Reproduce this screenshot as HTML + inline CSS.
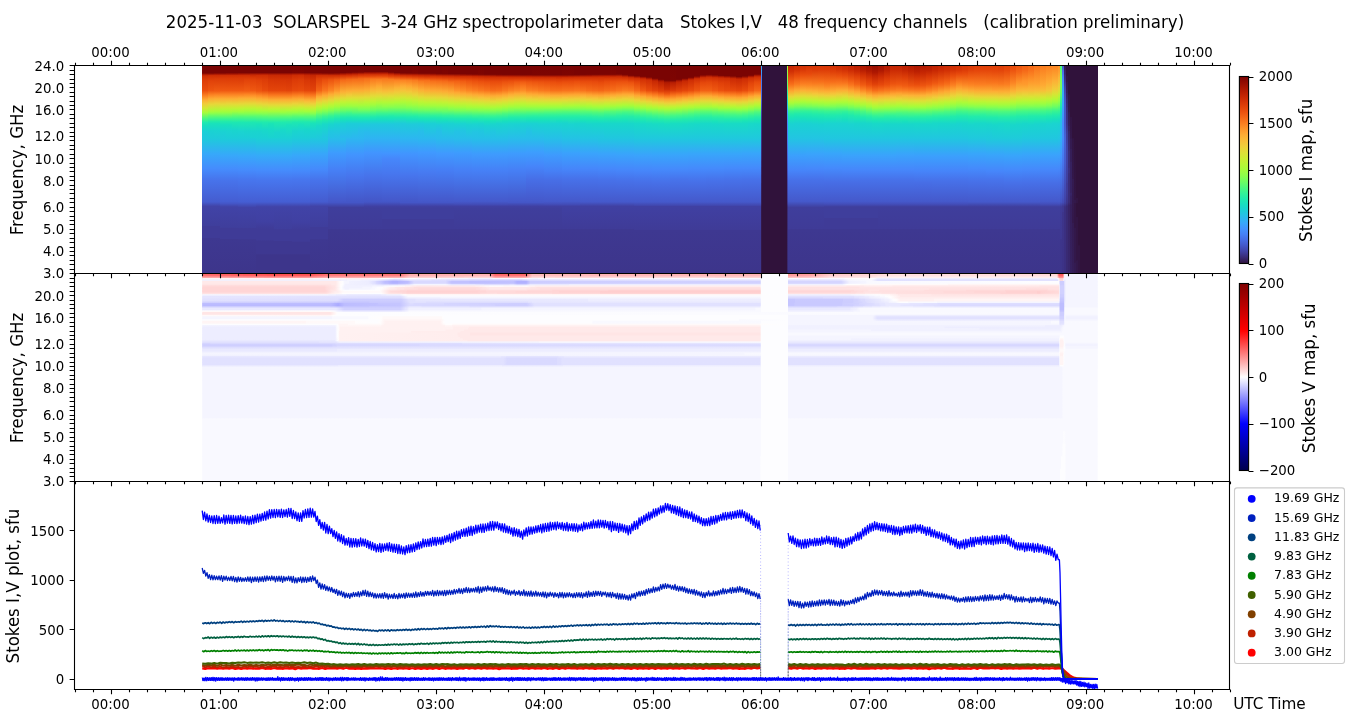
<!DOCTYPE html>
<html><head><meta charset="utf-8"><title>SOLARSPEL spectropolarimeter data</title>
<style>html,body{margin:0;padding:0;background:#fff}svg{display:block}</style></head>
<body>
<svg width="1350" height="725" viewBox="0 0 1350 725" font-family="DejaVu Sans, Liberation Sans, sans-serif" fill="#000">
<rect width="1350" height="725" fill="#fff"/>
<defs><linearGradient id="c0" x1="0" y1="0" x2="0" y2="1"><stop offset=".000" stop-color="#7a0403"/><stop offset=".099" stop-color="#7a0403"/><stop offset=".107" stop-color="#810602"/><stop offset=".130" stop-color="#be2102"/><stop offset=".145" stop-color="#d02f05"/><stop offset=".199" stop-color="#dd3d08"/><stop offset=".344" stop-color="#ea4e0d"/><stop offset=".413" stop-color="#fb7e21"/><stop offset=".474" stop-color="#fdac34"/><stop offset=".527" stop-color="#f1cb3a"/><stop offset=".588" stop-color="#d4e735"/><stop offset=".650" stop-color="#a7fc3a"/><stop offset=".726" stop-color="#4ef97d"/><stop offset=".787" stop-color="#1fe9af"/><stop offset=".833" stop-color="#18dec0"/><stop offset=".909" stop-color="#1bd0d5"/><stop offset="1.000" stop-color="#1fc9dd"/></linearGradient><linearGradient id="c1" x1="0" y1="0" x2="0" y2="1"><stop offset=".000" stop-color="#7a0403"/><stop offset=".099" stop-color="#7a0403"/><stop offset=".107" stop-color="#810602"/><stop offset=".138" stop-color="#ce2d04"/><stop offset=".153" stop-color="#d43305"/><stop offset=".214" stop-color="#e2430a"/><stop offset=".344" stop-color="#ed5510"/><stop offset=".405" stop-color="#fc8423"/><stop offset=".459" stop-color="#fdac34"/><stop offset=".535" stop-color="#e7d739"/><stop offset=".627" stop-color="#affa37"/><stop offset=".657" stop-color="#92ff47"/><stop offset=".695" stop-color="#61fc6c"/><stop offset=".772" stop-color="#22ebaa"/><stop offset=".802" stop-color="#19e2bb"/><stop offset=".902" stop-color="#1ad2d2"/><stop offset="1.000" stop-color="#1ecbda"/></linearGradient><linearGradient id="c2" x1="0" y1="0" x2="0" y2="1"><stop offset=".000" stop-color="#7a0403"/><stop offset=".099" stop-color="#7a0403"/><stop offset=".107" stop-color="#850702"/><stop offset=".122" stop-color="#af1801"/><stop offset=".138" stop-color="#ce2d04"/><stop offset=".183" stop-color="#dd3d08"/><stop offset=".352" stop-color="#f05b12"/><stop offset=".405" stop-color="#fc8725"/><stop offset=".459" stop-color="#fdae35"/><stop offset=".527" stop-color="#e9d539"/><stop offset=".627" stop-color="#acfb38"/><stop offset=".657" stop-color="#8fff49"/><stop offset=".718" stop-color="#4af880"/><stop offset=".772" stop-color="#22ebaa"/><stop offset=".802" stop-color="#19e2bb"/><stop offset=".894" stop-color="#1ad4d0"/><stop offset="1.000" stop-color="#1ecbda"/></linearGradient><linearGradient id="c3" x1="0" y1="0" x2="0" y2="1"><stop offset=".000" stop-color="#7a0403"/><stop offset=".099" stop-color="#7a0403"/><stop offset=".107" stop-color="#850702"/><stop offset=".138" stop-color="#d02f05"/><stop offset=".183" stop-color="#dd3d08"/><stop offset=".344" stop-color="#ef5811"/><stop offset=".405" stop-color="#fc8725"/><stop offset=".459" stop-color="#fdae35"/><stop offset=".535" stop-color="#e5d938"/><stop offset=".596" stop-color="#bef434"/><stop offset=".634" stop-color="#a4fc3c"/><stop offset=".657" stop-color="#8fff49"/><stop offset=".726" stop-color="#43f787"/><stop offset=".772" stop-color="#22ebaa"/><stop offset=".818" stop-color="#18e0bd"/><stop offset=".909" stop-color="#1ad2d2"/><stop offset="1.000" stop-color="#1ecbda"/></linearGradient><linearGradient id="c4" x1="0" y1="0" x2="0" y2="1"><stop offset=".000" stop-color="#7a0403"/><stop offset=".099" stop-color="#7a0403"/><stop offset=".115" stop-color="#9e1001"/><stop offset=".138" stop-color="#d02f05"/><stop offset=".176" stop-color="#dc3b07"/><stop offset=".344" stop-color="#ef5811"/><stop offset=".405" stop-color="#fc8725"/><stop offset=".459" stop-color="#fdae35"/><stop offset=".527" stop-color="#e7d739"/><stop offset=".588" stop-color="#c3f134"/><stop offset=".627" stop-color="#a9fb39"/><stop offset=".650" stop-color="#96fe44"/><stop offset=".726" stop-color="#43f787"/><stop offset=".772" stop-color="#22ebaa"/><stop offset=".818" stop-color="#18e0bd"/><stop offset=".902" stop-color="#1ad4d0"/><stop offset="1.000" stop-color="#1ccdd8"/></linearGradient><linearGradient id="c5" x1="0" y1="0" x2="0" y2="1"><stop offset=".000" stop-color="#7a0403"/><stop offset=".099" stop-color="#7a0403"/><stop offset=".115" stop-color="#9e1001"/><stop offset=".138" stop-color="#d02f05"/><stop offset=".176" stop-color="#dc3b07"/><stop offset=".344" stop-color="#ef5811"/><stop offset=".405" stop-color="#fc8725"/><stop offset=".459" stop-color="#fdae35"/><stop offset=".535" stop-color="#e3db38"/><stop offset=".588" stop-color="#c3f134"/><stop offset=".634" stop-color="#a1fd3d"/><stop offset=".695" stop-color="#5dfc6f"/><stop offset=".734" stop-color="#3cf58e"/><stop offset=".787" stop-color="#1de7b2"/><stop offset=".894" stop-color="#19d5cd"/><stop offset="1.000" stop-color="#1ccdd8"/></linearGradient><linearGradient id="c6" x1="0" y1="0" x2="0" y2="1"><stop offset=".000" stop-color="#7a0403"/><stop offset=".099" stop-color="#7a0403"/><stop offset=".122" stop-color="#b41b01"/><stop offset=".138" stop-color="#d02f05"/><stop offset=".168" stop-color="#da3907"/><stop offset=".344" stop-color="#ef5811"/><stop offset=".397" stop-color="#fb8122"/><stop offset=".451" stop-color="#fdac34"/><stop offset=".527" stop-color="#e7d739"/><stop offset=".588" stop-color="#c1f334"/><stop offset=".627" stop-color="#a7fc3a"/><stop offset=".650" stop-color="#92ff47"/><stop offset=".703" stop-color="#55fa76"/><stop offset=".764" stop-color="#27eea4"/><stop offset=".787" stop-color="#1de7b2"/><stop offset=".909" stop-color="#1ad4d0"/><stop offset="1.000" stop-color="#1ccdd8"/></linearGradient><linearGradient id="c7" x1="0" y1="0" x2="0" y2="1"><stop offset=".000" stop-color="#7a0403"/><stop offset=".099" stop-color="#7a0403"/><stop offset=".130" stop-color="#c52603"/><stop offset=".138" stop-color="#d02f05"/><stop offset=".160" stop-color="#d83706"/><stop offset=".199" stop-color="#e2430a"/><stop offset=".352" stop-color="#f15d13"/><stop offset=".397" stop-color="#fc8423"/><stop offset=".451" stop-color="#fdac34"/><stop offset=".527" stop-color="#e5d938"/><stop offset=".588" stop-color="#bef434"/><stop offset=".627" stop-color="#a4fc3c"/><stop offset=".665" stop-color="#80ff53"/><stop offset=".711" stop-color="#4ef97d"/><stop offset=".787" stop-color="#1de7b2"/><stop offset=".902" stop-color="#19d5cd"/><stop offset="1.000" stop-color="#1ccdd8"/></linearGradient><linearGradient id="c8" x1="0" y1="0" x2="0" y2="1"><stop offset=".000" stop-color="#7a0403"/><stop offset=".099" stop-color="#7a0403"/><stop offset=".130" stop-color="#c82803"/><stop offset=".160" stop-color="#d83706"/><stop offset=".199" stop-color="#e2430a"/><stop offset=".344" stop-color="#ef5811"/><stop offset=".413" stop-color="#fe9029"/><stop offset=".451" stop-color="#fdac34"/><stop offset=".527" stop-color="#e5d938"/><stop offset=".588" stop-color="#bef434"/><stop offset=".627" stop-color="#a4fc3c"/><stop offset=".665" stop-color="#80ff53"/><stop offset=".703" stop-color="#55fa76"/><stop offset=".764" stop-color="#27eea4"/><stop offset=".787" stop-color="#1de7b2"/><stop offset=".909" stop-color="#19d5cd"/><stop offset="1.000" stop-color="#1bd0d5"/></linearGradient><linearGradient id="c9" x1="0" y1="0" x2="0" y2="1"><stop offset=".000" stop-color="#7a0403"/><stop offset=".099" stop-color="#7a0403"/><stop offset=".122" stop-color="#b71d02"/><stop offset=".138" stop-color="#d02f05"/><stop offset=".206" stop-color="#e14109"/><stop offset=".352" stop-color="#ed5510"/><stop offset=".413" stop-color="#fd8a26"/><stop offset=".459" stop-color="#fdac34"/><stop offset=".520" stop-color="#ecd13a"/><stop offset=".581" stop-color="#c6f034"/><stop offset=".627" stop-color="#a7fc3a"/><stop offset=".657" stop-color="#8bff4b"/><stop offset=".695" stop-color="#5dfc6f"/><stop offset=".779" stop-color="#20eaac"/><stop offset=".810" stop-color="#19e3b9"/><stop offset=".909" stop-color="#19d5cd"/><stop offset="1.000" stop-color="#1bd0d5"/></linearGradient><linearGradient id="c10" x1="0" y1="0" x2="0" y2="1"><stop offset=".000" stop-color="#7a0403"/><stop offset=".099" stop-color="#7a0403"/><stop offset=".115" stop-color="#a71401"/><stop offset=".130" stop-color="#c82803"/><stop offset=".138" stop-color="#d02f05"/><stop offset=".199" stop-color="#dd3d08"/><stop offset=".344" stop-color="#e84b0c"/><stop offset=".420" stop-color="#fd8a26"/><stop offset=".466" stop-color="#fdae35"/><stop offset=".535" stop-color="#e7d739"/><stop offset=".619" stop-color="#affa37"/><stop offset=".665" stop-color="#84ff51"/><stop offset=".703" stop-color="#59fb73"/><stop offset=".764" stop-color="#2aefa1"/><stop offset=".787" stop-color="#1fe9af"/><stop offset=".886" stop-color="#18d9c8"/><stop offset="1.000" stop-color="#1bd0d5"/></linearGradient><linearGradient id="c11" x1="0" y1="0" x2="0" y2="1"><stop offset=".000" stop-color="#7a0403"/><stop offset=".099" stop-color="#7a0403"/><stop offset=".130" stop-color="#c32503"/><stop offset=".138" stop-color="#ca2a04"/><stop offset=".199" stop-color="#d83706"/><stop offset=".344" stop-color="#e4450a"/><stop offset=".405" stop-color="#f9751d"/><stop offset=".474" stop-color="#fdae35"/><stop offset=".543" stop-color="#e5d938"/><stop offset=".596" stop-color="#c1f334"/><stop offset=".634" stop-color="#a4fc3c"/><stop offset=".718" stop-color="#4ef97d"/><stop offset=".779" stop-color="#22ebaa"/><stop offset=".802" stop-color="#1ae4b6"/><stop offset=".879" stop-color="#18dbc5"/><stop offset="1.000" stop-color="#1ad2d2"/></linearGradient><linearGradient id="c12" x1="0" y1="0" x2="0" y2="1"><stop offset=".000" stop-color="#7a0403"/><stop offset=".099" stop-color="#7a0403"/><stop offset=".130" stop-color="#c32503"/><stop offset=".138" stop-color="#ca2a04"/><stop offset=".191" stop-color="#d63506"/><stop offset=".344" stop-color="#e4450a"/><stop offset=".405" stop-color="#f9751d"/><stop offset=".474" stop-color="#fdae35"/><stop offset=".543" stop-color="#e5d938"/><stop offset=".596" stop-color="#c1f334"/><stop offset=".634" stop-color="#a4fc3c"/><stop offset=".726" stop-color="#46f884"/><stop offset=".787" stop-color="#1fe9af"/><stop offset=".925" stop-color="#19d5cd"/><stop offset="1.000" stop-color="#1ad2d2"/></linearGradient><linearGradient id="c13" x1="0" y1="0" x2="0" y2="1"><stop offset=".000" stop-color="#7a0403"/><stop offset=".099" stop-color="#7a0403"/><stop offset=".122" stop-color="#b21a01"/><stop offset=".138" stop-color="#c82803"/><stop offset=".206" stop-color="#d83706"/><stop offset=".344" stop-color="#e4450a"/><stop offset=".413" stop-color="#fa7b1f"/><stop offset=".474" stop-color="#fdae35"/><stop offset=".543" stop-color="#e5d938"/><stop offset=".627" stop-color="#a9fb39"/><stop offset=".650" stop-color="#96fe44"/><stop offset=".703" stop-color="#59fb73"/><stop offset=".764" stop-color="#2aefa1"/><stop offset=".787" stop-color="#1fe9af"/><stop offset=".886" stop-color="#18d9c8"/><stop offset="1.000" stop-color="#1bd0d5"/></linearGradient><linearGradient id="c14" x1="0" y1="0" x2="0" y2="1"><stop offset=".000" stop-color="#7a0403"/><stop offset=".099" stop-color="#7a0403"/><stop offset=".122" stop-color="#b21a01"/><stop offset=".138" stop-color="#c82803"/><stop offset=".199" stop-color="#d63506"/><stop offset=".344" stop-color="#e2430a"/><stop offset=".413" stop-color="#fa7b1f"/><stop offset=".474" stop-color="#fdae35"/><stop offset=".543" stop-color="#e5d938"/><stop offset=".619" stop-color="#affa37"/><stop offset=".665" stop-color="#84ff51"/><stop offset=".711" stop-color="#52fa7a"/><stop offset=".772" stop-color="#25eca7"/><stop offset=".818" stop-color="#19e2bb"/><stop offset="1.000" stop-color="#1bd0d5"/></linearGradient><linearGradient id="c15" x1="0" y1="0" x2="0" y2="1"><stop offset=".000" stop-color="#7a0403"/><stop offset=".099" stop-color="#7e0502"/><stop offset=".130" stop-color="#c82803"/><stop offset=".138" stop-color="#ce2d04"/><stop offset=".199" stop-color="#dc3b07"/><stop offset=".344" stop-color="#e7490c"/><stop offset=".405" stop-color="#fa7b1f"/><stop offset=".459" stop-color="#fea732"/><stop offset=".527" stop-color="#ebd339"/><stop offset=".588" stop-color="#c3f134"/><stop offset=".627" stop-color="#a7fc3a"/><stop offset=".650" stop-color="#92ff47"/><stop offset=".703" stop-color="#55fa76"/><stop offset=".764" stop-color="#27eea4"/><stop offset=".787" stop-color="#1de7b2"/><stop offset=".902" stop-color="#19d5cd"/><stop offset="1.000" stop-color="#1ccdd8"/></linearGradient><linearGradient id="c16" x1="0" y1="0" x2="0" y2="1"><stop offset=".000" stop-color="#7a0403"/><stop offset=".099" stop-color="#7e0502"/><stop offset=".122" stop-color="#b91e02"/><stop offset=".130" stop-color="#ca2a04"/><stop offset=".138" stop-color="#d02f05"/><stop offset=".199" stop-color="#dd3d08"/><stop offset=".344" stop-color="#e84b0c"/><stop offset=".413" stop-color="#fc8423"/><stop offset=".466" stop-color="#fdae35"/><stop offset=".543" stop-color="#e1dd37"/><stop offset=".588" stop-color="#c1f334"/><stop offset=".627" stop-color="#a4fc3c"/><stop offset=".665" stop-color="#80ff53"/><stop offset=".718" stop-color="#46f884"/><stop offset=".772" stop-color="#22ebaa"/><stop offset=".810" stop-color="#19e2bb"/><stop offset=".909" stop-color="#1ad4d0"/><stop offset="1.000" stop-color="#1ccdd8"/></linearGradient><linearGradient id="c17" x1="0" y1="0" x2="0" y2="1"><stop offset=".000" stop-color="#7a0403"/><stop offset=".099" stop-color="#7a0403"/><stop offset=".122" stop-color="#b21a01"/><stop offset=".138" stop-color="#c82803"/><stop offset=".206" stop-color="#d83706"/><stop offset=".344" stop-color="#e4450a"/><stop offset=".405" stop-color="#f9751d"/><stop offset=".474" stop-color="#fdae35"/><stop offset=".504" stop-color="#f6c33a"/><stop offset=".558" stop-color="#dbe236"/><stop offset=".604" stop-color="#b9f635"/><stop offset=".634" stop-color="#a1fd3d"/><stop offset=".703" stop-color="#55fa76"/><stop offset=".779" stop-color="#1fe9af"/><stop offset=".879" stop-color="#18d7ca"/><stop offset="1.000" stop-color="#1ccdd8"/></linearGradient><linearGradient id="c18" x1="0" y1="0" x2="0" y2="1"><stop offset=".000" stop-color="#7a0403"/><stop offset=".099" stop-color="#7a0403"/><stop offset=".130" stop-color="#bc2002"/><stop offset=".138" stop-color="#c52603"/><stop offset=".199" stop-color="#d43305"/><stop offset=".344" stop-color="#e2430a"/><stop offset=".405" stop-color="#f8721c"/><stop offset=".474" stop-color="#fdac34"/><stop offset=".527" stop-color="#eecf3a"/><stop offset=".581" stop-color="#cbed34"/><stop offset=".627" stop-color="#a9fb39"/><stop offset=".665" stop-color="#84ff51"/><stop offset=".695" stop-color="#5dfc6f"/><stop offset=".734" stop-color="#3cf58e"/><stop offset=".779" stop-color="#1fe9af"/><stop offset=".802" stop-color="#19e2bb"/><stop offset=".909" stop-color="#1ad2d2"/><stop offset="1.000" stop-color="#1ecbda"/></linearGradient><linearGradient id="c19" x1="0" y1="0" x2="0" y2="1"><stop offset=".000" stop-color="#7a0403"/><stop offset=".099" stop-color="#7a0403"/><stop offset=".115" stop-color="#9e1001"/><stop offset=".138" stop-color="#d02f05"/><stop offset=".183" stop-color="#e14109"/><stop offset=".344" stop-color="#f36315"/><stop offset=".428" stop-color="#fea933"/><stop offset=".459" stop-color="#f9bc39"/><stop offset=".512" stop-color="#e3db38"/><stop offset=".565" stop-color="#c1f334"/><stop offset=".604" stop-color="#a4fc3c"/><stop offset=".650" stop-color="#79fe59"/><stop offset=".688" stop-color="#4ef97d"/><stop offset=".764" stop-color="#1fe9af"/><stop offset=".833" stop-color="#18d9c8"/><stop offset="1.000" stop-color="#1fc9dd"/></linearGradient><linearGradient id="c20" x1="0" y1="0" x2="0" y2="1"><stop offset=".000" stop-color="#7a0403"/><stop offset=".099" stop-color="#7a0403"/><stop offset=".107" stop-color="#850702"/><stop offset=".138" stop-color="#d02f05"/><stop offset=".199" stop-color="#ea4e0d"/><stop offset=".344" stop-color="#f9751d"/><stop offset=".413" stop-color="#fea933"/><stop offset=".489" stop-color="#e7d739"/><stop offset=".550" stop-color="#c1f334"/><stop offset=".588" stop-color="#a7fc3a"/><stop offset=".634" stop-color="#7dff56"/><stop offset=".703" stop-color="#38f491"/><stop offset=".749" stop-color="#20eaac"/><stop offset=".810" stop-color="#18d9c8"/><stop offset="1.000" stop-color="#22c5e2"/></linearGradient><linearGradient id="c21" x1="0" y1="0" x2="0" y2="1"><stop offset=".000" stop-color="#7a0403"/><stop offset=".099" stop-color="#7a0403"/><stop offset=".107" stop-color="#810602"/><stop offset=".138" stop-color="#ce2d04"/><stop offset=".199" stop-color="#ed5510"/><stop offset=".344" stop-color="#fc8423"/><stop offset=".397" stop-color="#fdac34"/><stop offset=".474" stop-color="#e7d739"/><stop offset=".535" stop-color="#c1f334"/><stop offset=".573" stop-color="#a7fc3a"/><stop offset=".619" stop-color="#80ff53"/><stop offset=".695" stop-color="#35f394"/><stop offset=".741" stop-color="#1fe9af"/><stop offset=".810" stop-color="#19d5cd"/><stop offset=".909" stop-color="#20c7df"/><stop offset="1.000" stop-color="#25c0e7"/></linearGradient><linearGradient id="c22" x1="0" y1="0" x2="0" y2="1"><stop offset=".000" stop-color="#7a0403"/><stop offset=".099" stop-color="#7a0403"/><stop offset=".115" stop-color="#980e01"/><stop offset=".138" stop-color="#ce2d04"/><stop offset=".199" stop-color="#f15d13"/><stop offset=".352" stop-color="#fe992c"/><stop offset=".374" stop-color="#fea933"/><stop offset=".451" stop-color="#e9d539"/><stop offset=".520" stop-color="#c1f334"/><stop offset=".565" stop-color="#a4fc3c"/><stop offset=".611" stop-color="#7dff56"/><stop offset=".688" stop-color="#32f298"/><stop offset=".734" stop-color="#1de7b2"/><stop offset=".810" stop-color="#1ad2d2"/><stop offset="1.000" stop-color="#27bee9"/></linearGradient><linearGradient id="c23" x1="0" y1="0" x2="0" y2="1"><stop offset=".000" stop-color="#7a0403"/><stop offset=".099" stop-color="#7a0403"/><stop offset=".122" stop-color="#b41b01"/><stop offset=".138" stop-color="#d23105"/><stop offset=".199" stop-color="#f56918"/><stop offset=".367" stop-color="#fcb136"/><stop offset=".451" stop-color="#e1dd37"/><stop offset=".504" stop-color="#c1f334"/><stop offset=".550" stop-color="#a4fc3c"/><stop offset=".619" stop-color="#69fd66"/><stop offset=".665" stop-color="#3cf58e"/><stop offset=".711" stop-color="#20eaac"/><stop offset=".749" stop-color="#18e0bd"/><stop offset=".802" stop-color="#1bd0d5"/><stop offset="1.000" stop-color="#2ab9ee"/></linearGradient><linearGradient id="c24" x1="0" y1="0" x2="0" y2="1"><stop offset=".000" stop-color="#7a0403"/><stop offset=".092" stop-color="#7a0403"/><stop offset=".099" stop-color="#810602"/><stop offset=".115" stop-color="#ac1701"/><stop offset=".130" stop-color="#cc2b04"/><stop offset=".153" stop-color="#e14109"/><stop offset=".191" stop-color="#f56918"/><stop offset=".352" stop-color="#fdae35"/><stop offset=".405" stop-color="#f1cb3a"/><stop offset=".459" stop-color="#d9e436"/><stop offset=".512" stop-color="#b9f635"/><stop offset=".558" stop-color="#9cfe40"/><stop offset=".611" stop-color="#6dfe62"/><stop offset=".657" stop-color="#3ff68a"/><stop offset=".718" stop-color="#1de7b2"/><stop offset=".757" stop-color="#18ddc2"/><stop offset=".802" stop-color="#1ccdd8"/><stop offset="1.000" stop-color="#2ab9ee"/></linearGradient><linearGradient id="c25" x1="0" y1="0" x2="0" y2="1"><stop offset=".000" stop-color="#7a0403"/><stop offset=".092" stop-color="#7a0403"/><stop offset=".115" stop-color="#b41b01"/><stop offset=".130" stop-color="#d02f05"/><stop offset=".191" stop-color="#f66c19"/><stop offset=".344" stop-color="#fdac34"/><stop offset=".443" stop-color="#e1dd37"/><stop offset=".504" stop-color="#bef434"/><stop offset=".558" stop-color="#9ffd3f"/><stop offset=".642" stop-color="#55fa76"/><stop offset=".680" stop-color="#32f298"/><stop offset=".711" stop-color="#20eaac"/><stop offset=".757" stop-color="#18dec0"/><stop offset=".802" stop-color="#1ccdd8"/><stop offset="1.000" stop-color="#2cb7f0"/></linearGradient><linearGradient id="c26" x1="0" y1="0" x2="0" y2="1"><stop offset=".000" stop-color="#7a0403"/><stop offset=".092" stop-color="#7e0502"/><stop offset=".122" stop-color="#cc2b04"/><stop offset=".145" stop-color="#e14109"/><stop offset=".183" stop-color="#f56918"/><stop offset=".344" stop-color="#fdac34"/><stop offset=".443" stop-color="#e1dd37"/><stop offset=".543" stop-color="#a9fb39"/><stop offset=".604" stop-color="#7dff56"/><stop offset=".680" stop-color="#32f298"/><stop offset=".718" stop-color="#1fe9af"/><stop offset=".757" stop-color="#18dec0"/><stop offset=".802" stop-color="#1ccdd8"/><stop offset=".902" stop-color="#27bee9"/><stop offset="1.000" stop-color="#2cb7f0"/></linearGradient><linearGradient id="c27" x1="0" y1="0" x2="0" y2="1"><stop offset=".000" stop-color="#7a0403"/><stop offset=".084" stop-color="#7a0403"/><stop offset=".099" stop-color="#9e1001"/><stop offset=".122" stop-color="#d02f05"/><stop offset=".153" stop-color="#e7490c"/><stop offset=".183" stop-color="#f76f1a"/><stop offset=".336" stop-color="#fdac34"/><stop offset=".436" stop-color="#e3db38"/><stop offset=".504" stop-color="#bef434"/><stop offset=".550" stop-color="#a4fc3c"/><stop offset=".604" stop-color="#7dff56"/><stop offset=".680" stop-color="#32f298"/><stop offset=".718" stop-color="#1fe9af"/><stop offset=".764" stop-color="#18dbc5"/><stop offset=".810" stop-color="#1ecbda"/><stop offset=".909" stop-color="#28bceb"/><stop offset="1.000" stop-color="#2eb4f2"/></linearGradient><linearGradient id="c28" x1="0" y1="0" x2="0" y2="1"><stop offset=".000" stop-color="#7a0403"/><stop offset=".084" stop-color="#7a0403"/><stop offset=".099" stop-color="#9e1001"/><stop offset=".122" stop-color="#d02f05"/><stop offset=".160" stop-color="#ed5510"/><stop offset=".176" stop-color="#f66c19"/><stop offset=".191" stop-color="#fa7b1f"/><stop offset=".329" stop-color="#fcb336"/><stop offset=".420" stop-color="#e3db38"/><stop offset=".489" stop-color="#c1f334"/><stop offset=".543" stop-color="#a1fd3d"/><stop offset=".611" stop-color="#6dfe62"/><stop offset=".650" stop-color="#46f884"/><stop offset=".711" stop-color="#1fe9af"/><stop offset=".757" stop-color="#18dbc5"/><stop offset=".810" stop-color="#1fc9dd"/><stop offset="1.000" stop-color="#2eb4f2"/></linearGradient><linearGradient id="c29" x1="0" y1="0" x2="0" y2="1"><stop offset=".000" stop-color="#7a0403"/><stop offset=".084" stop-color="#7a0403"/><stop offset=".107" stop-color="#b41b01"/><stop offset=".122" stop-color="#d02f05"/><stop offset=".160" stop-color="#ef5811"/><stop offset=".191" stop-color="#fb7e21"/><stop offset=".283" stop-color="#fea732"/><stop offset=".359" stop-color="#f6c33a"/><stop offset=".428" stop-color="#dde037"/><stop offset=".520" stop-color="#a9fb39"/><stop offset=".596" stop-color="#75fe5c"/><stop offset=".657" stop-color="#3cf58e"/><stop offset=".711" stop-color="#1de7b2"/><stop offset=".757" stop-color="#18dbc5"/><stop offset=".810" stop-color="#1fc9dd"/><stop offset="1.000" stop-color="#2eb4f2"/></linearGradient><linearGradient id="c30" x1="0" y1="0" x2="0" y2="1"><stop offset=".000" stop-color="#7a0403"/><stop offset=".084" stop-color="#7a0403"/><stop offset=".107" stop-color="#b41b01"/><stop offset=".122" stop-color="#d23105"/><stop offset=".153" stop-color="#ea4e0d"/><stop offset=".183" stop-color="#f9781e"/><stop offset=".352" stop-color="#f9bc39"/><stop offset=".405" stop-color="#e9d539"/><stop offset=".504" stop-color="#b4f836"/><stop offset=".565" stop-color="#8fff49"/><stop offset=".619" stop-color="#61fc6c"/><stop offset=".657" stop-color="#3cf58e"/><stop offset=".711" stop-color="#1de7b2"/><stop offset=".757" stop-color="#18dbc5"/><stop offset=".810" stop-color="#1fc9dd"/><stop offset="1.000" stop-color="#2eb4f2"/></linearGradient><linearGradient id="c31" x1="0" y1="0" x2="0" y2="1"><stop offset=".000" stop-color="#7a0403"/><stop offset=".092" stop-color="#7a0403"/><stop offset=".115" stop-color="#b71d02"/><stop offset=".130" stop-color="#d23105"/><stop offset=".153" stop-color="#e5470b"/><stop offset=".191" stop-color="#fa7b1f"/><stop offset=".352" stop-color="#f8be39"/><stop offset=".420" stop-color="#e1dd37"/><stop offset=".512" stop-color="#affa37"/><stop offset=".573" stop-color="#88ff4e"/><stop offset=".657" stop-color="#3cf58e"/><stop offset=".695" stop-color="#22ebaa"/><stop offset=".718" stop-color="#1ce6b4"/><stop offset=".764" stop-color="#18d9c8"/><stop offset=".810" stop-color="#1fc9dd"/><stop offset="1.000" stop-color="#2eb4f2"/></linearGradient><linearGradient id="c32" x1="0" y1="0" x2="0" y2="1"><stop offset=".000" stop-color="#7a0403"/><stop offset=".099" stop-color="#7a0403"/><stop offset=".122" stop-color="#b91e02"/><stop offset=".138" stop-color="#d43305"/><stop offset=".183" stop-color="#f56918"/><stop offset=".199" stop-color="#fb7e21"/><stop offset=".214" stop-color="#fc8725"/><stop offset=".306" stop-color="#fcb136"/><stop offset=".367" stop-color="#f2c93a"/><stop offset=".451" stop-color="#d0ea34"/><stop offset=".512" stop-color="#acfb38"/><stop offset=".581" stop-color="#80ff53"/><stop offset=".665" stop-color="#35f394"/><stop offset=".718" stop-color="#1ce6b4"/><stop offset=".802" stop-color="#1ecbda"/><stop offset="1.000" stop-color="#2eb4f2"/></linearGradient><linearGradient id="c33" x1="0" y1="0" x2="0" y2="1"><stop offset=".000" stop-color="#7a0403"/><stop offset=".099" stop-color="#7a0403"/><stop offset=".107" stop-color="#850702"/><stop offset=".138" stop-color="#d02f05"/><stop offset=".176" stop-color="#f05b12"/><stop offset=".206" stop-color="#fc8423"/><stop offset=".283" stop-color="#fdac34"/><stop offset=".344" stop-color="#f6c33a"/><stop offset=".436" stop-color="#d4e735"/><stop offset=".504" stop-color="#affa37"/><stop offset=".581" stop-color="#80ff53"/><stop offset=".680" stop-color="#2cf09e"/><stop offset=".718" stop-color="#1ce6b4"/><stop offset=".802" stop-color="#1ecbda"/><stop offset="1.000" stop-color="#2cb7f0"/></linearGradient><linearGradient id="c34" x1="0" y1="0" x2="0" y2="1"><stop offset=".000" stop-color="#7a0403"/><stop offset=".099" stop-color="#7a0403"/><stop offset=".107" stop-color="#810602"/><stop offset=".138" stop-color="#ce2d04"/><stop offset=".168" stop-color="#ea4e0d"/><stop offset=".206" stop-color="#fb8122"/><stop offset=".283" stop-color="#fea732"/><stop offset=".359" stop-color="#f4c73a"/><stop offset=".451" stop-color="#d0ea34"/><stop offset=".504" stop-color="#b1f936"/><stop offset=".550" stop-color="#99fe42"/><stop offset=".588" stop-color="#7dff56"/><stop offset=".665" stop-color="#38f491"/><stop offset=".711" stop-color="#1fe9af"/><stop offset=".757" stop-color="#18ddc2"/><stop offset=".810" stop-color="#1ecbda"/><stop offset="1.000" stop-color="#2cb7f0"/></linearGradient><linearGradient id="c35" x1="0" y1="0" x2="0" y2="1"><stop offset=".000" stop-color="#7a0403"/><stop offset=".107" stop-color="#7e0502"/><stop offset=".122" stop-color="#a91601"/><stop offset=".138" stop-color="#ca2a04"/><stop offset=".176" stop-color="#ec530f"/><stop offset=".206" stop-color="#fa7b1f"/><stop offset=".321" stop-color="#fcb136"/><stop offset=".405" stop-color="#e9d539"/><stop offset=".481" stop-color="#c3f134"/><stop offset=".543" stop-color="#a1fd3d"/><stop offset=".604" stop-color="#75fe5c"/><stop offset=".672" stop-color="#35f394"/><stop offset=".703" stop-color="#22ebaa"/><stop offset=".757" stop-color="#18ddc2"/><stop offset=".810" stop-color="#1ecbda"/><stop offset="1.000" stop-color="#2cb7f0"/></linearGradient><linearGradient id="c36" x1="0" y1="0" x2="0" y2="1"><stop offset=".000" stop-color="#7a0403"/><stop offset=".107" stop-color="#7a0403"/><stop offset=".138" stop-color="#c82803"/><stop offset=".176" stop-color="#ea4e0d"/><stop offset=".214" stop-color="#f9781e"/><stop offset=".336" stop-color="#fdae35"/><stop offset=".436" stop-color="#e1dd37"/><stop offset=".497" stop-color="#c1f334"/><stop offset=".543" stop-color="#a7fc3a"/><stop offset=".604" stop-color="#79fe59"/><stop offset=".680" stop-color="#32f298"/><stop offset=".718" stop-color="#1fe9af"/><stop offset=".757" stop-color="#18dec0"/><stop offset=".802" stop-color="#1ccdd8"/><stop offset=".909" stop-color="#27bee9"/><stop offset="1.000" stop-color="#2ab9ee"/></linearGradient><linearGradient id="c37" x1="0" y1="0" x2="0" y2="1"><stop offset=".000" stop-color="#7a0403"/><stop offset=".107" stop-color="#7a0403"/><stop offset=".138" stop-color="#c52603"/><stop offset=".176" stop-color="#e84b0c"/><stop offset=".206" stop-color="#f76f1a"/><stop offset=".344" stop-color="#fdac34"/><stop offset=".443" stop-color="#e1dd37"/><stop offset=".512" stop-color="#bcf534"/><stop offset=".550" stop-color="#a4fc3c"/><stop offset=".611" stop-color="#75fe5c"/><stop offset=".680" stop-color="#32f298"/><stop offset=".726" stop-color="#1de7b2"/><stop offset=".764" stop-color="#18ddc2"/><stop offset=".810" stop-color="#1ccdd8"/><stop offset="1.000" stop-color="#2ab9ee"/></linearGradient><linearGradient id="c38" x1="0" y1="0" x2="0" y2="1"><stop offset=".000" stop-color="#7a0403"/><stop offset=".107" stop-color="#7a0403"/><stop offset=".122" stop-color="#9e1001"/><stop offset=".145" stop-color="#d02f05"/><stop offset=".176" stop-color="#e7490c"/><stop offset=".214" stop-color="#f76f1a"/><stop offset=".344" stop-color="#fea933"/><stop offset=".443" stop-color="#e3db38"/><stop offset=".504" stop-color="#c1f334"/><stop offset=".558" stop-color="#a1fd3d"/><stop offset=".634" stop-color="#61fc6c"/><stop offset=".688" stop-color="#2ff19b"/><stop offset=".726" stop-color="#1de7b2"/><stop offset=".802" stop-color="#1bd0d5"/><stop offset="1.000" stop-color="#2ab9ee"/></linearGradient><linearGradient id="c39" x1="0" y1="0" x2="0" y2="1"><stop offset=".000" stop-color="#7a0403"/><stop offset=".107" stop-color="#7a0403"/><stop offset=".115" stop-color="#810602"/><stop offset=".145" stop-color="#ce2d04"/><stop offset=".183" stop-color="#ea4e0d"/><stop offset=".214" stop-color="#f66c19"/><stop offset=".352" stop-color="#fdac34"/><stop offset=".443" stop-color="#e5d938"/><stop offset=".504" stop-color="#c3f134"/><stop offset=".550" stop-color="#a7fc3a"/><stop offset=".611" stop-color="#79fe59"/><stop offset=".680" stop-color="#35f394"/><stop offset=".718" stop-color="#20eaac"/><stop offset=".764" stop-color="#18dec0"/><stop offset=".818" stop-color="#1ccdd8"/><stop offset=".909" stop-color="#25c0e7"/><stop offset="1.000" stop-color="#28bceb"/></linearGradient><linearGradient id="c40" x1="0" y1="0" x2="0" y2="1"><stop offset=".000" stop-color="#7a0403"/><stop offset=".115" stop-color="#7e0502"/><stop offset=".145" stop-color="#cc2b04"/><stop offset=".191" stop-color="#ec530f"/><stop offset=".214" stop-color="#f56918"/><stop offset=".359" stop-color="#fdac34"/><stop offset=".443" stop-color="#e7d739"/><stop offset=".512" stop-color="#c1f334"/><stop offset=".558" stop-color="#a4fc3c"/><stop offset=".634" stop-color="#65fd69"/><stop offset=".688" stop-color="#32f298"/><stop offset=".726" stop-color="#1fe9af"/><stop offset=".764" stop-color="#18dec0"/><stop offset=".810" stop-color="#1bd0d5"/><stop offset="1.000" stop-color="#28bceb"/></linearGradient><linearGradient id="c41" x1="0" y1="0" x2="0" y2="1"><stop offset=".000" stop-color="#7a0403"/><stop offset=".115" stop-color="#7a0403"/><stop offset=".145" stop-color="#ca2a04"/><stop offset=".176" stop-color="#e2430a"/><stop offset=".229" stop-color="#f66c19"/><stop offset=".374" stop-color="#fdae35"/><stop offset=".451" stop-color="#e7d739"/><stop offset=".520" stop-color="#c1f334"/><stop offset=".558" stop-color="#a7fc3a"/><stop offset=".604" stop-color="#84ff51"/><stop offset=".688" stop-color="#32f298"/><stop offset=".734" stop-color="#1de7b2"/><stop offset=".802" stop-color="#1ad2d2"/><stop offset="1.000" stop-color="#28bceb"/></linearGradient><linearGradient id="c42" x1="0" y1="0" x2="0" y2="1"><stop offset=".000" stop-color="#7a0403"/><stop offset=".115" stop-color="#7a0403"/><stop offset=".145" stop-color="#c52603"/><stop offset=".160" stop-color="#d63506"/><stop offset=".191" stop-color="#e84b0c"/><stop offset=".214" stop-color="#f26014"/><stop offset=".344" stop-color="#fe932a"/><stop offset=".374" stop-color="#fea933"/><stop offset=".451" stop-color="#ebd339"/><stop offset=".520" stop-color="#c3f134"/><stop offset=".573" stop-color="#a1fd3d"/><stop offset=".619" stop-color="#79fe59"/><stop offset=".688" stop-color="#35f394"/><stop offset=".726" stop-color="#20eaac"/><stop offset=".757" stop-color="#19e2bb"/><stop offset=".810" stop-color="#1ad2d2"/><stop offset=".909" stop-color="#23c3e4"/><stop offset="1.000" stop-color="#27bee9"/></linearGradient><linearGradient id="c43" x1="0" y1="0" x2="0" y2="1"><stop offset=".000" stop-color="#7a0403"/><stop offset=".115" stop-color="#7a0403"/><stop offset=".130" stop-color="#9e1001"/><stop offset=".153" stop-color="#d02f05"/><stop offset=".199" stop-color="#ea4e0d"/><stop offset=".214" stop-color="#f05b12"/><stop offset=".344" stop-color="#fd8d27"/><stop offset=".390" stop-color="#fdac34"/><stop offset=".466" stop-color="#e7d739"/><stop offset=".527" stop-color="#c3f134"/><stop offset=".573" stop-color="#a4fc3c"/><stop offset=".619" stop-color="#7dff56"/><stop offset=".688" stop-color="#38f491"/><stop offset=".734" stop-color="#1fe9af"/><stop offset=".802" stop-color="#1ad4d0"/><stop offset=".902" stop-color="#22c5e2"/><stop offset="1.000" stop-color="#27bee9"/></linearGradient><linearGradient id="c44" x1="0" y1="0" x2="0" y2="1"><stop offset=".000" stop-color="#7a0403"/><stop offset=".115" stop-color="#7a0403"/><stop offset=".122" stop-color="#850702"/><stop offset=".153" stop-color="#d02f05"/><stop offset=".183" stop-color="#e14109"/><stop offset=".214" stop-color="#ed5510"/><stop offset=".344" stop-color="#fc8423"/><stop offset=".397" stop-color="#fdac34"/><stop offset=".474" stop-color="#e5d938"/><stop offset=".535" stop-color="#c1f334"/><stop offset=".573" stop-color="#a7fc3a"/><stop offset=".604" stop-color="#8fff49"/><stop offset=".695" stop-color="#32f298"/><stop offset=".741" stop-color="#1de7b2"/><stop offset=".818" stop-color="#1ad2d2"/><stop offset="1.000" stop-color="#27bee9"/></linearGradient><linearGradient id="c45" x1="0" y1="0" x2="0" y2="1"><stop offset=".000" stop-color="#7a0403"/><stop offset=".115" stop-color="#7a0403"/><stop offset=".122" stop-color="#810602"/><stop offset=".138" stop-color="#ac1701"/><stop offset=".153" stop-color="#cc2b04"/><stop offset=".183" stop-color="#df3f08"/><stop offset=".214" stop-color="#eb500e"/><stop offset=".344" stop-color="#fb7e21"/><stop offset=".405" stop-color="#fdac34"/><stop offset=".481" stop-color="#e5d938"/><stop offset=".543" stop-color="#bef434"/><stop offset=".581" stop-color="#a4fc3c"/><stop offset=".627" stop-color="#79fe59"/><stop offset=".688" stop-color="#3cf58e"/><stop offset=".734" stop-color="#20eaac"/><stop offset=".764" stop-color="#19e2bb"/><stop offset=".810" stop-color="#1ad4d0"/><stop offset=".917" stop-color="#22c5e2"/><stop offset="1.000" stop-color="#25c0e7"/></linearGradient><linearGradient id="c46" x1="0" y1="0" x2="0" y2="1"><stop offset=".000" stop-color="#7a0403"/><stop offset=".122" stop-color="#7e0502"/><stop offset=".153" stop-color="#ca2a04"/><stop offset=".183" stop-color="#dd3d08"/><stop offset=".222" stop-color="#eb500e"/><stop offset=".344" stop-color="#f9781e"/><stop offset=".405" stop-color="#fea933"/><stop offset=".443" stop-color="#f7c13a"/><stop offset=".489" stop-color="#e3db38"/><stop offset=".543" stop-color="#c1f334"/><stop offset=".581" stop-color="#a4fc3c"/><stop offset=".619" stop-color="#84ff51"/><stop offset=".695" stop-color="#35f394"/><stop offset=".741" stop-color="#1fe9af"/><stop offset=".802" stop-color="#19d5cd"/><stop offset=".902" stop-color="#20c7df"/><stop offset="1.000" stop-color="#25c0e7"/></linearGradient><linearGradient id="c47" x1="0" y1="0" x2="0" y2="1"><stop offset=".000" stop-color="#7a0403"/><stop offset=".122" stop-color="#7a0403"/><stop offset=".153" stop-color="#c82803"/><stop offset=".183" stop-color="#dc3b07"/><stop offset=".229" stop-color="#eb500e"/><stop offset=".344" stop-color="#f8721c"/><stop offset=".405" stop-color="#fea431"/><stop offset=".451" stop-color="#f6c33a"/><stop offset=".489" stop-color="#e5d938"/><stop offset=".543" stop-color="#c3f134"/><stop offset=".588" stop-color="#a1fd3d"/><stop offset=".642" stop-color="#6dfe62"/><stop offset=".688" stop-color="#3cf58e"/><stop offset=".734" stop-color="#22ebaa"/><stop offset=".772" stop-color="#18e0bd"/><stop offset=".833" stop-color="#1ad2d2"/><stop offset="1.000" stop-color="#25c0e7"/></linearGradient><linearGradient id="c48" x1="0" y1="0" x2="0" y2="1"><stop offset=".000" stop-color="#7a0403"/><stop offset=".122" stop-color="#7a0403"/><stop offset=".153" stop-color="#c52603"/><stop offset=".168" stop-color="#d43305"/><stop offset=".222" stop-color="#e84b0c"/><stop offset=".344" stop-color="#f66c19"/><stop offset=".420" stop-color="#fdac34"/><stop offset=".497" stop-color="#e3db38"/><stop offset=".573" stop-color="#affa37"/><stop offset=".611" stop-color="#8fff49"/><stop offset=".695" stop-color="#38f491"/><stop offset=".734" stop-color="#22ebaa"/><stop offset=".764" stop-color="#19e3b9"/><stop offset=".810" stop-color="#19d5cd"/><stop offset=".909" stop-color="#20c7df"/><stop offset="1.000" stop-color="#25c0e7"/></linearGradient><linearGradient id="c49" x1="0" y1="0" x2="0" y2="1"><stop offset=".000" stop-color="#7a0403"/><stop offset=".122" stop-color="#7a0403"/><stop offset=".138" stop-color="#9e1001"/><stop offset=".160" stop-color="#d02f05"/><stop offset=".222" stop-color="#e84b0c"/><stop offset=".344" stop-color="#f76f1a"/><stop offset=".413" stop-color="#fea933"/><stop offset=".466" stop-color="#f1cb3a"/><stop offset=".512" stop-color="#d7e535"/><stop offset=".573" stop-color="#acfb38"/><stop offset=".611" stop-color="#8bff4b"/><stop offset=".695" stop-color="#35f394"/><stop offset=".741" stop-color="#1fe9af"/><stop offset=".802" stop-color="#19d5cd"/><stop offset="1.000" stop-color="#25c0e7"/></linearGradient><linearGradient id="c50" x1="0" y1="0" x2="0" y2="1"><stop offset=".000" stop-color="#7a0403"/><stop offset=".122" stop-color="#7a0403"/><stop offset=".130" stop-color="#850702"/><stop offset=".160" stop-color="#d02f05"/><stop offset=".183" stop-color="#dc3b07"/><stop offset=".229" stop-color="#ec530f"/><stop offset=".344" stop-color="#f9781e"/><stop offset=".405" stop-color="#fea933"/><stop offset=".451" stop-color="#f4c73a"/><stop offset=".489" stop-color="#e1dd37"/><stop offset=".535" stop-color="#c3f134"/><stop offset=".573" stop-color="#a7fc3a"/><stop offset=".619" stop-color="#7dff56"/><stop offset=".665" stop-color="#4af880"/><stop offset=".726" stop-color="#22ebaa"/><stop offset=".772" stop-color="#18dec0"/><stop offset=".810" stop-color="#1ad4d0"/><stop offset="1.000" stop-color="#25c0e7"/></linearGradient><linearGradient id="c51" x1="0" y1="0" x2="0" y2="1"><stop offset=".000" stop-color="#7a0403"/><stop offset=".122" stop-color="#7a0403"/><stop offset=".130" stop-color="#850702"/><stop offset=".145" stop-color="#af1801"/><stop offset=".160" stop-color="#ce2d04"/><stop offset=".214" stop-color="#ea4e0d"/><stop offset=".344" stop-color="#fb8122"/><stop offset=".397" stop-color="#fdac34"/><stop offset=".436" stop-color="#f6c33a"/><stop offset=".481" stop-color="#e1dd37"/><stop offset=".527" stop-color="#c3f134"/><stop offset=".565" stop-color="#a7fc3a"/><stop offset=".611" stop-color="#7dff56"/><stop offset=".680" stop-color="#38f491"/><stop offset=".718" stop-color="#22ebaa"/><stop offset=".757" stop-color="#19e2bb"/><stop offset=".802" stop-color="#1ad4d0"/><stop offset="1.000" stop-color="#27bee9"/></linearGradient><linearGradient id="c52" x1="0" y1="0" x2="0" y2="1"><stop offset=".000" stop-color="#7a0403"/><stop offset=".122" stop-color="#7a0403"/><stop offset=".130" stop-color="#850702"/><stop offset=".160" stop-color="#ce2d04"/><stop offset=".206" stop-color="#e84b0c"/><stop offset=".229" stop-color="#f05b12"/><stop offset=".344" stop-color="#fc8725"/><stop offset=".390" stop-color="#fdac34"/><stop offset=".466" stop-color="#e5d938"/><stop offset=".527" stop-color="#bef434"/><stop offset=".565" stop-color="#a4fc3c"/><stop offset=".588" stop-color="#92ff47"/><stop offset=".657" stop-color="#4af880"/><stop offset=".711" stop-color="#25eca7"/><stop offset=".749" stop-color="#19e3b9"/><stop offset=".810" stop-color="#1ad2d2"/><stop offset="1.000" stop-color="#27bee9"/></linearGradient><linearGradient id="c53" x1="0" y1="0" x2="0" y2="1"><stop offset=".000" stop-color="#7a0403"/><stop offset=".122" stop-color="#7a0403"/><stop offset=".130" stop-color="#810602"/><stop offset=".160" stop-color="#ce2d04"/><stop offset=".199" stop-color="#e5470b"/><stop offset=".229" stop-color="#f15d13"/><stop offset=".283" stop-color="#f9751d"/><stop offset=".344" stop-color="#fd8d27"/><stop offset=".382" stop-color="#fea933"/><stop offset=".459" stop-color="#e7d739"/><stop offset=".520" stop-color="#c1f334"/><stop offset=".558" stop-color="#a7fc3a"/><stop offset=".604" stop-color="#80ff53"/><stop offset=".680" stop-color="#35f394"/><stop offset=".726" stop-color="#1fe9af"/><stop offset=".802" stop-color="#1ad2d2"/><stop offset="1.000" stop-color="#27bee9"/></linearGradient><linearGradient id="c54" x1="0" y1="0" x2="0" y2="1"><stop offset=".000" stop-color="#7a0403"/><stop offset=".122" stop-color="#7a0403"/><stop offset=".130" stop-color="#810602"/><stop offset=".145" stop-color="#ac1701"/><stop offset=".160" stop-color="#cc2b04"/><stop offset=".176" stop-color="#d83706"/><stop offset=".229" stop-color="#ef5811"/><stop offset=".344" stop-color="#fb8122"/><stop offset=".390" stop-color="#fea732"/><stop offset=".436" stop-color="#f5c53a"/><stop offset=".474" stop-color="#e3db38"/><stop offset=".527" stop-color="#c1f334"/><stop offset=".565" stop-color="#a4fc3c"/><stop offset=".611" stop-color="#79fe59"/><stop offset=".642" stop-color="#55fa76"/><stop offset=".688" stop-color="#2ff19b"/><stop offset=".718" stop-color="#20eaac"/><stop offset=".757" stop-color="#18e0bd"/><stop offset=".802" stop-color="#1ad2d2"/><stop offset=".909" stop-color="#23c3e4"/><stop offset="1.000" stop-color="#27bee9"/></linearGradient><linearGradient id="c55" x1="0" y1="0" x2="0" y2="1"><stop offset=".000" stop-color="#7a0403"/><stop offset=".130" stop-color="#7e0502"/><stop offset=".160" stop-color="#cc2b04"/><stop offset=".199" stop-color="#e2430a"/><stop offset=".229" stop-color="#ed5510"/><stop offset=".344" stop-color="#fb7e21"/><stop offset=".397" stop-color="#fea933"/><stop offset=".466" stop-color="#e9d539"/><stop offset=".527" stop-color="#c1f334"/><stop offset=".565" stop-color="#a4fc3c"/><stop offset=".604" stop-color="#80ff53"/><stop offset=".657" stop-color="#46f884"/><stop offset=".695" stop-color="#2aefa1"/><stop offset=".718" stop-color="#20eaac"/><stop offset=".757" stop-color="#18e0bd"/><stop offset=".802" stop-color="#1ad2d2"/><stop offset="1.000" stop-color="#27bee9"/></linearGradient><linearGradient id="c56" x1="0" y1="0" x2="0" y2="1"><stop offset=".000" stop-color="#7a0403"/><stop offset=".130" stop-color="#7e0502"/><stop offset=".160" stop-color="#cc2b04"/><stop offset=".183" stop-color="#da3907"/><stop offset=".229" stop-color="#ec530f"/><stop offset=".344" stop-color="#f9781e"/><stop offset=".405" stop-color="#fdac34"/><stop offset=".436" stop-color="#f7c13a"/><stop offset=".489" stop-color="#dde037"/><stop offset=".535" stop-color="#bcf534"/><stop offset=".565" stop-color="#a4fc3c"/><stop offset=".596" stop-color="#88ff4e"/><stop offset=".672" stop-color="#38f491"/><stop offset=".718" stop-color="#20eaac"/><stop offset=".757" stop-color="#18e0bd"/><stop offset=".810" stop-color="#1ad2d2"/><stop offset="1.000" stop-color="#27bee9"/></linearGradient><linearGradient id="c57" x1="0" y1="0" x2="0" y2="1"><stop offset=".000" stop-color="#7a0403"/><stop offset=".130" stop-color="#7e0502"/><stop offset=".160" stop-color="#ca2a04"/><stop offset=".183" stop-color="#da3907"/><stop offset=".229" stop-color="#eb500e"/><stop offset=".344" stop-color="#f9751d"/><stop offset=".405" stop-color="#fea933"/><stop offset=".436" stop-color="#f8be39"/><stop offset=".481" stop-color="#e3db38"/><stop offset=".527" stop-color="#c3f134"/><stop offset=".565" stop-color="#a4fc3c"/><stop offset=".588" stop-color="#8fff49"/><stop offset=".642" stop-color="#52fa7a"/><stop offset=".680" stop-color="#32f298"/><stop offset=".718" stop-color="#20eaac"/><stop offset=".764" stop-color="#18dec0"/><stop offset=".810" stop-color="#1ad2d2"/><stop offset="1.000" stop-color="#25c0e7"/></linearGradient><linearGradient id="c58" x1="0" y1="0" x2="0" y2="1"><stop offset=".000" stop-color="#7a0403"/><stop offset=".130" stop-color="#7a0403"/><stop offset=".153" stop-color="#b91e02"/><stop offset=".168" stop-color="#d23105"/><stop offset=".229" stop-color="#ea4e0d"/><stop offset=".344" stop-color="#f76f1a"/><stop offset=".413" stop-color="#fdac34"/><stop offset=".474" stop-color="#e9d539"/><stop offset=".527" stop-color="#c3f134"/><stop offset=".565" stop-color="#a4fc3c"/><stop offset=".588" stop-color="#8fff49"/><stop offset=".650" stop-color="#4af880"/><stop offset=".680" stop-color="#32f298"/><stop offset=".718" stop-color="#20eaac"/><stop offset=".802" stop-color="#1ad4d0"/><stop offset="1.000" stop-color="#25c0e7"/></linearGradient><linearGradient id="c59" x1="0" y1="0" x2="0" y2="1"><stop offset=".000" stop-color="#7a0403"/><stop offset=".130" stop-color="#7a0403"/><stop offset=".145" stop-color="#a71401"/><stop offset=".160" stop-color="#c82803"/><stop offset=".191" stop-color="#dc3b07"/><stop offset=".237" stop-color="#ea4e0d"/><stop offset=".344" stop-color="#f76f1a"/><stop offset=".413" stop-color="#fdac34"/><stop offset=".474" stop-color="#e9d539"/><stop offset=".527" stop-color="#c3f134"/><stop offset=".565" stop-color="#a4fc3c"/><stop offset=".588" stop-color="#8fff49"/><stop offset=".627" stop-color="#5dfc6f"/><stop offset=".680" stop-color="#32f298"/><stop offset=".711" stop-color="#22ebaa"/><stop offset=".764" stop-color="#18dec0"/><stop offset=".802" stop-color="#1ad4d0"/><stop offset="1.000" stop-color="#25c0e7"/></linearGradient><linearGradient id="c60" x1="0" y1="0" x2="0" y2="1"><stop offset=".000" stop-color="#7a0403"/><stop offset=".130" stop-color="#7e0502"/><stop offset=".153" stop-color="#b91e02"/><stop offset=".168" stop-color="#d23105"/><stop offset=".229" stop-color="#ea4e0d"/><stop offset=".344" stop-color="#f8721c"/><stop offset=".405" stop-color="#fea732"/><stop offset=".443" stop-color="#f6c33a"/><stop offset=".481" stop-color="#e3db38"/><stop offset=".558" stop-color="#a9fb39"/><stop offset=".596" stop-color="#84ff51"/><stop offset=".634" stop-color="#55fa76"/><stop offset=".688" stop-color="#2cf09e"/><stop offset=".718" stop-color="#20eaac"/><stop offset=".795" stop-color="#19d5cd"/><stop offset="1.000" stop-color="#23c3e4"/></linearGradient><linearGradient id="c61" x1="0" y1="0" x2="0" y2="1"><stop offset=".000" stop-color="#7a0403"/><stop offset=".130" stop-color="#7e0502"/><stop offset=".160" stop-color="#cc2b04"/><stop offset=".183" stop-color="#da3907"/><stop offset=".222" stop-color="#e84b0c"/><stop offset=".344" stop-color="#f8721c"/><stop offset=".405" stop-color="#fea933"/><stop offset=".466" stop-color="#ebd339"/><stop offset=".550" stop-color="#affa37"/><stop offset=".588" stop-color="#8bff4b"/><stop offset=".642" stop-color="#4ef97d"/><stop offset=".688" stop-color="#2cf09e"/><stop offset=".718" stop-color="#20eaac"/><stop offset=".810" stop-color="#1ad4d0"/><stop offset="1.000" stop-color="#23c3e4"/></linearGradient><linearGradient id="c62" x1="0" y1="0" x2="0" y2="1"><stop offset=".000" stop-color="#7a0403"/><stop offset=".122" stop-color="#7a0403"/><stop offset=".130" stop-color="#810602"/><stop offset=".160" stop-color="#ce2d04"/><stop offset=".183" stop-color="#da3907"/><stop offset=".222" stop-color="#ea4e0d"/><stop offset=".344" stop-color="#f9751d"/><stop offset=".397" stop-color="#fea431"/><stop offset=".459" stop-color="#eecf3a"/><stop offset=".550" stop-color="#acfb38"/><stop offset=".588" stop-color="#8bff4b"/><stop offset=".642" stop-color="#4ef97d"/><stop offset=".688" stop-color="#2cf09e"/><stop offset=".718" stop-color="#20eaac"/><stop offset=".802" stop-color="#19d5cd"/><stop offset="1.000" stop-color="#23c3e4"/></linearGradient><linearGradient id="c63" x1="0" y1="0" x2="0" y2="1"><stop offset=".000" stop-color="#7a0403"/><stop offset=".122" stop-color="#7a0403"/><stop offset=".130" stop-color="#850702"/><stop offset=".160" stop-color="#d02f05"/><stop offset=".222" stop-color="#e84b0c"/><stop offset=".344" stop-color="#f8721c"/><stop offset=".405" stop-color="#fea933"/><stop offset=".436" stop-color="#f8be39"/><stop offset=".481" stop-color="#e3db38"/><stop offset=".558" stop-color="#a9fb39"/><stop offset=".604" stop-color="#7dff56"/><stop offset=".627" stop-color="#5dfc6f"/><stop offset=".703" stop-color="#27eea4"/><stop offset=".764" stop-color="#18e0bd"/><stop offset=".802" stop-color="#19d5cd"/><stop offset="1.000" stop-color="#22c5e2"/></linearGradient><linearGradient id="c64" x1="0" y1="0" x2="0" y2="1"><stop offset=".000" stop-color="#7a0403"/><stop offset=".122" stop-color="#7a0403"/><stop offset=".138" stop-color="#9e1001"/><stop offset=".160" stop-color="#d02f05"/><stop offset=".222" stop-color="#e84b0c"/><stop offset=".344" stop-color="#f66c19"/><stop offset=".405" stop-color="#fea431"/><stop offset=".466" stop-color="#eecf3a"/><stop offset=".527" stop-color="#c3f134"/><stop offset=".565" stop-color="#a4fc3c"/><stop offset=".596" stop-color="#88ff4e"/><stop offset=".634" stop-color="#59fb73"/><stop offset=".680" stop-color="#35f394"/><stop offset=".718" stop-color="#22ebaa"/><stop offset=".757" stop-color="#19e3b9"/><stop offset=".810" stop-color="#19d5cd"/><stop offset="1.000" stop-color="#22c5e2"/></linearGradient><linearGradient id="c65" x1="0" y1="0" x2="0" y2="1"><stop offset=".000" stop-color="#7a0403"/><stop offset=".122" stop-color="#7a0403"/><stop offset=".153" stop-color="#c52603"/><stop offset=".168" stop-color="#d43305"/><stop offset=".222" stop-color="#e7490c"/><stop offset=".344" stop-color="#f56918"/><stop offset=".413" stop-color="#fea732"/><stop offset=".451" stop-color="#f6c33a"/><stop offset=".489" stop-color="#e3db38"/><stop offset=".558" stop-color="#affa37"/><stop offset=".596" stop-color="#8bff4b"/><stop offset=".642" stop-color="#55fa76"/><stop offset=".703" stop-color="#2aefa1"/><stop offset=".757" stop-color="#19e3b9"/><stop offset=".802" stop-color="#18d7ca"/><stop offset="1.000" stop-color="#22c5e2"/></linearGradient><linearGradient id="c66" x1="0" y1="0" x2="0" y2="1"><stop offset=".000" stop-color="#7a0403"/><stop offset=".122" stop-color="#7a0403"/><stop offset=".145" stop-color="#b71d02"/><stop offset=".160" stop-color="#d02f05"/><stop offset=".168" stop-color="#d43305"/><stop offset=".237" stop-color="#e84b0c"/><stop offset=".344" stop-color="#f46617"/><stop offset=".413" stop-color="#fea431"/><stop offset=".481" stop-color="#e9d539"/><stop offset=".558" stop-color="#affa37"/><stop offset=".588" stop-color="#96fe44"/><stop offset=".657" stop-color="#4af880"/><stop offset=".718" stop-color="#25eca7"/><stop offset=".764" stop-color="#19e2bb"/><stop offset=".802" stop-color="#18d7ca"/><stop offset="1.000" stop-color="#22c5e2"/></linearGradient><linearGradient id="c67" x1="0" y1="0" x2="0" y2="1"><stop offset=".000" stop-color="#7a0403"/><stop offset=".122" stop-color="#7a0403"/><stop offset=".138" stop-color="#a71401"/><stop offset=".153" stop-color="#c82803"/><stop offset=".176" stop-color="#d83706"/><stop offset=".222" stop-color="#e84b0c"/><stop offset=".344" stop-color="#f66c19"/><stop offset=".413" stop-color="#fea933"/><stop offset=".474" stop-color="#ebd339"/><stop offset=".527" stop-color="#c6f034"/><stop offset=".565" stop-color="#a7fc3a"/><stop offset=".604" stop-color="#80ff53"/><stop offset=".634" stop-color="#59fb73"/><stop offset=".680" stop-color="#35f394"/><stop offset=".726" stop-color="#20eaac"/><stop offset=".802" stop-color="#18d7ca"/><stop offset="1.000" stop-color="#20c7df"/></linearGradient><linearGradient id="c68" x1="0" y1="0" x2="0" y2="1"><stop offset=".000" stop-color="#7a0403"/><stop offset=".122" stop-color="#7e0502"/><stop offset=".145" stop-color="#b91e02"/><stop offset=".160" stop-color="#d23105"/><stop offset=".222" stop-color="#ea4e0d"/><stop offset=".344" stop-color="#f76f1a"/><stop offset=".405" stop-color="#fea732"/><stop offset=".443" stop-color="#f6c33a"/><stop offset=".481" stop-color="#e3db38"/><stop offset=".558" stop-color="#a9fb39"/><stop offset=".596" stop-color="#84ff51"/><stop offset=".634" stop-color="#55fa76"/><stop offset=".711" stop-color="#25eca7"/><stop offset=".749" stop-color="#1ae4b6"/><stop offset=".802" stop-color="#18d7ca"/><stop offset="1.000" stop-color="#20c7df"/></linearGradient><linearGradient id="c69" x1="0" y1="0" x2="0" y2="1"><stop offset=".000" stop-color="#7a0403"/><stop offset=".115" stop-color="#7a0403"/><stop offset=".122" stop-color="#810602"/><stop offset=".153" stop-color="#cc2b04"/><stop offset=".183" stop-color="#dd3d08"/><stop offset=".229" stop-color="#ec530f"/><stop offset=".344" stop-color="#f9751d"/><stop offset=".405" stop-color="#fdac34"/><stop offset=".474" stop-color="#e5d938"/><stop offset=".550" stop-color="#acfb38"/><stop offset=".588" stop-color="#88ff4e"/><stop offset=".634" stop-color="#52fa7a"/><stop offset=".688" stop-color="#2cf09e"/><stop offset=".741" stop-color="#1ce6b4"/><stop offset=".802" stop-color="#18d7ca"/><stop offset="1.000" stop-color="#20c7df"/></linearGradient><linearGradient id="c70" x1="0" y1="0" x2="0" y2="1"><stop offset=".000" stop-color="#7a0403"/><stop offset=".122" stop-color="#7a0403"/><stop offset=".130" stop-color="#850702"/><stop offset=".160" stop-color="#ce2d04"/><stop offset=".183" stop-color="#dc3b07"/><stop offset=".222" stop-color="#eb500e"/><stop offset=".344" stop-color="#fa7b1f"/><stop offset=".397" stop-color="#fea933"/><stop offset=".459" stop-color="#ebd339"/><stop offset=".543" stop-color="#affa37"/><stop offset=".581" stop-color="#8bff4b"/><stop offset=".642" stop-color="#46f884"/><stop offset=".695" stop-color="#27eea4"/><stop offset=".757" stop-color="#19e2bb"/><stop offset=".802" stop-color="#18d7ca"/><stop offset="1.000" stop-color="#20c7df"/></linearGradient><linearGradient id="c71" x1="0" y1="0" x2="0" y2="1"><stop offset=".000" stop-color="#7a0403"/><stop offset=".130" stop-color="#7a0403"/><stop offset=".138" stop-color="#810602"/><stop offset=".168" stop-color="#ce2d04"/><stop offset=".191" stop-color="#da3907"/><stop offset=".237" stop-color="#ec530f"/><stop offset=".344" stop-color="#f9781e"/><stop offset=".397" stop-color="#fea933"/><stop offset=".428" stop-color="#f8be39"/><stop offset=".474" stop-color="#e3db38"/><stop offset=".550" stop-color="#a9fb39"/><stop offset=".588" stop-color="#84ff51"/><stop offset=".634" stop-color="#4ef97d"/><stop offset=".703" stop-color="#25eca7"/><stop offset=".802" stop-color="#18d7ca"/><stop offset="1.000" stop-color="#20c7df"/></linearGradient><linearGradient id="c72" x1="0" y1="0" x2="0" y2="1"><stop offset=".000" stop-color="#7a0403"/><stop offset=".138" stop-color="#7a0403"/><stop offset=".145" stop-color="#810602"/><stop offset=".168" stop-color="#be2102"/><stop offset=".176" stop-color="#ce2d04"/><stop offset=".183" stop-color="#d23105"/><stop offset=".229" stop-color="#e4450a"/><stop offset=".344" stop-color="#f56918"/><stop offset=".413" stop-color="#fea732"/><stop offset=".474" stop-color="#ebd339"/><stop offset=".558" stop-color="#acfb38"/><stop offset=".596" stop-color="#88ff4e"/><stop offset=".642" stop-color="#52fa7a"/><stop offset=".695" stop-color="#2cf09e"/><stop offset=".741" stop-color="#1de7b2"/><stop offset=".802" stop-color="#18d9c8"/><stop offset="1.000" stop-color="#1fc9dd"/></linearGradient><linearGradient id="c73" x1="0" y1="0" x2="0" y2="1"><stop offset=".000" stop-color="#7a0403"/><stop offset=".145" stop-color="#7a0403"/><stop offset=".153" stop-color="#810602"/><stop offset=".168" stop-color="#ac1701"/><stop offset=".183" stop-color="#cc2b04"/><stop offset=".199" stop-color="#d43305"/><stop offset=".344" stop-color="#ef5811"/><stop offset=".390" stop-color="#fc8423"/><stop offset=".428" stop-color="#fea933"/><stop offset=".497" stop-color="#e5d938"/><stop offset=".565" stop-color="#affa37"/><stop offset=".596" stop-color="#92ff47"/><stop offset=".627" stop-color="#69fd66"/><stop offset=".657" stop-color="#4ef97d"/><stop offset=".718" stop-color="#27eea4"/><stop offset=".772" stop-color="#19e2bb"/><stop offset=".810" stop-color="#18d9c8"/><stop offset="1.000" stop-color="#1fc9dd"/></linearGradient><linearGradient id="c74" x1="0" y1="0" x2="0" y2="1"><stop offset=".000" stop-color="#7a0403"/><stop offset=".160" stop-color="#7a0403"/><stop offset=".183" stop-color="#b41b01"/><stop offset=".199" stop-color="#d02f05"/><stop offset=".344" stop-color="#e84b0c"/><stop offset=".390" stop-color="#f9781e"/><stop offset=".436" stop-color="#fea431"/><stop offset=".497" stop-color="#ebd339"/><stop offset=".550" stop-color="#c3f134"/><stop offset=".581" stop-color="#a7fc3a"/><stop offset=".604" stop-color="#92ff47"/><stop offset=".657" stop-color="#55fa76"/><stop offset=".688" stop-color="#3cf58e"/><stop offset=".726" stop-color="#27eea4"/><stop offset=".802" stop-color="#18dbc5"/><stop offset="1.000" stop-color="#1fc9dd"/></linearGradient><linearGradient id="c75" x1="0" y1="0" x2="0" y2="1"><stop offset=".000" stop-color="#7a0403"/><stop offset=".176" stop-color="#7a0403"/><stop offset=".199" stop-color="#b21a01"/><stop offset=".214" stop-color="#c82803"/><stop offset=".344" stop-color="#e2430a"/><stop offset=".397" stop-color="#f9751d"/><stop offset=".451" stop-color="#fea933"/><stop offset=".512" stop-color="#e7d739"/><stop offset=".558" stop-color="#c3f134"/><stop offset=".588" stop-color="#a7fc3a"/><stop offset=".634" stop-color="#75fe5c"/><stop offset=".695" stop-color="#3cf58e"/><stop offset=".749" stop-color="#20eaac"/><stop offset=".810" stop-color="#18dbc5"/><stop offset="1.000" stop-color="#1fc9dd"/></linearGradient><linearGradient id="c76" x1="0" y1="0" x2="0" y2="1"><stop offset=".000" stop-color="#7a0403"/><stop offset=".191" stop-color="#7a0403"/><stop offset=".214" stop-color="#ac1701"/><stop offset=".229" stop-color="#be2102"/><stop offset=".352" stop-color="#df3f08"/><stop offset=".397" stop-color="#f56918"/><stop offset=".459" stop-color="#fea732"/><stop offset=".512" stop-color="#ecd13a"/><stop offset=".565" stop-color="#c3f134"/><stop offset=".596" stop-color="#a7fc3a"/><stop offset=".688" stop-color="#46f884"/><stop offset=".749" stop-color="#22ebaa"/><stop offset=".802" stop-color="#18ddc2"/><stop offset="1.000" stop-color="#1fc9dd"/></linearGradient><linearGradient id="c77" x1="0" y1="0" x2="0" y2="1"><stop offset=".000" stop-color="#7a0403"/><stop offset=".199" stop-color="#7a0403"/><stop offset=".206" stop-color="#7e0502"/><stop offset=".237" stop-color="#b21a01"/><stop offset=".329" stop-color="#ce2d04"/><stop offset=".390" stop-color="#ed5510"/><stop offset=".428" stop-color="#fb7e21"/><stop offset=".466" stop-color="#fea732"/><stop offset=".520" stop-color="#ecd13a"/><stop offset=".573" stop-color="#c1f334"/><stop offset=".604" stop-color="#a4fc3c"/><stop offset=".703" stop-color="#3ff68a"/><stop offset=".749" stop-color="#25eca7"/><stop offset=".810" stop-color="#18ddc2"/><stop offset="1.000" stop-color="#1fc9dd"/></linearGradient><linearGradient id="c78" x1="0" y1="0" x2="0" y2="1"><stop offset=".000" stop-color="#7a0403"/><stop offset=".206" stop-color="#7e0502"/><stop offset=".237" stop-color="#b91e02"/><stop offset=".344" stop-color="#da3907"/><stop offset=".405" stop-color="#f76f1a"/><stop offset=".466" stop-color="#fdac34"/><stop offset=".520" stop-color="#e9d539"/><stop offset=".565" stop-color="#c3f134"/><stop offset=".596" stop-color="#a7fc3a"/><stop offset=".688" stop-color="#46f884"/><stop offset=".749" stop-color="#22ebaa"/><stop offset=".802" stop-color="#18ddc2"/><stop offset="1.000" stop-color="#1fc9dd"/></linearGradient><linearGradient id="c79" x1="0" y1="0" x2="0" y2="1"><stop offset=".000" stop-color="#7a0403"/><stop offset=".191" stop-color="#7a0403"/><stop offset=".214" stop-color="#af1801"/><stop offset=".229" stop-color="#c32503"/><stop offset=".352" stop-color="#e2430a"/><stop offset=".397" stop-color="#f76f1a"/><stop offset=".451" stop-color="#fea431"/><stop offset=".504" stop-color="#eecf3a"/><stop offset=".558" stop-color="#c6f034"/><stop offset=".588" stop-color="#a9fb39"/><stop offset=".634" stop-color="#79fe59"/><stop offset=".688" stop-color="#43f787"/><stop offset=".741" stop-color="#25eca7"/><stop offset=".802" stop-color="#18ddc2"/><stop offset="1.000" stop-color="#1fc9dd"/></linearGradient><linearGradient id="c80" x1="0" y1="0" x2="0" y2="1"><stop offset=".000" stop-color="#7a0403"/><stop offset=".176" stop-color="#7a0403"/><stop offset=".199" stop-color="#af1801"/><stop offset=".214" stop-color="#c82803"/><stop offset=".344" stop-color="#e4450a"/><stop offset=".390" stop-color="#f76f1a"/><stop offset=".443" stop-color="#fea431"/><stop offset=".474" stop-color="#f8be39"/><stop offset=".512" stop-color="#e5d938"/><stop offset=".558" stop-color="#c1f334"/><stop offset=".588" stop-color="#a4fc3c"/><stop offset=".688" stop-color="#3ff68a"/><stop offset=".741" stop-color="#22ebaa"/><stop offset=".810" stop-color="#18dbc5"/><stop offset="1.000" stop-color="#1fc9dd"/></linearGradient><linearGradient id="c81" x1="0" y1="0" x2="0" y2="1"><stop offset=".000" stop-color="#7a0403"/><stop offset=".160" stop-color="#7a0403"/><stop offset=".168" stop-color="#850702"/><stop offset=".183" stop-color="#af1801"/><stop offset=".199" stop-color="#ce2d04"/><stop offset=".344" stop-color="#e84b0c"/><stop offset=".390" stop-color="#f9781e"/><stop offset=".436" stop-color="#fea431"/><stop offset=".497" stop-color="#ebd339"/><stop offset=".550" stop-color="#c1f334"/><stop offset=".581" stop-color="#a7fc3a"/><stop offset=".627" stop-color="#71fe5f"/><stop offset=".672" stop-color="#46f884"/><stop offset=".726" stop-color="#27eea4"/><stop offset=".802" stop-color="#18dbc5"/><stop offset="1.000" stop-color="#1fc9dd"/></linearGradient><linearGradient id="c82" x1="0" y1="0" x2="0" y2="1"><stop offset=".000" stop-color="#7a0403"/><stop offset=".145" stop-color="#7a0403"/><stop offset=".160" stop-color="#9e1001"/><stop offset=".183" stop-color="#d02f05"/><stop offset=".252" stop-color="#e2430a"/><stop offset=".344" stop-color="#ed5510"/><stop offset=".397" stop-color="#fd8a26"/><stop offset=".436" stop-color="#fdac34"/><stop offset=".489" stop-color="#ebd339"/><stop offset=".543" stop-color="#c3f134"/><stop offset=".581" stop-color="#a1fd3d"/><stop offset=".634" stop-color="#61fc6c"/><stop offset=".680" stop-color="#3cf58e"/><stop offset=".718" stop-color="#27eea4"/><stop offset=".757" stop-color="#1ce6b4"/><stop offset=".810" stop-color="#18d9c8"/><stop offset="1.000" stop-color="#1fc9dd"/></linearGradient><linearGradient id="c83" x1="0" y1="0" x2="0" y2="1"><stop offset=".000" stop-color="#7a0403"/><stop offset=".130" stop-color="#7a0403"/><stop offset=".145" stop-color="#9e1001"/><stop offset=".168" stop-color="#d02f05"/><stop offset=".237" stop-color="#e5470b"/><stop offset=".344" stop-color="#f26014"/><stop offset=".420" stop-color="#fea933"/><stop offset=".489" stop-color="#e5d938"/><stop offset=".565" stop-color="#a9fb39"/><stop offset=".596" stop-color="#8bff4b"/><stop offset=".627" stop-color="#61fc6c"/><stop offset=".688" stop-color="#32f298"/><stop offset=".718" stop-color="#25eca7"/><stop offset=".802" stop-color="#18d9c8"/><stop offset="1.000" stop-color="#1fc9dd"/></linearGradient><linearGradient id="c84" x1="0" y1="0" x2="0" y2="1"><stop offset=".000" stop-color="#7a0403"/><stop offset=".122" stop-color="#7a0403"/><stop offset=".130" stop-color="#850702"/><stop offset=".160" stop-color="#ce2d04"/><stop offset=".168" stop-color="#d23105"/><stop offset=".229" stop-color="#e5470b"/><stop offset=".344" stop-color="#f26014"/><stop offset=".420" stop-color="#fea933"/><stop offset=".489" stop-color="#e5d938"/><stop offset=".565" stop-color="#a9fb39"/><stop offset=".604" stop-color="#80ff53"/><stop offset=".627" stop-color="#61fc6c"/><stop offset=".688" stop-color="#32f298"/><stop offset=".718" stop-color="#25eca7"/><stop offset=".802" stop-color="#18d9c8"/><stop offset="1.000" stop-color="#1fc9dd"/></linearGradient><linearGradient id="c85" x1="0" y1="0" x2="0" y2="1"><stop offset=".000" stop-color="#7a0403"/><stop offset=".130" stop-color="#7a0403"/><stop offset=".153" stop-color="#b41b01"/><stop offset=".168" stop-color="#d02f05"/><stop offset=".229" stop-color="#e2430a"/><stop offset=".344" stop-color="#ef5811"/><stop offset=".390" stop-color="#fc8423"/><stop offset=".428" stop-color="#fea933"/><stop offset=".489" stop-color="#e9d539"/><stop offset=".543" stop-color="#c1f334"/><stop offset=".573" stop-color="#a7fc3a"/><stop offset=".642" stop-color="#59fb73"/><stop offset=".711" stop-color="#2aefa1"/><stop offset=".772" stop-color="#19e2bb"/><stop offset=".810" stop-color="#18d9c8"/><stop offset="1.000" stop-color="#1fc9dd"/></linearGradient><linearGradient id="c86" x1="0" y1="0" x2="0" y2="1"><stop offset=".000" stop-color="#7a0403"/><stop offset=".130" stop-color="#7a0403"/><stop offset=".138" stop-color="#7e0502"/><stop offset=".160" stop-color="#bc2002"/><stop offset=".176" stop-color="#d02f05"/><stop offset=".245" stop-color="#e14109"/><stop offset=".344" stop-color="#eb500e"/><stop offset=".397" stop-color="#fc8423"/><stop offset=".436" stop-color="#fea933"/><stop offset=".466" stop-color="#f7c13a"/><stop offset=".504" stop-color="#e3db38"/><stop offset=".573" stop-color="#a9fb39"/><stop offset=".596" stop-color="#96fe44"/><stop offset=".642" stop-color="#5dfc6f"/><stop offset=".688" stop-color="#38f491"/><stop offset=".726" stop-color="#25eca7"/><stop offset=".810" stop-color="#18d9c8"/><stop offset="1.000" stop-color="#1fc9dd"/></linearGradient><linearGradient id="c87" x1="0" y1="0" x2="0" y2="1"><stop offset=".000" stop-color="#7a0403"/><stop offset=".138" stop-color="#7a0403"/><stop offset=".145" stop-color="#850702"/><stop offset=".160" stop-color="#af1801"/><stop offset=".176" stop-color="#ce2d04"/><stop offset=".229" stop-color="#dc3b07"/><stop offset=".344" stop-color="#e84b0c"/><stop offset=".397" stop-color="#fb7e21"/><stop offset=".436" stop-color="#fea431"/><stop offset=".489" stop-color="#efcd3a"/><stop offset=".527" stop-color="#d4e735"/><stop offset=".581" stop-color="#a7fc3a"/><stop offset=".627" stop-color="#71fe5f"/><stop offset=".672" stop-color="#46f884"/><stop offset=".741" stop-color="#20eaac"/><stop offset=".802" stop-color="#18dbc5"/><stop offset="1.000" stop-color="#1fc9dd"/></linearGradient><linearGradient id="c88" x1="0" y1="0" x2="0" y2="1"><stop offset=".000" stop-color="#7a0403"/><stop offset=".145" stop-color="#7a0403"/><stop offset=".176" stop-color="#c32503"/><stop offset=".183" stop-color="#cc2b04"/><stop offset=".344" stop-color="#e7490c"/><stop offset=".397" stop-color="#fa7b1f"/><stop offset=".443" stop-color="#fea732"/><stop offset=".504" stop-color="#e9d539"/><stop offset=".550" stop-color="#c6f034"/><stop offset=".581" stop-color="#a9fb39"/><stop offset=".611" stop-color="#8bff4b"/><stop offset=".627" stop-color="#75fe5c"/><stop offset=".680" stop-color="#43f787"/><stop offset=".734" stop-color="#25eca7"/><stop offset=".802" stop-color="#18dbc5"/><stop offset="1.000" stop-color="#1fc9dd"/></linearGradient><linearGradient id="c89" x1="0" y1="0" x2="0" y2="1"><stop offset=".000" stop-color="#7a0403"/><stop offset=".153" stop-color="#7a0403"/><stop offset=".176" stop-color="#b41b01"/><stop offset=".191" stop-color="#ca2a04"/><stop offset=".344" stop-color="#e4450a"/><stop offset=".390" stop-color="#f76f1a"/><stop offset=".443" stop-color="#fea431"/><stop offset=".504" stop-color="#ebd339"/><stop offset=".581" stop-color="#acfb38"/><stop offset=".611" stop-color="#8fff49"/><stop offset=".634" stop-color="#71fe5f"/><stop offset=".688" stop-color="#3ff68a"/><stop offset=".741" stop-color="#22ebaa"/><stop offset=".802" stop-color="#18dbc5"/><stop offset="1.000" stop-color="#1fc9dd"/></linearGradient><linearGradient id="c90" x1="0" y1="0" x2="0" y2="1"><stop offset=".000" stop-color="#7a0403"/><stop offset=".145" stop-color="#7a0403"/><stop offset=".176" stop-color="#c32503"/><stop offset=".183" stop-color="#ce2d04"/><stop offset=".344" stop-color="#e84b0c"/><stop offset=".397" stop-color="#fb7e21"/><stop offset=".443" stop-color="#fea933"/><stop offset=".504" stop-color="#e7d739"/><stop offset=".573" stop-color="#affa37"/><stop offset=".604" stop-color="#92ff47"/><stop offset=".657" stop-color="#55fa76"/><stop offset=".688" stop-color="#3cf58e"/><stop offset=".726" stop-color="#27eea4"/><stop offset=".764" stop-color="#1ae4b6"/><stop offset=".802" stop-color="#18dbc5"/><stop offset="1.000" stop-color="#1fc9dd"/></linearGradient><linearGradient id="c91" x1="0" y1="0" x2="0" y2="1"><stop offset=".000" stop-color="#7a0403"/><stop offset=".130" stop-color="#7a0403"/><stop offset=".138" stop-color="#850702"/><stop offset=".153" stop-color="#af1801"/><stop offset=".168" stop-color="#ce2d04"/><stop offset=".176" stop-color="#d23105"/><stop offset=".245" stop-color="#e4450a"/><stop offset=".344" stop-color="#ef5811"/><stop offset=".390" stop-color="#fc8423"/><stop offset=".428" stop-color="#fea933"/><stop offset=".489" stop-color="#e9d539"/><stop offset=".565" stop-color="#acfb38"/><stop offset=".604" stop-color="#88ff4e"/><stop offset=".642" stop-color="#59fb73"/><stop offset=".688" stop-color="#35f394"/><stop offset=".734" stop-color="#20eaac"/><stop offset=".802" stop-color="#18d9c8"/><stop offset="1.000" stop-color="#1fc9dd"/></linearGradient><linearGradient id="c92" x1="0" y1="0" x2="0" y2="1"><stop offset=".000" stop-color="#7a0403"/><stop offset=".115" stop-color="#7a0403"/><stop offset=".122" stop-color="#810602"/><stop offset=".145" stop-color="#be2102"/><stop offset=".160" stop-color="#d23105"/><stop offset=".229" stop-color="#e84b0c"/><stop offset=".344" stop-color="#f46617"/><stop offset=".413" stop-color="#fea732"/><stop offset=".474" stop-color="#ebd339"/><stop offset=".527" stop-color="#c3f134"/><stop offset=".558" stop-color="#a9fb39"/><stop offset=".596" stop-color="#84ff51"/><stop offset=".642" stop-color="#4ef97d"/><stop offset=".711" stop-color="#25eca7"/><stop offset=".757" stop-color="#19e3b9"/><stop offset=".810" stop-color="#18d7ca"/><stop offset="1.000" stop-color="#1fc9dd"/></linearGradient><linearGradient id="c93" x1="0" y1="0" x2="0" y2="1"><stop offset=".000" stop-color="#c52603"/><stop offset=".076" stop-color="#d02f05"/><stop offset=".222" stop-color="#f26014"/><stop offset=".260" stop-color="#f76f1a"/><stop offset=".352" stop-color="#fea732"/><stop offset=".428" stop-color="#e7d739"/><stop offset=".481" stop-color="#c3f134"/><stop offset=".520" stop-color="#a7fc3a"/><stop offset=".573" stop-color="#75fe5c"/><stop offset=".627" stop-color="#38f491"/><stop offset=".680" stop-color="#20eaac"/><stop offset=".726" stop-color="#19e2bb"/><stop offset=".810" stop-color="#1ad2d2"/><stop offset="1.000" stop-color="#22c5e2"/></linearGradient><linearGradient id="c94" x1="0" y1="0" x2="0" y2="1"><stop offset=".000" stop-color="#ce2d04"/><stop offset=".061" stop-color="#d43305"/><stop offset=".145" stop-color="#ea4e0d"/><stop offset=".260" stop-color="#fa7b1f"/><stop offset=".344" stop-color="#fdac34"/><stop offset=".420" stop-color="#e5d938"/><stop offset=".474" stop-color="#c3f134"/><stop offset=".512" stop-color="#a7fc3a"/><stop offset=".565" stop-color="#75fe5c"/><stop offset=".619" stop-color="#3cf58e"/><stop offset=".665" stop-color="#22ebaa"/><stop offset=".711" stop-color="#19e3b9"/><stop offset=".802" stop-color="#1ad2d2"/><stop offset="1.000" stop-color="#22c5e2"/></linearGradient><linearGradient id="c95" x1="0" y1="0" x2="0" y2="1"><stop offset=".000" stop-color="#d23105"/><stop offset=".053" stop-color="#d83706"/><stop offset=".130" stop-color="#ea4e0d"/><stop offset=".252" stop-color="#fb7e21"/><stop offset=".344" stop-color="#fcb136"/><stop offset=".420" stop-color="#e1dd37"/><stop offset=".474" stop-color="#bef434"/><stop offset=".504" stop-color="#a7fc3a"/><stop offset=".558" stop-color="#79fe59"/><stop offset=".627" stop-color="#32f298"/><stop offset=".665" stop-color="#22ebaa"/><stop offset=".726" stop-color="#18e0bd"/><stop offset=".802" stop-color="#1ad2d2"/><stop offset="1.000" stop-color="#22c5e2"/></linearGradient><linearGradient id="c96" x1="0" y1="0" x2="0" y2="1"><stop offset=".000" stop-color="#d43305"/><stop offset=".115" stop-color="#e7490c"/><stop offset=".267" stop-color="#fc8423"/><stop offset=".344" stop-color="#fdae35"/><stop offset=".420" stop-color="#e3db38"/><stop offset=".474" stop-color="#c1f334"/><stop offset=".512" stop-color="#a4fc3c"/><stop offset=".565" stop-color="#75fe5c"/><stop offset=".627" stop-color="#32f298"/><stop offset=".672" stop-color="#20eaac"/><stop offset=".734" stop-color="#18e0bd"/><stop offset=".802" stop-color="#1ad2d2"/><stop offset="1.000" stop-color="#22c5e2"/></linearGradient><linearGradient id="c97" x1="0" y1="0" x2="0" y2="1"><stop offset=".000" stop-color="#d63506"/><stop offset=".061" stop-color="#dc3b07"/><stop offset=".245" stop-color="#f9781e"/><stop offset=".344" stop-color="#fdac34"/><stop offset=".390" stop-color="#f4c73a"/><stop offset=".428" stop-color="#e1dd37"/><stop offset=".481" stop-color="#bef434"/><stop offset=".512" stop-color="#a7fc3a"/><stop offset=".558" stop-color="#80ff53"/><stop offset=".627" stop-color="#35f394"/><stop offset=".672" stop-color="#22ebaa"/><stop offset=".734" stop-color="#18e0bd"/><stop offset=".810" stop-color="#1ad2d2"/><stop offset="1.000" stop-color="#22c5e2"/></linearGradient><linearGradient id="c98" x1="0" y1="0" x2="0" y2="1"><stop offset=".000" stop-color="#d83706"/><stop offset=".061" stop-color="#dd3d08"/><stop offset=".222" stop-color="#f76f1a"/><stop offset=".352" stop-color="#fdac34"/><stop offset=".405" stop-color="#efcd3a"/><stop offset=".481" stop-color="#c1f334"/><stop offset=".520" stop-color="#a4fc3c"/><stop offset=".558" stop-color="#84ff51"/><stop offset=".627" stop-color="#38f491"/><stop offset=".680" stop-color="#20eaac"/><stop offset=".741" stop-color="#18e0bd"/><stop offset=".818" stop-color="#1ad2d2"/><stop offset="1.000" stop-color="#22c5e2"/></linearGradient><linearGradient id="c99" x1="0" y1="0" x2="0" y2="1"><stop offset=".000" stop-color="#d83706"/><stop offset=".053" stop-color="#dc3b07"/><stop offset=".222" stop-color="#f66c19"/><stop offset=".283" stop-color="#fc8423"/><stop offset=".359" stop-color="#fdae35"/><stop offset=".413" stop-color="#eecf3a"/><stop offset=".481" stop-color="#c3f134"/><stop offset=".520" stop-color="#a7fc3a"/><stop offset=".550" stop-color="#8fff49"/><stop offset=".627" stop-color="#3cf58e"/><stop offset=".680" stop-color="#22ebaa"/><stop offset=".734" stop-color="#19e2bb"/><stop offset=".802" stop-color="#1ad4d0"/><stop offset="1.000" stop-color="#22c5e2"/></linearGradient><linearGradient id="c100" x1="0" y1="0" x2="0" y2="1"><stop offset=".000" stop-color="#d23105"/><stop offset=".084" stop-color="#df3f08"/><stop offset=".229" stop-color="#f76f1a"/><stop offset=".344" stop-color="#fea933"/><stop offset=".390" stop-color="#f5c53a"/><stop offset=".428" stop-color="#e3db38"/><stop offset=".481" stop-color="#c1f334"/><stop offset=".520" stop-color="#a4fc3c"/><stop offset=".565" stop-color="#7dff56"/><stop offset=".634" stop-color="#35f394"/><stop offset=".680" stop-color="#22ebaa"/><stop offset=".734" stop-color="#19e2bb"/><stop offset=".802" stop-color="#1ad4d0"/><stop offset="1.000" stop-color="#20c7df"/></linearGradient><linearGradient id="c101" x1="0" y1="0" x2="0" y2="1"><stop offset=".000" stop-color="#ce2d04"/><stop offset=".053" stop-color="#d43305"/><stop offset=".153" stop-color="#ec530f"/><stop offset=".260" stop-color="#fb7e21"/><stop offset=".336" stop-color="#fea933"/><stop offset=".397" stop-color="#efcd3a"/><stop offset=".474" stop-color="#c3f134"/><stop offset=".512" stop-color="#a7fc3a"/><stop offset=".565" stop-color="#79fe59"/><stop offset=".627" stop-color="#38f491"/><stop offset=".688" stop-color="#1fe9af"/><stop offset=".802" stop-color="#1ad4d0"/><stop offset="1.000" stop-color="#20c7df"/></linearGradient><linearGradient id="c102" x1="0" y1="0" x2="0" y2="1"><stop offset=".000" stop-color="#ca2a04"/><stop offset=".053" stop-color="#d02f05"/><stop offset=".130" stop-color="#e5470b"/><stop offset=".237" stop-color="#f8721c"/><stop offset=".344" stop-color="#fdae35"/><stop offset=".420" stop-color="#e3db38"/><stop offset=".474" stop-color="#c1f334"/><stop offset=".512" stop-color="#a7fc3a"/><stop offset=".550" stop-color="#88ff4e"/><stop offset=".634" stop-color="#32f298"/><stop offset=".672" stop-color="#22ebaa"/><stop offset=".741" stop-color="#18e0bd"/><stop offset=".802" stop-color="#1ad4d0"/><stop offset="1.000" stop-color="#20c7df"/></linearGradient><linearGradient id="c103" x1="0" y1="0" x2="0" y2="1"><stop offset=".000" stop-color="#c52603"/><stop offset=".061" stop-color="#cc2b04"/><stop offset=".199" stop-color="#ef5811"/><stop offset=".267" stop-color="#f9751d"/><stop offset=".352" stop-color="#fea933"/><stop offset=".428" stop-color="#e7d739"/><stop offset=".489" stop-color="#bef434"/><stop offset=".535" stop-color="#9cfe40"/><stop offset=".581" stop-color="#71fe5f"/><stop offset=".634" stop-color="#38f491"/><stop offset=".688" stop-color="#20eaac"/><stop offset=".810" stop-color="#1ad4d0"/><stop offset="1.000" stop-color="#20c7df"/></linearGradient><linearGradient id="c104" x1="0" y1="0" x2="0" y2="1"><stop offset=".000" stop-color="#b91e02"/><stop offset=".076" stop-color="#c82803"/><stop offset=".153" stop-color="#e14109"/><stop offset=".260" stop-color="#f36315"/><stop offset=".359" stop-color="#fea431"/><stop offset=".405" stop-color="#f6c33a"/><stop offset=".443" stop-color="#e5d938"/><stop offset=".497" stop-color="#c1f334"/><stop offset=".535" stop-color="#a4fc3c"/><stop offset=".565" stop-color="#8bff4b"/><stop offset=".634" stop-color="#3ff68a"/><stop offset=".695" stop-color="#22ebaa"/><stop offset=".749" stop-color="#19e2bb"/><stop offset=".802" stop-color="#19d5cd"/><stop offset="1.000" stop-color="#20c7df"/></linearGradient><linearGradient id="c105" x1="0" y1="0" x2="0" y2="1"><stop offset=".000" stop-color="#af1801"/><stop offset=".061" stop-color="#b71d02"/><stop offset=".138" stop-color="#d43305"/><stop offset=".267" stop-color="#f05b12"/><stop offset=".336" stop-color="#fc8423"/><stop offset=".390" stop-color="#fdae35"/><stop offset=".451" stop-color="#e9d539"/><stop offset=".489" stop-color="#d0ea34"/><stop offset=".543" stop-color="#a9fb39"/><stop offset=".596" stop-color="#75fe5c"/><stop offset=".634" stop-color="#4af880"/><stop offset=".711" stop-color="#20eaac"/><stop offset=".795" stop-color="#18d7ca"/><stop offset="1.000" stop-color="#20c7df"/></linearGradient><linearGradient id="c106" x1="0" y1="0" x2="0" y2="1"><stop offset=".000" stop-color="#a11201"/><stop offset=".076" stop-color="#b21a01"/><stop offset=".176" stop-color="#d63506"/><stop offset=".267" stop-color="#ea4e0d"/><stop offset=".336" stop-color="#f9751d"/><stop offset=".413" stop-color="#fcb336"/><stop offset=".466" stop-color="#e9d539"/><stop offset=".527" stop-color="#bef434"/><stop offset=".565" stop-color="#a1fd3d"/><stop offset=".642" stop-color="#52fa7a"/><stop offset=".688" stop-color="#2ff19b"/><stop offset=".718" stop-color="#22ebaa"/><stop offset=".802" stop-color="#18d7ca"/><stop offset="1.000" stop-color="#20c7df"/></linearGradient><linearGradient id="c107" x1="0" y1="0" x2="0" y2="1"><stop offset=".000" stop-color="#950d01"/><stop offset=".099" stop-color="#af1801"/><stop offset=".145" stop-color="#c32503"/><stop offset=".260" stop-color="#e14109"/><stop offset=".344" stop-color="#f66c19"/><stop offset=".413" stop-color="#fea933"/><stop offset=".466" stop-color="#efcd3a"/><stop offset=".520" stop-color="#cdec34"/><stop offset=".565" stop-color="#acfb38"/><stop offset=".588" stop-color="#99fe42"/><stop offset=".642" stop-color="#5dfc6f"/><stop offset=".695" stop-color="#32f298"/><stop offset=".718" stop-color="#27eea4"/><stop offset=".764" stop-color="#19e3b9"/><stop offset=".802" stop-color="#18d9c8"/><stop offset="1.000" stop-color="#20c7df"/></linearGradient><linearGradient id="c108" x1="0" y1="0" x2="0" y2="1"><stop offset=".000" stop-color="#a41301"/><stop offset=".061" stop-color="#ac1701"/><stop offset=".145" stop-color="#cc2b04"/><stop offset=".267" stop-color="#e7490c"/><stop offset=".344" stop-color="#f8721c"/><stop offset=".420" stop-color="#fcb336"/><stop offset=".481" stop-color="#e5d938"/><stop offset=".565" stop-color="#a9fb39"/><stop offset=".588" stop-color="#96fe44"/><stop offset=".665" stop-color="#46f884"/><stop offset=".734" stop-color="#20eaac"/><stop offset=".802" stop-color="#18d9c8"/><stop offset="1.000" stop-color="#20c7df"/></linearGradient><linearGradient id="c109" x1="0" y1="0" x2="0" y2="1"><stop offset=".000" stop-color="#b41b01"/><stop offset=".061" stop-color="#bc2002"/><stop offset=".176" stop-color="#dc3b07"/><stop offset=".267" stop-color="#eb500e"/><stop offset=".344" stop-color="#f9781e"/><stop offset=".420" stop-color="#fbb637"/><stop offset=".481" stop-color="#e3db38"/><stop offset=".527" stop-color="#c3f134"/><stop offset=".565" stop-color="#a7fc3a"/><stop offset=".596" stop-color="#8bff4b"/><stop offset=".650" stop-color="#52fa7a"/><stop offset=".695" stop-color="#2ff19b"/><stop offset=".726" stop-color="#22ebaa"/><stop offset=".810" stop-color="#18d7ca"/><stop offset="1.000" stop-color="#20c7df"/></linearGradient><linearGradient id="c110" x1="0" y1="0" x2="0" y2="1"><stop offset=".000" stop-color="#c32503"/><stop offset=".061" stop-color="#ca2a04"/><stop offset=".252" stop-color="#ec530f"/><stop offset=".336" stop-color="#f9781e"/><stop offset=".390" stop-color="#fea431"/><stop offset=".436" stop-color="#f6c33a"/><stop offset=".474" stop-color="#e5d938"/><stop offset=".558" stop-color="#a9fb39"/><stop offset=".604" stop-color="#80ff53"/><stop offset=".665" stop-color="#43f787"/><stop offset=".688" stop-color="#32f298"/><stop offset=".741" stop-color="#1de7b2"/><stop offset=".810" stop-color="#18d7ca"/><stop offset="1.000" stop-color="#20c7df"/></linearGradient><linearGradient id="c111" x1="0" y1="0" x2="0" y2="1"><stop offset=".000" stop-color="#c32503"/><stop offset=".061" stop-color="#ca2a04"/><stop offset=".260" stop-color="#ef5811"/><stop offset=".344" stop-color="#fb8122"/><stop offset=".382" stop-color="#fea130"/><stop offset=".459" stop-color="#ebd339"/><stop offset=".520" stop-color="#c3f134"/><stop offset=".558" stop-color="#a7fc3a"/><stop offset=".604" stop-color="#7dff56"/><stop offset=".657" stop-color="#46f884"/><stop offset=".734" stop-color="#1fe9af"/><stop offset=".810" stop-color="#18d7ca"/><stop offset="1.000" stop-color="#20c7df"/></linearGradient><linearGradient id="c112" x1="0" y1="0" x2="0" y2="1"><stop offset=".000" stop-color="#bc2002"/><stop offset=".061" stop-color="#c32503"/><stop offset=".160" stop-color="#dd3d08"/><stop offset=".283" stop-color="#f15d13"/><stop offset=".344" stop-color="#fb7e21"/><stop offset=".413" stop-color="#fbb637"/><stop offset=".489" stop-color="#dbe236"/><stop offset=".565" stop-color="#a4fc3c"/><stop offset=".596" stop-color="#88ff4e"/><stop offset=".642" stop-color="#55fa76"/><stop offset=".711" stop-color="#27eea4"/><stop offset=".772" stop-color="#18e0bd"/><stop offset=".810" stop-color="#18d7ca"/><stop offset="1.000" stop-color="#20c7df"/></linearGradient><linearGradient id="c113" x1="0" y1="0" x2="0" y2="1"><stop offset=".000" stop-color="#b41b01"/><stop offset=".076" stop-color="#c12302"/><stop offset=".275" stop-color="#ed5510"/><stop offset=".336" stop-color="#f9751d"/><stop offset=".413" stop-color="#fcb336"/><stop offset=".489" stop-color="#dde037"/><stop offset=".558" stop-color="#acfb38"/><stop offset=".588" stop-color="#92ff47"/><stop offset=".657" stop-color="#4af880"/><stop offset=".726" stop-color="#22ebaa"/><stop offset=".810" stop-color="#18d7ca"/><stop offset="1.000" stop-color="#20c7df"/></linearGradient><linearGradient id="c114" x1="0" y1="0" x2="0" y2="1"><stop offset=".000" stop-color="#ac1701"/><stop offset=".084" stop-color="#bc2002"/><stop offset=".168" stop-color="#d63506"/><stop offset=".267" stop-color="#ea4e0d"/><stop offset=".336" stop-color="#f8721c"/><stop offset=".413" stop-color="#fcb136"/><stop offset=".489" stop-color="#dfdf37"/><stop offset=".535" stop-color="#bef434"/><stop offset=".573" stop-color="#a1fd3d"/><stop offset=".665" stop-color="#46f884"/><stop offset=".703" stop-color="#2cf09e"/><stop offset=".734" stop-color="#20eaac"/><stop offset=".802" stop-color="#18d9c8"/><stop offset="1.000" stop-color="#20c7df"/></linearGradient><linearGradient id="c115" x1="0" y1="0" x2="0" y2="1"><stop offset=".000" stop-color="#af1801"/><stop offset=".107" stop-color="#c82803"/><stop offset=".275" stop-color="#ed5510"/><stop offset=".344" stop-color="#fa7b1f"/><stop offset=".413" stop-color="#fcb336"/><stop offset=".489" stop-color="#dde037"/><stop offset=".558" stop-color="#acfb38"/><stop offset=".588" stop-color="#92ff47"/><stop offset=".627" stop-color="#65fd69"/><stop offset=".680" stop-color="#38f491"/><stop offset=".726" stop-color="#22ebaa"/><stop offset=".810" stop-color="#18d7ca"/><stop offset="1.000" stop-color="#20c7df"/></linearGradient><linearGradient id="c116" x1="0" y1="0" x2="0" y2="1"><stop offset=".000" stop-color="#b71d02"/><stop offset=".061" stop-color="#be2102"/><stop offset=".153" stop-color="#da3907"/><stop offset=".260" stop-color="#ed5510"/><stop offset=".344" stop-color="#fc8423"/><stop offset=".405" stop-color="#fcb336"/><stop offset=".481" stop-color="#dde037"/><stop offset=".558" stop-color="#a7fc3a"/><stop offset=".596" stop-color="#84ff51"/><stop offset=".627" stop-color="#61fc6c"/><stop offset=".703" stop-color="#2aefa1"/><stop offset=".749" stop-color="#1ce6b4"/><stop offset=".810" stop-color="#18d7ca"/><stop offset="1.000" stop-color="#20c7df"/></linearGradient><linearGradient id="c117" x1="0" y1="0" x2="0" y2="1"><stop offset=".000" stop-color="#be2102"/><stop offset=".069" stop-color="#c82803"/><stop offset=".245" stop-color="#ef5811"/><stop offset=".336" stop-color="#fc8725"/><stop offset=".374" stop-color="#fea431"/><stop offset=".436" stop-color="#f1cb3a"/><stop offset=".512" stop-color="#c3f134"/><stop offset=".558" stop-color="#a1fd3d"/><stop offset=".596" stop-color="#80ff53"/><stop offset=".634" stop-color="#55fa76"/><stop offset=".688" stop-color="#2ff19b"/><stop offset=".718" stop-color="#22ebaa"/><stop offset=".795" stop-color="#18d9c8"/><stop offset="1.000" stop-color="#20c7df"/></linearGradient><linearGradient id="c118" x1="0" y1="0" x2="0" y2="1"><stop offset=".000" stop-color="#c32503"/><stop offset=".069" stop-color="#ce2d04"/><stop offset=".229" stop-color="#f05b12"/><stop offset=".267" stop-color="#f56918"/><stop offset=".367" stop-color="#fea732"/><stop offset=".443" stop-color="#e9d539"/><stop offset=".504" stop-color="#c3f134"/><stop offset=".543" stop-color="#a9fb39"/><stop offset=".581" stop-color="#8bff4b"/><stop offset=".650" stop-color="#46f884"/><stop offset=".695" stop-color="#2aefa1"/><stop offset=".734" stop-color="#1de7b2"/><stop offset=".802" stop-color="#18d7ca"/><stop offset="1.000" stop-color="#20c7df"/></linearGradient><linearGradient id="c119" x1="0" y1="0" x2="0" y2="1"><stop offset=".000" stop-color="#ca2a04"/><stop offset=".069" stop-color="#d23105"/><stop offset=".214" stop-color="#f15d13"/><stop offset=".260" stop-color="#f76f1a"/><stop offset=".359" stop-color="#fea933"/><stop offset=".443" stop-color="#e5d938"/><stop offset=".504" stop-color="#bef434"/><stop offset=".543" stop-color="#a4fc3c"/><stop offset=".581" stop-color="#84ff51"/><stop offset=".634" stop-color="#4ef97d"/><stop offset=".711" stop-color="#22ebaa"/><stop offset=".802" stop-color="#18d7ca"/><stop offset="1.000" stop-color="#20c7df"/></linearGradient><linearGradient id="c120" x1="0" y1="0" x2="0" y2="1"><stop offset=".000" stop-color="#ce2d04"/><stop offset=".061" stop-color="#d43305"/><stop offset=".145" stop-color="#ea4e0d"/><stop offset=".267" stop-color="#fb7e21"/><stop offset=".344" stop-color="#fdac34"/><stop offset=".420" stop-color="#e9d539"/><stop offset=".489" stop-color="#c1f334"/><stop offset=".527" stop-color="#a7fc3a"/><stop offset=".573" stop-color="#84ff51"/><stop offset=".634" stop-color="#46f884"/><stop offset=".703" stop-color="#22ebaa"/><stop offset=".757" stop-color="#19e2bb"/><stop offset=".810" stop-color="#19d5cd"/><stop offset="1.000" stop-color="#20c7df"/></linearGradient><linearGradient id="c121" x1="0" y1="0" x2="0" y2="1"><stop offset=".000" stop-color="#d23105"/><stop offset=".061" stop-color="#d83706"/><stop offset=".115" stop-color="#e7490c"/><stop offset=".229" stop-color="#fa7b1f"/><stop offset=".321" stop-color="#fea933"/><stop offset=".405" stop-color="#e9d539"/><stop offset=".474" stop-color="#c3f134"/><stop offset=".520" stop-color="#a4fc3c"/><stop offset=".558" stop-color="#88ff4e"/><stop offset=".634" stop-color="#3ff68a"/><stop offset=".695" stop-color="#22ebaa"/><stop offset=".749" stop-color="#19e2bb"/><stop offset=".802" stop-color="#19d5cd"/><stop offset="1.000" stop-color="#20c7df"/></linearGradient><linearGradient id="c122" x1="0" y1="0" x2="0" y2="1"><stop offset=".000" stop-color="#d63506"/><stop offset=".061" stop-color="#dc3b07"/><stop offset=".115" stop-color="#e84b0c"/><stop offset=".267" stop-color="#fc8725"/><stop offset=".344" stop-color="#fcb136"/><stop offset=".413" stop-color="#e9d539"/><stop offset=".512" stop-color="#acfb38"/><stop offset=".558" stop-color="#8bff4b"/><stop offset=".627" stop-color="#46f884"/><stop offset=".695" stop-color="#22ebaa"/><stop offset=".795" stop-color="#18d7ca"/><stop offset="1.000" stop-color="#20c7df"/></linearGradient><linearGradient id="c123" x1="0" y1="0" x2="0" y2="1"><stop offset=".000" stop-color="#da3907"/><stop offset=".053" stop-color="#df3f08"/><stop offset=".183" stop-color="#f46617"/><stop offset=".267" stop-color="#fc8423"/><stop offset=".344" stop-color="#fdac34"/><stop offset=".420" stop-color="#e7d739"/><stop offset=".489" stop-color="#c1f334"/><stop offset=".527" stop-color="#a7fc3a"/><stop offset=".565" stop-color="#88ff4e"/><stop offset=".627" stop-color="#4af880"/><stop offset=".703" stop-color="#22ebaa"/><stop offset=".757" stop-color="#19e2bb"/><stop offset=".818" stop-color="#19d5cd"/><stop offset="1.000" stop-color="#1fc9dd"/></linearGradient><linearGradient id="c124" x1="0" y1="0" x2="0" y2="1"><stop offset=".000" stop-color="#dd3d08"/><stop offset=".076" stop-color="#e5470b"/><stop offset=".260" stop-color="#fb7e21"/><stop offset=".352" stop-color="#fdac34"/><stop offset=".428" stop-color="#e7d739"/><stop offset=".489" stop-color="#c3f134"/><stop offset=".535" stop-color="#a4fc3c"/><stop offset=".573" stop-color="#84ff51"/><stop offset=".634" stop-color="#46f884"/><stop offset=".703" stop-color="#22ebaa"/><stop offset=".802" stop-color="#18d7ca"/><stop offset="1.000" stop-color="#1fc9dd"/></linearGradient><linearGradient id="c125" x1="0" y1="0" x2="0" y2="1"><stop offset=".000" stop-color="#df3f08"/><stop offset=".061" stop-color="#e4450a"/><stop offset=".260" stop-color="#fb7e21"/><stop offset=".359" stop-color="#fdae35"/><stop offset=".436" stop-color="#e5d938"/><stop offset=".497" stop-color="#bef434"/><stop offset=".535" stop-color="#a4fc3c"/><stop offset=".573" stop-color="#84ff51"/><stop offset=".627" stop-color="#4ef97d"/><stop offset=".680" stop-color="#2cf09e"/><stop offset=".711" stop-color="#22ebaa"/><stop offset=".795" stop-color="#18d9c8"/><stop offset="1.000" stop-color="#1fc9dd"/></linearGradient><linearGradient id="c126" x1="0" y1="0" x2="0" y2="1"><stop offset=".000" stop-color="#df3f08"/><stop offset=".061" stop-color="#e4450a"/><stop offset=".245" stop-color="#f9781e"/><stop offset=".359" stop-color="#fdae35"/><stop offset=".436" stop-color="#e5d938"/><stop offset=".497" stop-color="#c1f334"/><stop offset=".543" stop-color="#a1fd3d"/><stop offset=".581" stop-color="#80ff53"/><stop offset=".634" stop-color="#4af880"/><stop offset=".711" stop-color="#22ebaa"/><stop offset=".810" stop-color="#18d7ca"/><stop offset="1.000" stop-color="#1fc9dd"/></linearGradient><linearGradient id="c127" x1="0" y1="0" x2="0" y2="1"><stop offset=".000" stop-color="#df3f08"/><stop offset=".076" stop-color="#e5470b"/><stop offset=".237" stop-color="#f9751d"/><stop offset=".336" stop-color="#fe9e2f"/><stop offset=".359" stop-color="#fdae35"/><stop offset=".436" stop-color="#e5d938"/><stop offset=".497" stop-color="#c1f334"/><stop offset=".535" stop-color="#a7fc3a"/><stop offset=".573" stop-color="#88ff4e"/><stop offset=".642" stop-color="#46f884"/><stop offset=".718" stop-color="#20eaac"/><stop offset=".818" stop-color="#18d7ca"/><stop offset="1.000" stop-color="#1ecbda"/></linearGradient><linearGradient id="c128" x1="0" y1="0" x2="0" y2="1"><stop offset=".000" stop-color="#dd3d08"/><stop offset=".061" stop-color="#e2430a"/><stop offset=".252" stop-color="#f9781e"/><stop offset=".359" stop-color="#fdac34"/><stop offset=".436" stop-color="#e7d739"/><stop offset=".497" stop-color="#c3f134"/><stop offset=".543" stop-color="#a4fc3c"/><stop offset=".581" stop-color="#84ff51"/><stop offset=".634" stop-color="#4ef97d"/><stop offset=".711" stop-color="#25eca7"/><stop offset=".802" stop-color="#18d9c8"/><stop offset="1.000" stop-color="#1ecbda"/></linearGradient><linearGradient id="c129" x1="0" y1="0" x2="0" y2="1"><stop offset=".000" stop-color="#e2430a"/><stop offset=".069" stop-color="#e84b0c"/><stop offset=".260" stop-color="#fb7e21"/><stop offset=".367" stop-color="#fcb136"/><stop offset=".443" stop-color="#e3db38"/><stop offset=".504" stop-color="#bef434"/><stop offset=".543" stop-color="#a4fc3c"/><stop offset=".581" stop-color="#84ff51"/><stop offset=".634" stop-color="#4ef97d"/><stop offset=".711" stop-color="#25eca7"/><stop offset=".795" stop-color="#18dbc5"/><stop offset="1.000" stop-color="#1ecbda"/></linearGradient><linearGradient id="c130" x1="0" y1="0" x2="0" y2="1"><stop offset=".000" stop-color="#e84b0c"/><stop offset=".061" stop-color="#ec530f"/><stop offset=".245" stop-color="#fc8725"/><stop offset=".352" stop-color="#fcb336"/><stop offset=".420" stop-color="#e7d739"/><stop offset=".497" stop-color="#bcf534"/><stop offset=".535" stop-color="#a1fd3d"/><stop offset=".581" stop-color="#7dff56"/><stop offset=".642" stop-color="#43f787"/><stop offset=".711" stop-color="#22ebaa"/><stop offset=".818" stop-color="#18d7ca"/><stop offset="1.000" stop-color="#1ecbda"/></linearGradient><linearGradient id="c131" x1="0" y1="0" x2="0" y2="1"><stop offset=".000" stop-color="#ed5510"/><stop offset=".092" stop-color="#f46617"/><stop offset=".214" stop-color="#fd8d27"/><stop offset=".344" stop-color="#fbb838"/><stop offset=".436" stop-color="#d9e436"/><stop offset=".489" stop-color="#b9f635"/><stop offset=".527" stop-color="#9ffd3f"/><stop offset=".581" stop-color="#75fe5c"/><stop offset=".634" stop-color="#43f787"/><stop offset=".703" stop-color="#22ebaa"/><stop offset=".810" stop-color="#18d7ca"/><stop offset="1.000" stop-color="#1ecbda"/></linearGradient><linearGradient id="c132" x1="0" y1="0" x2="0" y2="1"><stop offset=".000" stop-color="#f26014"/><stop offset=".069" stop-color="#f56918"/><stop offset=".214" stop-color="#fe932a"/><stop offset=".260" stop-color="#fe9b2d"/><stop offset=".344" stop-color="#faba39"/><stop offset=".405" stop-color="#e7d739"/><stop offset=".474" stop-color="#c1f334"/><stop offset=".527" stop-color="#9ffd3f"/><stop offset=".588" stop-color="#6dfe62"/><stop offset=".627" stop-color="#46f884"/><stop offset=".703" stop-color="#22ebaa"/><stop offset=".802" stop-color="#18d7ca"/><stop offset="1.000" stop-color="#1fc9dd"/></linearGradient><linearGradient id="c133" x1="0" y1="0" x2="0" y2="1"><stop offset=".000" stop-color="#f56918"/><stop offset=".069" stop-color="#f8721c"/><stop offset=".222" stop-color="#fe992c"/><stop offset=".344" stop-color="#faba39"/><stop offset=".428" stop-color="#dbe236"/><stop offset=".481" stop-color="#bcf534"/><stop offset=".527" stop-color="#9ffd3f"/><stop offset=".558" stop-color="#88ff4e"/><stop offset=".627" stop-color="#46f884"/><stop offset=".695" stop-color="#22ebaa"/><stop offset=".757" stop-color="#19e2bb"/><stop offset=".818" stop-color="#19d5cd"/><stop offset="1.000" stop-color="#1fc9dd"/></linearGradient><linearGradient id="c134" x1="0" y1="0" x2="0" y2="1"><stop offset=".000" stop-color="#f8721c"/><stop offset=".252" stop-color="#fea130"/><stop offset=".344" stop-color="#f9bc39"/><stop offset=".405" stop-color="#e5d938"/><stop offset=".481" stop-color="#bcf534"/><stop offset=".520" stop-color="#a1fd3d"/><stop offset=".565" stop-color="#80ff53"/><stop offset=".627" stop-color="#46f884"/><stop offset=".695" stop-color="#22ebaa"/><stop offset=".749" stop-color="#19e2bb"/><stop offset=".810" stop-color="#19d5cd"/><stop offset="1.000" stop-color="#1fc9dd"/></linearGradient><linearGradient id="c135" x1="0" y1="0" x2="0" y2="1"><stop offset=".000" stop-color="#fa7b1f"/><stop offset=".267" stop-color="#fea933"/><stop offset=".344" stop-color="#f8be39"/><stop offset=".436" stop-color="#d2e935"/><stop offset=".481" stop-color="#b9f635"/><stop offset=".527" stop-color="#9cfe40"/><stop offset=".558" stop-color="#84ff51"/><stop offset=".627" stop-color="#43f787"/><stop offset=".703" stop-color="#20eaac"/><stop offset=".802" stop-color="#19d5cd"/><stop offset="1.000" stop-color="#20c7df"/></linearGradient><linearGradient id="c136" x1="0" y1="0" x2="0" y2="1"><stop offset=".000" stop-color="#fb8122"/><stop offset=".222" stop-color="#fea933"/><stop offset=".344" stop-color="#f5c53a"/><stop offset=".459" stop-color="#c1f334"/><stop offset=".512" stop-color="#9ffd3f"/><stop offset=".550" stop-color="#84ff51"/><stop offset=".627" stop-color="#3ff68a"/><stop offset=".695" stop-color="#20eaac"/><stop offset=".749" stop-color="#18e0bd"/><stop offset=".810" stop-color="#1ad4d0"/><stop offset="1.000" stop-color="#20c7df"/></linearGradient><linearGradient id="c137" x1="0" y1="0" x2="0" y2="1"><stop offset=".000" stop-color="#fc8423"/><stop offset=".214" stop-color="#fcb136"/><stop offset=".321" stop-color="#f1cb3a"/><stop offset=".397" stop-color="#d7e535"/><stop offset=".459" stop-color="#b7f735"/><stop offset=".497" stop-color="#9ffd3f"/><stop offset=".565" stop-color="#6dfe62"/><stop offset=".627" stop-color="#38f491"/><stop offset=".688" stop-color="#20eaac"/><stop offset=".741" stop-color="#18e0bd"/><stop offset=".802" stop-color="#1ad4d0"/><stop offset="1.000" stop-color="#20c7df"/></linearGradient><linearGradient id="c138" x1="0" y1="0" x2="0" y2="1"><stop offset=".000" stop-color="#fe962b"/><stop offset=".076" stop-color="#fe9e2f"/><stop offset=".168" stop-color="#fbb637"/><stop offset=".290" stop-color="#eecf3a"/><stop offset=".352" stop-color="#dde037"/><stop offset=".428" stop-color="#b9f635"/><stop offset=".497" stop-color="#92ff47"/><stop offset=".543" stop-color="#75fe5c"/><stop offset=".627" stop-color="#35f394"/><stop offset=".688" stop-color="#1fe9af"/><stop offset=".741" stop-color="#18dec0"/><stop offset=".810" stop-color="#1ad2d2"/><stop offset="1.000" stop-color="#22c5e2"/></linearGradient><linearGradient id="c139" x1="0" y1="0" x2="0" y2="1"><stop offset=".000" stop-color="#43f787"/><stop offset=".069" stop-color="#61fc6c"/><stop offset=".122" stop-color="#6dfe62"/><stop offset=".252" stop-color="#7dff56"/><stop offset=".298" stop-color="#79fe59"/><stop offset=".390" stop-color="#61fc6c"/><stop offset=".527" stop-color="#2aefa1"/><stop offset=".596" stop-color="#19e3b9"/><stop offset=".665" stop-color="#19d5cd"/><stop offset=".795" stop-color="#28bceb"/><stop offset="1.000" stop-color="#2fb2f4"/></linearGradient><linearGradient id="c140" x1="0" y1="0" x2="0" y2="1"><stop offset=".000" stop-color="#4456c7"/><stop offset=".069" stop-color="#476ee6"/><stop offset=".176" stop-color="#458afc"/><stop offset=".367" stop-color="#35abf8"/><stop offset=".520" stop-color="#37a8fa"/><stop offset=".779" stop-color="#458cfd"/><stop offset="1.000" stop-color="#458cfd"/></linearGradient><linearGradient id="c141" x1="0" y1="0" x2="0" y2="1"><stop offset=".000" stop-color="#33184a"/><stop offset=".092" stop-color="#372466"/><stop offset=".115" stop-color="#372466"/><stop offset=".138" stop-color="#392a73"/><stop offset=".176" stop-color="#3a2d79"/><stop offset=".306" stop-color="#4143a7"/><stop offset=".428" stop-color="#4451bf"/><stop offset=".550" stop-color="#4559cb"/><stop offset=".810" stop-color="#4559cb"/><stop offset="1.000" stop-color="#4664da"/></linearGradient><linearGradient id="c142" x1="0" y1="0" x2="0" y2="1"><stop offset=".000" stop-color="#30123b"/><stop offset=".145" stop-color="#30123b"/><stop offset=".153" stop-color="#321543"/><stop offset=".222" stop-color="#321543"/><stop offset=".229" stop-color="#33184a"/><stop offset=".329" stop-color="#341b51"/><stop offset=".336" stop-color="#351e58"/><stop offset=".374" stop-color="#351e58"/><stop offset=".382" stop-color="#36215f"/><stop offset=".420" stop-color="#36215f"/><stop offset=".474" stop-color="#38276d"/><stop offset=".520" stop-color="#38276d"/><stop offset=".527" stop-color="#392a73"/><stop offset=".573" stop-color="#392a73"/><stop offset=".581" stop-color="#3a2d79"/><stop offset=".802" stop-color="#3c3286"/><stop offset=".948" stop-color="#3f3e9c"/><stop offset="1.000" stop-color="#3f3e9c"/></linearGradient><linearGradient id="c143" x1="0" y1="0" x2="0" y2="1"><stop offset=".000" stop-color="#30123b"/><stop offset=".397" stop-color="#30123b"/><stop offset=".405" stop-color="#321543"/><stop offset=".642" stop-color="#33184a"/><stop offset=".650" stop-color="#341b51"/><stop offset=".833" stop-color="#351e58"/><stop offset=".841" stop-color="#36215f"/><stop offset=".902" stop-color="#36215f"/><stop offset=".909" stop-color="#372466"/><stop offset="1.000" stop-color="#38276d"/></linearGradient><linearGradient id="c144" x1="0" y1="0" x2="0" y2="1"><stop offset=".000" stop-color="#30123b"/><stop offset=".711" stop-color="#30123b"/><stop offset=".718" stop-color="#321543"/><stop offset="1.000" stop-color="#33184a"/></linearGradient><linearGradient id="c145" x1="0" y1="0" x2="0" y2="1"><stop offset=".000" stop-color="#30123b"/><stop offset="1.000" stop-color="#30123b"/></linearGradient><linearGradient id="c146" x1="0" y1="0" x2="0" y2="1"><stop offset=".000" stop-color="#30123b"/><stop offset="1.000" stop-color="#30123b"/></linearGradient><linearGradient id="c147" x1="0" y1="0" x2="0" y2="1"><stop offset=".000" stop-color="#30123b"/><stop offset="1.000" stop-color="#30123b"/></linearGradient><linearGradient id="c148" x1="0" y1="0" x2="0" y2="1"><stop offset=".000" stop-color="#30123b"/><stop offset="1.000" stop-color="#30123b"/></linearGradient><linearGradient id="c149" x1="0" y1="0" x2="0" y2="1"><stop offset=".000" stop-color="#fe9b2d"/><stop offset=".084" stop-color="#f5c53a"/><stop offset=".115" stop-color="#c6f034"/><stop offset=".145" stop-color="#9ffd3f"/><stop offset=".214" stop-color="#79fe59"/><stop offset=".344" stop-color="#61fc6c"/><stop offset=".436" stop-color="#27eea4"/><stop offset=".481" stop-color="#19e3b9"/><stop offset=".535" stop-color="#1ad4d0"/><stop offset=".604" stop-color="#2cb7f0"/><stop offset=".672" stop-color="#3ba0fd"/><stop offset=".802" stop-color="#4685fa"/><stop offset="1.000" stop-color="#477bf2"/></linearGradient><linearGradient id="c150" x1="0" y1="0" x2="0" y2="1"><stop offset=".000" stop-color="#31aff5"/><stop offset=".076" stop-color="#38a5fb"/><stop offset=".107" stop-color="#4391fe"/><stop offset=".168" stop-color="#467df4"/><stop offset=".390" stop-color="#476ee6"/><stop offset=".527" stop-color="#4559cb"/><stop offset=".634" stop-color="#4146ac"/><stop offset=".764" stop-color="#3f3b97"/><stop offset="1.000" stop-color="#3d358b"/></linearGradient><linearGradient id="c151" x1="0" y1="0" x2="0" y2="1"><stop offset=".000" stop-color="#4682f8"/><stop offset=".352" stop-color="#466be3"/><stop offset=".527" stop-color="#4454c3"/><stop offset=".627" stop-color="#4143a7"/><stop offset=".779" stop-color="#3e3891"/><stop offset="1.000" stop-color="#3d358b"/></linearGradient><linearGradient id="c152" x1="0" y1="0" x2="0" y2="1"><stop offset=".000" stop-color="#a1fd3d"/><stop offset=".061" stop-color="#9cfe40"/><stop offset=".260" stop-color="#61fc6c"/><stop offset=".374" stop-color="#2cf09e"/><stop offset=".443" stop-color="#19e2bb"/><stop offset=".504" stop-color="#1ad2d2"/><stop offset=".581" stop-color="#2eb4f2"/><stop offset=".634" stop-color="#3ba0fd"/><stop offset=".795" stop-color="#4682f8"/><stop offset="1.000" stop-color="#4778f0"/></linearGradient><linearGradient id="c153" x1="0" y1="0" x2="0" y2="1"><stop offset=".001" stop-color="#1ecbda"/><stop offset=".119" stop-color="#37a8fa"/><stop offset=".226" stop-color="#458cfd"/><stop offset=".312" stop-color="#4773eb"/><stop offset=".472" stop-color="#455ccf"/><stop offset=".504" stop-color="#4143a7"/><stop offset=".648" stop-color="#3f3e9c"/><stop offset=".652" stop-color="#3f3b97"/><stop offset=".734" stop-color="#3f3b97"/><stop offset=".738" stop-color="#3e3891"/><stop offset="1.000" stop-color="#3d358b"/></linearGradient><linearGradient id="c154" x1="0" y1="0" x2="0" y2="1"><stop offset=".001" stop-color="#1ccdd8"/><stop offset=".128" stop-color="#37a8fa"/><stop offset=".230" stop-color="#458cfd"/><stop offset=".316" stop-color="#4773eb"/><stop offset=".468" stop-color="#455ed3"/><stop offset=".484" stop-color="#4456c7"/><stop offset=".508" stop-color="#4143a7"/><stop offset=".660" stop-color="#3f3e9c"/><stop offset=".664" stop-color="#3f3b97"/><stop offset=".742" stop-color="#3f3b97"/><stop offset=".746" stop-color="#3e3891"/><stop offset="1.000" stop-color="#3d358b"/></linearGradient><linearGradient id="c155" x1="0" y1="0" x2="0" y2="1"><stop offset=".001" stop-color="#1ccdd8"/><stop offset=".132" stop-color="#37a8fa"/><stop offset=".234" stop-color="#458cfd"/><stop offset=".308" stop-color="#4776ee"/><stop offset=".472" stop-color="#455ed3"/><stop offset=".513" stop-color="#4143a7"/><stop offset=".664" stop-color="#3f3e9c"/><stop offset=".668" stop-color="#3f3b97"/><stop offset=".746" stop-color="#3f3b97"/><stop offset=".750" stop-color="#3e3891"/><stop offset="1.000" stop-color="#3d358b"/></linearGradient><linearGradient id="c156" x1="0" y1="0" x2="0" y2="1"><stop offset=".001" stop-color="#1bd0d5"/><stop offset=".128" stop-color="#35abf8"/><stop offset=".238" stop-color="#458cfd"/><stop offset=".312" stop-color="#4776ee"/><stop offset=".472" stop-color="#455ed3"/><stop offset=".508" stop-color="#4143a7"/><stop offset=".615" stop-color="#4040a2"/><stop offset=".672" stop-color="#3f3b97"/><stop offset=".754" stop-color="#3f3b97"/><stop offset=".758" stop-color="#3e3891"/><stop offset=".857" stop-color="#3e3891"/><stop offset=".861" stop-color="#3d358b"/><stop offset="1.000" stop-color="#3d358b"/></linearGradient><linearGradient id="c157" x1="0" y1="0" x2="0" y2="1"><stop offset=".001" stop-color="#1bd0d5"/><stop offset=".128" stop-color="#35abf8"/><stop offset=".238" stop-color="#458cfd"/><stop offset=".312" stop-color="#4776ee"/><stop offset=".472" stop-color="#455ed3"/><stop offset=".508" stop-color="#4143a7"/><stop offset=".672" stop-color="#3f3e9c"/><stop offset=".676" stop-color="#3f3b97"/><stop offset=".758" stop-color="#3f3b97"/><stop offset=".762" stop-color="#3e3891"/><stop offset=".857" stop-color="#3e3891"/><stop offset=".861" stop-color="#3d358b"/><stop offset="1.000" stop-color="#3d358b"/></linearGradient><linearGradient id="c158" x1="0" y1="0" x2="0" y2="1"><stop offset=".001" stop-color="#1ccdd8"/><stop offset=".128" stop-color="#37a8fa"/><stop offset=".242" stop-color="#458afc"/><stop offset=".308" stop-color="#4776ee"/><stop offset=".472" stop-color="#455ed3"/><stop offset=".508" stop-color="#4143a7"/><stop offset=".619" stop-color="#4040a2"/><stop offset=".681" stop-color="#3f3b97"/><stop offset=".762" stop-color="#3f3b97"/><stop offset=".767" stop-color="#3e3891"/><stop offset=".857" stop-color="#3e3891"/><stop offset=".861" stop-color="#3d358b"/><stop offset="1.000" stop-color="#3d358b"/></linearGradient><linearGradient id="c159" x1="0" y1="0" x2="0" y2="1"><stop offset=".001" stop-color="#1fc9dd"/><stop offset=".119" stop-color="#38a5fb"/><stop offset=".230" stop-color="#458afc"/><stop offset=".312" stop-color="#4773eb"/><stop offset=".472" stop-color="#455ccf"/><stop offset=".504" stop-color="#4143a7"/><stop offset=".656" stop-color="#3f3e9c"/><stop offset=".660" stop-color="#3f3b97"/><stop offset=".746" stop-color="#3f3b97"/><stop offset=".750" stop-color="#3e3891"/><stop offset="1.000" stop-color="#3d358b"/></linearGradient><linearGradient id="c160" x1="0" y1="0" x2="0" y2="1"><stop offset=".001" stop-color="#27bee9"/><stop offset=".111" stop-color="#3e9bfe"/><stop offset=".234" stop-color="#4680f6"/><stop offset=".463" stop-color="#4559cb"/><stop offset=".476" stop-color="#4456c7"/><stop offset=".513" stop-color="#3f3e9c"/><stop offset=".672" stop-color="#3f3b97"/><stop offset=".676" stop-color="#3e3891"/><stop offset="1.000" stop-color="#3d358b"/></linearGradient><linearGradient id="c161" x1="0" y1="0" x2="0" y2="1"><stop offset=".001" stop-color="#2cb7f0"/><stop offset=".123" stop-color="#4294ff"/><stop offset=".275" stop-color="#4776ee"/><stop offset=".476" stop-color="#4456c7"/><stop offset=".513" stop-color="#3f3e9c"/><stop offset=".672" stop-color="#3f3b97"/><stop offset=".676" stop-color="#3e3891"/><stop offset="1.000" stop-color="#3d358b"/></linearGradient><linearGradient id="c162" x1="0" y1="0" x2="0" y2="1"><stop offset=".001" stop-color="#2eb4f2"/><stop offset=".111" stop-color="#4294ff"/><stop offset=".279" stop-color="#4773eb"/><stop offset=".472" stop-color="#4456c7"/><stop offset=".504" stop-color="#4040a2"/><stop offset=".517" stop-color="#3f3e9c"/><stop offset=".672" stop-color="#3f3b97"/><stop offset=".676" stop-color="#3e3891"/><stop offset="1.000" stop-color="#3d358b"/></linearGradient><linearGradient id="c163" x1="0" y1="0" x2="0" y2="1"><stop offset=".001" stop-color="#2eb4f2"/><stop offset=".115" stop-color="#4294ff"/><stop offset=".152" stop-color="#4687fb"/><stop offset=".267" stop-color="#4776ee"/><stop offset=".459" stop-color="#4559cb"/><stop offset=".472" stop-color="#4456c7"/><stop offset=".504" stop-color="#4040a2"/><stop offset=".517" stop-color="#3f3e9c"/><stop offset=".594" stop-color="#3f3e9c"/><stop offset=".599" stop-color="#3f3b97"/><stop offset=".672" stop-color="#3f3b97"/><stop offset=".676" stop-color="#3e3891"/><stop offset="1.000" stop-color="#3d358b"/></linearGradient><linearGradient id="c164" x1="0" y1="0" x2="0" y2="1"><stop offset=".001" stop-color="#2cb7f0"/><stop offset=".119" stop-color="#4294ff"/><stop offset=".271" stop-color="#4776ee"/><stop offset=".476" stop-color="#4456c7"/><stop offset=".504" stop-color="#4040a2"/><stop offset=".517" stop-color="#3f3e9c"/><stop offset=".594" stop-color="#3f3e9c"/><stop offset=".599" stop-color="#3f3b97"/><stop offset=".672" stop-color="#3f3b97"/><stop offset=".676" stop-color="#3e3891"/><stop offset="1.000" stop-color="#3d358b"/></linearGradient><linearGradient id="c165" x1="0" y1="0" x2="0" y2="1"><stop offset=".001" stop-color="#2ab9ee"/><stop offset=".107" stop-color="#4099ff"/><stop offset=".250" stop-color="#477bf2"/><stop offset=".463" stop-color="#4559cb"/><stop offset=".476" stop-color="#4456c7"/><stop offset=".504" stop-color="#4040a2"/><stop offset=".517" stop-color="#3f3e9c"/><stop offset=".594" stop-color="#3f3e9c"/><stop offset=".599" stop-color="#3f3b97"/><stop offset=".672" stop-color="#3f3b97"/><stop offset=".676" stop-color="#3e3891"/><stop offset="1.000" stop-color="#3d358b"/></linearGradient><linearGradient id="c166" x1="0" y1="0" x2="0" y2="1"><stop offset=".001" stop-color="#28bceb"/><stop offset=".115" stop-color="#4099ff"/><stop offset=".242" stop-color="#467df4"/><stop offset=".463" stop-color="#4559cb"/><stop offset=".476" stop-color="#4456c7"/><stop offset=".504" stop-color="#4040a2"/><stop offset=".517" stop-color="#3f3e9c"/><stop offset=".594" stop-color="#3f3e9c"/><stop offset=".599" stop-color="#3f3b97"/><stop offset=".672" stop-color="#3f3b97"/><stop offset=".676" stop-color="#3e3891"/><stop offset="1.000" stop-color="#3d358b"/></linearGradient><linearGradient id="c167" x1="0" y1="0" x2="0" y2="1"><stop offset=".001" stop-color="#27bee9"/><stop offset=".111" stop-color="#3e9bfe"/><stop offset=".238" stop-color="#4680f6"/><stop offset=".468" stop-color="#4559cb"/><stop offset=".488" stop-color="#434eba"/><stop offset=".504" stop-color="#4040a2"/><stop offset=".521" stop-color="#3f3e9c"/><stop offset=".672" stop-color="#3f3b97"/><stop offset=".676" stop-color="#3e3891"/><stop offset="1.000" stop-color="#3d358b"/></linearGradient><linearGradient id="c168" x1="0" y1="0" x2="0" y2="1"><stop offset=".001" stop-color="#25c0e7"/><stop offset=".119" stop-color="#3e9bfe"/><stop offset=".242" stop-color="#4680f6"/><stop offset=".468" stop-color="#4559cb"/><stop offset=".492" stop-color="#424bb5"/><stop offset=".504" stop-color="#4040a2"/><stop offset=".521" stop-color="#3f3e9c"/><stop offset=".672" stop-color="#3f3b97"/><stop offset=".676" stop-color="#3e3891"/><stop offset="1.000" stop-color="#3d358b"/></linearGradient><linearGradient id="c169" x1="0" y1="0" x2="0" y2="1"><stop offset=".001" stop-color="#25c0e7"/><stop offset=".119" stop-color="#3e9bfe"/><stop offset=".242" stop-color="#4680f6"/><stop offset=".468" stop-color="#4559cb"/><stop offset=".492" stop-color="#424bb5"/><stop offset=".504" stop-color="#4040a2"/><stop offset=".521" stop-color="#3f3e9c"/><stop offset=".672" stop-color="#3f3b97"/><stop offset=".676" stop-color="#3e3891"/><stop offset="1.000" stop-color="#3d358b"/></linearGradient><linearGradient id="c170" x1="0" y1="0" x2="0" y2="1"><stop offset=".001" stop-color="#27bee9"/><stop offset=".115" stop-color="#3e9bfe"/><stop offset=".234" stop-color="#4680f6"/><stop offset=".463" stop-color="#4559cb"/><stop offset=".476" stop-color="#4456c7"/><stop offset=".504" stop-color="#4040a2"/><stop offset=".521" stop-color="#3f3e9c"/><stop offset=".672" stop-color="#3f3b97"/><stop offset=".676" stop-color="#3e3891"/><stop offset="1.000" stop-color="#3d358b"/></linearGradient><linearGradient id="c171" x1="0" y1="0" x2="0" y2="1"><stop offset=".001" stop-color="#27bee9"/><stop offset=".103" stop-color="#3d9efe"/><stop offset=".209" stop-color="#4685fa"/><stop offset=".308" stop-color="#476ee6"/><stop offset=".463" stop-color="#4559cb"/><stop offset=".476" stop-color="#4456c7"/><stop offset=".504" stop-color="#4040a2"/><stop offset=".521" stop-color="#3f3e9c"/><stop offset=".672" stop-color="#3f3b97"/><stop offset=".676" stop-color="#3e3891"/><stop offset="1.000" stop-color="#3d358b"/></linearGradient><linearGradient id="c172" x1="0" y1="0" x2="0" y2="1"><stop offset=".001" stop-color="#25c0e7"/><stop offset=".123" stop-color="#3e9bfe"/><stop offset=".242" stop-color="#4680f6"/><stop offset=".312" stop-color="#476ee6"/><stop offset=".468" stop-color="#4559cb"/><stop offset=".488" stop-color="#434eba"/><stop offset=".504" stop-color="#4040a2"/><stop offset=".521" stop-color="#3f3e9c"/><stop offset=".672" stop-color="#3f3b97"/><stop offset=".676" stop-color="#3e3891"/><stop offset="1.000" stop-color="#3d358b"/></linearGradient><linearGradient id="c173" x1="0" y1="0" x2="0" y2="1"><stop offset=".001" stop-color="#23c3e4"/><stop offset=".115" stop-color="#3ba0fd"/><stop offset=".230" stop-color="#4685fa"/><stop offset=".304" stop-color="#4771e9"/><stop offset=".468" stop-color="#4559cb"/><stop offset=".492" stop-color="#424bb5"/><stop offset=".504" stop-color="#4040a2"/><stop offset=".672" stop-color="#3f3b97"/><stop offset=".676" stop-color="#3e3891"/><stop offset="1.000" stop-color="#3d358b"/></linearGradient><linearGradient id="c174" x1="0" y1="0" x2="0" y2="1"><stop offset=".001" stop-color="#22c5e2"/><stop offset=".115" stop-color="#3aa3fc"/><stop offset=".226" stop-color="#4687fb"/><stop offset=".308" stop-color="#4771e9"/><stop offset=".472" stop-color="#4559cb"/><stop offset=".504" stop-color="#4040a2"/><stop offset=".672" stop-color="#3f3b97"/><stop offset=".676" stop-color="#3e3891"/><stop offset="1.000" stop-color="#3d358b"/></linearGradient><linearGradient id="c175" x1="0" y1="0" x2="0" y2="1"><stop offset=".001" stop-color="#20c7df"/><stop offset=".119" stop-color="#3aa3fc"/><stop offset=".230" stop-color="#4687fb"/><stop offset=".312" stop-color="#4771e9"/><stop offset=".472" stop-color="#4559cb"/><stop offset=".504" stop-color="#4040a2"/><stop offset=".672" stop-color="#3f3b97"/><stop offset=".676" stop-color="#3e3891"/><stop offset="1.000" stop-color="#3d358b"/></linearGradient><linearGradient id="c176" x1="0" y1="0" x2="0" y2="1"><stop offset=".001" stop-color="#20c7df"/><stop offset=".123" stop-color="#3aa3fc"/><stop offset=".234" stop-color="#4687fb"/><stop offset=".316" stop-color="#4771e9"/><stop offset=".472" stop-color="#4559cb"/><stop offset=".504" stop-color="#4040a2"/><stop offset=".672" stop-color="#3f3b97"/><stop offset=".676" stop-color="#3e3891"/><stop offset="1.000" stop-color="#3d358b"/></linearGradient><linearGradient id="c177" x1="0" y1="0" x2="0" y2="1"><stop offset=".001" stop-color="#1fc9dd"/><stop offset=".128" stop-color="#3aa3fc"/><stop offset=".238" stop-color="#4687fb"/><stop offset=".320" stop-color="#4771e9"/><stop offset=".472" stop-color="#4559cb"/><stop offset=".500" stop-color="#4146ac"/><stop offset=".504" stop-color="#4040a2"/><stop offset=".676" stop-color="#3f3b97"/><stop offset=".681" stop-color="#3e3891"/><stop offset="1.000" stop-color="#3d358b"/></linearGradient><linearGradient id="c178" x1="0" y1="0" x2="0" y2="1"><stop offset=".001" stop-color="#1fc9dd"/><stop offset=".123" stop-color="#38a5fb"/><stop offset=".230" stop-color="#458afc"/><stop offset=".324" stop-color="#4771e9"/><stop offset=".472" stop-color="#4559cb"/><stop offset=".500" stop-color="#4146ac"/><stop offset=".504" stop-color="#4040a2"/><stop offset=".676" stop-color="#3f3b97"/><stop offset=".681" stop-color="#3e3891"/><stop offset="1.000" stop-color="#3d358b"/></linearGradient><linearGradient id="c179" x1="0" y1="0" x2="0" y2="1"><stop offset=".001" stop-color="#1fc9dd"/><stop offset=".123" stop-color="#38a5fb"/><stop offset=".230" stop-color="#458afc"/><stop offset=".308" stop-color="#4773eb"/><stop offset=".472" stop-color="#4559cb"/><stop offset=".500" stop-color="#4146ac"/><stop offset=".504" stop-color="#4040a2"/><stop offset=".676" stop-color="#3f3b97"/><stop offset=".681" stop-color="#3e3891"/><stop offset="1.000" stop-color="#3d358b"/></linearGradient><linearGradient id="c180" x1="0" y1="0" x2="0" y2="1"><stop offset=".001" stop-color="#1fc9dd"/><stop offset=".119" stop-color="#38a5fb"/><stop offset=".226" stop-color="#458afc"/><stop offset=".320" stop-color="#4771e9"/><stop offset=".472" stop-color="#4559cb"/><stop offset=".500" stop-color="#4146ac"/><stop offset=".504" stop-color="#4040a2"/><stop offset=".676" stop-color="#3f3b97"/><stop offset=".681" stop-color="#3e3891"/><stop offset="1.000" stop-color="#3d358b"/></linearGradient><linearGradient id="c181" x1="0" y1="0" x2="0" y2="1"><stop offset=".001" stop-color="#1fc9dd"/><stop offset=".119" stop-color="#38a5fb"/><stop offset=".226" stop-color="#458afc"/><stop offset=".316" stop-color="#4771e9"/><stop offset=".472" stop-color="#4559cb"/><stop offset=".500" stop-color="#4146ac"/><stop offset=".504" stop-color="#4040a2"/><stop offset=".676" stop-color="#3f3b97"/><stop offset=".681" stop-color="#3e3891"/><stop offset="1.000" stop-color="#3d358b"/></linearGradient><linearGradient id="c182" x1="0" y1="0" x2="0" y2="1"><stop offset=".001" stop-color="#1fc9dd"/><stop offset=".119" stop-color="#38a5fb"/><stop offset=".222" stop-color="#458afc"/><stop offset=".312" stop-color="#4771e9"/><stop offset=".472" stop-color="#4559cb"/><stop offset=".500" stop-color="#4146ac"/><stop offset=".504" stop-color="#4040a2"/><stop offset=".676" stop-color="#3f3b97"/><stop offset=".681" stop-color="#3e3891"/><stop offset="1.000" stop-color="#3d358b"/></linearGradient><linearGradient id="c183" x1="0" y1="0" x2="0" y2="1"><stop offset=".001" stop-color="#1fc9dd"/><stop offset=".115" stop-color="#38a5fb"/><stop offset=".222" stop-color="#458afc"/><stop offset=".308" stop-color="#4771e9"/><stop offset=".472" stop-color="#4559cb"/><stop offset=".500" stop-color="#4146ac"/><stop offset=".504" stop-color="#4040a2"/><stop offset=".676" stop-color="#3f3b97"/><stop offset=".681" stop-color="#3e3891"/><stop offset="1.000" stop-color="#3d358b"/></linearGradient><linearGradient id="c184" x1="0" y1="0" x2="0" y2="1"><stop offset=".001" stop-color="#22c5e2"/><stop offset=".128" stop-color="#3ba0fd"/><stop offset=".238" stop-color="#4685fa"/><stop offset=".308" stop-color="#4771e9"/><stop offset=".468" stop-color="#4559cb"/><stop offset=".513" stop-color="#3f3e9c"/><stop offset=".672" stop-color="#3f3b97"/><stop offset=".676" stop-color="#3e3891"/><stop offset="1.000" stop-color="#3d358b"/></linearGradient><linearGradient id="c185" x1="0" y1="0" x2="0" y2="1"><stop offset=".001" stop-color="#22c5e2"/><stop offset=".119" stop-color="#3aa3fc"/><stop offset=".230" stop-color="#4687fb"/><stop offset=".308" stop-color="#4771e9"/><stop offset=".468" stop-color="#4559cb"/><stop offset=".513" stop-color="#3f3e9c"/><stop offset=".672" stop-color="#3f3b97"/><stop offset=".676" stop-color="#3e3891"/><stop offset="1.000" stop-color="#3d358b"/></linearGradient><linearGradient id="c186" x1="0" y1="0" x2="0" y2="1"><stop offset=".001" stop-color="#20c7df"/><stop offset=".115" stop-color="#38a5fb"/><stop offset=".222" stop-color="#458afc"/><stop offset=".324" stop-color="#476ee6"/><stop offset=".468" stop-color="#4559cb"/><stop offset=".488" stop-color="#434eba"/><stop offset=".508" stop-color="#3f3e9c"/><stop offset=".590" stop-color="#3f3e9c"/><stop offset=".594" stop-color="#3f3b97"/><stop offset=".672" stop-color="#3f3b97"/><stop offset=".676" stop-color="#3e3891"/><stop offset="1.000" stop-color="#3d358b"/></linearGradient><linearGradient id="c187" x1="0" y1="0" x2="0" y2="1"><stop offset=".001" stop-color="#20c7df"/><stop offset=".128" stop-color="#3aa3fc"/><stop offset=".234" stop-color="#4687fb"/><stop offset=".324" stop-color="#476ee6"/><stop offset=".468" stop-color="#4559cb"/><stop offset=".488" stop-color="#434eba"/><stop offset=".508" stop-color="#3f3e9c"/><stop offset=".590" stop-color="#3f3e9c"/><stop offset=".594" stop-color="#3f3b97"/><stop offset=".672" stop-color="#3f3b97"/><stop offset=".676" stop-color="#3e3891"/><stop offset="1.000" stop-color="#3d358b"/></linearGradient><linearGradient id="c188" x1="0" y1="0" x2="0" y2="1"><stop offset=".001" stop-color="#20c7df"/><stop offset=".128" stop-color="#3aa3fc"/><stop offset=".234" stop-color="#4687fb"/><stop offset=".312" stop-color="#4771e9"/><stop offset=".468" stop-color="#4559cb"/><stop offset=".488" stop-color="#434eba"/><stop offset=".508" stop-color="#3f3e9c"/><stop offset=".590" stop-color="#3f3e9c"/><stop offset=".594" stop-color="#3f3b97"/><stop offset=".672" stop-color="#3f3b97"/><stop offset=".676" stop-color="#3e3891"/><stop offset="1.000" stop-color="#3d358b"/></linearGradient><linearGradient id="c189" x1="0" y1="0" x2="0" y2="1"><stop offset=".001" stop-color="#20c7df"/><stop offset=".128" stop-color="#3aa3fc"/><stop offset=".234" stop-color="#4687fb"/><stop offset=".312" stop-color="#4771e9"/><stop offset=".468" stop-color="#4559cb"/><stop offset=".488" stop-color="#434eba"/><stop offset=".508" stop-color="#3f3e9c"/><stop offset=".672" stop-color="#3f3b97"/><stop offset=".676" stop-color="#3e3891"/><stop offset="1.000" stop-color="#3d358b"/></linearGradient><linearGradient id="c190" x1="0" y1="0" x2="0" y2="1"><stop offset=".001" stop-color="#20c7df"/><stop offset=".123" stop-color="#3aa3fc"/><stop offset=".234" stop-color="#4687fb"/><stop offset=".312" stop-color="#4771e9"/><stop offset=".468" stop-color="#4559cb"/><stop offset=".488" stop-color="#434eba"/><stop offset=".508" stop-color="#3f3e9c"/><stop offset=".672" stop-color="#3f3b97"/><stop offset=".676" stop-color="#3e3891"/><stop offset="1.000" stop-color="#3d358b"/></linearGradient><linearGradient id="c191" x1="0" y1="0" x2="0" y2="1"><stop offset=".001" stop-color="#20c7df"/><stop offset=".132" stop-color="#3ba0fd"/><stop offset=".242" stop-color="#4685fa"/><stop offset=".328" stop-color="#476ee6"/><stop offset=".468" stop-color="#4559cb"/><stop offset=".488" stop-color="#434eba"/><stop offset=".508" stop-color="#3f3e9c"/><stop offset=".672" stop-color="#3f3b97"/><stop offset=".676" stop-color="#3e3891"/><stop offset="1.000" stop-color="#3d358b"/></linearGradient><linearGradient id="c192" x1="0" y1="0" x2="0" y2="1"><stop offset=".001" stop-color="#20c7df"/><stop offset=".132" stop-color="#3ba0fd"/><stop offset=".242" stop-color="#4685fa"/><stop offset=".316" stop-color="#4771e9"/><stop offset=".468" stop-color="#4559cb"/><stop offset=".488" stop-color="#434eba"/><stop offset=".508" stop-color="#3f3e9c"/><stop offset=".672" stop-color="#3f3b97"/><stop offset=".676" stop-color="#3e3891"/><stop offset="1.000" stop-color="#3d358b"/></linearGradient><linearGradient id="c193" x1="0" y1="0" x2="0" y2="1"><stop offset=".001" stop-color="#20c7df"/><stop offset=".132" stop-color="#3ba0fd"/><stop offset=".242" stop-color="#4685fa"/><stop offset=".316" stop-color="#4771e9"/><stop offset=".468" stop-color="#4559cb"/><stop offset=".488" stop-color="#434eba"/><stop offset=".508" stop-color="#3f3e9c"/><stop offset=".672" stop-color="#3f3b97"/><stop offset=".676" stop-color="#3e3891"/><stop offset="1.000" stop-color="#3d358b"/></linearGradient><linearGradient id="c194" x1="0" y1="0" x2="0" y2="1"><stop offset=".001" stop-color="#1fc9dd"/><stop offset=".119" stop-color="#38a5fb"/><stop offset=".226" stop-color="#458afc"/><stop offset=".320" stop-color="#4771e9"/><stop offset=".472" stop-color="#4559cb"/><stop offset=".508" stop-color="#3f3e9c"/><stop offset=".672" stop-color="#3f3b97"/><stop offset=".676" stop-color="#3e3891"/><stop offset="1.000" stop-color="#3d358b"/></linearGradient><linearGradient id="c195" x1="0" y1="0" x2="0" y2="1"><stop offset=".001" stop-color="#1ecbda"/><stop offset=".123" stop-color="#38a5fb"/><stop offset=".242" stop-color="#4687fb"/><stop offset=".312" stop-color="#4773eb"/><stop offset=".472" stop-color="#4559cb"/><stop offset=".508" stop-color="#3f3e9c"/><stop offset=".672" stop-color="#3f3b97"/><stop offset=".676" stop-color="#3e3891"/><stop offset="1.000" stop-color="#3d358b"/></linearGradient><linearGradient id="c196" x1="0" y1="0" x2="0" y2="1"><stop offset=".001" stop-color="#1ecbda"/><stop offset=".128" stop-color="#38a5fb"/><stop offset=".234" stop-color="#458afc"/><stop offset=".328" stop-color="#4771e9"/><stop offset=".472" stop-color="#4559cb"/><stop offset=".508" stop-color="#3f3e9c"/><stop offset=".672" stop-color="#3f3b97"/><stop offset=".676" stop-color="#3e3891"/><stop offset="1.000" stop-color="#3d358b"/></linearGradient><linearGradient id="c197" x1="0" y1="0" x2="0" y2="1"><stop offset=".001" stop-color="#1fc9dd"/><stop offset=".123" stop-color="#38a5fb"/><stop offset=".230" stop-color="#458afc"/><stop offset=".324" stop-color="#4771e9"/><stop offset=".472" stop-color="#4559cb"/><stop offset=".508" stop-color="#3f3e9c"/><stop offset=".672" stop-color="#3f3b97"/><stop offset=".676" stop-color="#3e3891"/><stop offset="1.000" stop-color="#3d358b"/></linearGradient><linearGradient id="c198" x1="0" y1="0" x2="0" y2="1"><stop offset=".001" stop-color="#20c7df"/><stop offset=".123" stop-color="#3aa3fc"/><stop offset=".234" stop-color="#4687fb"/><stop offset=".332" stop-color="#476ee6"/><stop offset=".468" stop-color="#4559cb"/><stop offset=".488" stop-color="#434eba"/><stop offset=".508" stop-color="#3f3e9c"/><stop offset=".672" stop-color="#3f3b97"/><stop offset=".676" stop-color="#3e3891"/><stop offset="1.000" stop-color="#3d358b"/></linearGradient><linearGradient id="c199" x1="0" y1="0" x2="0" y2="1"><stop offset=".001" stop-color="#22c5e2"/><stop offset=".119" stop-color="#3aa3fc"/><stop offset=".230" stop-color="#4687fb"/><stop offset=".328" stop-color="#476ee6"/><stop offset=".468" stop-color="#4559cb"/><stop offset=".484" stop-color="#4451bf"/><stop offset=".508" stop-color="#3f3e9c"/><stop offset=".668" stop-color="#3f3b97"/><stop offset=".672" stop-color="#3e3891"/><stop offset="1.000" stop-color="#3d358b"/></linearGradient><linearGradient id="c200" x1="0" y1="0" x2="0" y2="1"><stop offset=".001" stop-color="#2fb2f4"/><stop offset=".136" stop-color="#4294ff"/><stop offset=".250" stop-color="#477bf2"/><stop offset=".472" stop-color="#4454c3"/><stop offset=".508" stop-color="#3f3b97"/><stop offset=".746" stop-color="#3e3891"/><stop offset=".750" stop-color="#3d358b"/><stop offset="1.000" stop-color="#3d358b"/></linearGradient><linearGradient id="c201" x1="0" y1="0" x2="0" y2="1"><stop offset=".001" stop-color="#458cfd"/><stop offset=".181" stop-color="#4776ee"/><stop offset=".443" stop-color="#4451bf"/><stop offset=".476" stop-color="#424bb5"/><stop offset=".504" stop-color="#3e3891"/><stop offset=".545" stop-color="#3e3891"/><stop offset=".549" stop-color="#3d358b"/><stop offset="1.000" stop-color="#3c3286"/></linearGradient><linearGradient id="c202" x1="0" y1="0" x2="0" y2="1"><stop offset=".001" stop-color="#4664da"/><stop offset=".185" stop-color="#455ccf"/><stop offset=".468" stop-color="#4143a7"/><stop offset=".484" stop-color="#3f3e9c"/><stop offset=".508" stop-color="#3b2f80"/><stop offset="1.000" stop-color="#3b2f80"/></linearGradient><linearGradient id="c203" x1="0" y1="0" x2="0" y2="1"><stop offset=".001" stop-color="#3f3e9c"/><stop offset=".074" stop-color="#4143a7"/><stop offset=".177" stop-color="#4143a7"/><stop offset=".328" stop-color="#3f3e9c"/><stop offset=".332" stop-color="#3f3b97"/><stop offset=".406" stop-color="#3f3b97"/><stop offset=".480" stop-color="#3d358b"/><stop offset=".504" stop-color="#392a73"/><stop offset="1.000" stop-color="#392a73"/></linearGradient><linearGradient id="c204" x1="0" y1="0" x2="0" y2="1"><stop offset=".001" stop-color="#38276d"/><stop offset=".091" stop-color="#392a73"/><stop offset=".095" stop-color="#3a2d79"/><stop offset=".218" stop-color="#3a2d79"/><stop offset=".222" stop-color="#3b2f80"/><stop offset=".259" stop-color="#3b2f80"/><stop offset=".263" stop-color="#3a2d79"/><stop offset=".472" stop-color="#3a2d79"/><stop offset=".500" stop-color="#372466"/><stop offset="1.000" stop-color="#38276d"/></linearGradient><linearGradient id="c205" x1="0" y1="0" x2="0" y2="1"><stop offset=".001" stop-color="#33184a"/><stop offset=".009" stop-color="#341b51"/><stop offset=".078" stop-color="#341b51"/><stop offset=".083" stop-color="#351e58"/><stop offset=".173" stop-color="#351e58"/><stop offset=".177" stop-color="#36215f"/><stop offset=".402" stop-color="#36215f"/><stop offset=".406" stop-color="#372466"/><stop offset=".422" stop-color="#372466"/><stop offset=".427" stop-color="#36215f"/><stop offset=".488" stop-color="#36215f"/><stop offset=".492" stop-color="#351e58"/><stop offset="1.000" stop-color="#36215f"/></linearGradient><linearGradient id="c206" x1="0" y1="0" x2="0" y2="1"><stop offset=".001" stop-color="#30123b"/><stop offset=".005" stop-color="#321543"/><stop offset=".300" stop-color="#33184a"/><stop offset=".304" stop-color="#341b51"/><stop offset=".627" stop-color="#33184a"/><stop offset=".631" stop-color="#341b51"/><stop offset="1.000" stop-color="#351e58"/></linearGradient><linearGradient id="c207" x1="0" y1="0" x2="0" y2="1"><stop offset=".001" stop-color="#30123b"/><stop offset=".455" stop-color="#321543"/><stop offset=".459" stop-color="#33184a"/><stop offset=".476" stop-color="#33184a"/><stop offset=".480" stop-color="#321543"/><stop offset=".660" stop-color="#321543"/><stop offset=".664" stop-color="#33184a"/><stop offset=".918" stop-color="#33184a"/><stop offset=".922" stop-color="#341b51"/><stop offset="1.000" stop-color="#341b51"/></linearGradient><linearGradient id="c208" x1="0" y1="0" x2="0" y2="1"><stop offset=".001" stop-color="#30123b"/><stop offset=".439" stop-color="#30123b"/><stop offset=".443" stop-color="#321543"/><stop offset=".480" stop-color="#321543"/><stop offset=".484" stop-color="#30123b"/><stop offset=".582" stop-color="#30123b"/><stop offset=".586" stop-color="#321543"/><stop offset=".902" stop-color="#321543"/><stop offset=".906" stop-color="#33184a"/><stop offset="1.000" stop-color="#33184a"/></linearGradient><linearGradient id="c209" x1="0" y1="0" x2="0" y2="1"><stop offset=".001" stop-color="#30123b"/><stop offset=".791" stop-color="#30123b"/><stop offset=".795" stop-color="#321543"/><stop offset="1.000" stop-color="#321543"/></linearGradient><linearGradient id="c210" x1="0" y1="0" x2="0" y2="1"><stop offset=".001" stop-color="#477bf2"/><stop offset=".173" stop-color="#455ed3"/><stop offset=".312" stop-color="#4146ac"/><stop offset=".463" stop-color="#3f3b97"/><stop offset=".492" stop-color="#3c3286"/><stop offset=".508" stop-color="#392a73"/><stop offset="1.000" stop-color="#38276d"/></linearGradient><linearGradient id="c211" x1="0" y1="0" x2="0" y2="1"><stop offset=".001" stop-color="#3d358b"/><stop offset=".164" stop-color="#3a2d79"/><stop offset=".169" stop-color="#392a73"/><stop offset=".214" stop-color="#392a73"/><stop offset=".218" stop-color="#38276d"/><stop offset=".267" stop-color="#38276d"/><stop offset=".271" stop-color="#372466"/><stop offset=".328" stop-color="#372466"/><stop offset=".332" stop-color="#36215f"/><stop offset=".484" stop-color="#351e58"/><stop offset=".508" stop-color="#33184a"/><stop offset="1.000" stop-color="#33184a"/></linearGradient><linearGradient id="c212" x1="0" y1="0" x2="0" y2="1"><stop offset=".001" stop-color="#3d358b"/><stop offset=".107" stop-color="#3b2f80"/><stop offset=".111" stop-color="#3a2d79"/><stop offset=".156" stop-color="#3a2d79"/><stop offset=".160" stop-color="#392a73"/><stop offset=".267" stop-color="#38276d"/><stop offset=".271" stop-color="#372466"/><stop offset=".328" stop-color="#372466"/><stop offset=".332" stop-color="#36215f"/><stop offset=".480" stop-color="#351e58"/><stop offset=".484" stop-color="#341b51"/><stop offset=".504" stop-color="#341b51"/><stop offset=".508" stop-color="#33184a"/><stop offset="1.000" stop-color="#33184a"/></linearGradient><linearGradient id="c213" x1="0" y1="0" x2="0" y2="1"><stop offset=".001" stop-color="#4778f0"/><stop offset=".222" stop-color="#4456c7"/><stop offset=".312" stop-color="#4146ac"/><stop offset=".459" stop-color="#3f3b97"/><stop offset=".484" stop-color="#3d358b"/><stop offset=".508" stop-color="#392a73"/><stop offset="1.000" stop-color="#38276d"/></linearGradient></defs>
<g shape-rendering="crispEdges">
<rect x="202.2" y="65.5" width="895.5" height="208" fill="#30123b"/>
<rect x="202.2" y="65.5" width="5.8" height="72.5" fill="url(#c0)"/><rect x="208" y="65.5" width="6" height="72.5" fill="url(#c1)"/><rect x="214" y="65.5" width="6" height="72.5" fill="url(#c2)"/><rect x="220" y="65.5" width="6" height="72.5" fill="url(#c3)"/><rect x="226" y="65.5" width="6" height="72.5" fill="url(#c4)"/><rect x="232" y="65.5" width="6" height="72.5" fill="url(#c5)"/><rect x="238" y="65.5" width="6" height="72.5" fill="url(#c6)"/><rect x="244" y="65.5" width="6" height="72.5" fill="url(#c7)"/><rect x="250" y="65.5" width="6" height="72.5" fill="url(#c8)"/><rect x="256" y="65.5" width="6" height="72.5" fill="url(#c9)"/><rect x="262" y="65.5" width="6" height="72.5" fill="url(#c10)"/><rect x="268" y="65.5" width="6" height="72.5" fill="url(#c11)"/><rect x="274" y="65.5" width="6" height="72.5" fill="url(#c12)"/><rect x="280" y="65.5" width="6" height="72.5" fill="url(#c13)"/><rect x="286" y="65.5" width="6" height="72.5" fill="url(#c14)"/><rect x="292" y="65.5" width="6" height="72.5" fill="url(#c15)"/><rect x="298" y="65.5" width="6" height="72.5" fill="url(#c16)"/><rect x="304" y="65.5" width="6" height="72.5" fill="url(#c17)"/><rect x="310" y="65.5" width="6" height="72.5" fill="url(#c18)"/><rect x="316" y="65.5" width="6" height="72.5" fill="url(#c19)"/><rect x="322" y="65.5" width="6" height="72.5" fill="url(#c20)"/><rect x="328" y="65.5" width="6" height="72.5" fill="url(#c21)"/><rect x="334" y="65.5" width="6" height="72.5" fill="url(#c22)"/><rect x="340" y="65.5" width="6" height="72.5" fill="url(#c23)"/><rect x="346" y="65.5" width="6" height="72.5" fill="url(#c24)"/><rect x="352" y="65.5" width="6" height="72.5" fill="url(#c25)"/><rect x="358" y="65.5" width="6" height="72.5" fill="url(#c26)"/><rect x="364" y="65.5" width="6" height="72.5" fill="url(#c27)"/><rect x="370" y="65.5" width="6" height="72.5" fill="url(#c28)"/><rect x="376" y="65.5" width="6" height="72.5" fill="url(#c29)"/><rect x="382" y="65.5" width="6" height="72.5" fill="url(#c30)"/><rect x="388" y="65.5" width="6" height="72.5" fill="url(#c31)"/><rect x="394" y="65.5" width="6" height="72.5" fill="url(#c32)"/><rect x="400" y="65.5" width="6" height="72.5" fill="url(#c33)"/><rect x="406" y="65.5" width="6" height="72.5" fill="url(#c34)"/><rect x="412" y="65.5" width="6" height="72.5" fill="url(#c35)"/><rect x="418" y="65.5" width="6" height="72.5" fill="url(#c36)"/><rect x="424" y="65.5" width="6" height="72.5" fill="url(#c37)"/><rect x="430" y="65.5" width="6" height="72.5" fill="url(#c38)"/><rect x="436" y="65.5" width="6" height="72.5" fill="url(#c39)"/><rect x="442" y="65.5" width="6" height="72.5" fill="url(#c40)"/><rect x="448" y="65.5" width="6" height="72.5" fill="url(#c41)"/><rect x="454" y="65.5" width="6" height="72.5" fill="url(#c42)"/><rect x="460" y="65.5" width="6" height="72.5" fill="url(#c43)"/><rect x="466" y="65.5" width="6" height="72.5" fill="url(#c44)"/><rect x="472" y="65.5" width="6" height="72.5" fill="url(#c45)"/><rect x="478" y="65.5" width="6" height="72.5" fill="url(#c46)"/><rect x="484" y="65.5" width="6" height="72.5" fill="url(#c47)"/><rect x="490" y="65.5" width="6" height="72.5" fill="url(#c48)"/><rect x="496" y="65.5" width="6" height="72.5" fill="url(#c49)"/><rect x="502" y="65.5" width="6" height="72.5" fill="url(#c50)"/><rect x="508" y="65.5" width="6" height="72.5" fill="url(#c51)"/><rect x="514" y="65.5" width="6" height="72.5" fill="url(#c52)"/><rect x="520" y="65.5" width="6" height="72.5" fill="url(#c53)"/><rect x="526" y="65.5" width="6" height="72.5" fill="url(#c54)"/><rect x="532" y="65.5" width="6" height="72.5" fill="url(#c55)"/><rect x="538" y="65.5" width="6" height="72.5" fill="url(#c56)"/><rect x="544" y="65.5" width="6" height="72.5" fill="url(#c57)"/><rect x="550" y="65.5" width="6" height="72.5" fill="url(#c58)"/><rect x="556" y="65.5" width="6" height="72.5" fill="url(#c59)"/><rect x="562" y="65.5" width="6" height="72.5" fill="url(#c60)"/><rect x="568" y="65.5" width="6" height="72.5" fill="url(#c61)"/><rect x="574" y="65.5" width="6" height="72.5" fill="url(#c62)"/><rect x="580" y="65.5" width="6" height="72.5" fill="url(#c63)"/><rect x="586" y="65.5" width="6" height="72.5" fill="url(#c64)"/><rect x="592" y="65.5" width="6" height="72.5" fill="url(#c65)"/><rect x="598" y="65.5" width="6" height="72.5" fill="url(#c66)"/><rect x="604" y="65.5" width="6" height="72.5" fill="url(#c67)"/><rect x="610" y="65.5" width="6" height="72.5" fill="url(#c68)"/><rect x="616" y="65.5" width="6" height="72.5" fill="url(#c69)"/><rect x="622" y="65.5" width="6" height="72.5" fill="url(#c70)"/><rect x="628" y="65.5" width="6" height="72.5" fill="url(#c71)"/><rect x="634" y="65.5" width="6" height="72.5" fill="url(#c72)"/><rect x="640" y="65.5" width="6" height="72.5" fill="url(#c73)"/><rect x="646" y="65.5" width="6" height="72.5" fill="url(#c74)"/><rect x="652" y="65.5" width="6" height="72.5" fill="url(#c75)"/><rect x="658" y="65.5" width="6" height="72.5" fill="url(#c76)"/><rect x="664" y="65.5" width="6" height="72.5" fill="url(#c77)"/><rect x="670" y="65.5" width="6" height="72.5" fill="url(#c78)"/><rect x="676" y="65.5" width="6" height="72.5" fill="url(#c79)"/><rect x="682" y="65.5" width="6" height="72.5" fill="url(#c80)"/><rect x="688" y="65.5" width="6" height="72.5" fill="url(#c81)"/><rect x="694" y="65.5" width="6" height="72.5" fill="url(#c82)"/><rect x="700" y="65.5" width="6" height="72.5" fill="url(#c83)"/><rect x="706" y="65.5" width="6" height="72.5" fill="url(#c84)"/><rect x="712" y="65.5" width="6" height="72.5" fill="url(#c85)"/><rect x="718" y="65.5" width="6" height="72.5" fill="url(#c86)"/><rect x="724" y="65.5" width="6" height="72.5" fill="url(#c87)"/><rect x="730" y="65.5" width="6" height="72.5" fill="url(#c88)"/><rect x="736" y="65.5" width="6" height="72.5" fill="url(#c89)"/><rect x="742" y="65.5" width="6" height="72.5" fill="url(#c90)"/><rect x="748" y="65.5" width="6" height="72.5" fill="url(#c91)"/><rect x="754" y="65.5" width="6.6" height="72.5" fill="url(#c92)"/><rect x="788.2" y="65.5" width="5.8" height="72.5" fill="url(#c93)"/><rect x="794" y="65.5" width="6" height="72.5" fill="url(#c94)"/><rect x="800" y="65.5" width="6" height="72.5" fill="url(#c95)"/><rect x="806" y="65.5" width="6" height="72.5" fill="url(#c96)"/><rect x="812" y="65.5" width="6" height="72.5" fill="url(#c97)"/><rect x="818" y="65.5" width="6" height="72.5" fill="url(#c98)"/><rect x="824" y="65.5" width="6" height="72.5" fill="url(#c99)"/><rect x="830" y="65.5" width="6" height="72.5" fill="url(#c100)"/><rect x="836" y="65.5" width="6" height="72.5" fill="url(#c101)"/><rect x="842" y="65.5" width="6" height="72.5" fill="url(#c102)"/><rect x="848" y="65.5" width="6" height="72.5" fill="url(#c103)"/><rect x="854" y="65.5" width="6" height="72.5" fill="url(#c104)"/><rect x="860" y="65.5" width="6" height="72.5" fill="url(#c105)"/><rect x="866" y="65.5" width="6" height="72.5" fill="url(#c106)"/><rect x="872" y="65.5" width="6" height="72.5" fill="url(#c107)"/><rect x="878" y="65.5" width="6" height="72.5" fill="url(#c108)"/><rect x="884" y="65.5" width="6" height="72.5" fill="url(#c109)"/><rect x="890" y="65.5" width="6" height="72.5" fill="url(#c110)"/><rect x="896" y="65.5" width="6" height="72.5" fill="url(#c111)"/><rect x="902" y="65.5" width="6" height="72.5" fill="url(#c112)"/><rect x="908" y="65.5" width="6" height="72.5" fill="url(#c113)"/><rect x="914" y="65.5" width="6" height="72.5" fill="url(#c114)"/><rect x="920" y="65.5" width="6" height="72.5" fill="url(#c115)"/><rect x="926" y="65.5" width="6" height="72.5" fill="url(#c116)"/><rect x="932" y="65.5" width="6" height="72.5" fill="url(#c117)"/><rect x="938" y="65.5" width="6" height="72.5" fill="url(#c118)"/><rect x="944" y="65.5" width="6" height="72.5" fill="url(#c119)"/><rect x="950" y="65.5" width="6" height="72.5" fill="url(#c120)"/><rect x="956" y="65.5" width="6" height="72.5" fill="url(#c121)"/><rect x="962" y="65.5" width="6" height="72.5" fill="url(#c122)"/><rect x="968" y="65.5" width="6" height="72.5" fill="url(#c123)"/><rect x="974" y="65.5" width="6" height="72.5" fill="url(#c124)"/><rect x="980" y="65.5" width="6" height="72.5" fill="url(#c125)"/><rect x="986" y="65.5" width="6" height="72.5" fill="url(#c126)"/><rect x="992" y="65.5" width="6" height="72.5" fill="url(#c127)"/><rect x="998" y="65.5" width="6" height="72.5" fill="url(#c128)"/><rect x="1004" y="65.5" width="6" height="72.5" fill="url(#c129)"/><rect x="1010" y="65.5" width="6" height="72.5" fill="url(#c130)"/><rect x="1016" y="65.5" width="6" height="72.5" fill="url(#c131)"/><rect x="1022" y="65.5" width="6" height="72.5" fill="url(#c132)"/><rect x="1028" y="65.5" width="6" height="72.5" fill="url(#c133)"/><rect x="1034" y="65.5" width="6" height="72.5" fill="url(#c134)"/><rect x="1040" y="65.5" width="6" height="72.5" fill="url(#c135)"/><rect x="1046" y="65.5" width="6" height="72.5" fill="url(#c136)"/><rect x="1052" y="65.5" width="6" height="72.5" fill="url(#c137)"/><rect x="1058" y="65.5" width="2" height="72.5" fill="url(#c138)"/><rect x="1060" y="65.5" width="2" height="72.5" fill="url(#c139)"/><rect x="1062" y="65.5" width="2" height="72.5" fill="url(#c140)"/><rect x="1064" y="65.5" width="2" height="72.5" fill="url(#c141)"/><rect x="1066" y="65.5" width="2" height="72.5" fill="url(#c142)"/><rect x="1068" y="65.5" width="2" height="72.5" fill="url(#c143)"/><rect x="1070" y="65.5" width="2" height="72.5" fill="url(#c144)"/><rect x="1072" y="65.5" width="2" height="72.5" fill="url(#c145)"/><rect x="1074" y="65.5" width="2" height="72.5" fill="url(#c146)"/><rect x="1076" y="65.5" width="2" height="72.5" fill="url(#c147)"/><rect x="1078" y="65.5" width="2" height="72.5" fill="url(#c148)"/><rect x="760.6" y="65.5" width="0.8" height="72.5" fill="url(#c149)"/><rect x="761.4" y="65.5" width="0.8" height="72.5" fill="url(#c150)"/><rect x="786.6" y="65.5" width="0.8" height="72.5" fill="url(#c151)"/><rect x="787.4" y="65.5" width="0.8" height="72.5" fill="url(#c152)"/><rect x="202.2" y="138" width="17.8" height="135.5" fill="url(#c153)"/><rect x="220" y="138" width="18" height="135.5" fill="url(#c154)"/><rect x="238" y="138" width="18" height="135.5" fill="url(#c155)"/><rect x="256" y="138" width="18" height="135.5" fill="url(#c156)"/><rect x="274" y="138" width="18" height="135.5" fill="url(#c157)"/><rect x="292" y="138" width="18" height="135.5" fill="url(#c158)"/><rect x="310" y="138" width="18" height="135.5" fill="url(#c159)"/><rect x="328" y="138" width="18" height="135.5" fill="url(#c160)"/><rect x="346" y="138" width="18" height="135.5" fill="url(#c161)"/><rect x="364" y="138" width="18" height="135.5" fill="url(#c162)"/><rect x="382" y="138" width="18" height="135.5" fill="url(#c163)"/><rect x="400" y="138" width="18" height="135.5" fill="url(#c164)"/><rect x="418" y="138" width="18" height="135.5" fill="url(#c165)"/><rect x="436" y="138" width="18" height="135.5" fill="url(#c166)"/><rect x="454" y="138" width="18" height="135.5" fill="url(#c167)"/><rect x="472" y="138" width="18" height="135.5" fill="url(#c168)"/><rect x="490" y="138" width="18" height="135.5" fill="url(#c169)"/><rect x="508" y="138" width="18" height="135.5" fill="url(#c170)"/><rect x="526" y="138" width="18" height="135.5" fill="url(#c171)"/><rect x="544" y="138" width="18" height="135.5" fill="url(#c172)"/><rect x="562" y="138" width="18" height="135.5" fill="url(#c173)"/><rect x="580" y="138" width="18" height="135.5" fill="url(#c174)"/><rect x="598" y="138" width="18" height="135.5" fill="url(#c175)"/><rect x="616" y="138" width="18" height="135.5" fill="url(#c176)"/><rect x="634" y="138" width="18" height="135.5" fill="url(#c177)"/><rect x="652" y="138" width="18" height="135.5" fill="url(#c178)"/><rect x="670" y="138" width="18" height="135.5" fill="url(#c179)"/><rect x="688" y="138" width="18" height="135.5" fill="url(#c180)"/><rect x="706" y="138" width="18" height="135.5" fill="url(#c181)"/><rect x="724" y="138" width="18" height="135.5" fill="url(#c182)"/><rect x="742" y="138" width="18.6" height="135.5" fill="url(#c183)"/><rect x="788.2" y="138" width="17.8" height="135.5" fill="url(#c184)"/><rect x="806" y="138" width="18" height="135.5" fill="url(#c185)"/><rect x="824" y="138" width="18" height="135.5" fill="url(#c186)"/><rect x="842" y="138" width="18" height="135.5" fill="url(#c187)"/><rect x="860" y="138" width="18" height="135.5" fill="url(#c188)"/><rect x="878" y="138" width="18" height="135.5" fill="url(#c189)"/><rect x="896" y="138" width="18" height="135.5" fill="url(#c190)"/><rect x="914" y="138" width="18" height="135.5" fill="url(#c191)"/><rect x="932" y="138" width="18" height="135.5" fill="url(#c192)"/><rect x="950" y="138" width="18" height="135.5" fill="url(#c193)"/><rect x="968" y="138" width="18" height="135.5" fill="url(#c194)"/><rect x="986" y="138" width="18" height="135.5" fill="url(#c195)"/><rect x="1004" y="138" width="18" height="135.5" fill="url(#c196)"/><rect x="1022" y="138" width="18" height="135.5" fill="url(#c197)"/><rect x="1040" y="138" width="18" height="135.5" fill="url(#c198)"/><rect x="1058" y="138" width="2" height="135.5" fill="url(#c199)"/><rect x="1060" y="138" width="2" height="135.5" fill="url(#c200)"/><rect x="1062" y="138" width="2" height="135.5" fill="url(#c201)"/><rect x="1064" y="138" width="2" height="135.5" fill="url(#c202)"/><rect x="1066" y="138" width="2" height="135.5" fill="url(#c203)"/><rect x="1068" y="138" width="2" height="135.5" fill="url(#c204)"/><rect x="1070" y="138" width="2" height="135.5" fill="url(#c205)"/><rect x="1072" y="138" width="2" height="135.5" fill="url(#c206)"/><rect x="1074" y="138" width="2" height="135.5" fill="url(#c207)"/><rect x="1076" y="138" width="2" height="135.5" fill="url(#c208)"/><rect x="1078" y="138" width="2" height="135.5" fill="url(#c209)"/><rect x="760.6" y="138" width="0.8" height="135.5" fill="url(#c210)"/><rect x="761.4" y="138" width="0.8" height="135.5" fill="url(#c211)"/><rect x="786.6" y="138" width="0.8" height="135.5" fill="url(#c212)"/><rect x="787.4" y="138" width="0.8" height="135.5" fill="url(#c213)"/>
</g>
<defs><linearGradient id="r0"><stop offset=".0000" stop-color="#ff6969"/><stop offset=".0195" stop-color="#ff6565"/><stop offset=".0201" stop-color="#ff6161"/><stop offset=".0324" stop-color="#ff6161"/><stop offset=".0329" stop-color="#ff5d5d"/><stop offset=".0452" stop-color="#ff5d5d"/><stop offset=".0458" stop-color="#ff5959"/><stop offset=".0581" stop-color="#ff5959"/><stop offset=".0586" stop-color="#ff5555"/><stop offset=".0704" stop-color="#ff5555"/><stop offset=".0709" stop-color="#ff5151"/><stop offset=".1195" stop-color="#ff5151"/><stop offset=".1200" stop-color="#ff5555"/><stop offset=".1251" stop-color="#ff5959"/><stop offset=".1279" stop-color="#ff6161"/><stop offset=".1329" stop-color="#ff6565"/><stop offset=".1413" stop-color="#ff7575"/><stop offset=".2211" stop-color="#ff7575"/><stop offset=".2228" stop-color="#ff8181"/><stop offset=".2300" stop-color="#ffa1a1"/><stop offset=".2317" stop-color="#ffadad"/><stop offset=".3043" stop-color="#ffb1b1"/><stop offset=".3049" stop-color="#ffb5b5"/><stop offset=".3199" stop-color="#ffb5b5"/><stop offset=".3210" stop-color="#ffadad"/><stop offset=".3233" stop-color="#ff9191"/><stop offset=".3272" stop-color="#ff6969"/><stop offset=".3601" stop-color="#ff6969"/><stop offset=".3613" stop-color="#ff7171"/><stop offset=".3685" stop-color="#ffbdbd"/><stop offset=".3797" stop-color="#ffbdbd"/><stop offset=".3802" stop-color="#ffb9b9"/><stop offset=".4383" stop-color="#ffb9b9"/><stop offset=".4389" stop-color="#ffb5b5"/><stop offset=".6231" stop-color="#ffb5b5"/><stop offset=".6237" stop-color="#ffcdcd"/><stop offset=".6242" stop-color="#fdfdff"/><stop offset=".6538" stop-color="#fdfdff"/><stop offset=".6544" stop-color="#ff9999"/><stop offset=".6801" stop-color="#ffa1a1"/><stop offset=".7007" stop-color="#ffc9c9"/><stop offset=".7342" stop-color="#ffd1d1"/><stop offset=".7348" stop-color="#ffd5d5"/><stop offset=".7471" stop-color="#ffd5d5"/><stop offset=".7476" stop-color="#ffd9d9"/><stop offset=".7594" stop-color="#ffd9d9"/><stop offset=".7599" stop-color="#ffdddd"/><stop offset=".7716" stop-color="#ffdddd"/><stop offset=".7722" stop-color="#ffe1e1"/><stop offset=".9542" stop-color="#ffd9d9"/><stop offset=".9548" stop-color="#ffcdcd"/><stop offset=".9564" stop-color="#ff7171"/><stop offset=".9570" stop-color="#ff5d5d"/><stop offset=".9609" stop-color="#ff5d5d"/><stop offset=".9615" stop-color="#ff7575"/><stop offset=".9626" stop-color="#ffe9e9"/><stop offset=".9631" stop-color="#f1f1ff"/><stop offset=".9643" stop-color="#f5f5ff"/><stop offset="1.0000" stop-color="#f5f5ff"/></linearGradient><linearGradient id="r1"><stop offset=".0000" stop-color="#ff7171"/><stop offset=".0184" stop-color="#ff6d6d"/><stop offset=".0190" stop-color="#ff6969"/><stop offset=".0318" stop-color="#ff6969"/><stop offset=".0324" stop-color="#ff6565"/><stop offset=".0452" stop-color="#ff6565"/><stop offset=".0458" stop-color="#ff6161"/><stop offset=".0586" stop-color="#ff6161"/><stop offset=".0592" stop-color="#ff5d5d"/><stop offset=".0720" stop-color="#ff5d5d"/><stop offset=".0726" stop-color="#ff5959"/><stop offset=".1195" stop-color="#ff5959"/><stop offset=".1279" stop-color="#ff6969"/><stop offset=".1413" stop-color="#ff7979"/><stop offset=".1418" stop-color="#ff7d7d"/><stop offset=".2211" stop-color="#ff7d7d"/><stop offset=".2317" stop-color="#ffb1b1"/><stop offset=".3082" stop-color="#ffb5b5"/><stop offset=".3088" stop-color="#ffb9b9"/><stop offset=".3199" stop-color="#ffb9b9"/><stop offset=".3210" stop-color="#ffb1b1"/><stop offset=".3261" stop-color="#ff7979"/><stop offset=".3272" stop-color="#ff7171"/><stop offset=".3607" stop-color="#ff7171"/><stop offset=".3685" stop-color="#ffc1c1"/><stop offset=".3702" stop-color="#ffbdbd"/><stop offset=".4310" stop-color="#ffbdbd"/><stop offset=".4316" stop-color="#ffb9b9"/><stop offset=".6231" stop-color="#ffb9b9"/><stop offset=".6237" stop-color="#ffd1d1"/><stop offset=".6242" stop-color="#fdfdff"/><stop offset=".6538" stop-color="#fdfdff"/><stop offset=".6544" stop-color="#ff9d9d"/><stop offset=".6795" stop-color="#ffa5a5"/><stop offset=".7013" stop-color="#ffcdcd"/><stop offset=".7538" stop-color="#ffd9d9"/><stop offset=".7543" stop-color="#ffdddd"/><stop offset=".7666" stop-color="#ffdddd"/><stop offset=".7672" stop-color="#ffe1e1"/><stop offset=".9542" stop-color="#ffdddd"/><stop offset=".9548" stop-color="#ffd1d1"/><stop offset=".9564" stop-color="#ff7575"/><stop offset=".9570" stop-color="#ff6565"/><stop offset=".9609" stop-color="#ff6565"/><stop offset=".9615" stop-color="#ff7d7d"/><stop offset=".9626" stop-color="#ffeded"/><stop offset=".9631" stop-color="#f1f1ff"/><stop offset=".9643" stop-color="#f5f5ff"/><stop offset="1.0000" stop-color="#f5f5ff"/></linearGradient><linearGradient id="r2"><stop offset=".0000" stop-color="#ffa1a1"/><stop offset=".0296" stop-color="#ff9d9d"/><stop offset=".0302" stop-color="#ff9999"/><stop offset=".0491" stop-color="#ff9999"/><stop offset=".0497" stop-color="#ff9595"/><stop offset=".0687" stop-color="#ff9595"/><stop offset=".0692" stop-color="#ff9191"/><stop offset=".1200" stop-color="#ff9191"/><stop offset=".1206" stop-color="#ff9595"/><stop offset=".1240" stop-color="#ff9595"/><stop offset=".1245" stop-color="#ff9999"/><stop offset=".1279" stop-color="#ff9999"/><stop offset=".1284" stop-color="#ff9d9d"/><stop offset=".1401" stop-color="#ffa5a5"/><stop offset=".1407" stop-color="#ffa9a9"/><stop offset=".2032" stop-color="#ffa9a9"/><stop offset=".2038" stop-color="#ffadad"/><stop offset=".2217" stop-color="#ffadad"/><stop offset=".2312" stop-color="#ffcdcd"/><stop offset=".2920" stop-color="#ffd1d1"/><stop offset=".2926" stop-color="#ffd5d5"/><stop offset=".3205" stop-color="#ffd5d5"/><stop offset=".3272" stop-color="#ffa5a5"/><stop offset=".3607" stop-color="#ffa5a5"/><stop offset=".3685" stop-color="#ffd9d9"/><stop offset=".3936" stop-color="#ffd9d9"/><stop offset=".3942" stop-color="#ffd5d5"/><stop offset=".5723" stop-color="#ffd5d5"/><stop offset=".5729" stop-color="#ffd1d1"/><stop offset=".6231" stop-color="#ffd1d1"/><stop offset=".6237" stop-color="#ffe1e1"/><stop offset=".6242" stop-color="#fdfdff"/><stop offset=".6538" stop-color="#fdfdff"/><stop offset=".6544" stop-color="#ffc1c1"/><stop offset=".6795" stop-color="#ffc5c5"/><stop offset=".6801" stop-color="#ffc9c9"/><stop offset=".6868" stop-color="#ffcdcd"/><stop offset=".6873" stop-color="#ffd1d1"/><stop offset=".6901" stop-color="#ffd1d1"/><stop offset=".6907" stop-color="#ffd5d5"/><stop offset=".6935" stop-color="#ffd5d5"/><stop offset=".6940" stop-color="#ffd9d9"/><stop offset=".6968" stop-color="#ffd9d9"/><stop offset=".7007" stop-color="#ffe1e1"/><stop offset=".7482" stop-color="#ffe5e5"/><stop offset=".7487" stop-color="#ffe9e9"/><stop offset=".7521" stop-color="#ffe9e9"/><stop offset=".7527" stop-color="#ffeded"/><stop offset=".7644" stop-color="#ffeded"/><stop offset=".7649" stop-color="#fff1f1"/><stop offset=".9542" stop-color="#ffeded"/><stop offset=".9548" stop-color="#ffe5e5"/><stop offset=".9559" stop-color="#ffb9b9"/><stop offset=".9570" stop-color="#ff9595"/><stop offset=".9581" stop-color="#ff8d8d"/><stop offset=".9609" stop-color="#ff8d8d"/><stop offset=".9615" stop-color="#ff9d9d"/><stop offset=".9626" stop-color="#fff1f1"/><stop offset=".9631" stop-color="#f1f1ff"/><stop offset=".9643" stop-color="#f5f5ff"/><stop offset="1.0000" stop-color="#f5f5ff"/></linearGradient><linearGradient id="r3"><stop offset=".0000" stop-color="#fff5f5"/><stop offset=".1240" stop-color="#fff1f1"/><stop offset=".1245" stop-color="#fff5f5"/><stop offset=".1535" stop-color="#fff9f9"/><stop offset=".1541" stop-color="#fff5f5"/><stop offset=".1597" stop-color="#fff5f5"/><stop offset=".1602" stop-color="#fff1f1"/><stop offset=".1854" stop-color="#fff1f1"/><stop offset=".1859" stop-color="#fff5f5"/><stop offset=".1960" stop-color="#fff5f5"/><stop offset=".2004" stop-color="#fffdfd"/><stop offset=".2088" stop-color="#fdfdff"/><stop offset=".2094" stop-color="#f9f9ff"/><stop offset=".2133" stop-color="#f9f9ff"/><stop offset=".2138" stop-color="#f5f5ff"/><stop offset=".2256" stop-color="#f9f9ff"/><stop offset=".2261" stop-color="#fdfdff"/><stop offset=".2390" stop-color="#fdfdff"/><stop offset=".2395" stop-color="#f9f9ff"/><stop offset=".2663" stop-color="#f9f9ff"/><stop offset=".2669" stop-color="#f5f5ff"/><stop offset=".2970" stop-color="#f5f5ff"/><stop offset=".2976" stop-color="#f1f1ff"/><stop offset=".3222" stop-color="#f1f1ff"/><stop offset=".3250" stop-color="#f9f9ff"/><stop offset=".3585" stop-color="#f9f9ff"/><stop offset=".3590" stop-color="#fdfdff"/><stop offset=".3640" stop-color="#fdfdff"/><stop offset=".3685" stop-color="#f5f5ff"/><stop offset=".3747" stop-color="#f5f5ff"/><stop offset=".3752" stop-color="#f9f9ff"/><stop offset=".6237" stop-color="#f9f9ff"/><stop offset=".6242" stop-color="#fdfdff"/><stop offset=".7169" stop-color="#f9f9ff"/><stop offset=".7175" stop-color="#fdfdff"/><stop offset=".7214" stop-color="#fffdfd"/><stop offset=".7482" stop-color="#fffdfd"/><stop offset=".7510" stop-color="#f9f9ff"/><stop offset=".7543" stop-color="#ededff"/><stop offset=".9542" stop-color="#ededff"/><stop offset=".9559" stop-color="#fdfdff"/><stop offset=".9570" stop-color="#ffdddd"/><stop offset=".9581" stop-color="#ffc9c9"/><stop offset=".9609" stop-color="#ffc9c9"/><stop offset=".9615" stop-color="#ffd5d5"/><stop offset=".9626" stop-color="#fdfdff"/><stop offset=".9631" stop-color="#f1f1ff"/><stop offset=".9643" stop-color="#f5f5ff"/><stop offset="1.0000" stop-color="#f5f5ff"/></linearGradient><linearGradient id="r4"><stop offset=".0000" stop-color="#f1f1ff"/><stop offset=".1524" stop-color="#f1f1ff"/><stop offset=".1547" stop-color="#ededff"/><stop offset=".1552" stop-color="#f1f1ff"/><stop offset=".1614" stop-color="#f1f1ff"/><stop offset=".1619" stop-color="#f5f5ff"/><stop offset=".1764" stop-color="#f5f5ff"/><stop offset=".1770" stop-color="#f1f1ff"/><stop offset=".1937" stop-color="#ededff"/><stop offset=".2133" stop-color="#c9c9ff"/><stop offset=".2178" stop-color="#c9c9ff"/><stop offset=".2183" stop-color="#cdcdff"/><stop offset=".2205" stop-color="#cdcdff"/><stop offset=".2317" stop-color="#e1e1ff"/><stop offset=".2557" stop-color="#e1e1ff"/><stop offset=".2563" stop-color="#ddddff"/><stop offset=".2725" stop-color="#ddddff"/><stop offset=".2730" stop-color="#d9d9ff"/><stop offset=".2781" stop-color="#d9d9ff"/><stop offset=".2786" stop-color="#d5d5ff"/><stop offset=".2987" stop-color="#d5d5ff"/><stop offset=".2993" stop-color="#d1d1ff"/><stop offset=".3568" stop-color="#c9c9ff"/><stop offset=".3573" stop-color="#cdcdff"/><stop offset=".3618" stop-color="#d1d1ff"/><stop offset=".3657" stop-color="#ddddff"/><stop offset=".6231" stop-color="#e1e1ff"/><stop offset=".6237" stop-color="#e9e9ff"/><stop offset=".6242" stop-color="#fdfdff"/><stop offset=".6538" stop-color="#fdfdff"/><stop offset=".6544" stop-color="#e1e1ff"/><stop offset=".7130" stop-color="#e1e1ff"/><stop offset=".7219" stop-color="#f5f5ff"/><stop offset=".7476" stop-color="#f9f9ff"/><stop offset=".7543" stop-color="#ddddff"/><stop offset=".9553" stop-color="#ddddff"/><stop offset=".9559" stop-color="#e5e5ff"/><stop offset=".9564" stop-color="#f9f9ff"/><stop offset=".9570" stop-color="#fff5f5"/><stop offset=".9576" stop-color="#ffe5e5"/><stop offset=".9581" stop-color="#ffdddd"/><stop offset=".9609" stop-color="#ffdddd"/><stop offset=".9615" stop-color="#ffe5e5"/><stop offset=".9620" stop-color="#fff9f9"/><stop offset=".9626" stop-color="#f5f5ff"/><stop offset=".9631" stop-color="#e9e9ff"/><stop offset=".9637" stop-color="#e9e9ff"/><stop offset=".9643" stop-color="#f5f5ff"/><stop offset="1.0000" stop-color="#f5f5ff"/></linearGradient><linearGradient id="r5"><stop offset=".0000" stop-color="#ffe9e9"/><stop offset=".1491" stop-color="#ffe9e9"/><stop offset=".1535" stop-color="#fff9f9"/><stop offset=".1569" stop-color="#fdfdff"/><stop offset=".1591" stop-color="#f5f5ff"/><stop offset=".1636" stop-color="#f5f5ff"/><stop offset=".1642" stop-color="#f1f1ff"/><stop offset=".1854" stop-color="#ededff"/><stop offset=".1932" stop-color="#ddddff"/><stop offset=".1949" stop-color="#d5d5ff"/><stop offset=".1993" stop-color="#cdcdff"/><stop offset=".2044" stop-color="#bdbdff"/><stop offset=".2066" stop-color="#bdbdff"/><stop offset=".2127" stop-color="#b1b1ff"/><stop offset=".2183" stop-color="#b1b1ff"/><stop offset=".2189" stop-color="#b5b5ff"/><stop offset=".2295" stop-color="#bdbdff"/><stop offset=".2367" stop-color="#d9d9ff"/><stop offset=".2719" stop-color="#d9d9ff"/><stop offset=".2786" stop-color="#c1c1ff"/><stop offset=".2982" stop-color="#c1c1ff"/><stop offset=".2987" stop-color="#bdbdff"/><stop offset=".3473" stop-color="#c1c1ff"/><stop offset=".3518" stop-color="#b1b1ff"/><stop offset=".3618" stop-color="#b1b1ff"/><stop offset=".3663" stop-color="#cdcdff"/><stop offset=".6231" stop-color="#d1d1ff"/><stop offset=".6237" stop-color="#e1e1ff"/><stop offset=".6242" stop-color="#fdfdff"/><stop offset=".6538" stop-color="#fdfdff"/><stop offset=".6544" stop-color="#d5d5ff"/><stop offset=".7136" stop-color="#d5d5ff"/><stop offset=".7225" stop-color="#f1f1ff"/><stop offset=".7415" stop-color="#f5f5ff"/><stop offset=".7420" stop-color="#f9f9ff"/><stop offset=".9564" stop-color="#fdfdff"/><stop offset=".9570" stop-color="#f5f5ff"/><stop offset=".9576" stop-color="#d9d9ff"/><stop offset=".9581" stop-color="#cdcdff"/><stop offset=".9620" stop-color="#cdcdff"/><stop offset=".9631" stop-color="#e9e9ff"/><stop offset=".9637" stop-color="#e9e9ff"/><stop offset=".9643" stop-color="#f5f5ff"/><stop offset="1.0000" stop-color="#f5f5ff"/></linearGradient><linearGradient id="r6"><stop offset=".0000" stop-color="#ffe9e9"/><stop offset=".1491" stop-color="#ffe9e9"/><stop offset=".1535" stop-color="#fff9f9"/><stop offset=".1569" stop-color="#fdfdff"/><stop offset=".1591" stop-color="#f5f5ff"/><stop offset=".1636" stop-color="#f5f5ff"/><stop offset=".1642" stop-color="#f1f1ff"/><stop offset=".1854" stop-color="#ededff"/><stop offset=".1932" stop-color="#ddddff"/><stop offset=".1949" stop-color="#d5d5ff"/><stop offset=".1993" stop-color="#cdcdff"/><stop offset=".2044" stop-color="#bdbdff"/><stop offset=".2066" stop-color="#bdbdff"/><stop offset=".2127" stop-color="#b1b1ff"/><stop offset=".2183" stop-color="#b1b1ff"/><stop offset=".2189" stop-color="#b5b5ff"/><stop offset=".2295" stop-color="#bdbdff"/><stop offset=".2367" stop-color="#d9d9ff"/><stop offset=".2719" stop-color="#d9d9ff"/><stop offset=".2786" stop-color="#c1c1ff"/><stop offset=".2982" stop-color="#c1c1ff"/><stop offset=".2987" stop-color="#bdbdff"/><stop offset=".3473" stop-color="#c1c1ff"/><stop offset=".3518" stop-color="#b1b1ff"/><stop offset=".3618" stop-color="#b1b1ff"/><stop offset=".3663" stop-color="#cdcdff"/><stop offset=".6231" stop-color="#d1d1ff"/><stop offset=".6237" stop-color="#e1e1ff"/><stop offset=".6242" stop-color="#fdfdff"/><stop offset=".6538" stop-color="#fdfdff"/><stop offset=".6544" stop-color="#d5d5ff"/><stop offset=".7136" stop-color="#d5d5ff"/><stop offset=".7225" stop-color="#f1f1ff"/><stop offset=".7415" stop-color="#f5f5ff"/><stop offset=".7420" stop-color="#f9f9ff"/><stop offset=".9564" stop-color="#fdfdff"/><stop offset=".9570" stop-color="#f5f5ff"/><stop offset=".9576" stop-color="#d9d9ff"/><stop offset=".9581" stop-color="#cdcdff"/><stop offset=".9620" stop-color="#cdcdff"/><stop offset=".9631" stop-color="#e9e9ff"/><stop offset=".9637" stop-color="#e9e9ff"/><stop offset=".9643" stop-color="#f5f5ff"/><stop offset="1.0000" stop-color="#f5f5ff"/></linearGradient><linearGradient id="r7"><stop offset=".0000" stop-color="#ffe5e5"/><stop offset=".1441" stop-color="#ffe5e5"/><stop offset=".1446" stop-color="#ffe9e9"/><stop offset=".1491" stop-color="#ffe9e9"/><stop offset=".1547" stop-color="#fffdfd"/><stop offset=".1569" stop-color="#fdfdff"/><stop offset=".1597" stop-color="#f1f1ff"/><stop offset=".1893" stop-color="#ededff"/><stop offset=".1898" stop-color="#e9e9ff"/><stop offset=".1926" stop-color="#e9e9ff"/><stop offset=".1960" stop-color="#e1e1ff"/><stop offset=".1988" stop-color="#e1e1ff"/><stop offset=".2027" stop-color="#d9d9ff"/><stop offset=".2083" stop-color="#d9d9ff"/><stop offset=".2088" stop-color="#d5d5ff"/><stop offset=".2183" stop-color="#d5d5ff"/><stop offset=".2189" stop-color="#d9d9ff"/><stop offset=".2272" stop-color="#ddddff"/><stop offset=".2278" stop-color="#e1e1ff"/><stop offset=".2306" stop-color="#e1e1ff"/><stop offset=".2373" stop-color="#f5f5ff"/><stop offset=".2719" stop-color="#f5f5ff"/><stop offset=".2786" stop-color="#e5e5ff"/><stop offset=".3049" stop-color="#e5e5ff"/><stop offset=".3054" stop-color="#e1e1ff"/><stop offset=".3143" stop-color="#e1e1ff"/><stop offset=".3149" stop-color="#ddddff"/><stop offset=".3428" stop-color="#ddddff"/><stop offset=".3434" stop-color="#e1e1ff"/><stop offset=".3473" stop-color="#e1e1ff"/><stop offset=".3518" stop-color="#d5d5ff"/><stop offset=".3618" stop-color="#d5d5ff"/><stop offset=".3663" stop-color="#e9e9ff"/><stop offset=".4093" stop-color="#e9e9ff"/><stop offset=".4098" stop-color="#ededff"/><stop offset=".6231" stop-color="#ededff"/><stop offset=".6237" stop-color="#f1f1ff"/><stop offset=".6242" stop-color="#fdfdff"/><stop offset=".6538" stop-color="#fdfdff"/><stop offset=".6544" stop-color="#f1f1ff"/><stop offset=".7147" stop-color="#f1f1ff"/><stop offset=".7197" stop-color="#fdfdff"/><stop offset=".7219" stop-color="#fffdfd"/><stop offset=".7348" stop-color="#fffdfd"/><stop offset=".7353" stop-color="#fff9f9"/><stop offset=".8325" stop-color="#fff9f9"/><stop offset=".8331" stop-color="#fff5f5"/><stop offset=".9564" stop-color="#fff5f5"/><stop offset=".9570" stop-color="#fdfdff"/><stop offset=".9576" stop-color="#e1e1ff"/><stop offset=".9581" stop-color="#cdcdff"/><stop offset=".9620" stop-color="#cdcdff"/><stop offset=".9631" stop-color="#e9e9ff"/><stop offset=".9637" stop-color="#e9e9ff"/><stop offset=".9643" stop-color="#f5f5ff"/><stop offset="1.0000" stop-color="#f5f5ff"/></linearGradient><linearGradient id="r8"><stop offset=".0000" stop-color="#ffd9d9"/><stop offset=".1374" stop-color="#ffd9d9"/><stop offset=".1379" stop-color="#ffdddd"/><stop offset=".1480" stop-color="#ffe5e5"/><stop offset=".1547" stop-color="#fffdfd"/><stop offset=".1558" stop-color="#fdfdff"/><stop offset=".1591" stop-color="#f1f1ff"/><stop offset=".1893" stop-color="#f1f1ff"/><stop offset=".1898" stop-color="#f5f5ff"/><stop offset=".2021" stop-color="#f5f5ff"/><stop offset=".2027" stop-color="#f9f9ff"/><stop offset=".2138" stop-color="#fdfdff"/><stop offset=".2261" stop-color="#fff9f9"/><stop offset=".2267" stop-color="#fff5f5"/><stop offset=".2312" stop-color="#fff5f5"/><stop offset=".2351" stop-color="#ffeded"/><stop offset=".2390" stop-color="#ffeded"/><stop offset=".2395" stop-color="#ffe9e9"/><stop offset=".3049" stop-color="#ffeded"/><stop offset=".3054" stop-color="#fff1f1"/><stop offset=".3099" stop-color="#fff1f1"/><stop offset=".3104" stop-color="#fff5f5"/><stop offset=".3149" stop-color="#fff5f5"/><stop offset=".3155" stop-color="#fff9f9"/><stop offset=".3205" stop-color="#fff9f9"/><stop offset=".3210" stop-color="#fffdfd"/><stop offset=".3361" stop-color="#fffdfd"/><stop offset=".3367" stop-color="#fff9f9"/><stop offset=".3629" stop-color="#fffdfd"/><stop offset=".3657" stop-color="#fff5f5"/><stop offset=".3713" stop-color="#fff5f5"/><stop offset=".3719" stop-color="#fff1f1"/><stop offset=".6231" stop-color="#fff1f1"/><stop offset=".6242" stop-color="#fdfdff"/><stop offset=".6538" stop-color="#fdfdff"/><stop offset=".6544" stop-color="#ffeded"/><stop offset=".7192" stop-color="#ffeded"/><stop offset=".7197" stop-color="#ffe9e9"/><stop offset=".7387" stop-color="#ffe9e9"/><stop offset=".7393" stop-color="#ffeded"/><stop offset=".7705" stop-color="#ffeded"/><stop offset=".7711" stop-color="#ffe9e9"/><stop offset=".9347" stop-color="#ffe9e9"/><stop offset=".9352" stop-color="#ffe5e5"/><stop offset=".9564" stop-color="#ffe5e5"/><stop offset=".9570" stop-color="#fff5f5"/><stop offset=".9576" stop-color="#e5e5ff"/><stop offset=".9581" stop-color="#d1d1ff"/><stop offset=".9620" stop-color="#d1d1ff"/><stop offset=".9626" stop-color="#d9d9ff"/><stop offset=".9631" stop-color="#e9e9ff"/><stop offset=".9637" stop-color="#e9e9ff"/><stop offset=".9643" stop-color="#f5f5ff"/><stop offset="1.0000" stop-color="#f5f5ff"/></linearGradient><linearGradient id="r9"><stop offset=".0000" stop-color="#ffd5d5"/><stop offset=".1374" stop-color="#ffd5d5"/><stop offset=".1379" stop-color="#ffd9d9"/><stop offset=".1485" stop-color="#ffe5e5"/><stop offset=".1552" stop-color="#fdfdff"/><stop offset=".1586" stop-color="#f1f1ff"/><stop offset=".1787" stop-color="#f1f1ff"/><stop offset=".1792" stop-color="#f5f5ff"/><stop offset=".1898" stop-color="#f5f5ff"/><stop offset=".1904" stop-color="#f9f9ff"/><stop offset=".1943" stop-color="#f9f9ff"/><stop offset=".1949" stop-color="#fdfdff"/><stop offset=".2016" stop-color="#fffdfd"/><stop offset=".2021" stop-color="#fff9f9"/><stop offset=".2049" stop-color="#fff9f9"/><stop offset=".2088" stop-color="#fff1f1"/><stop offset=".2150" stop-color="#ffeded"/><stop offset=".2155" stop-color="#ffe9e9"/><stop offset=".2362" stop-color="#ffe1e1"/><stop offset=".2367" stop-color="#ffdddd"/><stop offset=".3082" stop-color="#ffdddd"/><stop offset=".3088" stop-color="#ffe1e1"/><stop offset=".3127" stop-color="#ffe1e1"/><stop offset=".3132" stop-color="#ffe5e5"/><stop offset=".3171" stop-color="#ffe5e5"/><stop offset=".3177" stop-color="#ffe9e9"/><stop offset=".3663" stop-color="#ffe9e9"/><stop offset=".3668" stop-color="#ffe5e5"/><stop offset=".3730" stop-color="#ffe5e5"/><stop offset=".3735" stop-color="#ffe1e1"/><stop offset=".6231" stop-color="#ffe1e1"/><stop offset=".6242" stop-color="#fdfdff"/><stop offset=".6538" stop-color="#fdfdff"/><stop offset=".6544" stop-color="#ffe1e1"/><stop offset=".7337" stop-color="#ffe1e1"/><stop offset=".7342" stop-color="#ffe5e5"/><stop offset=".9564" stop-color="#ffe1e1"/><stop offset=".9570" stop-color="#fff1f1"/><stop offset=".9576" stop-color="#e9e9ff"/><stop offset=".9581" stop-color="#d1d1ff"/><stop offset=".9620" stop-color="#d1d1ff"/><stop offset=".9626" stop-color="#d9d9ff"/><stop offset=".9631" stop-color="#e9e9ff"/><stop offset=".9637" stop-color="#e9e9ff"/><stop offset=".9643" stop-color="#f5f5ff"/><stop offset="1.0000" stop-color="#f5f5ff"/></linearGradient><linearGradient id="r10"><stop offset=".0000" stop-color="#ffd5d5"/><stop offset=".1374" stop-color="#ffd5d5"/><stop offset=".1379" stop-color="#ffd9d9"/><stop offset=".1480" stop-color="#ffe5e5"/><stop offset=".1547" stop-color="#fffdfd"/><stop offset=".1558" stop-color="#fdfdff"/><stop offset=".1597" stop-color="#f1f1ff"/><stop offset=".1636" stop-color="#f1f1ff"/><stop offset=".1642" stop-color="#f5f5ff"/><stop offset=".1876" stop-color="#f5f5ff"/><stop offset=".1882" stop-color="#f9f9ff"/><stop offset=".1926" stop-color="#f9f9ff"/><stop offset=".1932" stop-color="#fdfdff"/><stop offset=".2004" stop-color="#fffdfd"/><stop offset=".2094" stop-color="#ffeded"/><stop offset=".2172" stop-color="#ffe9e9"/><stop offset=".2178" stop-color="#ffe5e5"/><stop offset=".2250" stop-color="#ffe5e5"/><stop offset=".2256" stop-color="#ffe1e1"/><stop offset=".2406" stop-color="#ffdddd"/><stop offset=".2412" stop-color="#ffd9d9"/><stop offset=".3054" stop-color="#ffd9d9"/><stop offset=".3060" stop-color="#ffdddd"/><stop offset=".3104" stop-color="#ffdddd"/><stop offset=".3110" stop-color="#ffe1e1"/><stop offset=".3199" stop-color="#ffe5e5"/><stop offset=".3205" stop-color="#ffe9e9"/><stop offset=".3618" stop-color="#ffe9e9"/><stop offset=".3624" stop-color="#ffe5e5"/><stop offset=".3769" stop-color="#ffe1e1"/><stop offset=".3774" stop-color="#ffdddd"/><stop offset=".6231" stop-color="#ffdddd"/><stop offset=".6237" stop-color="#ffe9e9"/><stop offset=".6242" stop-color="#fdfdff"/><stop offset=".6538" stop-color="#fdfdff"/><stop offset=".6544" stop-color="#ffe1e1"/><stop offset=".8113" stop-color="#ffe5e5"/><stop offset=".8118" stop-color="#ffe1e1"/><stop offset=".9196" stop-color="#ffe1e1"/><stop offset=".9202" stop-color="#ffdddd"/><stop offset=".9442" stop-color="#ffdddd"/><stop offset=".9447" stop-color="#ffe1e1"/><stop offset=".9564" stop-color="#ffe1e1"/><stop offset=".9570" stop-color="#fff1f1"/><stop offset=".9576" stop-color="#e9e9ff"/><stop offset=".9581" stop-color="#d1d1ff"/><stop offset=".9620" stop-color="#d1d1ff"/><stop offset=".9626" stop-color="#d9d9ff"/><stop offset=".9631" stop-color="#e9e9ff"/><stop offset=".9637" stop-color="#e9e9ff"/><stop offset=".9643" stop-color="#f5f5ff"/><stop offset="1.0000" stop-color="#f5f5ff"/></linearGradient><linearGradient id="r11"><stop offset=".0000" stop-color="#ffd5d5"/><stop offset=".1374" stop-color="#ffd5d5"/><stop offset=".1446" stop-color="#ffe5e5"/><stop offset=".1491" stop-color="#ffe9e9"/><stop offset=".1552" stop-color="#fff9f9"/><stop offset=".1597" stop-color="#fdfdff"/><stop offset=".1982" stop-color="#fffdfd"/><stop offset=".2094" stop-color="#ffe1e1"/><stop offset=".2205" stop-color="#ffdddd"/><stop offset=".2211" stop-color="#ffd9d9"/><stop offset=".2284" stop-color="#ffd9d9"/><stop offset=".2289" stop-color="#ffd5d5"/><stop offset=".3099" stop-color="#ffd5d5"/><stop offset=".3104" stop-color="#ffd9d9"/><stop offset=".3166" stop-color="#ffd9d9"/><stop offset=".3171" stop-color="#ffdddd"/><stop offset=".3629" stop-color="#ffdddd"/><stop offset=".3635" stop-color="#ffd9d9"/><stop offset=".3908" stop-color="#ffd9d9"/><stop offset=".3914" stop-color="#ffd5d5"/><stop offset=".4534" stop-color="#ffd5d5"/><stop offset=".4539" stop-color="#ffd1d1"/><stop offset=".6231" stop-color="#ffd1d1"/><stop offset=".6237" stop-color="#ffe1e1"/><stop offset=".6242" stop-color="#fdfdff"/><stop offset=".6538" stop-color="#fdfdff"/><stop offset=".6544" stop-color="#ffd9d9"/><stop offset=".7275" stop-color="#ffd9d9"/><stop offset=".7281" stop-color="#ffdddd"/><stop offset=".7437" stop-color="#ffe1e1"/><stop offset=".7443" stop-color="#ffe5e5"/><stop offset=".7554" stop-color="#ffe5e5"/><stop offset=".7560" stop-color="#ffe1e1"/><stop offset=".8063" stop-color="#ffe1e1"/><stop offset=".8068" stop-color="#ffdddd"/><stop offset=".8526" stop-color="#ffdddd"/><stop offset=".8532" stop-color="#ffd9d9"/><stop offset=".8961" stop-color="#ffd9d9"/><stop offset=".8967" stop-color="#ffd5d5"/><stop offset=".9436" stop-color="#ffd5d5"/><stop offset=".9442" stop-color="#ffd9d9"/><stop offset=".9564" stop-color="#ffdddd"/><stop offset=".9570" stop-color="#ffeded"/><stop offset=".9576" stop-color="#e9e9ff"/><stop offset=".9581" stop-color="#d1d1ff"/><stop offset=".9620" stop-color="#d1d1ff"/><stop offset=".9626" stop-color="#d9d9ff"/><stop offset=".9631" stop-color="#e9e9ff"/><stop offset=".9637" stop-color="#e9e9ff"/><stop offset=".9643" stop-color="#f5f5ff"/><stop offset="1.0000" stop-color="#f5f5ff"/></linearGradient><linearGradient id="r12"><stop offset=".0000" stop-color="#ffd5d5"/><stop offset=".1374" stop-color="#ffd5d5"/><stop offset=".1485" stop-color="#ffeded"/><stop offset=".1513" stop-color="#ffeded"/><stop offset=".1575" stop-color="#fff9f9"/><stop offset=".1993" stop-color="#fff9f9"/><stop offset=".2111" stop-color="#ffd9d9"/><stop offset=".2278" stop-color="#ffd5d5"/><stop offset=".2284" stop-color="#ffd1d1"/><stop offset=".3082" stop-color="#ffd1d1"/><stop offset=".3088" stop-color="#ffd5d5"/><stop offset=".3171" stop-color="#ffd5d5"/><stop offset=".3177" stop-color="#ffd9d9"/><stop offset=".3495" stop-color="#ffd9d9"/><stop offset=".3501" stop-color="#ffd5d5"/><stop offset=".3981" stop-color="#ffd5d5"/><stop offset=".3987" stop-color="#ffd1d1"/><stop offset=".4439" stop-color="#ffd1d1"/><stop offset=".4444" stop-color="#ffcdcd"/><stop offset=".6231" stop-color="#ffcdcd"/><stop offset=".6237" stop-color="#ffdddd"/><stop offset=".6242" stop-color="#fdfdff"/><stop offset=".6538" stop-color="#fdfdff"/><stop offset=".6544" stop-color="#ffd5d5"/><stop offset=".7242" stop-color="#ffd5d5"/><stop offset=".7247" stop-color="#ffd9d9"/><stop offset=".7314" stop-color="#ffd9d9"/><stop offset=".7320" stop-color="#ffdddd"/><stop offset=".7381" stop-color="#ffdddd"/><stop offset=".7387" stop-color="#ffe1e1"/><stop offset=".7454" stop-color="#ffe1e1"/><stop offset=".7465" stop-color="#ffe5e5"/><stop offset=".7471" stop-color="#ffe1e1"/><stop offset=".8275" stop-color="#ffdddd"/><stop offset=".8280" stop-color="#ffd9d9"/><stop offset=".8621" stop-color="#ffd9d9"/><stop offset=".8626" stop-color="#ffd5d5"/><stop offset=".8973" stop-color="#ffd5d5"/><stop offset=".8978" stop-color="#ffd1d1"/><stop offset=".9319" stop-color="#ffd1d1"/><stop offset=".9324" stop-color="#ffcdcd"/><stop offset=".9358" stop-color="#ffcdcd"/><stop offset=".9363" stop-color="#ffd1d1"/><stop offset=".9559" stop-color="#ffd9d9"/><stop offset=".9564" stop-color="#ffdddd"/><stop offset=".9570" stop-color="#ffeded"/><stop offset=".9576" stop-color="#e9e9ff"/><stop offset=".9581" stop-color="#d1d1ff"/><stop offset=".9620" stop-color="#d1d1ff"/><stop offset=".9626" stop-color="#d9d9ff"/><stop offset=".9631" stop-color="#e9e9ff"/><stop offset=".9637" stop-color="#e9e9ff"/><stop offset=".9643" stop-color="#f5f5ff"/><stop offset="1.0000" stop-color="#f5f5ff"/></linearGradient><linearGradient id="r13"><stop offset=".0000" stop-color="#ffe1e1"/><stop offset=".1385" stop-color="#ffe1e1"/><stop offset=".1441" stop-color="#ffeded"/><stop offset=".1558" stop-color="#fff9f9"/><stop offset=".1563" stop-color="#fffdfd"/><stop offset=".1982" stop-color="#fdfdff"/><stop offset=".1999" stop-color="#fffdfd"/><stop offset=".2088" stop-color="#ffe5e5"/><stop offset=".2228" stop-color="#ffe1e1"/><stop offset=".2233" stop-color="#ffdddd"/><stop offset=".2278" stop-color="#ffdddd"/><stop offset=".2284" stop-color="#ffd9d9"/><stop offset=".3099" stop-color="#ffd9d9"/><stop offset=".3104" stop-color="#ffdddd"/><stop offset=".3289" stop-color="#ffe1e1"/><stop offset=".3294" stop-color="#ffdddd"/><stop offset=".3903" stop-color="#ffdddd"/><stop offset=".3908" stop-color="#ffd9d9"/><stop offset=".4439" stop-color="#ffd9d9"/><stop offset=".4444" stop-color="#ffd5d5"/><stop offset=".6231" stop-color="#ffd5d5"/><stop offset=".6237" stop-color="#ffe5e5"/><stop offset=".6242" stop-color="#fdfdff"/><stop offset=".6538" stop-color="#fdfdff"/><stop offset=".6544" stop-color="#ffe1e1"/><stop offset=".7292" stop-color="#ffe1e1"/><stop offset=".7298" stop-color="#ffe5e5"/><stop offset=".7398" stop-color="#ffe5e5"/><stop offset=".7404" stop-color="#ffe9e9"/><stop offset=".7582" stop-color="#ffe9e9"/><stop offset=".7588" stop-color="#ffe5e5"/><stop offset=".7744" stop-color="#ffe5e5"/><stop offset=".7750" stop-color="#ffe1e1"/><stop offset=".8911" stop-color="#ffd9d9"/><stop offset=".8917" stop-color="#ffd5d5"/><stop offset=".9319" stop-color="#ffd5d5"/><stop offset=".9324" stop-color="#ffd1d1"/><stop offset=".9358" stop-color="#ffd1d1"/><stop offset=".9363" stop-color="#ffd5d5"/><stop offset=".9564" stop-color="#ffdddd"/><stop offset=".9570" stop-color="#ffeded"/><stop offset=".9576" stop-color="#e9e9ff"/><stop offset=".9581" stop-color="#d1d1ff"/><stop offset=".9620" stop-color="#d1d1ff"/><stop offset=".9626" stop-color="#d9d9ff"/><stop offset=".9631" stop-color="#e9e9ff"/><stop offset=".9637" stop-color="#e9e9ff"/><stop offset=".9643" stop-color="#f5f5ff"/><stop offset="1.0000" stop-color="#f5f5ff"/></linearGradient><linearGradient id="r14"><stop offset=".0000" stop-color="#f5f5ff"/><stop offset=".1407" stop-color="#f5f5ff"/><stop offset=".1413" stop-color="#f1f1ff"/><stop offset=".1491" stop-color="#f1f1ff"/><stop offset=".1496" stop-color="#ededff"/><stop offset=".1608" stop-color="#ededff"/><stop offset=".1614" stop-color="#e9e9ff"/><stop offset=".1999" stop-color="#e9e9ff"/><stop offset=".2004" stop-color="#ededff"/><stop offset=".2055" stop-color="#ededff"/><stop offset=".2060" stop-color="#f1f1ff"/><stop offset=".2205" stop-color="#f1f1ff"/><stop offset=".2250" stop-color="#fdfdff"/><stop offset=".2272" stop-color="#fffdfd"/><stop offset=".2289" stop-color="#fff9f9"/><stop offset=".6237" stop-color="#fff9f9"/><stop offset=".6242" stop-color="#fdfdff"/><stop offset=".6538" stop-color="#fdfdff"/><stop offset=".6544" stop-color="#f1f1ff"/><stop offset=".7236" stop-color="#f1f1ff"/><stop offset=".7242" stop-color="#f5f5ff"/><stop offset=".7532" stop-color="#fdfdff"/><stop offset=".7677" stop-color="#fff9f9"/><stop offset=".7683" stop-color="#fff5f5"/><stop offset=".7767" stop-color="#ffeded"/><stop offset=".7772" stop-color="#ffe9e9"/><stop offset=".8141" stop-color="#ffe9e9"/><stop offset=".8146" stop-color="#ffe5e5"/><stop offset=".9564" stop-color="#ffe5e5"/><stop offset=".9570" stop-color="#fff5f5"/><stop offset=".9576" stop-color="#e5e5ff"/><stop offset=".9581" stop-color="#cdcdff"/><stop offset=".9620" stop-color="#cdcdff"/><stop offset=".9631" stop-color="#e9e9ff"/><stop offset=".9637" stop-color="#e9e9ff"/><stop offset=".9643" stop-color="#f5f5ff"/><stop offset="1.0000" stop-color="#f5f5ff"/></linearGradient><linearGradient id="r15"><stop offset=".0000" stop-color="#e5e5ff"/><stop offset=".2217" stop-color="#e1e1ff"/><stop offset=".2300" stop-color="#f9f9ff"/><stop offset=".6237" stop-color="#f9f9ff"/><stop offset=".6242" stop-color="#fdfdff"/><stop offset=".6538" stop-color="#fdfdff"/><stop offset=".6544" stop-color="#e1e1ff"/><stop offset=".7275" stop-color="#e1e1ff"/><stop offset=".7281" stop-color="#e5e5ff"/><stop offset=".7393" stop-color="#e9e9ff"/><stop offset=".7398" stop-color="#ededff"/><stop offset=".7448" stop-color="#ededff"/><stop offset=".7454" stop-color="#f1f1ff"/><stop offset=".7504" stop-color="#f1f1ff"/><stop offset=".7510" stop-color="#f5f5ff"/><stop offset=".7566" stop-color="#f5f5ff"/><stop offset=".7571" stop-color="#f9f9ff"/><stop offset=".7621" stop-color="#f9f9ff"/><stop offset=".7627" stop-color="#fdfdff"/><stop offset=".7683" stop-color="#fffdfd"/><stop offset=".7789" stop-color="#ffeded"/><stop offset=".7795" stop-color="#ffe9e9"/><stop offset=".9564" stop-color="#ffe9e9"/><stop offset=".9570" stop-color="#fff9f9"/><stop offset=".9576" stop-color="#e1e1ff"/><stop offset=".9581" stop-color="#cdcdff"/><stop offset=".9620" stop-color="#cdcdff"/><stop offset=".9631" stop-color="#e9e9ff"/><stop offset=".9637" stop-color="#e9e9ff"/><stop offset=".9643" stop-color="#f5f5ff"/><stop offset="1.0000" stop-color="#f5f5ff"/></linearGradient><linearGradient id="r16"><stop offset=".0000" stop-color="#e5e5ff"/><stop offset=".2222" stop-color="#ddddff"/><stop offset=".2289" stop-color="#f1f1ff"/><stop offset=".2658" stop-color="#f1f1ff"/><stop offset=".2663" stop-color="#f5f5ff"/><stop offset=".6231" stop-color="#f5f5ff"/><stop offset=".6242" stop-color="#fdfdff"/><stop offset=".6538" stop-color="#fdfdff"/><stop offset=".6544" stop-color="#d9d9ff"/><stop offset=".6929" stop-color="#d9d9ff"/><stop offset=".6935" stop-color="#ddddff"/><stop offset=".7281" stop-color="#ddddff"/><stop offset=".7286" stop-color="#e1e1ff"/><stop offset=".7331" stop-color="#e1e1ff"/><stop offset=".7337" stop-color="#e5e5ff"/><stop offset=".7443" stop-color="#e9e9ff"/><stop offset=".7448" stop-color="#ededff"/><stop offset=".7661" stop-color="#f9f9ff"/><stop offset=".7666" stop-color="#fdfdff"/><stop offset=".7694" stop-color="#fffdfd"/><stop offset=".7783" stop-color="#ffeded"/><stop offset=".9564" stop-color="#ffeded"/><stop offset=".9570" stop-color="#fffdfd"/><stop offset=".9581" stop-color="#c9c9ff"/><stop offset=".9620" stop-color="#c9c9ff"/><stop offset=".9631" stop-color="#e9e9ff"/><stop offset=".9637" stop-color="#e9e9ff"/><stop offset=".9643" stop-color="#f5f5ff"/><stop offset="1.0000" stop-color="#f5f5ff"/></linearGradient><linearGradient id="r17"><stop offset=".0000" stop-color="#e1e1ff"/><stop offset=".1508" stop-color="#ddddff"/><stop offset=".1580" stop-color="#cdcdff"/><stop offset=".2222" stop-color="#cdcdff"/><stop offset=".2306" stop-color="#e1e1ff"/><stop offset=".2379" stop-color="#e1e1ff"/><stop offset=".2384" stop-color="#e5e5ff"/><stop offset=".4305" stop-color="#e9e9ff"/><stop offset=".4310" stop-color="#ededff"/><stop offset=".6231" stop-color="#ededff"/><stop offset=".6237" stop-color="#f1f1ff"/><stop offset=".6242" stop-color="#fdfdff"/><stop offset=".6538" stop-color="#fdfdff"/><stop offset=".6544" stop-color="#c5c5ff"/><stop offset=".6616" stop-color="#c5c5ff"/><stop offset=".6622" stop-color="#c9c9ff"/><stop offset=".7152" stop-color="#c9c9ff"/><stop offset=".7158" stop-color="#cdcdff"/><stop offset=".7270" stop-color="#cdcdff"/><stop offset=".7275" stop-color="#d1d1ff"/><stop offset=".7314" stop-color="#d1d1ff"/><stop offset=".7359" stop-color="#d9d9ff"/><stop offset=".7398" stop-color="#d9d9ff"/><stop offset=".7404" stop-color="#ddddff"/><stop offset=".7577" stop-color="#e9e9ff"/><stop offset=".7582" stop-color="#ededff"/><stop offset=".7616" stop-color="#ededff"/><stop offset=".7621" stop-color="#f1f1ff"/><stop offset=".7661" stop-color="#f1f1ff"/><stop offset=".7716" stop-color="#fdfdff"/><stop offset=".7750" stop-color="#fffdfd"/><stop offset=".7795" stop-color="#fff1f1"/><stop offset=".8169" stop-color="#fff1f1"/><stop offset=".8174" stop-color="#fff5f5"/><stop offset=".9564" stop-color="#fff5f5"/><stop offset=".9570" stop-color="#fdfdff"/><stop offset=".9576" stop-color="#d9d9ff"/><stop offset=".9581" stop-color="#c5c5ff"/><stop offset=".9620" stop-color="#c5c5ff"/><stop offset=".9631" stop-color="#e9e9ff"/><stop offset=".9637" stop-color="#e9e9ff"/><stop offset=".9643" stop-color="#f5f5ff"/><stop offset="1.0000" stop-color="#f5f5ff"/></linearGradient><linearGradient id="r18"><stop offset=".0000" stop-color="#e1e1ff"/><stop offset=".1508" stop-color="#ddddff"/><stop offset=".1580" stop-color="#cdcdff"/><stop offset=".2222" stop-color="#cdcdff"/><stop offset=".2306" stop-color="#e1e1ff"/><stop offset=".2379" stop-color="#e1e1ff"/><stop offset=".2384" stop-color="#e5e5ff"/><stop offset=".4305" stop-color="#e9e9ff"/><stop offset=".4310" stop-color="#ededff"/><stop offset=".6231" stop-color="#ededff"/><stop offset=".6237" stop-color="#f1f1ff"/><stop offset=".6242" stop-color="#fdfdff"/><stop offset=".6538" stop-color="#fdfdff"/><stop offset=".6544" stop-color="#c5c5ff"/><stop offset=".6616" stop-color="#c5c5ff"/><stop offset=".6622" stop-color="#c9c9ff"/><stop offset=".7152" stop-color="#c9c9ff"/><stop offset=".7158" stop-color="#cdcdff"/><stop offset=".7270" stop-color="#cdcdff"/><stop offset=".7275" stop-color="#d1d1ff"/><stop offset=".7314" stop-color="#d1d1ff"/><stop offset=".7359" stop-color="#d9d9ff"/><stop offset=".7398" stop-color="#d9d9ff"/><stop offset=".7404" stop-color="#ddddff"/><stop offset=".7577" stop-color="#e9e9ff"/><stop offset=".7582" stop-color="#ededff"/><stop offset=".7616" stop-color="#ededff"/><stop offset=".7621" stop-color="#f1f1ff"/><stop offset=".7661" stop-color="#f1f1ff"/><stop offset=".7716" stop-color="#fdfdff"/><stop offset=".7750" stop-color="#fffdfd"/><stop offset=".7795" stop-color="#fff1f1"/><stop offset=".8169" stop-color="#fff1f1"/><stop offset=".8174" stop-color="#fff5f5"/><stop offset=".9564" stop-color="#fff5f5"/><stop offset=".9570" stop-color="#fdfdff"/><stop offset=".9576" stop-color="#d9d9ff"/><stop offset=".9581" stop-color="#c5c5ff"/><stop offset=".9620" stop-color="#c5c5ff"/><stop offset=".9631" stop-color="#e9e9ff"/><stop offset=".9637" stop-color="#e9e9ff"/><stop offset=".9643" stop-color="#f5f5ff"/><stop offset="1.0000" stop-color="#f5f5ff"/></linearGradient><linearGradient id="r19"><stop offset=".0000" stop-color="#d1d1ff"/><stop offset=".1468" stop-color="#cdcdff"/><stop offset=".1474" stop-color="#c9c9ff"/><stop offset=".1508" stop-color="#c9c9ff"/><stop offset=".1513" stop-color="#c5c5ff"/><stop offset=".1865" stop-color="#c5c5ff"/><stop offset=".1870" stop-color="#c9c9ff"/><stop offset=".2217" stop-color="#c9c9ff"/><stop offset=".2323" stop-color="#e1e1ff"/><stop offset=".2496" stop-color="#e1e1ff"/><stop offset=".2501" stop-color="#ddddff"/><stop offset=".3635" stop-color="#ddddff"/><stop offset=".3640" stop-color="#e1e1ff"/><stop offset=".3680" stop-color="#e1e1ff"/><stop offset=".3685" stop-color="#e5e5ff"/><stop offset=".6231" stop-color="#e9e9ff"/><stop offset=".6237" stop-color="#ededff"/><stop offset=".6242" stop-color="#fdfdff"/><stop offset=".6538" stop-color="#fdfdff"/><stop offset=".6544" stop-color="#c5c5ff"/><stop offset=".6616" stop-color="#c5c5ff"/><stop offset=".6622" stop-color="#c9c9ff"/><stop offset=".7147" stop-color="#c9c9ff"/><stop offset=".7152" stop-color="#cdcdff"/><stop offset=".7270" stop-color="#cdcdff"/><stop offset=".7275" stop-color="#d1d1ff"/><stop offset=".7370" stop-color="#d5d5ff"/><stop offset=".7376" stop-color="#d9d9ff"/><stop offset=".7415" stop-color="#d9d9ff"/><stop offset=".7420" stop-color="#ddddff"/><stop offset=".7666" stop-color="#ededff"/><stop offset=".7672" stop-color="#f1f1ff"/><stop offset=".7744" stop-color="#f5f5ff"/><stop offset=".7783" stop-color="#fdfdff"/><stop offset=".7878" stop-color="#fdfdff"/><stop offset=".7884" stop-color="#f9f9ff"/><stop offset=".8202" stop-color="#f9f9ff"/><stop offset=".8208" stop-color="#f5f5ff"/><stop offset=".9564" stop-color="#f5f5ff"/><stop offset=".9570" stop-color="#ededff"/><stop offset=".9576" stop-color="#d1d1ff"/><stop offset=".9581" stop-color="#c1c1ff"/><stop offset=".9620" stop-color="#c1c1ff"/><stop offset=".9631" stop-color="#ededff"/><stop offset=".9637" stop-color="#ededff"/><stop offset=".9643" stop-color="#f5f5ff"/><stop offset="1.0000" stop-color="#f5f5ff"/></linearGradient><linearGradient id="r20"><stop offset=".0000" stop-color="#bdbdff"/><stop offset=".1429" stop-color="#bdbdff"/><stop offset=".1519" stop-color="#adadff"/><stop offset=".1586" stop-color="#bdbdff"/><stop offset=".1960" stop-color="#c1c1ff"/><stop offset=".1965" stop-color="#c5c5ff"/><stop offset=".2205" stop-color="#c5c5ff"/><stop offset=".2323" stop-color="#ddddff"/><stop offset=".2356" stop-color="#ddddff"/><stop offset=".2362" stop-color="#d9d9ff"/><stop offset=".2697" stop-color="#d9d9ff"/><stop offset=".2702" stop-color="#d5d5ff"/><stop offset=".3618" stop-color="#cdcdff"/><stop offset=".3707" stop-color="#e1e1ff"/><stop offset=".6231" stop-color="#e1e1ff"/><stop offset=".6237" stop-color="#e9e9ff"/><stop offset=".6242" stop-color="#fdfdff"/><stop offset=".6538" stop-color="#fdfdff"/><stop offset=".6544" stop-color="#c5c5ff"/><stop offset=".6611" stop-color="#c5c5ff"/><stop offset=".6616" stop-color="#c9c9ff"/><stop offset=".7147" stop-color="#c9c9ff"/><stop offset=".7152" stop-color="#cdcdff"/><stop offset=".7331" stop-color="#d1d1ff"/><stop offset=".7337" stop-color="#d5d5ff"/><stop offset=".7504" stop-color="#ddddff"/><stop offset=".7510" stop-color="#e1e1ff"/><stop offset=".7560" stop-color="#e1e1ff"/><stop offset=".7566" stop-color="#e5e5ff"/><stop offset=".7621" stop-color="#e5e5ff"/><stop offset=".7627" stop-color="#e9e9ff"/><stop offset=".7895" stop-color="#e9e9ff"/><stop offset=".7901" stop-color="#e5e5ff"/><stop offset=".8051" stop-color="#e5e5ff"/><stop offset=".8057" stop-color="#e1e1ff"/><stop offset=".8208" stop-color="#e1e1ff"/><stop offset=".8213" stop-color="#ddddff"/><stop offset=".9564" stop-color="#ddddff"/><stop offset=".9570" stop-color="#d9d9ff"/><stop offset=".9576" stop-color="#c5c5ff"/><stop offset=".9581" stop-color="#bdbdff"/><stop offset=".9620" stop-color="#bdbdff"/><stop offset=".9626" stop-color="#d1d1ff"/><stop offset=".9631" stop-color="#f1f1ff"/><stop offset=".9643" stop-color="#f5f5ff"/><stop offset="1.0000" stop-color="#f5f5ff"/></linearGradient><linearGradient id="r21"><stop offset=".0000" stop-color="#b9b9ff"/><stop offset=".1441" stop-color="#b9b9ff"/><stop offset=".1519" stop-color="#a9a9ff"/><stop offset=".1591" stop-color="#bdbdff"/><stop offset=".2211" stop-color="#c5c5ff"/><stop offset=".2300" stop-color="#d9d9ff"/><stop offset=".3272" stop-color="#d1d1ff"/><stop offset=".3277" stop-color="#cdcdff"/><stop offset=".3629" stop-color="#cdcdff"/><stop offset=".3713" stop-color="#e1e1ff"/><stop offset=".6231" stop-color="#e1e1ff"/><stop offset=".6237" stop-color="#e9e9ff"/><stop offset=".6242" stop-color="#fdfdff"/><stop offset=".6538" stop-color="#fdfdff"/><stop offset=".6544" stop-color="#c5c5ff"/><stop offset=".6611" stop-color="#c5c5ff"/><stop offset=".6616" stop-color="#c9c9ff"/><stop offset=".7141" stop-color="#c9c9ff"/><stop offset=".7147" stop-color="#cdcdff"/><stop offset=".7270" stop-color="#cdcdff"/><stop offset=".7275" stop-color="#d1d1ff"/><stop offset=".7393" stop-color="#d5d5ff"/><stop offset=".7398" stop-color="#d9d9ff"/><stop offset=".7571" stop-color="#e1e1ff"/><stop offset=".7577" stop-color="#e5e5ff"/><stop offset=".7627" stop-color="#e5e5ff"/><stop offset=".7633" stop-color="#e9e9ff"/><stop offset=".7795" stop-color="#e9e9ff"/><stop offset=".7800" stop-color="#e5e5ff"/><stop offset=".8236" stop-color="#ddddff"/><stop offset=".8241" stop-color="#d9d9ff"/><stop offset=".9564" stop-color="#d9d9ff"/><stop offset=".9570" stop-color="#d5d5ff"/><stop offset=".9576" stop-color="#c5c5ff"/><stop offset=".9581" stop-color="#bdbdff"/><stop offset=".9620" stop-color="#bdbdff"/><stop offset=".9626" stop-color="#d1d1ff"/><stop offset=".9631" stop-color="#f1f1ff"/><stop offset=".9643" stop-color="#f5f5ff"/><stop offset="1.0000" stop-color="#f5f5ff"/></linearGradient><linearGradient id="r22"><stop offset=".0000" stop-color="#cdcdff"/><stop offset=".1429" stop-color="#cdcdff"/><stop offset=".1435" stop-color="#c9c9ff"/><stop offset=".1468" stop-color="#c9c9ff"/><stop offset=".1508" stop-color="#c1c1ff"/><stop offset=".1569" stop-color="#c1c1ff"/><stop offset=".1575" stop-color="#c5c5ff"/><stop offset=".1865" stop-color="#c5c5ff"/><stop offset=".1870" stop-color="#c9c9ff"/><stop offset=".2211" stop-color="#c9c9ff"/><stop offset=".2317" stop-color="#e5e5ff"/><stop offset=".2446" stop-color="#e5e5ff"/><stop offset=".2451" stop-color="#e1e1ff"/><stop offset=".2982" stop-color="#e1e1ff"/><stop offset=".2987" stop-color="#ddddff"/><stop offset=".3640" stop-color="#ddddff"/><stop offset=".3646" stop-color="#e1e1ff"/><stop offset=".3674" stop-color="#e1e1ff"/><stop offset=".3713" stop-color="#e9e9ff"/><stop offset=".6231" stop-color="#e9e9ff"/><stop offset=".6242" stop-color="#fdfdff"/><stop offset=".6538" stop-color="#fdfdff"/><stop offset=".6544" stop-color="#d5d5ff"/><stop offset=".7091" stop-color="#d5d5ff"/><stop offset=".7097" stop-color="#d9d9ff"/><stop offset=".7264" stop-color="#d9d9ff"/><stop offset=".7270" stop-color="#ddddff"/><stop offset=".7376" stop-color="#e1e1ff"/><stop offset=".7381" stop-color="#e5e5ff"/><stop offset=".7476" stop-color="#e5e5ff"/><stop offset=".7482" stop-color="#e9e9ff"/><stop offset=".7571" stop-color="#e9e9ff"/><stop offset=".7577" stop-color="#ededff"/><stop offset=".7672" stop-color="#ededff"/><stop offset=".7677" stop-color="#f1f1ff"/><stop offset=".7700" stop-color="#ededff"/><stop offset=".7934" stop-color="#ededff"/><stop offset=".7940" stop-color="#e9e9ff"/><stop offset=".8174" stop-color="#e9e9ff"/><stop offset=".8180" stop-color="#e5e5ff"/><stop offset=".9564" stop-color="#e5e5ff"/><stop offset=".9570" stop-color="#ddddff"/><stop offset=".9576" stop-color="#c9c9ff"/><stop offset=".9581" stop-color="#bdbdff"/><stop offset=".9620" stop-color="#bdbdff"/><stop offset=".9626" stop-color="#d1d1ff"/><stop offset=".9631" stop-color="#f1f1ff"/><stop offset=".9643" stop-color="#f5f5ff"/><stop offset="1.0000" stop-color="#f5f5ff"/></linearGradient><linearGradient id="r23"><stop offset=".0000" stop-color="#e9e9ff"/><stop offset=".1496" stop-color="#e9e9ff"/><stop offset=".1586" stop-color="#d1d1ff"/><stop offset=".2211" stop-color="#d1d1ff"/><stop offset=".2272" stop-color="#e5e5ff"/><stop offset=".2284" stop-color="#e5e5ff"/><stop offset=".2312" stop-color="#f1f1ff"/><stop offset=".3116" stop-color="#f1f1ff"/><stop offset=".3121" stop-color="#f5f5ff"/><stop offset=".6175" stop-color="#f5f5ff"/><stop offset=".6181" stop-color="#f9f9ff"/><stop offset=".6237" stop-color="#f9f9ff"/><stop offset=".6242" stop-color="#fdfdff"/><stop offset=".6538" stop-color="#fdfdff"/><stop offset=".6544" stop-color="#e9e9ff"/><stop offset=".7236" stop-color="#e9e9ff"/><stop offset=".7242" stop-color="#ededff"/><stop offset=".7309" stop-color="#f1f1ff"/><stop offset=".7348" stop-color="#f9f9ff"/><stop offset=".9564" stop-color="#f9f9ff"/><stop offset=".9570" stop-color="#ededff"/><stop offset=".9576" stop-color="#cdcdff"/><stop offset=".9581" stop-color="#bdbdff"/><stop offset=".9620" stop-color="#bdbdff"/><stop offset=".9626" stop-color="#d5d5ff"/><stop offset=".9631" stop-color="#f9f9ff"/><stop offset="1.0000" stop-color="#f9f9ff"/></linearGradient><linearGradient id="r24"><stop offset=".0000" stop-color="#e9e9ff"/><stop offset=".1496" stop-color="#e9e9ff"/><stop offset=".1586" stop-color="#d1d1ff"/><stop offset=".2211" stop-color="#d1d1ff"/><stop offset=".2272" stop-color="#e5e5ff"/><stop offset=".2284" stop-color="#e5e5ff"/><stop offset=".2312" stop-color="#f1f1ff"/><stop offset=".3116" stop-color="#f1f1ff"/><stop offset=".3121" stop-color="#f5f5ff"/><stop offset=".6175" stop-color="#f5f5ff"/><stop offset=".6181" stop-color="#f9f9ff"/><stop offset=".6237" stop-color="#f9f9ff"/><stop offset=".6242" stop-color="#fdfdff"/><stop offset=".6538" stop-color="#fdfdff"/><stop offset=".6544" stop-color="#e9e9ff"/><stop offset=".7236" stop-color="#e9e9ff"/><stop offset=".7242" stop-color="#ededff"/><stop offset=".7309" stop-color="#f1f1ff"/><stop offset=".7348" stop-color="#f9f9ff"/><stop offset=".9564" stop-color="#f9f9ff"/><stop offset=".9570" stop-color="#ededff"/><stop offset=".9576" stop-color="#cdcdff"/><stop offset=".9581" stop-color="#bdbdff"/><stop offset=".9620" stop-color="#bdbdff"/><stop offset=".9626" stop-color="#d5d5ff"/><stop offset=".9631" stop-color="#f9f9ff"/><stop offset="1.0000" stop-color="#f9f9ff"/></linearGradient><linearGradient id="r25"><stop offset=".0000" stop-color="#fffdfd"/><stop offset=".1429" stop-color="#fffdfd"/><stop offset=".1485" stop-color="#f9f9ff"/><stop offset=".1508" stop-color="#f1f1ff"/><stop offset=".1563" stop-color="#ededff"/><stop offset=".1569" stop-color="#e9e9ff"/><stop offset=".2228" stop-color="#e9e9ff"/><stop offset=".2233" stop-color="#ededff"/><stop offset=".2256" stop-color="#ededff"/><stop offset=".2317" stop-color="#f9f9ff"/><stop offset=".6237" stop-color="#f9f9ff"/><stop offset=".6242" stop-color="#fdfdff"/><stop offset=".6538" stop-color="#fdfdff"/><stop offset=".6544" stop-color="#f1f1ff"/><stop offset=".7270" stop-color="#f1f1ff"/><stop offset=".7275" stop-color="#f5f5ff"/><stop offset=".7342" stop-color="#f5f5ff"/><stop offset=".7348" stop-color="#f9f9ff"/><stop offset=".9564" stop-color="#f9f9ff"/><stop offset=".9570" stop-color="#ededff"/><stop offset=".9576" stop-color="#d5d5ff"/><stop offset=".9581" stop-color="#c5c5ff"/><stop offset=".9620" stop-color="#c5c5ff"/><stop offset=".9626" stop-color="#d9d9ff"/><stop offset=".9631" stop-color="#f9f9ff"/><stop offset="1.0000" stop-color="#f9f9ff"/></linearGradient><linearGradient id="r26"><stop offset=".0000" stop-color="#ffe5e5"/><stop offset=".1429" stop-color="#ffe5e5"/><stop offset=".1502" stop-color="#fffdfd"/><stop offset=".1519" stop-color="#fdfdff"/><stop offset=".9564" stop-color="#f9f9ff"/><stop offset=".9581" stop-color="#cdcdff"/><stop offset=".9620" stop-color="#cdcdff"/><stop offset=".9626" stop-color="#ddddff"/><stop offset=".9631" stop-color="#f9f9ff"/><stop offset="1.0000" stop-color="#f9f9ff"/></linearGradient><linearGradient id="r27"><stop offset=".0000" stop-color="#ffe5e5"/><stop offset=".1429" stop-color="#ffe5e5"/><stop offset=".1502" stop-color="#fffdfd"/><stop offset=".1519" stop-color="#fdfdff"/><stop offset=".9564" stop-color="#f9f9ff"/><stop offset=".9581" stop-color="#cdcdff"/><stop offset=".9620" stop-color="#cdcdff"/><stop offset=".9626" stop-color="#ddddff"/><stop offset=".9631" stop-color="#f9f9ff"/><stop offset="1.0000" stop-color="#f9f9ff"/></linearGradient><linearGradient id="r28"><stop offset=".0000" stop-color="#fff9f9"/><stop offset=".1429" stop-color="#fff5f5"/><stop offset=".1463" stop-color="#fffdfd"/><stop offset=".1491" stop-color="#fdfdff"/><stop offset=".6538" stop-color="#fdfdff"/><stop offset=".6544" stop-color="#f5f5ff"/><stop offset=".7493" stop-color="#f5f5ff"/><stop offset=".7527" stop-color="#ededff"/><stop offset=".9564" stop-color="#ededff"/><stop offset=".9581" stop-color="#cdcdff"/><stop offset=".9620" stop-color="#cdcdff"/><stop offset=".9631" stop-color="#f9f9ff"/><stop offset=".9643" stop-color="#f5f5ff"/><stop offset="1.0000" stop-color="#f5f5ff"/></linearGradient><linearGradient id="r29"><stop offset=".0000" stop-color="#f5f5ff"/><stop offset=".1446" stop-color="#f5f5ff"/><stop offset=".1452" stop-color="#f9f9ff"/><stop offset=".1854" stop-color="#f9f9ff"/><stop offset=".1859" stop-color="#fdfdff"/><stop offset=".1988" stop-color="#fffdfd"/><stop offset=".2010" stop-color="#fffdfd"/><stop offset=".2016" stop-color="#fff9f9"/><stop offset=".2674" stop-color="#fff9f9"/><stop offset=".2680" stop-color="#fffdfd"/><stop offset=".2708" stop-color="#fdfdff"/><stop offset=".6538" stop-color="#fdfdff"/><stop offset=".6544" stop-color="#f5f5ff"/><stop offset=".7482" stop-color="#f5f5ff"/><stop offset=".7538" stop-color="#e1e1ff"/><stop offset=".9564" stop-color="#e1e1ff"/><stop offset=".9581" stop-color="#d1d1ff"/><stop offset=".9620" stop-color="#d1d1ff"/><stop offset=".9626" stop-color="#e1e1ff"/><stop offset=".9631" stop-color="#f9f9ff"/><stop offset=".9637" stop-color="#f9f9ff"/><stop offset=".9643" stop-color="#f1f1ff"/><stop offset="1.0000" stop-color="#f1f1ff"/></linearGradient><linearGradient id="r30"><stop offset=".0000" stop-color="#f5f5ff"/><stop offset=".1446" stop-color="#f5f5ff"/><stop offset=".1452" stop-color="#f9f9ff"/><stop offset=".1854" stop-color="#f9f9ff"/><stop offset=".1859" stop-color="#fdfdff"/><stop offset=".1988" stop-color="#fffdfd"/><stop offset=".2010" stop-color="#fffdfd"/><stop offset=".2016" stop-color="#fff9f9"/><stop offset=".2674" stop-color="#fff9f9"/><stop offset=".2680" stop-color="#fffdfd"/><stop offset=".2708" stop-color="#fdfdff"/><stop offset=".6538" stop-color="#fdfdff"/><stop offset=".6544" stop-color="#f5f5ff"/><stop offset=".7482" stop-color="#f5f5ff"/><stop offset=".7538" stop-color="#e1e1ff"/><stop offset=".9564" stop-color="#e1e1ff"/><stop offset=".9581" stop-color="#d1d1ff"/><stop offset=".9620" stop-color="#d1d1ff"/><stop offset=".9626" stop-color="#e1e1ff"/><stop offset=".9631" stop-color="#f9f9ff"/><stop offset=".9637" stop-color="#f9f9ff"/><stop offset=".9643" stop-color="#f1f1ff"/><stop offset="1.0000" stop-color="#f1f1ff"/></linearGradient><linearGradient id="r31"><stop offset=".0000" stop-color="#fdfdff"/><stop offset=".1971" stop-color="#fdfdff"/><stop offset=".1999" stop-color="#fffdfd"/><stop offset=".2032" stop-color="#fff5f5"/><stop offset=".2663" stop-color="#fff5f5"/><stop offset=".2708" stop-color="#fdfdff"/><stop offset=".5991" stop-color="#fdfdff"/><stop offset=".5997" stop-color="#f9f9ff"/><stop offset=".6538" stop-color="#fdfdff"/><stop offset=".6544" stop-color="#f5f5ff"/><stop offset=".7487" stop-color="#f5f5ff"/><stop offset=".7549" stop-color="#e9e9ff"/><stop offset=".9564" stop-color="#ededff"/><stop offset=".9581" stop-color="#d9d9ff"/><stop offset=".9620" stop-color="#d9d9ff"/><stop offset=".9626" stop-color="#e5e5ff"/><stop offset=".9631" stop-color="#f9f9ff"/><stop offset=".9643" stop-color="#f5f5ff"/><stop offset="1.0000" stop-color="#f5f5ff"/></linearGradient><linearGradient id="r32"><stop offset=".0000" stop-color="#fff5f5"/><stop offset=".1156" stop-color="#fff5f5"/><stop offset=".1161" stop-color="#fff9f9"/><stop offset=".1703" stop-color="#fff9f9"/><stop offset=".1709" stop-color="#fffdfd"/><stop offset=".1949" stop-color="#fdfdff"/><stop offset=".1988" stop-color="#fffdfd"/><stop offset=".2044" stop-color="#fff1f1"/><stop offset=".2658" stop-color="#fff1f1"/><stop offset=".2697" stop-color="#fffdfd"/><stop offset=".2714" stop-color="#fdfdff"/><stop offset=".4355" stop-color="#fdfdff"/><stop offset=".4361" stop-color="#f9f9ff"/><stop offset=".6237" stop-color="#f9f9ff"/><stop offset=".6242" stop-color="#fdfdff"/><stop offset=".6538" stop-color="#fdfdff"/><stop offset=".6544" stop-color="#f5f5ff"/><stop offset=".9475" stop-color="#f5f5ff"/><stop offset=".9481" stop-color="#f9f9ff"/><stop offset=".9564" stop-color="#f9f9ff"/><stop offset=".9576" stop-color="#e5e5ff"/><stop offset=".9581" stop-color="#e1e1ff"/><stop offset=".9620" stop-color="#e1e1ff"/><stop offset=".9626" stop-color="#e9e9ff"/><stop offset=".9631" stop-color="#f9f9ff"/><stop offset="1.0000" stop-color="#f9f9ff"/></linearGradient><linearGradient id="r33"><stop offset=".0000" stop-color="#fff5f5"/><stop offset=".1156" stop-color="#fff5f5"/><stop offset=".1161" stop-color="#fff9f9"/><stop offset=".1703" stop-color="#fff9f9"/><stop offset=".1709" stop-color="#fffdfd"/><stop offset=".1949" stop-color="#fdfdff"/><stop offset=".1988" stop-color="#fffdfd"/><stop offset=".2044" stop-color="#fff1f1"/><stop offset=".2658" stop-color="#fff1f1"/><stop offset=".2697" stop-color="#fffdfd"/><stop offset=".2714" stop-color="#fdfdff"/><stop offset=".4355" stop-color="#fdfdff"/><stop offset=".4361" stop-color="#f9f9ff"/><stop offset=".6237" stop-color="#f9f9ff"/><stop offset=".6242" stop-color="#fdfdff"/><stop offset=".6538" stop-color="#fdfdff"/><stop offset=".6544" stop-color="#f5f5ff"/><stop offset=".9475" stop-color="#f5f5ff"/><stop offset=".9481" stop-color="#f9f9ff"/><stop offset=".9564" stop-color="#f9f9ff"/><stop offset=".9576" stop-color="#e5e5ff"/><stop offset=".9581" stop-color="#e1e1ff"/><stop offset=".9620" stop-color="#e1e1ff"/><stop offset=".9626" stop-color="#e9e9ff"/><stop offset=".9631" stop-color="#f9f9ff"/><stop offset="1.0000" stop-color="#f9f9ff"/></linearGradient><linearGradient id="r34"><stop offset=".0000" stop-color="#fdfdff"/><stop offset=".1491" stop-color="#fdfdff"/><stop offset=".1513" stop-color="#fffdfd"/><stop offset=".1535" stop-color="#fff5f5"/><stop offset=".1625" stop-color="#fff5f5"/><stop offset=".1630" stop-color="#fff9f9"/><stop offset=".1993" stop-color="#fff9f9"/><stop offset=".2038" stop-color="#fff1f1"/><stop offset=".2663" stop-color="#fff1f1"/><stop offset=".2725" stop-color="#fffdfd"/><stop offset=".2792" stop-color="#fffdfd"/><stop offset=".2797" stop-color="#fff9f9"/><stop offset=".6231" stop-color="#fff9f9"/><stop offset=".6237" stop-color="#fffdfd"/><stop offset=".6538" stop-color="#fdfdff"/><stop offset=".6544" stop-color="#f5f5ff"/><stop offset=".9564" stop-color="#f5f5ff"/><stop offset=".9581" stop-color="#e5e5ff"/><stop offset=".9620" stop-color="#e9e9ff"/><stop offset=".9631" stop-color="#f9f9ff"/><stop offset="1.0000" stop-color="#f9f9ff"/></linearGradient><linearGradient id="r35"><stop offset=".0000" stop-color="#f1f1ff"/><stop offset=".1485" stop-color="#f1f1ff"/><stop offset=".1508" stop-color="#fdfdff"/><stop offset=".1519" stop-color="#fffdfd"/><stop offset=".1535" stop-color="#fff5f5"/><stop offset=".1999" stop-color="#fff5f5"/><stop offset=".2004" stop-color="#fff1f1"/><stop offset=".2708" stop-color="#fff1f1"/><stop offset=".2714" stop-color="#fff5f5"/><stop offset=".2786" stop-color="#fff5f5"/><stop offset=".2792" stop-color="#fff1f1"/><stop offset=".6231" stop-color="#fff1f1"/><stop offset=".6242" stop-color="#fdfdff"/><stop offset=".6538" stop-color="#fdfdff"/><stop offset=".6544" stop-color="#f1f1ff"/><stop offset=".9408" stop-color="#f1f1ff"/><stop offset=".9414" stop-color="#ededff"/><stop offset=".9592" stop-color="#ededff"/><stop offset=".9631" stop-color="#f9f9ff"/><stop offset="1.0000" stop-color="#f9f9ff"/></linearGradient><linearGradient id="r36"><stop offset=".0000" stop-color="#ededff"/><stop offset=".1485" stop-color="#ededff"/><stop offset=".1502" stop-color="#f9f9ff"/><stop offset=".1519" stop-color="#fffdfd"/><stop offset=".1541" stop-color="#fff1f1"/><stop offset=".2803" stop-color="#fff1f1"/><stop offset=".2808" stop-color="#ffeded"/><stop offset=".2976" stop-color="#ffeded"/><stop offset=".2982" stop-color="#ffe9e9"/><stop offset=".6231" stop-color="#ffe9e9"/><stop offset=".6242" stop-color="#fdfdff"/><stop offset=".6538" stop-color="#fdfdff"/><stop offset=".6544" stop-color="#f1f1ff"/><stop offset=".8286" stop-color="#f1f1ff"/><stop offset=".8291" stop-color="#ededff"/><stop offset=".9576" stop-color="#ededff"/><stop offset=".9620" stop-color="#f9f9ff"/><stop offset="1.0000" stop-color="#f9f9ff"/></linearGradient><linearGradient id="r37"><stop offset=".0000" stop-color="#ededff"/><stop offset=".1485" stop-color="#ededff"/><stop offset=".1502" stop-color="#f9f9ff"/><stop offset=".1519" stop-color="#fffdfd"/><stop offset=".1541" stop-color="#fff1f1"/><stop offset=".2797" stop-color="#fff1f1"/><stop offset=".2803" stop-color="#ffeded"/><stop offset=".2965" stop-color="#ffeded"/><stop offset=".2970" stop-color="#ffe9e9"/><stop offset=".6231" stop-color="#ffe9e9"/><stop offset=".6242" stop-color="#fdfdff"/><stop offset=".6538" stop-color="#fdfdff"/><stop offset=".6544" stop-color="#f1f1ff"/><stop offset=".8677" stop-color="#f1f1ff"/><stop offset=".8682" stop-color="#ededff"/><stop offset=".9570" stop-color="#ededff"/><stop offset=".9620" stop-color="#f9f9ff"/><stop offset="1.0000" stop-color="#f9f9ff"/></linearGradient><linearGradient id="r38"><stop offset=".0000" stop-color="#ededff"/><stop offset=".1485" stop-color="#ededff"/><stop offset=".1502" stop-color="#f9f9ff"/><stop offset=".1519" stop-color="#fffdfd"/><stop offset=".1541" stop-color="#fff1f1"/><stop offset=".2714" stop-color="#fff1f1"/><stop offset=".2719" stop-color="#ffeded"/><stop offset=".2920" stop-color="#ffeded"/><stop offset=".2926" stop-color="#ffe9e9"/><stop offset=".6231" stop-color="#ffe9e9"/><stop offset=".6242" stop-color="#fdfdff"/><stop offset=".6538" stop-color="#fdfdff"/><stop offset=".6544" stop-color="#f5f5ff"/><stop offset=".7465" stop-color="#f5f5ff"/><stop offset=".7471" stop-color="#f1f1ff"/><stop offset=".9581" stop-color="#f1f1ff"/><stop offset=".9615" stop-color="#f9f9ff"/><stop offset="1.0000" stop-color="#f9f9ff"/></linearGradient><linearGradient id="r39"><stop offset=".0000" stop-color="#ededff"/><stop offset=".1485" stop-color="#ededff"/><stop offset=".1508" stop-color="#fdfdff"/><stop offset=".1519" stop-color="#fffdfd"/><stop offset=".1535" stop-color="#fff1f1"/><stop offset=".2328" stop-color="#fff1f1"/><stop offset=".2334" stop-color="#ffeded"/><stop offset=".2881" stop-color="#ffeded"/><stop offset=".2887" stop-color="#ffe9e9"/><stop offset=".6231" stop-color="#ffe9e9"/><stop offset=".6242" stop-color="#fdfdff"/><stop offset=".6538" stop-color="#fdfdff"/><stop offset=".6544" stop-color="#f5f5ff"/><stop offset=".9598" stop-color="#f5f5ff"/><stop offset=".9604" stop-color="#f9f9ff"/><stop offset="1.0000" stop-color="#f9f9ff"/></linearGradient><linearGradient id="r40"><stop offset=".0000" stop-color="#ededff"/><stop offset=".1485" stop-color="#ededff"/><stop offset=".1508" stop-color="#fdfdff"/><stop offset=".1519" stop-color="#fffdfd"/><stop offset=".1535" stop-color="#fff1f1"/><stop offset=".2848" stop-color="#ffeded"/><stop offset=".2853" stop-color="#ffe9e9"/><stop offset=".2987" stop-color="#ffe9e9"/><stop offset=".2993" stop-color="#ffe5e5"/><stop offset=".6231" stop-color="#ffe5e5"/><stop offset=".6242" stop-color="#fdfdff"/><stop offset=".6538" stop-color="#fdfdff"/><stop offset=".6544" stop-color="#f9f9ff"/><stop offset="1.0000" stop-color="#f9f9ff"/></linearGradient><linearGradient id="r41"><stop offset=".0000" stop-color="#ededff"/><stop offset=".1485" stop-color="#ededff"/><stop offset=".1508" stop-color="#fdfdff"/><stop offset=".1519" stop-color="#fffdfd"/><stop offset=".1535" stop-color="#fff1f1"/><stop offset=".2848" stop-color="#ffeded"/><stop offset=".2853" stop-color="#ffe9e9"/><stop offset=".2987" stop-color="#ffe9e9"/><stop offset=".2993" stop-color="#ffe5e5"/><stop offset=".6231" stop-color="#ffe5e5"/><stop offset=".6242" stop-color="#fdfdff"/><stop offset=".6538" stop-color="#fdfdff"/><stop offset=".6544" stop-color="#f9f9ff"/><stop offset="1.0000" stop-color="#f9f9ff"/></linearGradient><linearGradient id="r42"><stop offset=".0000" stop-color="#ededff"/><stop offset=".1485" stop-color="#ededff"/><stop offset=".1508" stop-color="#fdfdff"/><stop offset=".1519" stop-color="#fffdfd"/><stop offset=".1535" stop-color="#fff1f1"/><stop offset=".2859" stop-color="#ffeded"/><stop offset=".2864" stop-color="#ffe9e9"/><stop offset=".6231" stop-color="#ffe9e9"/><stop offset=".6242" stop-color="#fdfdff"/><stop offset=".6538" stop-color="#fdfdff"/><stop offset=".6544" stop-color="#f5f5ff"/><stop offset=".9570" stop-color="#f5f5ff"/><stop offset=".9581" stop-color="#fdfdff"/><stop offset=".9620" stop-color="#fdfdff"/><stop offset=".9626" stop-color="#f9f9ff"/><stop offset="1.0000" stop-color="#f9f9ff"/></linearGradient><linearGradient id="r43"><stop offset=".0000" stop-color="#ededff"/><stop offset=".1485" stop-color="#ededff"/><stop offset=".1502" stop-color="#f9f9ff"/><stop offset=".1519" stop-color="#fffdfd"/><stop offset=".1535" stop-color="#fff1f1"/><stop offset=".2875" stop-color="#ffeded"/><stop offset=".2881" stop-color="#ffe9e9"/><stop offset=".6231" stop-color="#ffe9e9"/><stop offset=".6242" stop-color="#fdfdff"/><stop offset=".6538" stop-color="#fdfdff"/><stop offset=".6544" stop-color="#f5f5ff"/><stop offset=".9570" stop-color="#f5f5ff"/><stop offset=".9576" stop-color="#fdfdff"/><stop offset=".9581" stop-color="#fffdfd"/><stop offset=".9615" stop-color="#fffdfd"/><stop offset=".9631" stop-color="#f9f9ff"/><stop offset="1.0000" stop-color="#f9f9ff"/></linearGradient><linearGradient id="r44"><stop offset=".0000" stop-color="#ededff"/><stop offset=".1485" stop-color="#ededff"/><stop offset=".1519" stop-color="#fffdfd"/><stop offset=".1535" stop-color="#fff1f1"/><stop offset=".2909" stop-color="#ffeded"/><stop offset=".2915" stop-color="#ffe9e9"/><stop offset=".6231" stop-color="#ffe9e9"/><stop offset=".6242" stop-color="#fdfdff"/><stop offset=".6538" stop-color="#fdfdff"/><stop offset=".6544" stop-color="#f5f5ff"/><stop offset=".7242" stop-color="#f5f5ff"/><stop offset=".7247" stop-color="#f1f1ff"/><stop offset=".9564" stop-color="#f1f1ff"/><stop offset=".9576" stop-color="#fffdfd"/><stop offset=".9581" stop-color="#fff5f5"/><stop offset=".9609" stop-color="#fff5f5"/><stop offset=".9626" stop-color="#fdfdff"/><stop offset=".9631" stop-color="#f9f9ff"/><stop offset="1.0000" stop-color="#f9f9ff"/></linearGradient><linearGradient id="r45"><stop offset=".0000" stop-color="#e9e9ff"/><stop offset=".1480" stop-color="#e9e9ff"/><stop offset=".1513" stop-color="#fdfdff"/><stop offset=".1535" stop-color="#fff1f1"/><stop offset=".2959" stop-color="#ffeded"/><stop offset=".2965" stop-color="#ffe9e9"/><stop offset=".6231" stop-color="#ffe9e9"/><stop offset=".6242" stop-color="#fdfdff"/><stop offset=".6538" stop-color="#fdfdff"/><stop offset=".6544" stop-color="#f1f1ff"/><stop offset=".9564" stop-color="#f1f1ff"/><stop offset=".9576" stop-color="#fff9f9"/><stop offset=".9581" stop-color="#fff1f1"/><stop offset=".9609" stop-color="#fff1f1"/><stop offset=".9626" stop-color="#fdfdff"/><stop offset=".9631" stop-color="#f9f9ff"/><stop offset="1.0000" stop-color="#f9f9ff"/></linearGradient><linearGradient id="r46"><stop offset=".0000" stop-color="#e1e1ff"/><stop offset=".1301" stop-color="#e1e1ff"/><stop offset=".1307" stop-color="#e5e5ff"/><stop offset=".1496" stop-color="#e5e5ff"/><stop offset=".1530" stop-color="#f1f1ff"/><stop offset=".3758" stop-color="#f5f5ff"/><stop offset=".3763" stop-color="#f9f9ff"/><stop offset=".6231" stop-color="#f9f9ff"/><stop offset=".6237" stop-color="#fdfdff"/><stop offset=".6538" stop-color="#fdfdff"/><stop offset=".6544" stop-color="#e9e9ff"/><stop offset=".9564" stop-color="#e9e9ff"/><stop offset=".9576" stop-color="#fff9f9"/><stop offset=".9581" stop-color="#fff1f1"/><stop offset=".9615" stop-color="#fff1f1"/><stop offset=".9626" stop-color="#fdfdff"/><stop offset=".9631" stop-color="#f9f9ff"/><stop offset="1.0000" stop-color="#f9f9ff"/></linearGradient><linearGradient id="r47"><stop offset=".0000" stop-color="#d5d5ff"/><stop offset=".0089" stop-color="#d5d5ff"/><stop offset=".0095" stop-color="#d9d9ff"/><stop offset=".1485" stop-color="#d9d9ff"/><stop offset=".1491" stop-color="#ddddff"/><stop offset=".2898" stop-color="#ddddff"/><stop offset=".2903" stop-color="#e1e1ff"/><stop offset=".6231" stop-color="#e5e5ff"/><stop offset=".6237" stop-color="#ededff"/><stop offset=".6242" stop-color="#fdfdff"/><stop offset=".6538" stop-color="#fdfdff"/><stop offset=".6544" stop-color="#e1e1ff"/><stop offset=".9564" stop-color="#e1e1ff"/><stop offset=".9570" stop-color="#e9e9ff"/><stop offset=".9576" stop-color="#fffdfd"/><stop offset=".9581" stop-color="#fff1f1"/><stop offset=".9615" stop-color="#fff1f1"/><stop offset=".9626" stop-color="#fdfdff"/><stop offset=".9643" stop-color="#f5f5ff"/><stop offset="1.0000" stop-color="#f5f5ff"/></linearGradient><linearGradient id="r48"><stop offset=".0000" stop-color="#cdcdff"/><stop offset=".1452" stop-color="#cdcdff"/><stop offset=".1457" stop-color="#d1d1ff"/><stop offset=".1496" stop-color="#d1d1ff"/><stop offset=".1502" stop-color="#d5d5ff"/><stop offset=".2423" stop-color="#d5d5ff"/><stop offset=".2429" stop-color="#d9d9ff"/><stop offset=".6231" stop-color="#d9d9ff"/><stop offset=".6237" stop-color="#e5e5ff"/><stop offset=".6242" stop-color="#fdfdff"/><stop offset=".6538" stop-color="#fdfdff"/><stop offset=".6544" stop-color="#d5d5ff"/><stop offset=".9564" stop-color="#d5d5ff"/><stop offset=".9570" stop-color="#e1e1ff"/><stop offset=".9576" stop-color="#fdfdff"/><stop offset=".9581" stop-color="#fff1f1"/><stop offset=".9615" stop-color="#fff1f1"/><stop offset=".9626" stop-color="#fdfdff"/><stop offset=".9637" stop-color="#f9f9ff"/><stop offset=".9643" stop-color="#f1f1ff"/><stop offset="1.0000" stop-color="#f1f1ff"/></linearGradient><linearGradient id="r49"><stop offset=".0000" stop-color="#d5d5ff"/><stop offset=".1452" stop-color="#d5d5ff"/><stop offset=".1457" stop-color="#d9d9ff"/><stop offset=".1502" stop-color="#d9d9ff"/><stop offset=".1508" stop-color="#ddddff"/><stop offset=".6231" stop-color="#e1e1ff"/><stop offset=".6237" stop-color="#e9e9ff"/><stop offset=".6242" stop-color="#fdfdff"/><stop offset=".6538" stop-color="#fdfdff"/><stop offset=".6544" stop-color="#ddddff"/><stop offset=".9564" stop-color="#ddddff"/><stop offset=".9570" stop-color="#e5e5ff"/><stop offset=".9576" stop-color="#fdfdff"/><stop offset=".9581" stop-color="#fff1f1"/><stop offset=".9609" stop-color="#fff1f1"/><stop offset=".9626" stop-color="#fdfdff"/><stop offset=".9643" stop-color="#f5f5ff"/><stop offset="1.0000" stop-color="#f5f5ff"/></linearGradient><linearGradient id="r50"><stop offset=".0000" stop-color="#e1e1ff"/><stop offset=".6231" stop-color="#e9e9ff"/><stop offset=".6237" stop-color="#ededff"/><stop offset=".6242" stop-color="#fdfdff"/><stop offset=".6538" stop-color="#fdfdff"/><stop offset=".6544" stop-color="#e5e5ff"/><stop offset=".9564" stop-color="#e5e5ff"/><stop offset=".9570" stop-color="#ededff"/><stop offset=".9576" stop-color="#fdfdff"/><stop offset=".9581" stop-color="#fff5f5"/><stop offset=".9609" stop-color="#fff5f5"/><stop offset=".9626" stop-color="#fdfdff"/><stop offset=".9637" stop-color="#fdfdff"/><stop offset=".9643" stop-color="#f5f5ff"/><stop offset="1.0000" stop-color="#f5f5ff"/></linearGradient><linearGradient id="r51"><stop offset=".0000" stop-color="#e9e9ff"/><stop offset=".1502" stop-color="#e9e9ff"/><stop offset=".1508" stop-color="#ededff"/><stop offset=".6231" stop-color="#ededff"/><stop offset=".6237" stop-color="#f1f1ff"/><stop offset=".6242" stop-color="#fdfdff"/><stop offset=".6538" stop-color="#fdfdff"/><stop offset=".6544" stop-color="#ededff"/><stop offset=".9564" stop-color="#ededff"/><stop offset=".9570" stop-color="#f1f1ff"/><stop offset=".9576" stop-color="#fdfdff"/><stop offset=".9581" stop-color="#fff9f9"/><stop offset=".9615" stop-color="#fff9f9"/><stop offset=".9626" stop-color="#fdfdff"/><stop offset=".9643" stop-color="#f9f9ff"/><stop offset="1.0000" stop-color="#f9f9ff"/></linearGradient><linearGradient id="r52"><stop offset=".0000" stop-color="#e9e9ff"/><stop offset=".1502" stop-color="#e9e9ff"/><stop offset=".1508" stop-color="#ededff"/><stop offset=".6231" stop-color="#ededff"/><stop offset=".6237" stop-color="#f1f1ff"/><stop offset=".6242" stop-color="#fdfdff"/><stop offset=".6538" stop-color="#fdfdff"/><stop offset=".6544" stop-color="#ededff"/><stop offset=".9564" stop-color="#ededff"/><stop offset=".9570" stop-color="#f1f1ff"/><stop offset=".9576" stop-color="#fdfdff"/><stop offset=".9581" stop-color="#fff9f9"/><stop offset=".9615" stop-color="#fff9f9"/><stop offset=".9626" stop-color="#fdfdff"/><stop offset=".9643" stop-color="#f9f9ff"/><stop offset="1.0000" stop-color="#f9f9ff"/></linearGradient><linearGradient id="r53"><stop offset=".0000" stop-color="#f1f1ff"/><stop offset=".6237" stop-color="#f5f5ff"/><stop offset=".6242" stop-color="#fdfdff"/><stop offset=".6538" stop-color="#fdfdff"/><stop offset=".6544" stop-color="#f5f5ff"/><stop offset=".9564" stop-color="#f5f5ff"/><stop offset=".9570" stop-color="#f9f9ff"/><stop offset=".9576" stop-color="#fffdfd"/><stop offset=".9581" stop-color="#fff5f5"/><stop offset=".9615" stop-color="#fff5f5"/><stop offset=".9620" stop-color="#fffdfd"/><stop offset=".9626" stop-color="#fdfdff"/><stop offset=".9631" stop-color="#f9f9ff"/><stop offset="1.0000" stop-color="#f9f9ff"/></linearGradient><linearGradient id="r54"><stop offset=".0000" stop-color="#f5f5ff"/><stop offset=".6052" stop-color="#f5f5ff"/><stop offset=".6058" stop-color="#f9f9ff"/><stop offset=".6237" stop-color="#f9f9ff"/><stop offset=".6242" stop-color="#fdfdff"/><stop offset=".6538" stop-color="#fdfdff"/><stop offset=".6544" stop-color="#f9f9ff"/><stop offset=".9564" stop-color="#f9f9ff"/><stop offset=".9570" stop-color="#fdfdff"/><stop offset=".9581" stop-color="#fff1f1"/><stop offset=".9609" stop-color="#fff1f1"/><stop offset=".9626" stop-color="#fdfdff"/><stop offset=".9631" stop-color="#f9f9ff"/><stop offset="1.0000" stop-color="#f9f9ff"/></linearGradient><linearGradient id="r55"><stop offset=".0000" stop-color="#f1f1ff"/><stop offset=".6237" stop-color="#f5f5ff"/><stop offset=".6242" stop-color="#fdfdff"/><stop offset=".6538" stop-color="#fdfdff"/><stop offset=".6544" stop-color="#f5f5ff"/><stop offset=".9564" stop-color="#f5f5ff"/><stop offset=".9570" stop-color="#f9f9ff"/><stop offset=".9576" stop-color="#fff9f9"/><stop offset=".9581" stop-color="#fff1f1"/><stop offset=".9609" stop-color="#fff1f1"/><stop offset=".9620" stop-color="#fffdfd"/><stop offset=".9626" stop-color="#fdfdff"/><stop offset=".9631" stop-color="#f9f9ff"/><stop offset="1.0000" stop-color="#f9f9ff"/></linearGradient><linearGradient id="r56"><stop offset=".0000" stop-color="#e5e5ff"/><stop offset=".3333" stop-color="#e9e9ff"/><stop offset=".3339" stop-color="#e5e5ff"/><stop offset=".3389" stop-color="#e5e5ff"/><stop offset=".3395" stop-color="#e1e1ff"/><stop offset=".3975" stop-color="#e1e1ff"/><stop offset=".3981" stop-color="#e5e5ff"/><stop offset=".4037" stop-color="#e5e5ff"/><stop offset=".4042" stop-color="#e9e9ff"/><stop offset=".6231" stop-color="#e9e9ff"/><stop offset=".6237" stop-color="#ededff"/><stop offset=".6242" stop-color="#fdfdff"/><stop offset=".6538" stop-color="#fdfdff"/><stop offset=".6544" stop-color="#e9e9ff"/><stop offset=".9564" stop-color="#e9e9ff"/><stop offset=".9570" stop-color="#ededff"/><stop offset=".9576" stop-color="#fffdfd"/><stop offset=".9581" stop-color="#fff5f5"/><stop offset=".9615" stop-color="#fff5f5"/><stop offset=".9620" stop-color="#fffdfd"/><stop offset=".9626" stop-color="#fdfdff"/><stop offset=".9631" stop-color="#f9f9ff"/><stop offset="1.0000" stop-color="#f9f9ff"/></linearGradient><linearGradient id="r57"><stop offset=".0000" stop-color="#e1e1ff"/><stop offset=".3361" stop-color="#e1e1ff"/><stop offset=".3406" stop-color="#d9d9ff"/><stop offset=".3959" stop-color="#d9d9ff"/><stop offset=".3964" stop-color="#ddddff"/><stop offset=".4009" stop-color="#ddddff"/><stop offset=".4015" stop-color="#e1e1ff"/><stop offset=".6231" stop-color="#e1e1ff"/><stop offset=".6242" stop-color="#fdfdff"/><stop offset=".6538" stop-color="#fdfdff"/><stop offset=".6544" stop-color="#e1e1ff"/><stop offset=".9564" stop-color="#e1e1ff"/><stop offset=".9570" stop-color="#e9e9ff"/><stop offset=".9576" stop-color="#fdfdff"/><stop offset=".9581" stop-color="#fff5f5"/><stop offset=".9609" stop-color="#fff5f5"/><stop offset=".9626" stop-color="#fdfdff"/><stop offset=".9631" stop-color="#f9f9ff"/><stop offset="1.0000" stop-color="#f9f9ff"/></linearGradient><linearGradient id="r58"><stop offset=".0000" stop-color="#e1e1ff"/><stop offset=".3361" stop-color="#e1e1ff"/><stop offset=".3406" stop-color="#d9d9ff"/><stop offset=".3959" stop-color="#d9d9ff"/><stop offset=".3964" stop-color="#ddddff"/><stop offset=".4009" stop-color="#ddddff"/><stop offset=".4015" stop-color="#e1e1ff"/><stop offset=".6231" stop-color="#e1e1ff"/><stop offset=".6242" stop-color="#fdfdff"/><stop offset=".6538" stop-color="#fdfdff"/><stop offset=".6544" stop-color="#e1e1ff"/><stop offset=".9564" stop-color="#e1e1ff"/><stop offset=".9570" stop-color="#e9e9ff"/><stop offset=".9576" stop-color="#fdfdff"/><stop offset=".9581" stop-color="#fff5f5"/><stop offset=".9609" stop-color="#fff5f5"/><stop offset=".9626" stop-color="#fdfdff"/><stop offset=".9631" stop-color="#f9f9ff"/><stop offset="1.0000" stop-color="#f9f9ff"/></linearGradient><linearGradient id="r59"><stop offset=".0000" stop-color="#e1e1ff"/><stop offset=".3361" stop-color="#e1e1ff"/><stop offset=".3406" stop-color="#d9d9ff"/><stop offset=".3959" stop-color="#d9d9ff"/><stop offset=".3964" stop-color="#ddddff"/><stop offset=".4009" stop-color="#ddddff"/><stop offset=".4015" stop-color="#e1e1ff"/><stop offset=".6231" stop-color="#e1e1ff"/><stop offset=".6242" stop-color="#fdfdff"/><stop offset=".6538" stop-color="#fdfdff"/><stop offset=".6544" stop-color="#e1e1ff"/><stop offset=".9564" stop-color="#e1e1ff"/><stop offset=".9570" stop-color="#e9e9ff"/><stop offset=".9576" stop-color="#fdfdff"/><stop offset=".9581" stop-color="#fff5f5"/><stop offset=".9609" stop-color="#fff5f5"/><stop offset=".9626" stop-color="#fdfdff"/><stop offset=".9631" stop-color="#f9f9ff"/><stop offset="1.0000" stop-color="#f9f9ff"/></linearGradient><linearGradient id="r60"><stop offset=".0000" stop-color="#e1e1ff"/><stop offset=".3361" stop-color="#e1e1ff"/><stop offset=".3406" stop-color="#d9d9ff"/><stop offset=".3959" stop-color="#d9d9ff"/><stop offset=".3964" stop-color="#ddddff"/><stop offset=".4009" stop-color="#ddddff"/><stop offset=".4015" stop-color="#e1e1ff"/><stop offset=".6231" stop-color="#e1e1ff"/><stop offset=".6242" stop-color="#fdfdff"/><stop offset=".6538" stop-color="#fdfdff"/><stop offset=".6544" stop-color="#e1e1ff"/><stop offset=".9564" stop-color="#e1e1ff"/><stop offset=".9570" stop-color="#e9e9ff"/><stop offset=".9576" stop-color="#fdfdff"/><stop offset=".9581" stop-color="#fff5f5"/><stop offset=".9609" stop-color="#fff5f5"/><stop offset=".9626" stop-color="#fdfdff"/><stop offset=".9631" stop-color="#f9f9ff"/><stop offset="1.0000" stop-color="#f9f9ff"/></linearGradient><linearGradient id="r61"><stop offset=".0000" stop-color="#e1e1ff"/><stop offset=".3361" stop-color="#e1e1ff"/><stop offset=".3406" stop-color="#d9d9ff"/><stop offset=".3959" stop-color="#d9d9ff"/><stop offset=".3964" stop-color="#ddddff"/><stop offset=".4009" stop-color="#ddddff"/><stop offset=".4015" stop-color="#e1e1ff"/><stop offset=".6231" stop-color="#e1e1ff"/><stop offset=".6242" stop-color="#fdfdff"/><stop offset=".6538" stop-color="#fdfdff"/><stop offset=".6544" stop-color="#e1e1ff"/><stop offset=".9564" stop-color="#e1e1ff"/><stop offset=".9570" stop-color="#e9e9ff"/><stop offset=".9576" stop-color="#fdfdff"/><stop offset=".9581" stop-color="#fff5f5"/><stop offset=".9609" stop-color="#fff5f5"/><stop offset=".9626" stop-color="#fdfdff"/><stop offset=".9631" stop-color="#f9f9ff"/><stop offset="1.0000" stop-color="#f9f9ff"/></linearGradient><linearGradient id="r62"><stop offset=".0000" stop-color="#e9e9ff"/><stop offset=".1513" stop-color="#e9e9ff"/><stop offset=".1519" stop-color="#ededff"/><stop offset=".3345" stop-color="#ededff"/><stop offset=".3350" stop-color="#e9e9ff"/><stop offset=".4026" stop-color="#e9e9ff"/><stop offset=".4031" stop-color="#ededff"/><stop offset=".6231" stop-color="#ededff"/><stop offset=".6237" stop-color="#f1f1ff"/><stop offset=".6242" stop-color="#fdfdff"/><stop offset=".6538" stop-color="#fdfdff"/><stop offset=".6544" stop-color="#ededff"/><stop offset=".9564" stop-color="#ededff"/><stop offset=".9581" stop-color="#fdfdff"/><stop offset=".9609" stop-color="#fffdfd"/><stop offset=".9626" stop-color="#f9f9ff"/><stop offset="1.0000" stop-color="#f9f9ff"/></linearGradient><linearGradient id="r63"><stop offset=".0000" stop-color="#f5f5ff"/><stop offset=".6237" stop-color="#f5f5ff"/><stop offset=".6242" stop-color="#fdfdff"/><stop offset=".6538" stop-color="#fdfdff"/><stop offset=".6544" stop-color="#f5f5ff"/><stop offset=".9604" stop-color="#f5f5ff"/><stop offset=".9609" stop-color="#f9f9ff"/><stop offset="1.0000" stop-color="#f9f9ff"/></linearGradient><linearGradient id="r64"><stop offset=".0000" stop-color="#f5f5ff"/><stop offset=".6237" stop-color="#f5f5ff"/><stop offset=".6242" stop-color="#fdfdff"/><stop offset=".6538" stop-color="#fdfdff"/><stop offset=".6544" stop-color="#f5f5ff"/><stop offset=".9604" stop-color="#f5f5ff"/><stop offset=".9609" stop-color="#f9f9ff"/><stop offset="1.0000" stop-color="#f9f9ff"/></linearGradient><linearGradient id="r65"><stop offset=".0000" stop-color="#f5f5ff"/><stop offset=".6237" stop-color="#f5f5ff"/><stop offset=".6242" stop-color="#fdfdff"/><stop offset=".6538" stop-color="#fdfdff"/><stop offset=".6544" stop-color="#f5f5ff"/><stop offset=".9604" stop-color="#f5f5ff"/><stop offset=".9609" stop-color="#f9f9ff"/><stop offset="1.0000" stop-color="#f9f9ff"/></linearGradient><linearGradient id="r66"><stop offset=".0000" stop-color="#f5f5ff"/><stop offset=".6237" stop-color="#f5f5ff"/><stop offset=".6242" stop-color="#fdfdff"/><stop offset=".6538" stop-color="#fdfdff"/><stop offset=".6544" stop-color="#f5f5ff"/><stop offset=".9604" stop-color="#f5f5ff"/><stop offset=".9609" stop-color="#f9f9ff"/><stop offset="1.0000" stop-color="#f9f9ff"/></linearGradient><linearGradient id="r67"><stop offset=".0000" stop-color="#f5f5ff"/><stop offset=".6237" stop-color="#f5f5ff"/><stop offset=".6242" stop-color="#fdfdff"/><stop offset=".6538" stop-color="#fdfdff"/><stop offset=".6544" stop-color="#f5f5ff"/><stop offset=".9604" stop-color="#f5f5ff"/><stop offset=".9609" stop-color="#f9f9ff"/><stop offset="1.0000" stop-color="#f9f9ff"/></linearGradient><linearGradient id="r68"><stop offset=".0000" stop-color="#f9f9ff"/><stop offset=".6237" stop-color="#f9f9ff"/><stop offset=".6242" stop-color="#fdfdff"/><stop offset=".6538" stop-color="#fdfdff"/><stop offset=".6544" stop-color="#f9f9ff"/><stop offset="1.0000" stop-color="#f9f9ff"/></linearGradient><linearGradient id="r69"><stop offset=".0000" stop-color="#f9f9ff"/><stop offset=".6237" stop-color="#f9f9ff"/><stop offset=".6242" stop-color="#fdfdff"/><stop offset=".6538" stop-color="#fdfdff"/><stop offset=".6544" stop-color="#f9f9ff"/><stop offset=".9615" stop-color="#f9f9ff"/><stop offset=".9620" stop-color="#fdfdff"/><stop offset=".9643" stop-color="#f9f9ff"/><stop offset="1.0000" stop-color="#f9f9ff"/></linearGradient><linearGradient id="r70"><stop offset=".0000" stop-color="#f9f9ff"/><stop offset=".6237" stop-color="#f9f9ff"/><stop offset=".6242" stop-color="#fdfdff"/><stop offset=".6538" stop-color="#fdfdff"/><stop offset=".6544" stop-color="#f9f9ff"/><stop offset=".9604" stop-color="#f9f9ff"/><stop offset=".9609" stop-color="#fdfdff"/><stop offset=".9637" stop-color="#fdfdff"/><stop offset=".9643" stop-color="#f9f9ff"/><stop offset="1.0000" stop-color="#f9f9ff"/></linearGradient><linearGradient id="r71"><stop offset=".0000" stop-color="#f9f9ff"/><stop offset=".6231" stop-color="#f9f9ff"/><stop offset=".6237" stop-color="#fdfdff"/><stop offset=".6538" stop-color="#fdfdff"/><stop offset=".6544" stop-color="#f9f9ff"/><stop offset=".9587" stop-color="#f9f9ff"/><stop offset=".9592" stop-color="#fdfdff"/><stop offset=".9637" stop-color="#fdfdff"/><stop offset=".9643" stop-color="#f9f9ff"/><stop offset="1.0000" stop-color="#f9f9ff"/></linearGradient><linearGradient id="r72"><stop offset=".0000" stop-color="#f9f9ff"/><stop offset=".6231" stop-color="#f9f9ff"/><stop offset=".6237" stop-color="#fdfdff"/><stop offset=".6538" stop-color="#fdfdff"/><stop offset=".6544" stop-color="#f9f9ff"/><stop offset=".9576" stop-color="#f9f9ff"/><stop offset=".9581" stop-color="#fdfdff"/><stop offset=".9637" stop-color="#fdfdff"/><stop offset=".9643" stop-color="#f9f9ff"/><stop offset="1.0000" stop-color="#f9f9ff"/></linearGradient></defs>
<g><rect x="202.2" y="273.50" width="895.5" height="2.28" fill="url(#r0)"/><rect x="202.2" y="274.98" width="895.5" height="2.28" fill="url(#r1)"/><rect x="202.2" y="276.45" width="895.5" height="2.28" fill="url(#r2)"/><rect x="202.2" y="277.93" width="895.5" height="2.28" fill="url(#r3)"/><rect x="202.2" y="279.40" width="895.5" height="2.28" fill="url(#r4)"/><rect x="202.2" y="280.88" width="895.5" height="2.28" fill="url(#r5)"/><rect x="202.2" y="282.35" width="895.5" height="2.28" fill="url(#r6)"/><rect x="202.2" y="283.83" width="895.5" height="2.28" fill="url(#r7)"/><rect x="202.2" y="285.30" width="895.5" height="2.28" fill="url(#r8)"/><rect x="202.2" y="286.78" width="895.5" height="2.28" fill="url(#r9)"/><rect x="202.2" y="288.25" width="895.5" height="2.28" fill="url(#r10)"/><rect x="202.2" y="289.73" width="895.5" height="2.28" fill="url(#r11)"/><rect x="202.2" y="291.20" width="895.5" height="2.28" fill="url(#r12)"/><rect x="202.2" y="292.68" width="895.5" height="2.28" fill="url(#r13)"/><rect x="202.2" y="294.15" width="895.5" height="2.28" fill="url(#r14)"/><rect x="202.2" y="295.63" width="895.5" height="2.28" fill="url(#r15)"/><rect x="202.2" y="297.10" width="895.5" height="2.28" fill="url(#r16)"/><rect x="202.2" y="298.58" width="895.5" height="2.28" fill="url(#r17)"/><rect x="202.2" y="300.05" width="895.5" height="2.28" fill="url(#r18)"/><rect x="202.2" y="301.53" width="895.5" height="2.28" fill="url(#r19)"/><rect x="202.2" y="303.00" width="895.5" height="2.28" fill="url(#r20)"/><rect x="202.2" y="304.48" width="895.5" height="2.28" fill="url(#r21)"/><rect x="202.2" y="305.95" width="895.5" height="2.28" fill="url(#r22)"/><rect x="202.2" y="307.43" width="895.5" height="2.28" fill="url(#r23)"/><rect x="202.2" y="308.90" width="895.5" height="2.28" fill="url(#r24)"/><rect x="202.2" y="310.38" width="895.5" height="2.28" fill="url(#r25)"/><rect x="202.2" y="311.85" width="895.5" height="2.28" fill="url(#r26)"/><rect x="202.2" y="313.33" width="895.5" height="2.28" fill="url(#r27)"/><rect x="202.2" y="314.80" width="895.5" height="2.28" fill="url(#r28)"/><rect x="202.2" y="316.28" width="895.5" height="2.28" fill="url(#r29)"/><rect x="202.2" y="317.76" width="895.5" height="2.28" fill="url(#r30)"/><rect x="202.2" y="319.23" width="895.5" height="2.28" fill="url(#r31)"/><rect x="202.2" y="320.71" width="895.5" height="2.28" fill="url(#r32)"/><rect x="202.2" y="322.18" width="895.5" height="2.28" fill="url(#r33)"/><rect x="202.2" y="323.66" width="895.5" height="2.28" fill="url(#r34)"/><rect x="202.2" y="325.13" width="895.5" height="2.28" fill="url(#r35)"/><rect x="202.2" y="326.61" width="895.5" height="2.28" fill="url(#r36)"/><rect x="202.2" y="328.08" width="895.5" height="2.28" fill="url(#r37)"/><rect x="202.2" y="329.56" width="895.5" height="2.28" fill="url(#r38)"/><rect x="202.2" y="331.03" width="895.5" height="2.28" fill="url(#r39)"/><rect x="202.2" y="332.51" width="895.5" height="2.28" fill="url(#r40)"/><rect x="202.2" y="333.98" width="895.5" height="2.28" fill="url(#r41)"/><rect x="202.2" y="335.46" width="895.5" height="2.28" fill="url(#r42)"/><rect x="202.2" y="336.93" width="895.5" height="2.28" fill="url(#r43)"/><rect x="202.2" y="338.41" width="895.5" height="2.28" fill="url(#r44)"/><rect x="202.2" y="339.88" width="895.5" height="2.28" fill="url(#r45)"/><rect x="202.2" y="341.36" width="895.5" height="2.28" fill="url(#r46)"/><rect x="202.2" y="342.83" width="895.5" height="2.28" fill="url(#r47)"/><rect x="202.2" y="344.31" width="895.5" height="2.28" fill="url(#r48)"/><rect x="202.2" y="345.78" width="895.5" height="2.28" fill="url(#r49)"/><rect x="202.2" y="347.26" width="895.5" height="2.28" fill="url(#r50)"/><rect x="202.2" y="348.73" width="895.5" height="2.28" fill="url(#r51)"/><rect x="202.2" y="350.21" width="895.5" height="2.28" fill="url(#r52)"/><rect x="202.2" y="351.68" width="895.5" height="2.28" fill="url(#r53)"/><rect x="202.2" y="353.16" width="895.5" height="2.28" fill="url(#r54)"/><rect x="202.2" y="354.63" width="895.5" height="2.28" fill="url(#r55)"/><rect x="202.2" y="356.11" width="895.5" height="2.28" fill="url(#r56)"/><rect x="202.2" y="357.59" width="895.5" height="2.28" fill="url(#r57)"/><rect x="202.2" y="359.06" width="895.5" height="2.28" fill="url(#r58)"/><rect x="202.2" y="360.54" width="895.5" height="2.28" fill="url(#r59)"/><rect x="202.2" y="362.01" width="895.5" height="2.28" fill="url(#r60)"/><rect x="202.2" y="363.49" width="895.5" height="2.28" fill="url(#r61)"/><rect x="202.2" y="364.96" width="895.5" height="2.28" fill="url(#r62)"/><rect x="202.2" y="366.44" width="895.5" height="2.13" fill="url(#r63)"/><rect x="202.2" y="367.76" width="895.5" height="13.44" fill="url(#r64)"/><rect x="202.2" y="380.40" width="895.5" height="13.44" fill="url(#r65)"/><rect x="202.2" y="393.04" width="895.5" height="13.44" fill="url(#r66)"/><rect x="202.2" y="405.68" width="895.5" height="13.44" fill="url(#r67)"/><rect x="202.2" y="418.31" width="895.5" height="13.44" fill="url(#r68)"/><rect x="202.2" y="430.95" width="895.5" height="13.44" fill="url(#r69)"/><rect x="202.2" y="443.59" width="895.5" height="13.44" fill="url(#r70)"/><rect x="202.2" y="456.23" width="895.5" height="13.44" fill="url(#r71)"/><rect x="202.2" y="468.86" width="895.5" height="13.44" fill="url(#r72)"/></g>
<g fill="none" stroke-linejoin="round" clip-path="none">
<path d="M202.2 668.6L205.2 669.0L208.2 668.3L211.2 668.6L214.2 668.3L217.2 668.8L220.2 668.3L223.2 668.8L226.2 668.3L229.2 668.8L232.2 668.1L235.2 669.0L238.2 668.4L241.2 669.1L244.2 668.3L247.2 668.8L250.2 668.2L253.2 668.7L256.2 668.4L259.2 668.7L262.2 668.1L265.2 668.9L268.2 668.5L271.2 668.9L274.2 668.1L277.2 668.8L280.2 668.4L283.2 668.9L286.2 668.2L289.2 668.8L292.2 668.4L295.2 669.2L298.2 668.1L301.2 668.8L304.2 668.2L307.2 668.5L310.2 668.1L313.2 668.7L316.2 668.4L319.2 668.9L322.2 668.0L325.2 669.0L328.2 668.2L331.2 668.6L334.2 668.2L337.2 668.8L340.2 668.1L343.2 668.9L346.2 667.9L349.2 668.8L352.2 668.4L355.2 669.0L358.2 668.4L361.2 669.0L364.2 668.5L367.2 668.7L370.2 668.4L373.2 668.6L376.2 668.2L379.2 668.6L382.2 668.4L385.2 669.1L388.2 668.2L391.2 669.1L394.2 668.2L397.2 668.9L400.2 668.3L403.2 668.7L406.2 668.3L409.2 669.1L412.2 668.1L415.2 669.0L418.2 668.2L421.2 669.1L424.2 668.3L427.2 668.9L430.2 668.3L433.2 668.9L436.2 668.0L439.2 669.1L442.2 668.0L445.2 668.9L448.2 668.3L451.2 668.7L454.2 668.3L457.2 669.0L460.2 668.2L463.2 668.7L466.2 667.8L469.2 668.7L472.2 668.1L475.2 668.8L478.2 668.1L481.2 668.9L484.2 668.1L487.2 668.8L490.2 668.3L493.2 668.7L496.2 668.2L499.2 669.2L502.2 668.4L505.2 668.6L508.2 668.2L511.2 668.9L514.2 668.4L517.2 668.8L520.2 668.1L523.2 668.7L526.2 668.3L529.2 668.9L532.2 668.1L535.2 668.8L538.2 668.2L541.2 668.9L544.2 668.1L547.2 668.9L550.2 668.3L553.2 668.9L556.2 668.1L559.2 669.0L562.2 668.1L565.2 668.9L568.2 668.1L571.2 668.6L574.2 668.2L577.2 668.9L580.2 668.2L583.2 668.9L586.2 668.1L589.2 668.7L592.2 668.2L595.2 669.1L598.2 668.3L601.2 668.7L604.2 668.3L607.2 668.7L610.2 668.1L613.2 668.9L616.2 668.1L619.2 668.6L622.2 668.1L625.2 668.8L628.2 668.2L631.2 669.0L634.2 668.1L637.2 668.9L640.2 668.3L643.2 668.8L646.2 668.3L649.2 668.9L652.2 668.1L655.2 669.0L658.2 668.0L661.2 668.8L664.2 668.2L667.2 668.9L670.2 668.1L673.2 668.8L676.2 668.2L679.2 668.9L682.2 668.1L685.2 668.8L688.2 668.1L691.2 668.6L694.2 668.6L697.2 668.8L700.2 668.0L703.2 669.0L706.2 668.0L709.2 668.8L712.2 668.3L715.2 668.7L718.2 668.1L721.2 668.7L724.2 668.2L727.2 668.5L730.2 668.0L733.2 668.8L736.2 668.3L739.2 668.9L742.2 668.4L745.2 668.9L748.2 668.1L751.2 668.8L754.2 667.9L757.2 668.6L760.2 668.0M788.2 668.2L791.2 668.9L794.2 668.1L797.2 668.7L800.2 667.9L803.2 668.7L806.2 668.2L809.2 668.8L812.2 668.0L815.2 669.1L818.2 668.3L821.2 668.7L824.2 668.1L827.2 668.7L830.2 668.2L833.2 668.7L836.2 668.2L839.2 668.9L842.2 668.4L845.2 668.9L848.2 668.1L851.2 668.8L854.2 668.1L857.2 668.7L860.2 668.4L863.2 668.7L866.2 668.4L869.2 668.7L872.2 668.2L875.2 668.9L878.2 668.1L881.2 668.8L884.2 668.1L887.2 668.7L890.2 668.1L893.2 668.6L896.2 668.4L899.2 668.7L902.2 668.4L905.2 668.3L908.2 668.1L911.2 668.8L914.2 668.1L917.2 668.9L920.2 668.2L923.2 668.7L926.2 668.2L929.2 669.2L932.2 668.2L935.2 668.8L938.2 668.1L941.2 668.7L944.2 667.9L947.2 668.7L950.2 668.5L953.2 668.9L956.2 668.2L959.2 668.9L962.2 668.4L965.2 668.8L968.2 668.4L971.2 668.9L974.2 668.1L977.2 669.0L980.2 667.8L983.2 668.6L986.2 668.2L989.2 668.6L992.2 668.1L995.2 668.6L998.2 668.0L1001.2 669.1L1004.2 668.2L1007.2 668.7L1010.2 668.3L1013.2 668.7L1016.2 668.2L1019.2 668.8L1022.2 668.4L1025.2 668.5L1028.2 668.2L1031.2 668.7L1034.2 667.9L1037.2 668.9L1040.2 668.0L1043.2 668.9L1046.2 668.2L1049.2 668.8L1052.2 668.1L1055.2 668.8L1058.2 668.4L1058.8 668.4L1059.4 668.4L1060.0 668.4L1060.6 668.6L1061.2 668.8L1061.8 669.0L1062.4 669.3L1063.0 669.7L1063.6 670.1L1064.2 670.5L1064.8 671.0L1065.4 671.5L1066.0 672.0L1066.6 672.5L1067.2 673.1L1067.8 673.6L1068.4 674.1L1069.0 674.6L1069.6 675.0L1070.2 675.5L1070.8 675.9L1071.4 676.2L1072.0 676.6L1072.6 676.9L1073.2 677.2L1073.8 677.4L1074.4 677.6L1075.0 677.8L1075.6 678.0L1076.2 678.2L1076.8 678.3L1077.4 678.4L1078.0 678.5L1078.6 678.5L1079.2 678.6L1079.8 678.7L1080.4 678.7L1081.0 678.7L1081.6 678.8L1097.7 678.9" stroke="#ff0000" stroke-width="2.0"/>
<path d="M760.6 668.5V678.9M788.2 668.5V678.9" stroke="#ff0000" stroke-width="0.6" stroke-dasharray="0.8 2.5" opacity="0.6"/>
<path d="M202.2 666.4L205.2 667.3L208.2 666.6L211.2 667.3L214.2 666.7L217.2 667.4L220.2 666.6L223.2 667.6L226.2 667.0L229.2 667.3L232.2 666.7L235.2 667.3L238.2 666.9L241.2 667.6L244.2 666.5L247.2 667.2L250.2 666.5L253.2 667.1L256.2 666.5L259.2 667.4L262.2 666.5L265.2 667.5L268.2 666.8L271.2 667.1L274.2 666.5L277.2 667.2L280.2 666.9L283.2 667.2L286.2 666.5L289.2 667.3L292.2 666.8L295.2 667.2L298.2 666.9L301.2 667.3L304.2 666.8L307.2 667.2L310.2 666.7L313.2 667.3L316.2 666.4L319.2 667.3L322.2 666.4L325.2 667.3L328.2 666.5L331.2 667.6L334.2 666.7L337.2 667.4L340.2 666.8L343.2 667.1L346.2 666.4L349.2 667.3L352.2 666.8L355.2 667.3L358.2 666.8L361.2 667.4L364.2 666.5L367.2 667.3L370.2 667.0L373.2 667.2L376.2 666.4L379.2 667.3L382.2 666.6L385.2 667.4L388.2 666.6L391.2 667.3L394.2 666.4L397.2 667.4L400.2 666.9L403.2 667.5L406.2 666.5L409.2 667.3L412.2 666.3L415.2 667.3L418.2 666.7L421.2 667.2L424.2 666.8L427.2 667.3L430.2 666.8L433.2 667.3L436.2 666.7L439.2 667.0L442.2 666.5L445.2 667.2L448.2 666.7L451.2 667.3L454.2 666.9L457.2 667.2L460.2 666.7L463.2 667.3L466.2 666.7L469.2 667.4L472.2 666.6L475.2 667.5L478.2 666.7L481.2 667.5L484.2 666.7L487.2 667.5L490.2 666.5L493.2 667.4L496.2 666.6L499.2 667.3L502.2 666.9L505.2 667.1L508.2 666.5L511.2 667.2L514.2 666.7L517.2 667.0L520.2 666.7L523.2 667.1L526.2 666.5L529.2 667.2L532.2 666.8L535.2 667.2L538.2 666.6L541.2 667.3L544.2 666.7L547.2 666.9L550.2 666.6L553.2 667.3L556.2 666.9L559.2 667.6L562.2 666.8L565.2 667.3L568.2 666.6L571.2 667.3L574.2 666.8L577.2 667.5L580.2 666.6L583.2 667.3L586.2 666.8L589.2 667.6L592.2 666.7L595.2 667.2L598.2 666.6L601.2 667.2L604.2 666.6L607.2 667.4L610.2 666.9L613.2 667.4L616.2 666.9L619.2 667.2L622.2 666.8L625.2 667.2L628.2 666.7L631.2 667.5L634.2 666.7L637.2 667.0L640.2 666.7L643.2 667.2L646.2 666.5L649.2 667.2L652.2 666.8L655.2 667.6L658.2 666.6L661.2 667.5L664.2 666.9L667.2 667.1L670.2 666.7L673.2 667.3L676.2 666.7L679.2 667.1L682.2 666.6L685.2 667.5L688.2 666.9L691.2 667.6L694.2 666.6L697.2 667.6L700.2 666.8L703.2 667.1L706.2 666.8L709.2 667.2L712.2 666.8L715.2 667.3L718.2 666.9L721.2 667.3L724.2 666.7L727.2 667.4L730.2 666.7L733.2 667.2L736.2 666.9L739.2 667.2L742.2 666.6L745.2 667.2L748.2 666.5L751.2 667.2L754.2 667.0L757.2 667.2L760.2 666.7M788.2 666.5L791.2 667.2L794.2 666.9L797.2 667.4L800.2 666.6L803.2 667.3L806.2 666.6L809.2 667.2L812.2 666.6L815.2 667.2L818.2 666.7L821.2 667.4L824.2 666.8L827.2 667.3L830.2 666.5L833.2 667.3L836.2 666.6L839.2 667.4L842.2 666.8L845.2 667.4L848.2 666.6L851.2 667.0L854.2 666.8L857.2 667.5L860.2 666.5L863.2 667.3L866.2 666.9L869.2 667.1L872.2 667.0L875.2 667.2L878.2 666.5L881.2 667.5L884.2 666.7L887.2 667.2L890.2 666.8L893.2 667.0L896.2 667.0L899.2 667.2L902.2 666.7L905.2 667.2L908.2 666.8L911.2 667.4L914.2 666.6L917.2 667.4L920.2 666.7L923.2 667.2L926.2 666.7L929.2 667.1L932.2 666.6L935.2 667.4L938.2 666.7L941.2 667.5L944.2 666.8L947.2 667.1L950.2 666.4L953.2 667.2L956.2 666.7L959.2 667.3L962.2 666.6L965.2 667.5L968.2 666.4L971.2 667.1L974.2 666.7L977.2 667.6L980.2 666.8L983.2 667.1L986.2 666.8L989.2 667.4L992.2 666.8L995.2 667.2L998.2 666.6L1001.2 667.3L1004.2 666.8L1007.2 667.5L1010.2 667.0L1013.2 667.2L1016.2 666.6L1019.2 667.3L1022.2 666.7L1025.2 667.4L1028.2 666.8L1031.2 667.3L1034.2 666.9L1037.2 667.3L1040.2 666.5L1043.2 667.1L1046.2 666.5L1049.2 667.1L1052.2 666.4L1055.2 667.4L1058.2 667.0L1058.8 667.0L1059.4 667.0L1060.0 667.1L1060.6 667.3L1061.2 667.7L1061.8 668.1L1062.4 668.7L1063.0 669.3L1063.6 670.0L1064.2 670.8L1064.8 671.5L1065.4 672.3L1066.0 673.1L1066.6 673.8L1067.2 674.5L1067.8 675.1L1068.4 675.7L1069.0 676.2L1069.6 676.7L1070.2 677.1L1070.8 677.4L1071.4 677.7L1072.0 678.0L1072.6 678.2L1073.2 678.3L1073.8 678.4L1074.4 678.5L1075.0 678.6L1075.6 678.7L1076.2 678.7L1076.8 678.8L1077.4 678.8L1078.0 678.8L1078.6 678.8L1079.2 678.8L1079.8 678.8L1080.4 678.8L1081.0 678.8L1081.6 678.8L1097.7 678.9" stroke="#bf2000" stroke-width="2.0"/>
<path d="M760.6 667.0V678.9M788.2 667.0V678.9" stroke="#bf2000" stroke-width="0.6" stroke-dasharray="0.8 2.5" opacity="0.6"/>
<path d="M202.2 665.0L205.2 665.5L208.2 664.8L211.2 665.3L214.2 664.8L217.2 665.8L220.2 664.6L223.2 665.5L226.2 665.0L229.2 665.5L232.2 664.8L235.2 665.6L238.2 664.7L241.2 665.5L244.2 665.0L247.2 665.2L250.2 664.7L253.2 665.4L256.2 664.9L259.2 665.5L262.2 664.8L265.2 665.2L268.2 664.5L271.2 665.3L274.2 664.7L277.2 665.1L280.2 664.7L283.2 665.3L286.2 664.8L289.2 665.1L292.2 664.7L295.2 665.0L298.2 664.5L301.2 665.1L304.2 664.8L307.2 665.6L310.2 664.6L313.2 665.2L316.2 664.8L319.2 665.2L322.2 665.1L325.2 665.6L328.2 665.6L331.2 666.3L334.2 665.6L337.2 666.0L340.2 665.8L343.2 666.1L346.2 665.5L349.2 666.2L352.2 665.2L355.2 666.2L358.2 665.6L361.2 666.2L364.2 665.5L367.2 666.0L370.2 665.6L373.2 666.1L376.2 665.5L379.2 666.0L382.2 665.6L385.2 666.3L388.2 665.6L391.2 666.2L394.2 665.7L397.2 666.3L400.2 665.5L403.2 666.1L406.2 665.4L409.2 666.1L412.2 665.6L415.2 666.2L418.2 665.4L421.2 666.1L424.2 665.4L427.2 666.3L430.2 665.4L433.2 666.2L436.2 665.4L439.2 666.1L442.2 665.4L445.2 666.4L448.2 665.6L451.2 666.1L454.2 665.4L457.2 666.0L460.2 665.6L463.2 666.3L466.2 665.3L469.2 666.0L472.2 665.5L475.2 666.0L478.2 665.3L481.2 666.1L484.2 665.6L487.2 665.9L490.2 665.5L493.2 666.2L496.2 665.6L499.2 666.0L502.2 665.8L505.2 666.2L508.2 665.4L511.2 666.2L514.2 665.3L517.2 666.2L520.2 665.3L523.2 666.2L526.2 665.4L529.2 666.3L532.2 665.6L535.2 666.2L538.2 665.5L541.2 666.3L544.2 665.2L547.2 666.2L550.2 665.6L553.2 666.2L556.2 665.6L559.2 666.7L562.2 665.5L565.2 666.2L568.2 665.5L571.2 666.3L574.2 665.2L577.2 666.4L580.2 665.4L583.2 665.8L586.2 665.3L589.2 666.1L592.2 665.5L595.2 666.1L598.2 665.6L601.2 666.1L604.2 665.5L607.2 665.8L610.2 665.6L613.2 666.3L616.2 665.4L619.2 665.8L622.2 665.3L625.2 666.4L628.2 665.4L631.2 666.0L634.2 665.4L637.2 666.2L640.2 665.4L643.2 666.0L646.2 665.3L649.2 666.1L652.2 665.7L655.2 666.1L658.2 665.6L661.2 666.1L664.2 665.5L667.2 666.1L670.2 665.5L673.2 666.3L676.2 665.6L679.2 666.0L682.2 665.5L685.2 666.1L688.2 665.6L691.2 666.1L694.2 665.6L697.2 665.9L700.2 665.6L703.2 666.3L706.2 665.3L709.2 666.3L712.2 665.5L715.2 666.1L718.2 665.2L721.2 666.3L724.2 665.4L727.2 666.0L730.2 665.6L733.2 665.9L736.2 665.4L739.2 665.9L742.2 665.5L745.2 666.2L748.2 665.6L751.2 666.2L754.2 665.4L757.2 666.1L760.2 665.4M788.2 665.8L791.2 666.1L794.2 665.2L797.2 665.9L800.2 665.7L803.2 665.9L806.2 665.4L809.2 666.2L812.2 665.3L815.2 666.3L818.2 665.8L821.2 666.0L824.2 665.7L827.2 666.0L830.2 665.4L833.2 666.1L836.2 665.5L839.2 666.0L842.2 665.6L845.2 665.9L848.2 665.4L851.2 665.9L854.2 665.6L857.2 666.2L860.2 665.6L863.2 665.9L866.2 665.5L869.2 666.2L872.2 665.3L875.2 666.0L878.2 665.6L881.2 666.2L884.2 665.5L887.2 666.2L890.2 665.5L893.2 666.1L896.2 665.5L899.2 666.0L902.2 665.5L905.2 666.0L908.2 665.8L911.2 666.1L914.2 665.5L917.2 666.1L920.2 665.5L923.2 666.1L926.2 665.6L929.2 666.1L932.2 665.6L935.2 666.0L938.2 665.6L941.2 666.2L944.2 665.3L947.2 666.1L950.2 665.5L953.2 666.0L956.2 665.4L959.2 665.8L962.2 665.7L965.2 666.0L968.2 665.3L971.2 666.2L974.2 665.2L977.2 666.2L980.2 665.6L983.2 666.2L986.2 665.5L989.2 665.9L992.2 665.2L995.2 666.3L998.2 665.4L1001.2 666.0L1004.2 665.7L1007.2 666.0L1010.2 665.5L1013.2 666.1L1016.2 665.5L1019.2 665.9L1022.2 665.4L1025.2 666.3L1028.2 665.6L1031.2 665.7L1034.2 665.2L1037.2 666.2L1040.2 665.5L1043.2 666.0L1046.2 665.7L1049.2 665.8L1052.2 665.7L1055.2 666.1L1058.2 665.8L1058.8 665.8L1059.4 665.8L1060.0 666.0L1060.6 666.5L1061.2 667.3L1061.8 668.2L1062.4 669.3L1063.0 670.5L1063.6 671.7L1064.2 672.9L1064.8 674.0L1065.4 675.0L1066.0 675.8L1066.6 676.6L1067.2 677.1L1067.8 677.6L1068.4 678.0L1069.0 678.2L1069.6 678.4L1070.2 678.6L1070.8 678.7L1071.4 678.7L1072.0 678.8L1072.6 678.8L1073.2 678.8L1073.8 678.8L1074.4 678.8L1075.0 678.8L1075.6 678.8L1076.2 678.8L1076.8 678.8L1077.4 678.8L1078.0 678.8L1078.6 678.8L1079.2 678.8L1079.8 678.8L1080.4 678.8L1081.0 678.8L1081.6 678.8L1097.7 678.9" stroke="#804000" stroke-width="2.0"/>
<path d="M760.6 665.8V678.9M788.2 665.8V678.9" stroke="#804000" stroke-width="0.6" stroke-dasharray="0.8 2.5" opacity="0.6"/>
<path d="M202.2 663.4L205.2 663.8L208.2 663.3L211.2 663.6L214.2 662.9L217.2 663.6L220.2 662.8L223.2 663.1L226.2 662.9L229.2 663.4L232.2 662.7L235.2 663.0L238.2 662.4L241.2 662.8L244.2 662.2L247.2 662.9L250.2 662.4L253.2 662.8L256.2 662.6L259.2 662.7L262.2 662.2L265.2 662.9L268.2 662.6L271.2 662.9L274.2 662.3L277.2 662.9L280.2 662.3L283.2 662.8L286.2 662.6L289.2 663.1L292.2 662.6L295.2 662.9L298.2 662.8L301.2 662.9L304.2 662.2L307.2 663.0L310.2 662.5L313.2 663.2L316.2 662.6L319.2 663.7L322.2 663.6L325.2 664.1L328.2 663.8L331.2 664.4L334.2 664.1L337.2 664.8L340.2 664.2L343.2 664.8L346.2 664.3L349.2 664.7L352.2 664.2L355.2 664.5L358.2 664.0L361.2 664.7L364.2 664.0L367.2 664.8L370.2 664.3L373.2 664.7L376.2 664.0L379.2 664.6L382.2 664.3L385.2 664.6L388.2 664.1L391.2 664.6L394.2 664.1L397.2 664.8L400.2 664.0L403.2 664.5L406.2 664.3L409.2 664.7L412.2 664.2L415.2 664.7L418.2 664.2L421.2 664.8L424.2 664.3L427.2 664.6L430.2 664.0L433.2 664.7L436.2 664.1L439.2 664.7L442.2 663.9L445.2 664.3L448.2 664.1L451.2 664.8L454.2 664.1L457.2 664.9L460.2 664.2L463.2 664.6L466.2 664.2L469.2 664.6L472.2 664.2L475.2 664.7L478.2 664.1L481.2 664.7L484.2 664.0L487.2 664.4L490.2 664.0L493.2 664.3L496.2 664.1L499.2 664.8L502.2 664.3L505.2 664.7L508.2 663.9L511.2 664.4L514.2 664.3L517.2 664.4L520.2 664.1L523.2 664.3L526.2 664.0L529.2 664.7L532.2 664.1L535.2 664.6L538.2 663.9L541.2 664.5L544.2 664.2L547.2 664.7L550.2 664.0L553.2 664.6L556.2 663.9L559.2 664.7L562.2 664.2L565.2 664.5L568.2 664.0L571.2 664.7L574.2 663.9L577.2 664.9L580.2 664.2L583.2 664.5L586.2 664.1L589.2 664.8L592.2 663.8L595.2 664.7L598.2 664.0L601.2 664.5L604.2 664.1L607.2 664.5L610.2 663.8L613.2 664.4L616.2 664.0L619.2 664.7L622.2 664.0L625.2 664.5L628.2 664.0L631.2 664.8L634.2 664.0L637.2 664.4L640.2 663.9L643.2 664.7L646.2 663.9L649.2 664.5L652.2 663.9L655.2 664.4L658.2 664.1L661.2 664.2L664.2 664.2L667.2 664.5L670.2 663.8L673.2 664.6L676.2 663.7L679.2 664.6L682.2 664.1L685.2 664.4L688.2 663.9L691.2 664.7L694.2 663.8L697.2 664.5L700.2 664.0L703.2 664.8L706.2 663.8L709.2 664.5L712.2 664.1L715.2 664.1L718.2 663.9L721.2 664.2L724.2 663.6L727.2 664.8L730.2 663.9L733.2 664.7L736.2 663.9L739.2 664.6L742.2 663.8L745.2 664.4L748.2 663.9L751.2 664.5L754.2 664.1L757.2 664.5L760.2 664.0M788.2 664.1L791.2 664.7L794.2 663.9L797.2 664.9L800.2 664.0L803.2 664.7L806.2 664.1L809.2 664.9L812.2 664.2L815.2 664.7L818.2 664.1L821.2 664.8L824.2 664.2L827.2 664.8L830.2 664.3L833.2 665.0L836.2 664.2L839.2 664.5L842.2 664.4L845.2 665.1L848.2 664.1L851.2 664.7L854.2 663.8L857.2 664.9L860.2 664.0L863.2 665.0L866.2 663.8L869.2 664.8L872.2 664.3L875.2 664.7L878.2 664.0L881.2 664.8L884.2 664.1L887.2 664.7L890.2 664.2L893.2 664.7L896.2 664.1L899.2 664.9L902.2 664.1L905.2 664.8L908.2 664.1L911.2 664.9L914.2 664.0L917.2 664.9L920.2 663.7L923.2 664.7L926.2 664.0L929.2 665.0L932.2 664.2L935.2 664.6L938.2 664.1L941.2 665.0L944.2 664.2L947.2 664.9L950.2 664.0L953.2 664.6L956.2 664.3L959.2 665.2L962.2 664.1L965.2 664.9L968.2 664.1L971.2 665.0L974.2 664.2L977.2 664.8L980.2 664.0L983.2 664.8L986.2 664.3L989.2 665.1L992.2 664.1L995.2 665.0L998.2 664.2L1001.2 664.8L1004.2 664.1L1007.2 664.6L1010.2 664.1L1013.2 665.1L1016.2 664.1L1019.2 664.8L1022.2 664.4L1025.2 664.6L1028.2 664.3L1031.2 664.8L1034.2 664.3L1037.2 665.0L1040.2 664.3L1043.2 664.9L1046.2 664.4L1049.2 665.0L1052.2 664.2L1055.2 664.9L1058.2 664.6L1058.8 664.6L1059.4 664.6L1060.0 665.0L1060.6 666.1L1061.2 667.5L1061.8 669.3L1062.4 671.1L1063.0 672.9L1063.6 674.5L1064.2 675.8L1064.8 676.8L1065.4 677.5L1066.0 678.0L1066.6 678.4L1067.2 678.6L1067.8 678.7L1068.4 678.8L1069.0 678.8L1069.6 678.8L1070.2 678.8L1070.8 678.8L1071.4 678.8L1072.0 678.8L1072.6 678.8L1073.2 678.8L1073.8 678.8L1074.4 678.8L1075.0 678.8L1075.6 678.8L1076.2 678.8L1076.8 678.8L1077.4 678.8L1078.0 678.8L1078.6 678.8L1079.2 678.8L1079.8 678.8L1080.4 678.8L1081.0 678.8L1081.6 678.8L1097.7 678.9" stroke="#406000" stroke-width="2.0"/>
<path d="M760.6 664.2V678.9M788.2 664.4V678.9" stroke="#406000" stroke-width="0.6" stroke-dasharray="0.8 2.5" opacity="0.6"/>
<path d="M202.2 650.6L203.7 651.7L205.2 650.6L206.7 651.5L208.2 651.0L209.7 651.5L211.2 650.7L212.7 651.3L214.2 650.6L215.7 651.5L217.2 650.7L218.7 651.3L220.2 651.0L221.7 651.1L223.2 650.4L224.7 651.1L226.2 650.5L227.7 651.2L229.2 650.4L230.7 651.2L232.2 650.5L233.7 651.0L235.2 650.0L236.7 651.1L238.2 650.1L239.7 650.9L241.2 650.2L242.7 650.7L244.2 650.1L245.7 650.9L247.2 650.1L248.7 650.9L250.2 650.0L251.7 650.7L253.2 649.9L254.7 650.7L256.2 650.1L257.7 650.6L259.2 649.7L260.7 650.6L262.2 649.9L263.7 650.8L265.2 649.9L266.7 650.5L268.2 649.6L269.7 650.8L271.2 649.6L272.7 650.3L274.2 649.7L275.7 650.2L277.2 649.9L278.7 650.5L280.2 649.9L281.7 650.4L283.2 649.8L284.7 650.7L286.2 650.1L287.7 651.1L289.2 650.1L290.7 650.4L292.2 650.0L293.7 650.7L295.2 650.2L296.7 650.8L298.2 650.2L299.7 650.8L301.2 650.2L302.7 651.1L304.2 650.1L305.7 650.6L307.2 650.1L308.7 651.2L310.2 650.3L311.7 651.0L313.2 650.2L314.7 651.2L316.2 650.5L317.7 651.3L319.2 650.7L320.7 651.5L322.2 650.9L323.7 651.9L325.2 651.4L326.7 651.8L328.2 651.3L329.7 652.3L331.2 651.7L332.7 652.3L334.2 651.9L335.7 652.7L337.2 652.0L338.7 652.8L340.2 652.2L341.7 653.1L343.2 652.4L344.7 653.1L346.2 652.4L347.7 653.0L349.2 652.4L350.7 653.3L352.2 652.5L353.7 653.4L355.2 652.6L356.7 653.3L358.2 652.7L359.7 653.2L361.2 652.7L362.7 653.4L364.2 653.0L365.7 653.5L367.2 653.0L368.7 653.6L370.2 653.1L371.7 653.9L373.2 653.1L374.7 653.8L376.2 653.2L377.7 653.9L379.2 653.0L380.7 653.8L382.2 653.0L383.7 653.6L385.2 653.0L386.7 653.8L388.2 652.9L389.7 653.9L391.2 652.8L392.7 653.7L394.2 653.0L395.7 653.3L397.2 652.9L398.7 653.3L400.2 652.8L401.7 653.6L403.2 653.1L404.7 653.6L406.2 652.5L407.7 653.4L409.2 653.0L410.7 653.4L412.2 653.0L413.7 653.3L415.2 652.6L416.7 653.1L418.2 652.6L419.7 653.5L421.2 652.4L422.7 653.4L424.2 652.6L425.7 653.3L427.2 652.5L428.7 653.2L430.2 652.8L431.7 653.0L433.2 652.6L434.7 653.3L436.2 652.5L437.7 653.3L439.2 651.9L440.7 653.0L442.2 652.2L443.7 652.9L445.2 652.3L446.7 653.0L448.2 652.1L449.7 653.1L451.2 652.0L452.7 653.0L454.2 652.1L455.7 652.6L457.2 651.9L458.7 652.6L460.2 652.0L461.7 652.8L463.2 652.3L464.7 652.9L466.2 651.8L467.7 652.4L469.2 652.0L470.7 652.5L472.2 651.9L473.7 652.5L475.2 652.3L476.7 652.3L478.2 651.9L479.7 652.8L481.2 651.8L482.7 652.4L484.2 652.1L485.7 652.2L487.2 651.5L488.7 652.3L490.2 651.8L491.7 652.6L493.2 651.8L494.7 652.8L496.2 651.8L497.7 652.6L499.2 651.9L500.7 652.8L502.2 652.0L503.7 652.7L505.2 652.3L506.7 653.0L508.2 652.3L509.7 652.7L511.2 652.0L512.7 652.9L514.2 652.2L515.7 652.9L517.2 652.3L518.7 653.2L520.2 652.3L521.7 653.2L523.2 652.4L524.7 653.1L526.2 652.5L527.7 653.4L529.2 652.7L530.7 653.2L532.2 652.7L533.7 653.3L535.2 652.6L536.7 653.2L538.2 652.7L539.7 653.2L541.2 652.3L542.7 652.9L544.2 652.2L545.7 653.1L547.2 652.2L548.7 653.0L550.2 652.3L551.7 653.2L553.2 652.6L554.7 652.9L556.2 652.5L557.7 653.0L559.2 652.3L560.7 652.8L562.2 651.9L563.7 652.8L565.2 652.2L566.7 652.5L568.2 652.0L569.7 652.7L571.2 652.0L572.7 652.5L574.2 651.8L575.7 652.7L577.2 652.1L578.7 652.5L580.2 651.9L581.7 652.5L583.2 651.8L584.7 652.4L586.2 651.7L587.7 652.3L589.2 651.7L590.7 652.5L592.2 651.7L593.7 652.4L595.2 651.5L596.7 652.4L598.2 651.1L599.7 652.0L601.2 651.5L602.7 651.9L604.2 651.6L605.7 652.2L607.2 651.3L608.7 652.1L610.2 651.2L611.7 651.9L613.2 651.3L614.7 651.8L616.2 651.5L617.7 651.9L619.2 651.4L620.7 651.9L622.2 651.3L623.7 651.8L625.2 651.2L626.7 651.8L628.2 651.2L629.7 652.1L631.2 651.0L632.7 651.8L634.2 651.1L635.7 651.9L637.2 651.0L638.7 651.7L640.2 650.9L641.7 651.7L643.2 651.0L644.7 651.6L646.2 650.9L647.7 651.7L649.2 650.9L650.7 651.5L652.2 651.0L653.7 651.7L655.2 650.9L656.7 651.6L658.2 650.7L659.7 651.5L661.2 650.8L662.7 651.5L664.2 650.5L665.7 651.5L667.2 650.9L668.7 651.6L670.2 650.8L671.7 651.6L673.2 650.6L674.7 651.4L676.2 650.5L677.7 651.6L679.2 651.2L680.7 651.9L682.2 650.8L683.7 651.8L685.2 651.2L686.7 651.7L688.2 650.7L689.7 652.0L691.2 651.0L692.7 651.7L694.2 651.3L695.7 651.9L697.2 651.2L698.7 652.1L700.2 651.1L701.7 651.7L703.2 651.3L704.7 651.9L706.2 651.3L707.7 652.0L709.2 651.1L710.7 652.0L712.2 651.2L713.7 652.0L715.2 651.3L716.7 652.1L718.2 651.4L719.7 651.9L721.2 651.5L722.7 651.9L724.2 651.7L725.7 652.0L727.2 651.4L728.7 652.3L730.2 651.4L731.7 652.0L733.2 651.3L734.7 652.3L736.2 651.6L737.7 652.4L739.2 651.6L740.7 652.2L742.2 651.7L743.7 652.5L745.2 651.5L746.7 652.9L748.2 651.6L749.7 652.6L751.2 652.0L752.7 652.5L754.2 651.8L755.7 652.5L757.2 651.9L758.7 652.1L760.2 651.8M788.2 651.7L789.7 652.3L791.2 651.8L792.7 652.5L794.2 651.8L795.7 652.3L797.2 651.9L798.7 652.1L800.2 651.6L801.7 652.2L803.2 651.7L804.7 652.3L806.2 651.8L807.7 652.3L809.2 651.9L810.7 652.5L812.2 651.6L813.7 652.1L815.2 651.5L816.7 652.1L818.2 651.8L819.7 652.5L821.2 651.5L822.7 652.6L824.2 651.6L825.7 652.0L827.2 651.8L828.7 652.5L830.2 651.6L831.7 652.2L833.2 651.8L834.7 652.2L836.2 651.6L837.7 652.4L839.2 651.6L840.7 652.2L842.2 651.4L843.7 652.4L845.2 651.3L846.7 652.3L848.2 651.6L849.7 652.3L851.2 651.5L852.7 652.3L854.2 651.7L855.7 652.1L857.2 651.6L858.7 652.3L860.2 651.4L861.7 652.1L863.2 651.8L864.7 652.4L866.2 651.4L867.7 652.3L869.2 651.6L870.7 652.4L872.2 651.7L873.7 651.8L875.2 651.5L876.7 652.4L878.2 651.7L879.7 652.1L881.2 651.3L882.7 652.2L884.2 651.4L885.7 652.2L887.2 651.3L888.7 652.3L890.2 651.5L891.7 652.2L893.2 651.3L894.7 651.9L896.2 651.2L897.7 652.2L899.2 651.2L900.7 652.2L902.2 651.7L903.7 652.0L905.2 651.4L906.7 652.3L908.2 651.5L909.7 652.0L911.2 651.4L912.7 652.1L914.2 651.3L915.7 652.2L917.2 651.4L918.7 652.3L920.2 651.1L921.7 652.2L923.2 651.5L924.7 652.0L926.2 651.4L927.7 652.2L929.2 651.4L930.7 652.0L932.2 651.4L933.7 651.9L935.2 651.1L936.7 651.9L938.2 651.2L939.7 652.0L941.2 651.4L942.7 652.0L944.2 651.5L945.7 652.0L947.2 651.2L948.7 651.9L950.2 651.1L951.7 651.9L953.2 651.5L954.7 651.7L956.2 651.3L957.7 652.0L959.2 651.4L960.7 651.9L962.2 651.3L963.7 651.8L965.2 651.3L966.7 651.6L968.2 651.2L969.7 651.9L971.2 650.8L972.7 651.9L974.2 650.9L975.7 651.8L977.2 651.0L978.7 651.8L980.2 651.0L981.7 651.4L983.2 651.1L984.7 651.7L986.2 650.7L987.7 651.6L989.2 650.9L990.7 651.4L992.2 650.6L993.7 651.6L995.2 650.6L996.7 651.5L998.2 650.9L999.7 651.4L1001.2 650.5L1002.7 651.4L1004.2 650.3L1005.7 651.1L1007.2 650.9L1008.7 651.0L1010.2 650.5L1011.7 651.0L1013.2 650.5L1014.7 651.3L1016.2 650.2L1017.7 651.2L1019.2 650.7L1020.7 651.5L1022.2 650.7L1023.7 651.3L1025.2 650.8L1026.7 651.4L1028.2 650.7L1029.7 651.5L1031.2 651.2L1032.7 651.4L1034.2 651.0L1035.7 651.6L1037.2 650.7L1038.7 651.5L1040.2 651.0L1041.7 651.6L1043.2 651.1L1044.7 651.6L1046.2 650.9L1047.7 652.0L1049.2 651.1L1050.7 651.7L1052.2 651.2L1053.7 652.2L1055.2 651.1L1056.7 651.7L1058.2 651.6L1058.8 651.6L1059.4 651.6L1060.0 653.6L1060.6 657.9L1061.2 663.3L1061.8 668.6L1062.4 672.8L1063.0 675.6L1063.6 677.3L1064.2 678.2L1064.8 678.6L1065.4 678.8L1066.0 678.8L1066.6 678.8L1067.2 678.8L1067.8 678.8L1068.4 678.8L1069.0 678.8L1069.6 678.8L1070.2 678.8L1070.8 678.8L1071.4 678.8L1072.0 678.8L1072.6 678.8L1073.2 678.8L1073.8 678.8L1074.4 678.9L1075.0 678.9L1075.6 678.9L1076.2 678.9L1076.8 678.9L1077.4 678.9L1078.0 678.9L1078.6 678.9L1079.2 678.9L1079.8 678.9L1080.4 678.9L1081.0 678.9L1081.6 678.9L1097.7 678.9" stroke="#008000" stroke-width="1.7"/>
<path d="M760.6 652.1V678.9M788.2 652.1V678.9" stroke="#008000" stroke-width="0.6" stroke-dasharray="0.8 2.5" opacity="0.6"/>
<path d="M202.2 637.6L203.7 638.6L205.2 637.6L206.7 638.0L208.2 637.0L209.7 638.3L211.2 637.3L212.7 638.1L214.2 637.2L215.7 638.2L217.2 637.2L218.7 637.9L220.2 637.1L221.7 637.7L223.2 637.0L224.7 637.7L226.2 636.6L227.7 637.5L229.2 636.7L230.7 637.4L232.2 636.8L233.7 637.7L235.2 636.8L236.7 637.3L238.2 636.4L239.7 637.5L241.2 636.5L242.7 637.3L244.2 636.3L245.7 637.0L247.2 636.8L248.7 637.1L250.2 636.3L251.7 637.0L253.2 636.5L254.7 637.0L256.2 636.2L257.7 637.0L259.2 636.1L260.7 637.1L262.2 635.8L263.7 636.9L265.2 635.9L266.7 636.7L268.2 635.8L269.7 636.8L271.2 635.7L272.7 636.5L274.2 635.9L275.7 636.6L277.2 635.8L278.7 636.8L280.2 636.0L281.7 636.8L283.2 636.1L284.7 636.8L286.2 636.3L287.7 636.9L289.2 636.1L290.7 637.2L292.2 636.2L293.7 637.1L295.2 636.5L296.7 637.5L298.2 636.6L299.7 637.4L301.2 636.7L302.7 637.6L304.2 636.8L305.7 637.7L307.2 637.1L308.7 637.8L310.2 637.0L311.7 637.8L313.2 637.0L314.7 637.8L316.2 637.4L317.7 638.6L319.2 638.3L320.7 639.4L322.2 638.8L323.7 640.1L325.2 639.4L326.7 641.0L328.2 640.6L329.7 641.3L331.2 641.0L332.7 642.0L334.2 641.7L335.7 642.6L337.2 642.0L338.7 643.5L340.2 642.7L341.7 643.9L343.2 643.0L344.7 643.9L346.2 643.4L347.7 644.4L349.2 643.4L350.7 644.2L352.2 643.6L353.7 644.3L355.2 643.4L356.7 644.6L358.2 643.5L359.7 644.8L361.2 643.9L362.7 644.9L364.2 643.9L365.7 644.9L367.2 644.4L368.7 645.4L370.2 644.6L371.7 645.4L373.2 644.4L374.7 645.5L376.2 644.7L377.7 645.4L379.2 644.8L380.7 645.2L382.2 644.8L383.7 645.2L385.2 644.4L386.7 645.2L388.2 644.2L389.7 645.1L391.2 644.3L392.7 644.8L394.2 644.1L395.7 644.8L397.2 644.1L398.7 645.1L400.2 644.0L401.7 644.9L403.2 644.1L404.7 644.6L406.2 644.0L407.7 644.7L409.2 643.8L410.7 644.4L412.2 643.7L413.7 644.7L415.2 643.9L416.7 644.4L418.2 643.6L419.7 644.3L421.2 643.3L422.7 644.0L424.2 643.6L425.7 644.0L427.2 643.3L428.7 644.3L430.2 643.1L431.7 643.9L433.2 643.1L434.7 643.8L436.2 643.0L437.7 643.7L439.2 643.0L440.7 643.7L442.2 642.6L443.7 643.3L445.2 642.5L446.7 643.3L448.2 642.4L449.7 643.4L451.2 642.3L452.7 643.1L454.2 642.3L455.7 642.8L457.2 642.3L458.7 643.0L460.2 642.3L461.7 642.7L463.2 641.9L464.7 642.8L466.2 641.8L467.7 642.4L469.2 641.9L470.7 642.5L472.2 641.7L473.7 642.3L475.2 641.7L476.7 642.3L478.2 641.4L479.7 642.3L481.2 641.5L482.7 642.0L484.2 641.4L485.7 642.2L487.2 641.2L488.7 641.7L490.2 641.1L491.7 642.0L493.2 640.9L494.7 642.2L496.2 641.2L497.7 642.0L499.2 641.5L500.7 642.2L502.2 641.6L503.7 642.3L505.2 641.6L506.7 642.4L508.2 641.7L509.7 642.6L511.2 641.8L512.7 642.5L514.2 642.0L515.7 642.7L517.2 642.1L518.7 642.9L520.2 642.0L521.7 642.8L523.2 642.2L524.7 643.2L526.2 642.3L527.7 643.3L529.2 642.4L530.7 643.1L532.2 642.2L533.7 642.7L535.2 642.2L536.7 642.8L538.2 641.9L539.7 642.8L541.2 641.6L542.7 642.7L544.2 641.4L545.7 642.3L547.2 641.2L548.7 642.1L550.2 641.4L551.7 641.7L553.2 641.1L554.7 641.8L556.2 640.9L557.7 641.7L559.2 640.9L560.7 641.5L562.2 640.6L563.7 641.4L565.2 640.5L566.7 641.1L568.2 640.1L569.7 641.1L571.2 640.0L572.7 641.0L574.2 639.8L575.7 640.4L577.2 639.9L578.7 640.3L580.2 639.3L581.7 640.4L583.2 639.2L584.7 640.4L586.2 639.2L587.7 640.2L589.2 639.3L590.7 639.8L592.2 639.2L593.7 639.9L595.2 639.2L596.7 640.0L598.2 639.3L599.7 639.8L601.2 639.0L602.7 640.1L604.2 639.1L605.7 639.9L607.2 638.7L608.7 639.5L610.2 638.8L611.7 639.6L613.2 638.9L614.7 640.0L616.2 638.6L617.7 639.5L619.2 638.8L620.7 639.5L622.2 638.8L623.7 639.4L625.2 638.5L626.7 639.7L628.2 638.6L629.7 639.1L631.2 638.4L632.7 639.2L634.2 638.2L635.7 639.3L637.2 638.4L638.7 639.1L640.2 638.2L641.7 639.3L643.2 638.2L644.7 638.9L646.2 637.9L647.7 638.8L649.2 638.2L650.7 639.1L652.2 637.9L653.7 638.5L655.2 638.0L656.7 638.8L658.2 638.1L659.7 638.6L661.2 637.9L662.7 638.4L664.2 637.7L665.7 638.6L667.2 637.9L668.7 638.8L670.2 638.1L671.7 638.6L673.2 638.2L674.7 638.7L676.2 637.9L677.7 639.0L679.2 637.7L680.7 638.6L682.2 637.9L683.7 638.9L685.2 638.2L686.7 639.0L688.2 638.0L689.7 639.0L691.2 638.0L692.7 639.1L694.2 638.1L695.7 639.1L697.2 638.0L698.7 639.1L700.2 638.0L701.7 639.0L703.2 638.0L704.7 639.0L706.2 638.1L707.7 638.9L709.2 638.3L710.7 639.2L712.2 638.3L713.7 639.1L715.2 638.4L716.7 639.3L718.2 638.5L719.7 639.2L721.2 638.6L722.7 639.1L724.2 638.5L725.7 639.0L727.2 638.7L728.7 639.1L730.2 638.4L731.7 639.4L733.2 638.4L734.7 639.1L736.2 638.2L737.7 639.2L739.2 638.8L740.7 639.3L742.2 638.7L743.7 639.4L745.2 638.4L746.7 639.1L748.2 638.5L749.7 639.4L751.2 638.5L752.7 639.4L754.2 638.6L755.7 639.3L757.2 638.4L758.7 639.3L760.2 638.7M788.2 639.0L789.7 639.7L791.2 638.9L792.7 639.8L794.2 639.0L795.7 639.8L797.2 638.8L798.7 639.7L800.2 638.8L801.7 639.6L803.2 638.6L804.7 639.5L806.2 638.7L807.7 639.6L809.2 638.9L810.7 639.6L812.2 638.8L813.7 639.4L815.2 638.8L816.7 639.6L818.2 638.8L819.7 639.4L821.2 638.6L822.7 639.3L824.2 638.4L825.7 639.3L827.2 638.3L828.7 639.1L830.2 638.6L831.7 639.4L833.2 638.6L834.7 639.2L836.2 638.4L837.7 639.3L839.2 638.3L840.7 638.9L842.2 638.7L843.7 639.3L845.2 638.5L846.7 639.1L848.2 638.1L849.7 639.0L851.2 638.3L852.7 638.8L854.2 638.1L855.7 639.0L857.2 638.4L858.7 639.0L860.2 638.0L861.7 638.7L863.2 638.4L864.7 638.9L866.2 638.3L867.7 639.0L869.2 638.0L870.7 639.3L872.2 638.3L873.7 639.2L875.2 638.1L876.7 639.0L878.2 638.4L879.7 639.0L881.2 638.1L882.7 638.9L884.2 638.1L885.7 639.2L887.2 638.3L888.7 638.8L890.2 638.5L891.7 639.3L893.2 638.5L894.7 638.9L896.2 638.4L897.7 639.4L899.2 638.2L900.7 639.1L902.2 638.4L903.7 638.9L905.2 638.4L906.7 639.4L908.2 638.5L909.7 639.5L911.2 638.5L912.7 639.3L914.2 638.5L915.7 639.2L917.2 638.3L918.7 639.2L920.2 638.5L921.7 639.3L923.2 638.6L924.7 639.4L926.2 638.7L927.7 639.3L929.2 638.3L930.7 639.2L932.2 638.9L933.7 639.5L935.2 638.6L936.7 639.4L938.2 638.6L939.7 639.4L941.2 638.7L942.7 639.6L944.2 638.9L945.7 639.4L947.2 638.7L948.7 639.5L950.2 638.7L951.7 639.7L953.2 638.6L954.7 639.9L956.2 638.9L957.7 639.8L959.2 638.7L960.7 639.5L962.2 638.7L963.7 639.5L965.2 638.3L966.7 639.5L968.2 638.3L969.7 639.4L971.2 638.6L972.7 639.2L974.2 638.3L975.7 639.1L977.2 638.2L978.7 639.1L980.2 638.3L981.7 639.0L983.2 638.3L984.7 638.9L986.2 637.9L987.7 638.7L989.2 637.7L990.7 638.6L992.2 637.7L993.7 638.8L995.2 637.8L996.7 638.8L998.2 637.4L999.7 638.4L1001.2 637.7L1002.7 638.4L1004.2 637.4L1005.7 638.2L1007.2 637.4L1008.7 638.1L1010.2 637.4L1011.7 638.3L1013.2 637.5L1014.7 638.3L1016.2 637.5L1017.7 638.5L1019.2 637.5L1020.7 638.6L1022.2 637.7L1023.7 638.7L1025.2 637.7L1026.7 638.7L1028.2 637.9L1029.7 638.6L1031.2 638.2L1032.7 638.9L1034.2 638.1L1035.7 639.1L1037.2 638.2L1038.7 639.0L1040.2 638.5L1041.7 639.5L1043.2 638.4L1044.7 639.5L1046.2 638.5L1047.7 639.2L1049.2 638.7L1050.7 639.6L1052.2 638.7L1053.7 639.6L1055.2 638.6L1056.7 639.3L1058.2 639.2L1058.8 639.2L1059.4 639.3L1060.0 642.5L1060.6 649.5L1061.2 658.0L1061.8 665.8L1062.4 671.7L1063.0 675.4L1063.6 677.4L1064.2 678.3L1064.8 678.7L1065.4 678.8L1066.0 678.8L1066.6 678.8L1067.2 678.8L1067.8 678.8L1068.4 678.8L1069.0 678.8L1069.6 678.8L1070.2 678.8L1070.8 678.8L1071.4 678.8L1072.0 678.8L1072.6 678.8L1073.2 678.9L1073.8 678.9L1074.4 678.9L1075.0 678.9L1075.6 678.9L1076.2 678.9L1076.8 678.9L1077.4 678.9L1078.0 678.9L1078.6 678.9L1079.2 678.9L1079.8 678.9L1080.4 678.9L1081.0 678.9L1081.6 678.9L1097.7 678.9" stroke="#006040" stroke-width="1.7"/>
<path d="M760.6 639.0V678.9M788.2 639.5V678.9" stroke="#006040" stroke-width="0.6" stroke-dasharray="0.8 2.5" opacity="0.6"/>
<path d="M202.2 623.0L203.7 623.6L205.2 622.8L206.7 623.6L208.2 622.7L209.7 623.7L211.2 622.3L212.7 623.4L214.2 622.4L215.7 623.5L217.2 622.3L218.7 623.0L220.2 622.1L221.7 623.3L223.2 622.0L224.7 622.9L226.2 622.0L227.7 622.6L229.2 621.7L230.7 622.4L232.2 621.6L233.7 622.7L235.2 621.6L236.7 622.2L238.2 621.7L239.7 622.1L241.2 621.2L242.7 622.4L244.2 621.3L245.7 622.1L247.2 621.3L248.7 622.0L250.2 621.1L251.7 621.8L253.2 620.9L254.7 621.7L256.2 620.9L257.7 621.5L259.2 620.6L260.7 621.2L262.2 620.3L263.7 621.5L265.2 620.3L266.7 621.2L268.2 620.4L269.7 621.1L271.2 620.2L272.7 621.0L274.2 619.8L275.7 621.1L277.2 620.4L278.7 621.4L280.2 620.4L281.7 621.4L283.2 620.6L284.7 621.7L286.2 620.9L287.7 621.6L289.2 620.8L290.7 621.8L292.2 620.9L293.7 621.9L295.2 621.1L296.7 621.8L298.2 621.4L299.7 622.2L301.2 621.3L302.7 622.4L304.2 621.5L305.7 622.8L307.2 621.6L308.7 622.7L310.2 622.0L311.7 622.8L313.2 621.9L314.7 623.1L316.2 622.5L317.7 623.6L319.2 623.0L320.7 624.5L322.2 624.1L323.7 625.0L325.2 624.6L326.7 625.9L328.2 625.3L329.7 626.3L331.2 625.9L332.7 627.2L334.2 626.9L335.7 627.8L337.2 627.3L338.7 628.5L340.2 628.0L341.7 628.8L343.2 628.2L344.7 629.3L346.2 628.3L347.7 629.4L349.2 628.4L350.7 629.6L352.2 628.8L353.7 629.8L355.2 628.9L356.7 629.9L358.2 629.0L359.7 630.2L361.2 629.3L362.7 630.6L364.2 629.4L365.7 630.6L367.2 629.6L368.7 630.6L370.2 630.1L371.7 631.0L373.2 630.2L374.7 630.9L376.2 630.6L377.7 631.4L379.2 630.0L380.7 630.8L382.2 630.0L383.7 631.0L385.2 629.9L386.7 630.9L388.2 629.8L389.7 631.2L391.2 629.8L392.7 630.6L394.2 630.1L395.7 630.7L397.2 629.7L398.7 630.5L400.2 629.7L401.7 630.4L403.2 629.5L404.7 630.3L406.2 629.3L407.7 630.3L409.2 629.4L410.7 630.5L412.2 629.3L413.7 630.0L415.2 629.1L416.7 630.0L418.2 628.7L419.7 629.8L421.2 628.6L422.7 629.4L424.2 628.6L425.7 629.6L427.2 628.6L428.7 629.5L430.2 628.7L431.7 629.4L433.2 628.4L434.7 629.1L436.2 628.5L437.7 629.2L439.2 628.0L440.7 628.8L442.2 628.1L443.7 628.9L445.2 627.8L446.7 628.8L448.2 627.5L449.7 628.5L451.2 627.7L452.7 628.3L454.2 627.5L455.7 628.3L457.2 627.3L458.7 627.9L460.2 627.1L461.7 628.0L463.2 627.1L464.7 628.0L466.2 627.1L467.7 627.7L469.2 626.8L470.7 627.9L472.2 626.8L473.7 627.5L475.2 626.5L476.7 627.5L478.2 626.6L479.7 627.2L481.2 626.3L482.7 627.1L484.2 626.1L485.7 627.3L487.2 625.8L488.7 627.0L490.2 625.7L491.7 626.7L493.2 626.1L494.7 626.7L496.2 625.9L497.7 626.9L499.2 626.1L500.7 627.2L502.2 626.5L503.7 627.2L505.2 626.5L506.7 627.2L508.2 626.8L509.7 627.4L511.2 626.6L512.7 627.6L514.2 626.8L515.7 627.7L517.2 626.6L518.7 627.9L520.2 627.1L521.7 627.9L523.2 626.9L524.7 628.1L526.2 627.4L527.7 627.9L529.2 627.2L530.7 628.2L532.2 627.1L533.7 628.0L535.2 627.1L536.7 628.0L538.2 627.1L539.7 627.9L541.2 626.9L542.7 627.5L544.2 626.3L545.7 627.5L547.2 626.6L548.7 627.4L550.2 626.3L551.7 627.5L553.2 626.0L554.7 627.2L556.2 626.2L557.7 627.0L559.2 626.1L560.7 626.8L562.2 625.8L563.7 626.6L565.2 625.7L566.7 626.5L568.2 625.6L569.7 626.1L571.2 625.1L572.7 626.2L574.2 625.3L575.7 625.8L577.2 624.9L578.7 625.8L580.2 624.9L581.7 625.8L583.2 624.9L584.7 625.6L586.2 624.7L587.7 625.7L589.2 624.6L590.7 625.8L592.2 624.5L593.7 625.4L595.2 624.2L596.7 625.3L598.2 624.3L599.7 625.1L601.2 624.3L602.7 625.0L604.2 624.2L605.7 624.8L607.2 624.1L608.7 625.2L610.2 624.1L611.7 625.0L613.2 623.8L614.7 624.6L616.2 624.1L617.7 624.9L619.2 623.9L620.7 624.7L622.2 623.9L623.7 624.5L625.2 623.8L626.7 624.6L628.2 623.5L629.7 624.7L631.2 623.5L632.7 624.5L634.2 623.2L635.7 624.1L637.2 623.3L638.7 624.3L640.2 623.5L641.7 624.2L643.2 623.2L644.7 624.2L646.2 623.1L647.7 624.0L649.2 623.1L650.7 623.8L652.2 623.0L653.7 623.6L655.2 622.8L656.7 623.9L658.2 622.7L659.7 623.8L661.2 622.8L662.7 623.6L664.2 623.0L665.7 623.8L667.2 622.7L668.7 623.6L670.2 622.8L671.7 623.5L673.2 623.0L674.7 623.7L676.2 622.6L677.7 623.6L679.2 623.1L680.7 623.8L682.2 623.2L683.7 623.8L685.2 623.0L686.7 624.1L688.2 623.3L689.7 623.7L691.2 623.1L692.7 623.7L694.2 622.9L695.7 623.6L697.2 623.1L698.7 623.8L700.2 622.9L701.7 624.2L703.2 623.2L704.7 623.9L706.2 622.8L707.7 624.0L709.2 622.8L710.7 623.9L712.2 623.2L713.7 624.1L715.2 623.2L716.7 624.2L718.2 623.2L719.7 624.0L721.2 623.2L722.7 624.3L724.2 623.2L725.7 624.2L727.2 623.3L728.7 623.9L730.2 623.1L731.7 623.9L733.2 623.3L734.7 624.1L736.2 623.1L737.7 624.0L739.2 623.4L740.7 624.3L742.2 623.4L743.7 624.2L745.2 623.4L746.7 624.3L748.2 623.4L749.7 624.2L751.2 623.2L752.7 624.2L754.2 623.5L755.7 624.6L757.2 623.3L758.7 624.2L760.2 623.6M788.2 624.9L789.7 625.5L791.2 624.6L792.7 625.5L794.2 624.7L795.7 626.0L797.2 624.5L798.7 625.6L800.2 624.5L801.7 625.5L803.2 624.6L804.7 625.5L806.2 624.4L807.7 625.3L809.2 624.6L810.7 625.4L812.2 624.5L813.7 625.4L815.2 624.3L816.7 625.5L818.2 624.3L819.7 625.1L821.2 624.2L822.7 625.2L824.2 624.7L825.7 625.2L827.2 624.3L828.7 625.4L830.2 624.2L831.7 624.9L833.2 624.1L834.7 625.1L836.2 624.0L837.7 625.0L839.2 624.2L840.7 625.3L842.2 624.2L843.7 625.0L845.2 624.0L846.7 624.9L848.2 623.8L849.7 624.9L851.2 623.7L852.7 624.9L854.2 624.2L855.7 624.8L857.2 624.0L858.7 624.7L860.2 623.7L861.7 624.9L863.2 623.9L864.7 624.9L866.2 623.9L867.7 624.9L869.2 623.8L870.7 624.9L872.2 624.0L873.7 624.7L875.2 623.8L876.7 624.9L878.2 623.9L879.7 624.7L881.2 623.6L882.7 624.7L884.2 624.1L885.7 624.7L887.2 623.8L888.7 624.6L890.2 623.8L891.7 624.7L893.2 623.9L894.7 624.6L896.2 623.7L897.7 625.0L899.2 623.8L900.7 624.6L902.2 623.8L903.7 624.8L905.2 624.0L906.7 624.7L908.2 623.7L909.7 624.8L911.2 623.6L912.7 624.5L914.2 624.0L915.7 624.7L917.2 623.8L918.7 624.6L920.2 623.6L921.7 624.7L923.2 623.8L924.7 624.9L926.2 623.6L927.7 624.6L929.2 623.7L930.7 624.5L932.2 624.0L933.7 624.8L935.2 623.7L936.7 624.4L938.2 623.7L939.7 624.7L941.2 623.6L942.7 624.4L944.2 623.9L945.7 624.4L947.2 623.8L948.7 624.5L950.2 623.6L951.7 624.7L953.2 623.5L954.7 624.5L956.2 623.6L957.7 624.7L959.2 623.8L960.7 624.5L962.2 623.4L963.7 624.6L965.2 623.4L966.7 624.4L968.2 623.1L969.7 624.2L971.2 623.4L972.7 624.1L974.2 623.3L975.7 624.3L977.2 623.4L978.7 623.9L980.2 622.8L981.7 623.6L983.2 622.9L984.7 623.6L986.2 623.0L987.7 623.4L989.2 623.0L990.7 623.7L992.2 622.5L993.7 623.6L995.2 622.7L996.7 623.6L998.2 622.5L999.7 623.5L1001.2 622.5L1002.7 623.3L1004.2 622.4L1005.7 623.0L1007.2 622.4L1008.7 622.9L1010.2 622.3L1011.7 623.1L1013.2 622.5L1014.7 623.4L1016.2 622.4L1017.7 623.5L1019.2 622.6L1020.7 623.7L1022.2 622.8L1023.7 623.7L1025.2 622.9L1026.7 623.6L1028.2 623.1L1029.7 624.1L1031.2 623.0L1032.7 624.2L1034.2 623.4L1035.7 624.4L1037.2 623.6L1038.7 624.5L1040.2 623.5L1041.7 624.8L1043.2 623.7L1044.7 624.5L1046.2 624.0L1047.7 624.6L1049.2 624.0L1050.7 624.8L1052.2 624.2L1053.7 625.2L1055.2 624.1L1056.7 625.2L1058.2 624.7L1058.8 624.7L1059.4 624.8L1060.0 629.9L1060.6 640.5L1061.2 652.9L1061.8 663.7L1062.4 671.2L1063.0 675.5L1063.6 677.6L1064.2 678.4L1064.8 678.7L1065.4 678.8L1066.0 678.8L1066.6 678.8L1067.2 678.8L1067.8 678.8L1068.4 678.8L1069.0 678.8L1069.6 678.8L1070.2 678.8L1070.8 678.8L1071.4 678.8L1072.0 678.8L1072.6 678.9L1073.2 678.9L1073.8 678.9L1074.4 678.9L1075.0 678.9L1075.6 678.9L1076.2 678.9L1076.8 678.9L1077.4 678.9L1078.0 678.9L1078.6 678.9L1079.2 678.9L1079.8 678.9L1080.4 678.9L1081.0 678.9L1081.6 678.9L1097.7 678.9" stroke="#004080" stroke-width="1.7"/>
<path d="M760.6 623.9V678.9M788.2 625.2V678.9" stroke="#004080" stroke-width="0.6" stroke-dasharray="0.8 2.5" opacity="0.6"/>
<path d="M202.2 568.0L203.4 573.3L204.6 570.4L205.8 576.1L207.0 572.7L208.2 578.3L209.4 574.6L210.6 579.5L211.8 575.2L213.0 579.9L214.2 575.6L215.4 579.7L216.6 576.2L217.8 579.7L219.0 575.9L220.2 580.2L221.4 575.6L222.6 581.4L223.8 576.1L225.0 580.0L226.2 576.2L227.4 580.5L228.6 577.1L229.8 580.5L231.0 576.4L232.2 580.8L233.4 576.3L234.6 581.6L235.8 577.3L237.0 582.0L238.2 576.8L239.4 581.3L240.6 577.3L241.8 581.5L243.0 578.0L244.2 581.2L245.4 577.6L246.6 581.4L247.8 577.0L249.0 581.4L250.2 577.0L251.4 582.5L252.6 577.2L253.8 581.6L255.0 576.8L256.2 581.4L257.4 576.9L258.6 582.1L259.8 577.0L261.0 581.4L262.2 576.7L263.4 581.6L264.6 576.1L265.8 581.2L267.0 575.8L268.2 580.3L269.4 576.4L270.6 580.7L271.8 575.9L273.0 580.2L274.2 576.3L275.4 581.8L276.6 576.4L277.8 581.1L279.0 576.2L280.2 581.4L281.4 576.1L282.6 582.3L283.8 576.5L285.0 581.0L286.2 577.0L287.4 580.5L288.6 576.1L289.8 580.8L291.0 576.5L292.2 582.3L293.4 576.5L294.6 582.9L295.8 577.8L297.0 582.8L298.2 577.7L299.4 581.5L300.6 577.0L301.8 582.7L303.0 577.2L304.2 582.0L305.4 577.2L306.6 582.3L307.8 577.5L309.0 581.5L310.2 576.6L311.4 581.6L312.6 575.8L313.8 580.6L315.0 577.2L316.2 583.5L317.4 580.0L318.6 587.3L319.8 582.9L321.0 589.0L322.2 583.8L323.4 589.2L324.6 584.7L325.8 590.4L327.0 586.2L328.2 590.8L329.4 587.0L330.6 591.6L331.8 587.5L333.0 592.4L334.2 589.2L335.4 593.5L336.6 589.3L337.8 595.4L339.0 590.7L340.2 595.2L341.4 591.2L342.6 596.6L343.8 592.2L345.0 597.8L346.2 593.1L347.4 597.4L348.6 593.5L349.8 598.3L351.0 593.3L352.2 596.9L353.4 592.5L354.6 596.5L355.8 592.6L357.0 596.3L358.2 591.7L359.4 596.9L360.6 591.8L361.8 595.8L363.0 590.5L364.2 595.3L365.4 590.1L366.6 596.4L367.8 591.2L369.0 596.6L370.2 592.1L371.4 596.5L372.6 592.8L373.8 597.8L375.0 593.3L376.2 598.2L377.4 593.9L378.6 597.9L379.8 593.7L381.0 598.1L382.2 593.4L383.4 598.4L384.6 592.7L385.8 597.7L387.0 593.7L388.2 599.1L389.4 594.1L390.6 598.1L391.8 594.5L393.0 598.5L394.2 593.5L395.4 598.4L396.6 594.6L397.8 598.9L399.0 593.5L400.2 598.0L401.4 594.0L402.6 597.7L403.8 593.3L405.0 598.3L406.2 592.8L407.4 597.4L408.6 593.1L409.8 597.4L411.0 593.4L412.2 597.3L413.4 592.8L414.6 597.4L415.8 592.0L417.0 597.2L418.2 592.7L419.4 596.5L420.6 591.6L421.8 596.2L423.0 592.3L424.2 596.2L425.4 591.3L426.6 595.4L427.8 591.3L429.0 595.2L430.2 591.6L431.4 595.3L432.6 590.4L433.8 596.1L435.0 591.1L436.2 595.7L437.4 590.3L438.6 595.7L439.8 590.8L441.0 595.2L442.2 590.9L443.4 595.5L444.6 590.3L445.8 595.6L447.0 590.4L448.2 594.6L449.4 590.2L450.6 594.5L451.8 590.4L453.0 594.3L454.2 589.4L455.4 593.9L456.6 589.6L457.8 593.0L459.0 588.4L460.2 593.4L461.4 589.0L462.6 593.6L463.8 588.4L465.0 592.3L466.2 587.3L467.4 592.7L468.6 587.9L469.8 592.7L471.0 588.3L472.2 591.9L473.4 588.3L474.6 592.0L475.8 587.4L477.0 592.2L478.2 586.5L479.4 593.1L480.6 587.2L481.8 592.4L483.0 586.9L484.2 591.0L485.4 586.6L486.6 591.1L487.8 586.0L489.0 590.3L490.2 587.2L491.4 591.0L492.6 586.8L493.8 591.8L495.0 586.3L496.2 591.3L497.4 587.5L498.6 592.1L499.8 587.7L501.0 592.0L502.2 587.7L503.4 593.4L504.6 588.7L505.8 594.1L507.0 589.7L508.2 594.5L509.4 590.3L510.6 595.0L511.8 591.0L513.0 594.1L514.2 590.2L515.4 595.3L516.6 591.5L517.8 594.5L519.0 590.5L520.2 595.6L521.4 591.5L522.6 595.3L523.8 590.0L525.0 595.8L526.2 591.5L527.4 596.0L528.6 591.5L529.8 596.2L531.0 591.0L532.2 596.3L533.4 591.9L534.6 596.2L535.8 591.2L537.0 596.0L538.2 592.1L539.4 596.1L540.6 592.5L541.8 596.6L543.0 591.8L544.2 597.0L545.4 592.1L546.6 597.8L547.8 592.9L549.0 596.5L550.2 592.1L551.4 596.0L552.6 592.8L553.8 597.3L555.0 592.6L556.2 596.5L557.4 593.4L558.6 597.9L559.8 592.5L561.0 597.0L562.2 592.5L563.4 597.8L564.6 593.0L565.8 597.4L567.0 592.8L568.2 596.9L569.4 592.7L570.6 596.8L571.8 593.6L573.0 597.7L574.2 593.1L575.4 597.6L576.6 592.7L577.8 596.9L579.0 592.7L580.2 597.3L581.4 592.7L582.6 597.8L583.8 593.1L585.0 596.6L586.2 591.9L587.4 597.3L588.6 591.1L589.8 596.5L591.0 592.3L592.2 596.4L593.4 591.4L594.6 596.4L595.8 591.1L597.0 595.5L598.2 591.3L599.4 595.6L600.6 591.3L601.8 596.4L603.0 592.1L604.2 595.0L605.4 592.0L606.6 596.9L607.8 592.6L609.0 596.8L610.2 592.4L611.4 597.5L612.6 592.5L613.8 596.9L615.0 593.6L616.2 598.4L617.4 593.1L618.6 599.0L619.8 593.6L621.0 599.0L622.2 593.8L623.4 599.2L624.6 594.4L625.8 599.3L627.0 595.3L628.2 600.2L629.4 594.8L630.6 600.2L631.8 594.0L633.0 597.8L634.2 593.4L635.4 598.6L636.6 592.4L637.8 596.2L639.0 591.5L640.2 596.1L641.4 591.2L642.6 595.3L643.8 590.6L645.0 595.3L646.2 589.4L647.4 593.8L648.6 588.7L649.8 593.2L651.0 588.6L652.2 592.5L653.4 586.9L654.6 592.1L655.8 587.5L657.0 591.1L658.2 587.0L659.4 590.8L660.6 584.7L661.8 589.4L663.0 584.2L664.2 588.7L665.4 583.6L666.6 588.4L667.8 584.2L669.0 587.8L670.2 584.8L671.4 589.2L672.6 585.4L673.8 589.7L675.0 584.4L676.2 590.3L677.4 586.2L678.6 591.1L679.8 586.5L681.0 590.9L682.2 586.6L683.4 591.5L684.6 587.1L685.8 592.5L687.0 588.3L688.2 593.4L689.4 588.8L690.6 593.5L691.8 589.5L693.0 594.1L694.2 589.3L695.4 595.1L696.6 590.4L697.8 595.2L699.0 591.6L700.2 596.1L701.4 591.9L702.6 597.4L703.8 592.7L705.0 597.5L706.2 592.5L707.4 595.9L708.6 590.9L709.8 596.0L711.0 592.8L712.2 595.9L713.4 591.0L714.6 595.9L715.8 591.3L717.0 595.4L718.2 590.6L719.4 594.9L720.6 589.8L721.8 594.1L723.0 588.4L724.2 593.9L725.4 589.1L726.6 593.7L727.8 589.3L729.0 592.6L730.2 587.9L731.4 593.3L732.6 587.3L733.8 592.7L735.0 587.8L736.2 592.5L737.4 587.0L738.6 592.2L739.8 586.5L741.0 591.9L742.2 587.4L743.4 592.3L744.6 588.4L745.8 594.0L747.0 588.7L748.2 594.2L749.4 589.6L750.6 595.7L751.8 591.5L753.0 595.8L754.2 591.9L755.4 596.6L756.6 593.0L757.8 598.6L759.0 593.6L760.2 599.0M788.2 599.1L789.4 605.6L790.6 599.9L791.8 605.4L793.0 600.8L794.2 606.3L795.4 601.4L796.6 606.2L797.8 601.4L799.0 607.5L800.2 601.7L801.4 608.0L802.6 603.2L803.8 607.9L805.0 601.8L806.2 606.4L807.4 602.1L808.6 607.1L809.8 601.3L811.0 606.9L812.2 601.0L813.4 606.4L814.6 601.3L815.8 605.9L817.0 601.0L818.2 605.8L819.4 599.9L820.6 605.7L821.8 600.2L823.0 604.9L824.2 599.9L825.4 605.0L826.6 600.2L827.8 604.3L829.0 599.5L830.2 605.5L831.4 600.0L832.6 605.0L833.8 600.1L835.0 605.4L836.2 601.1L837.4 605.6L838.6 601.4L839.8 606.1L841.0 599.7L842.2 605.1L843.4 600.3L844.6 605.9L845.8 601.1L847.0 604.6L848.2 601.0L849.4 604.6L850.6 600.4L851.8 603.5L853.0 599.3L854.2 603.8L855.4 598.0L856.6 602.6L857.8 597.5L859.0 601.6L860.2 597.0L861.4 600.1L862.6 596.2L863.8 599.9L865.0 594.0L866.2 599.0L867.4 592.4L868.6 596.8L869.8 592.8L871.0 596.5L872.2 590.7L873.4 595.7L874.6 589.8L875.8 594.5L877.0 590.2L878.2 595.2L879.4 590.6L880.6 594.6L881.8 590.4L883.0 595.6L884.2 591.3L885.4 595.6L886.6 591.4L887.8 596.1L889.0 590.7L890.2 595.8L891.4 592.5L892.6 596.0L893.8 592.0L895.0 595.7L896.2 593.4L897.4 596.2L898.6 592.4L899.8 596.9L901.0 591.2L902.2 596.4L903.4 592.3L904.6 596.0L905.8 592.1L907.0 596.0L908.2 592.0L909.4 597.0L910.6 590.7L911.8 595.9L913.0 590.7L914.2 595.1L915.4 590.9L916.6 595.5L917.8 590.9L919.0 595.4L920.2 589.7L921.4 595.3L922.6 590.1L923.8 596.0L925.0 591.9L926.2 596.4L927.4 591.6L928.6 596.8L929.8 592.5L931.0 597.2L932.2 592.2L933.4 597.1L934.6 593.5L935.8 597.6L937.0 593.3L938.2 598.0L939.4 593.8L940.6 598.6L941.8 593.7L943.0 598.5L944.2 594.1L945.4 599.0L946.6 594.9L947.8 598.9L949.0 596.0L950.2 599.6L951.4 595.9L952.6 600.2L953.8 596.2L955.0 601.3L956.2 597.3L957.4 602.0L958.6 598.0L959.8 602.1L961.0 598.3L962.2 601.3L963.4 597.5L964.6 602.0L965.8 597.0L967.0 601.7L968.2 596.6L969.4 601.7L970.6 596.6L971.8 601.7L973.0 596.8L974.2 601.3L975.4 596.5L976.6 600.5L977.8 596.6L979.0 601.2L980.2 595.9L981.4 600.1L982.6 595.6L983.8 601.0L985.0 595.0L986.2 600.5L987.4 595.4L988.6 600.5L989.8 594.7L991.0 600.2L992.2 594.8L993.4 600.0L994.6 595.9L995.8 599.5L997.0 595.8L998.2 599.5L999.4 595.1L1000.6 600.4L1001.8 595.1L1003.0 599.4L1004.2 593.3L1005.4 598.6L1006.6 594.6L1007.8 599.0L1009.0 594.6L1010.2 600.1L1011.4 594.9L1012.6 599.9L1013.8 596.5L1015.0 602.0L1016.2 596.4L1017.4 601.7L1018.6 597.5L1019.8 601.5L1021.0 596.8L1022.2 602.1L1023.4 596.8L1024.6 601.6L1025.8 598.3L1027.0 601.1L1028.2 598.4L1029.4 602.7L1030.6 597.2L1031.8 602.7L1033.0 597.6L1034.2 601.7L1035.4 597.3L1036.6 601.8L1037.8 598.4L1039.0 601.7L1040.2 597.0L1041.4 602.2L1042.6 597.7L1043.8 603.9L1045.0 598.2L1046.2 602.9L1047.4 598.5L1048.6 603.3L1049.8 598.3L1051.0 604.2L1052.2 599.4L1053.4 604.4L1054.6 600.8L1055.8 605.5L1057.0 601.0L1058.2 603.0L1058.8 603.0L1059.4 603.2L1060.0 611.3L1060.6 628.0L1061.2 646.6L1061.8 661.6L1062.4 671.0L1063.0 675.9L1063.6 677.9L1064.2 678.6L1064.8 678.8L1065.4 678.8L1066.0 678.8L1066.6 678.8L1067.2 678.8L1067.8 678.8L1068.4 678.8L1069.0 678.8L1069.6 678.8L1070.2 678.8L1070.8 678.8L1071.4 678.8L1072.0 678.9L1072.6 678.9L1073.2 678.9L1073.8 678.9L1074.4 678.9L1075.0 678.9L1075.6 678.9L1076.2 678.9L1076.8 678.9L1077.4 678.9L1078.0 678.9L1078.6 678.9L1079.2 678.9L1079.8 678.9L1080.4 678.9L1081.0 678.9L1081.6 678.9L1097.7 678.9" stroke="#0020bf" stroke-width="1.3"/>
<path d="M760.6 596.5V678.9M788.2 602.5V678.9" stroke="#0020bf" stroke-width="0.6" stroke-dasharray="0.8 2.5" opacity="0.6"/>
<path d="M202.2 510.7L203.4 519.5L204.6 512.2L205.8 520.8L207.0 513.9L208.2 522.1L209.4 515.3L210.6 522.5L211.8 515.9L213.0 523.5L214.2 515.6L215.4 523.7L216.6 515.5L217.8 523.3L219.0 516.2L220.2 523.3L221.4 517.7L222.6 522.9L223.8 515.0L225.0 524.1L226.2 515.4L227.4 523.2L228.6 515.1L229.8 523.3L231.0 515.3L232.2 523.8L233.4 515.3L234.6 523.4L235.8 516.0L237.0 523.7L238.2 515.6L239.4 523.2L240.6 515.2L241.8 523.1L243.0 516.4L244.2 523.7L245.4 516.0L246.6 524.2L247.8 516.5L249.0 524.7L250.2 516.7L251.4 524.1L252.6 515.5L253.8 523.7L255.0 515.2L256.2 522.7L257.4 514.1L258.6 522.1L259.8 514.2L261.0 521.1L262.2 513.3L263.4 520.4L264.6 512.0L265.8 520.1L267.0 511.1L268.2 518.8L269.4 509.7L270.6 518.2L271.8 509.6L273.0 517.5L274.2 509.5L275.4 517.6L276.6 509.3L277.8 516.9L279.0 509.6L280.2 517.4L281.4 509.2L282.6 517.5L283.8 509.9L285.0 516.7L286.2 509.5L287.4 517.2L288.6 508.4L289.8 516.3L291.0 508.4L292.2 518.5L293.4 510.3L294.6 518.7L295.8 511.9L297.0 520.7L298.2 512.9L299.4 521.4L300.6 512.8L301.8 521.3L303.0 510.6L304.2 518.0L305.4 509.5L306.6 517.6L307.8 508.9L309.0 517.3L310.2 508.1L311.4 517.1L312.6 508.9L313.8 517.2L315.0 511.5L316.2 521.5L317.4 516.2L318.6 525.3L319.8 519.7L321.0 528.6L322.2 522.4L323.4 530.2L324.6 522.4L325.8 533.0L327.0 524.4L328.2 533.6L329.4 526.1L330.6 533.5L331.8 528.7L333.0 536.7L334.2 530.3L335.4 538.3L336.6 531.9L337.8 541.0L339.0 533.6L340.2 541.8L341.4 534.6L342.6 543.5L343.8 535.9L345.0 545.2L346.2 538.4L347.4 545.2L348.6 537.6L349.8 547.0L351.0 538.3L352.2 547.1L353.4 538.7L354.6 546.6L355.8 538.6L357.0 547.2L358.2 539.3L359.4 546.5L360.6 537.8L361.8 546.0L363.0 538.8L364.2 546.2L365.4 539.2L366.6 547.4L367.8 540.3L369.0 548.7L370.2 541.3L371.4 549.8L372.6 542.5L373.8 550.3L375.0 543.6L376.2 552.0L377.4 544.6L378.6 551.6L379.8 543.3L381.0 552.3L382.2 543.8L383.4 551.5L384.6 543.8L385.8 550.4L387.0 543.1L388.2 550.8L389.4 542.6L390.6 551.4L391.8 543.9L393.0 552.1L394.2 544.2L395.4 552.3L396.6 544.4L397.8 553.5L399.0 544.6L400.2 553.7L401.4 545.9L402.6 554.0L403.8 546.9L405.0 554.7L406.2 545.7L407.4 552.9L408.6 544.8L409.8 552.6L411.0 544.6L412.2 552.0L413.4 543.9L414.6 551.4L415.8 542.8L417.0 549.7L418.2 541.9L419.4 549.2L420.6 541.6L421.8 548.0L423.0 538.8L424.2 546.8L425.4 539.5L426.6 546.6L427.8 539.1L429.0 546.3L430.2 538.3L431.4 546.1L432.6 537.5L433.8 545.1L435.0 537.3L436.2 545.6L437.4 537.3L438.6 544.1L439.8 537.3L441.0 544.6L442.2 536.9L443.4 544.2L444.6 536.0L445.8 542.4L447.0 535.3L448.2 541.7L449.4 534.2L450.6 542.6L451.8 533.6L453.0 541.1L454.2 532.4L455.4 540.2L456.6 531.2L457.8 539.1L459.0 531.2L460.2 538.3L461.4 529.6L462.6 536.4L463.8 529.0L465.0 536.3L466.2 528.2L467.4 536.1L468.6 526.8L469.8 535.4L471.0 526.2L472.2 535.5L473.4 526.7L474.6 533.9L475.8 525.1L477.0 533.1L478.2 525.1L479.4 532.2L480.6 524.2L481.8 532.5L483.0 524.0L484.2 532.4L485.4 524.0L486.6 530.9L487.8 523.2L489.0 530.5L490.2 521.7L491.4 530.2L492.6 521.4L493.8 530.1L495.0 521.8L496.2 528.0L497.4 521.9L498.6 529.5L499.8 523.5L501.0 530.8L502.2 523.6L503.4 532.0L504.6 523.8L505.8 532.6L507.0 525.8L508.2 533.1L509.4 526.3L510.6 534.1L511.8 528.0L513.0 536.1L514.2 527.7L515.4 535.8L516.6 528.8L517.8 536.7L519.0 529.3L520.2 537.3L521.4 531.1L522.6 539.2L523.8 530.0L525.0 536.1L526.2 527.8L527.4 536.0L528.6 526.8L529.8 534.5L531.0 526.8L532.2 534.1L533.4 526.9L534.6 533.1L535.8 525.8L537.0 532.7L538.2 525.3L539.4 531.9L540.6 524.5L541.8 532.9L543.0 523.9L544.2 531.9L545.4 523.5L546.6 531.4L547.8 523.1L549.0 531.1L550.2 522.2L551.4 530.2L552.6 522.6L553.8 529.5L555.0 522.2L556.2 530.0L557.4 522.0L558.6 528.7L559.8 523.0L561.0 529.4L562.2 522.3L563.4 530.5L564.6 523.4L565.8 530.5L567.0 522.4L568.2 531.1L569.4 523.9L570.6 530.5L571.8 523.6L573.0 531.2L574.2 523.6L575.4 531.3L576.6 524.0L577.8 532.0L579.0 524.9L580.2 530.3L581.4 524.0L582.6 530.8L583.8 522.2L585.0 529.5L586.2 522.9L587.4 528.9L588.6 522.7L589.8 528.6L591.0 521.4L592.2 528.3L593.4 520.0L594.6 528.0L595.8 521.2L597.0 527.9L598.2 519.9L599.4 527.8L600.6 520.2L601.8 527.2L603.0 520.3L604.2 528.2L605.4 520.5L606.6 527.7L607.8 521.7L609.0 529.7L610.2 521.5L611.4 531.7L612.6 521.7L613.8 530.3L615.0 523.0L616.2 530.6L617.4 523.4L618.6 532.3L619.8 523.5L621.0 531.1L622.2 524.2L623.4 532.1L624.6 524.8L625.8 532.8L627.0 525.6L628.2 534.9L629.4 525.7L630.6 533.7L631.8 523.9L633.0 530.6L634.2 521.3L635.4 529.3L636.6 520.8L637.8 528.8L639.0 517.9L640.2 525.4L641.4 516.9L642.6 523.9L643.8 515.3L645.0 522.0L646.2 513.9L647.4 520.6L648.6 512.1L649.8 519.9L651.0 511.9L652.2 518.1L653.4 509.1L654.6 516.9L655.8 508.7L657.0 515.8L658.2 508.0L659.4 514.0L660.6 505.9L661.8 512.9L663.0 505.6L664.2 512.1L665.4 503.3L666.6 510.2L667.8 503.6L669.0 510.7L670.2 504.7L671.4 512.9L672.6 505.3L673.8 513.3L675.0 505.9L676.2 514.6L677.4 506.7L678.6 515.6L679.8 507.0L681.0 516.7L682.2 508.6L683.4 517.6L684.6 509.8L685.8 517.6L687.0 510.4L688.2 518.4L689.4 511.8L690.6 519.0L691.8 511.8L693.0 521.4L694.2 513.9L695.4 521.6L696.6 515.2L697.8 522.7L699.0 516.1L700.2 523.8L701.4 517.6L702.6 525.6L703.8 518.6L705.0 525.8L706.2 518.6L707.4 525.7L708.6 518.0L709.8 525.6L711.0 516.5L712.2 524.4L713.4 516.4L714.6 524.0L715.8 515.5L717.0 523.0L718.2 515.3L719.4 521.2L720.6 514.3L721.8 520.4L723.0 512.8L724.2 520.0L725.4 512.5L726.6 519.8L727.8 512.5L729.0 518.7L730.2 511.9L731.4 519.3L732.6 511.6L733.8 518.3L735.0 511.2L736.2 518.2L737.4 510.4L738.6 517.7L739.8 509.9L741.0 517.9L742.2 509.9L743.4 517.7L744.6 511.7L745.8 520.6L747.0 512.8L748.2 521.5L749.4 514.0L750.6 523.6L751.8 515.8L753.0 525.3L754.2 518.4L755.4 527.4L756.6 520.1L757.8 528.6L759.0 521.0L760.2 530.5M788.2 533.0L789.4 541.9L790.6 536.1L791.8 543.3L793.0 535.9L794.2 544.5L795.4 538.1L796.6 546.6L797.8 539.2L799.0 547.0L800.2 539.9L801.4 548.5L802.6 540.0L803.8 548.1L805.0 539.1L806.2 548.0L807.4 539.5L808.6 547.0L809.8 538.7L811.0 545.5L812.2 539.3L813.4 545.9L814.6 538.2L815.8 545.8L817.0 538.3L818.2 545.4L819.4 538.4L820.6 545.4L821.8 536.8L823.0 544.4L824.2 537.9L825.4 543.8L826.6 536.0L827.8 543.3L829.0 536.5L830.2 544.5L831.4 537.7L832.6 544.7L833.8 537.1L835.0 546.8L836.2 537.1L837.4 546.6L838.6 538.2L839.8 547.5L841.0 539.4L842.2 548.3L843.4 540.2L844.6 547.7L845.8 538.4L847.0 546.1L848.2 537.8L849.4 544.9L850.6 536.9L851.8 543.9L853.0 536.4L854.2 541.4L855.4 533.8L856.6 540.7L857.8 532.5L859.0 540.1L860.2 531.9L861.4 538.8L862.6 528.9L863.8 536.0L865.0 527.3L866.2 534.8L867.4 525.5L868.6 533.2L869.8 523.9L871.0 531.5L872.2 523.1L873.4 530.7L874.6 521.7L875.8 529.6L877.0 522.5L878.2 529.9L879.4 523.4L880.6 530.8L881.8 523.6L883.0 531.2L884.2 523.9L885.4 531.7L886.6 524.1L887.8 532.5L889.0 525.3L890.2 532.3L891.4 525.5L892.6 534.1L893.8 525.8L895.0 534.6L896.2 526.9L897.4 534.1L898.6 526.8L899.8 535.5L901.0 527.4L902.2 534.7L903.4 526.5L904.6 532.9L905.8 526.0L907.0 532.8L908.2 525.6L909.4 533.2L910.6 525.2L911.8 533.1L913.0 524.9L914.2 531.8L915.4 524.2L916.6 532.5L917.8 525.1L919.0 531.1L920.2 524.6L921.4 533.2L922.6 525.5L923.8 533.4L925.0 526.8L926.2 535.3L927.4 527.1L928.6 534.9L929.8 527.2L931.0 536.6L932.2 529.5L933.4 537.0L934.6 529.8L935.8 537.9L937.0 531.7L938.2 538.4L939.4 532.0L940.6 539.5L941.8 532.8L943.0 541.0L944.2 534.0L945.4 541.5L946.6 534.1L947.8 542.7L949.0 535.4L950.2 544.9L951.4 537.3L952.6 544.9L953.8 538.8L955.0 546.9L956.2 539.2L957.4 548.4L958.6 541.4L959.8 548.9L961.0 540.9L962.2 548.0L963.4 539.9L964.6 549.0L965.8 539.2L967.0 547.6L968.2 539.5L969.4 546.7L970.6 537.5L971.8 546.6L973.0 537.6L974.2 546.5L975.4 537.1L976.6 544.2L977.8 537.4L979.0 544.3L980.2 536.8L981.4 544.8L982.6 536.0L983.8 543.6L985.0 536.4L986.2 544.6L987.4 536.2L988.6 543.8L989.8 536.8L991.0 544.4L992.2 536.0L993.4 544.8L994.6 535.7L995.8 543.8L997.0 535.3L998.2 543.8L999.4 536.2L1000.6 543.3L1001.8 534.8L1003.0 543.4L1004.2 535.3L1005.4 543.3L1006.6 534.9L1007.8 544.2L1009.0 536.6L1010.2 546.0L1011.4 538.5L1012.6 547.0L1013.8 540.1L1015.0 548.9L1016.2 542.3L1017.4 550.0L1018.6 542.7L1019.8 550.1L1021.0 542.8L1022.2 549.9L1023.4 542.8L1024.6 551.6L1025.8 543.1L1027.0 550.8L1028.2 543.0L1029.4 550.6L1030.6 543.7L1031.8 551.0L1033.0 543.1L1034.2 552.3L1035.4 544.2L1036.6 551.7L1037.8 543.5L1039.0 552.4L1040.2 544.9L1041.4 551.9L1042.6 544.8L1043.8 553.1L1045.0 546.2L1046.2 554.1L1047.4 546.6L1048.6 554.5L1049.8 547.0L1051.0 555.7L1052.2 548.3L1053.4 557.0L1054.6 550.5L1055.8 560.4L1057.0 554.1L1058.2 559.5L1058.8 559.5L1059.4 559.8L1060.0 572.6L1060.6 598.8L1061.2 628.1L1061.8 651.7L1062.4 666.6L1063.0 674.2L1063.6 677.3L1064.2 678.4L1064.8 678.8L1065.4 678.8L1066.0 678.8L1066.6 678.8L1067.2 678.8L1067.8 678.8L1068.4 678.8L1069.0 678.8L1069.6 678.8L1070.2 678.8L1070.8 678.8L1071.4 678.8L1072.0 678.9L1072.6 678.9L1073.2 678.9L1073.8 678.9L1074.4 678.9L1075.0 678.9L1075.6 678.9L1076.2 678.9L1076.8 678.9L1077.4 678.9L1078.0 678.9L1078.6 678.9L1079.2 678.9L1079.8 678.9L1080.4 678.9L1081.0 678.9L1081.6 678.9L1097.7 678.9" stroke="#0000ff" stroke-width="1.3"/>
<path d="M760.6 525.3V678.9M788.2 538.5V678.9" stroke="#0000ff" stroke-width="0.6" stroke-dasharray="0.8 2.5" opacity="0.6"/>
<path d="M202.2 677.6L203.1 681.1L204.0 677.9L204.9 681.2L205.8 676.9L206.7 681.2L207.6 677.1L208.5 680.9L209.4 677.5L210.3 681.0L211.2 677.2L212.1 681.0L213.0 676.9L213.9 681.2L214.8 677.2L215.7 681.5L216.6 677.3L217.5 680.7L218.4 677.4L219.3 680.9L220.2 677.5L221.1 680.6L222.0 677.3L222.9 680.7L223.8 677.9L224.7 680.5L225.6 677.6L226.5 680.6L227.4 677.4L228.3 680.8L229.2 677.6L230.1 680.3L231.0 677.7L231.9 680.7L232.8 677.6L233.7 681.5L234.6 677.5L235.5 680.1L236.4 678.0L237.3 680.4L238.2 677.3L239.1 680.5L240.0 677.7L240.9 680.1L241.8 677.3L242.7 680.4L243.6 677.7L244.5 680.8L245.4 677.5L246.3 680.7L247.2 677.2L248.1 680.3L249.0 677.8L249.9 680.5L250.8 677.5L251.7 680.5L252.6 677.0L253.5 680.2L254.4 677.6L255.3 681.4L256.2 677.5L257.1 681.3L258.0 677.4L258.9 680.7L259.8 677.7L260.7 680.3L261.6 677.5L262.5 680.5L263.4 677.7L264.3 680.0L265.2 677.9L266.1 681.0L267.0 677.6L267.9 680.8L268.8 677.4L269.7 680.6L270.6 677.6L271.5 680.2L272.4 677.2L273.3 680.5L274.2 678.3L275.1 680.6L276.0 678.2L276.9 680.5L277.8 676.3L278.7 680.6L279.6 677.5L280.5 681.4L281.4 677.2L282.3 680.9L283.2 677.2L284.1 680.8L285.0 677.7L285.9 680.4L286.8 677.8L287.7 680.9L288.6 677.2L289.5 681.1L290.4 677.3L291.3 680.9L292.2 677.3L293.1 680.4L294.0 678.0L294.9 681.4L295.8 677.9L296.7 681.0L297.6 677.4L298.5 681.5L299.4 677.6L300.3 680.9L301.2 677.3L302.1 680.3L303.0 677.7L303.9 681.0L304.8 677.2L305.7 680.6L306.6 677.5L307.5 680.8L308.4 677.1L309.3 680.2L310.2 677.3L311.1 680.8L312.0 677.8L312.9 680.6L313.8 678.1L314.7 680.3L315.6 677.3L316.5 680.7L317.4 677.6L318.3 680.8L319.2 677.2L320.1 680.4L321.0 677.0L321.9 681.0L322.8 677.2L323.7 680.7L324.6 677.9L325.5 680.7L326.4 677.0L327.3 680.6L328.2 677.6L329.1 681.3L330.0 677.7L330.9 680.5L331.8 678.7L332.7 681.1L333.6 677.7L334.5 680.4L335.4 677.1L336.3 680.7L337.2 677.6L338.1 680.5L339.0 677.7L339.9 680.7L340.8 676.9L341.7 681.3L342.6 676.9L343.5 681.1L344.4 677.3L345.3 679.9L346.2 677.2L347.1 681.1L348.0 677.0L348.9 680.5L349.8 678.0L350.7 680.3L351.6 677.7L352.5 680.2L353.4 677.5L354.3 680.6L355.2 677.5L356.1 680.4L357.0 678.0L357.9 680.1L358.8 678.0L359.7 680.7L360.6 677.2L361.5 680.9L362.4 677.7L363.3 680.7L364.2 677.4L365.1 681.4L366.0 677.6L366.9 680.4L367.8 678.2L368.7 681.0L369.6 677.5L370.5 680.3L371.4 677.9L372.3 680.6L373.2 677.4L374.1 680.6L375.0 677.0L375.9 681.5L376.8 677.7L377.7 681.1L378.6 677.3L379.5 681.2L380.4 676.5L381.3 680.5L382.2 676.5L383.1 680.8L384.0 677.8L384.9 680.9L385.8 677.0L386.7 680.7L387.6 677.4L388.5 680.8L389.4 677.9L390.3 680.5L391.2 677.8L392.1 681.0L393.0 677.8L393.9 680.4L394.8 677.3L395.7 680.6L396.6 677.1L397.5 680.4L398.4 677.2L399.3 680.8L400.2 677.3L401.1 681.0L402.0 677.3L402.9 681.4L403.8 677.5L404.7 680.7L405.6 677.1L406.5 681.0L407.4 677.9L408.3 680.6L409.2 677.8L410.1 681.3L411.0 677.2L411.9 681.0L412.8 677.5L413.7 680.7L414.6 677.2L415.5 680.7L416.4 677.5L417.3 681.0L418.2 677.3L419.1 680.6L420.0 678.3L420.9 680.8L421.8 677.8L422.7 680.9L423.6 677.1L424.5 680.8L425.4 677.6L426.3 680.2L427.2 678.2L428.1 680.5L429.0 677.3L429.9 680.8L430.8 677.8L431.7 681.0L432.6 677.6L433.5 681.3L434.4 677.7L435.3 680.8L436.2 677.7L437.1 680.6L438.0 677.5L438.9 680.9L439.8 677.3L440.7 680.5L441.6 677.6L442.5 680.7L443.4 677.5L444.3 680.5L445.2 678.1L446.1 680.7L447.0 677.8L447.9 680.9L448.8 677.2L449.7 680.8L450.6 677.7L451.5 681.1L452.4 677.0L453.3 680.3L454.2 677.9L455.1 680.4L456.0 677.2L456.9 681.0L457.8 677.5L458.7 681.1L459.6 676.8L460.5 681.1L461.4 677.8L462.3 680.6L463.2 677.3L464.1 681.1L465.0 677.1L465.9 681.5L466.8 677.8L467.7 680.3L468.6 677.5L469.5 680.8L470.4 677.9L471.3 680.5L472.2 677.7L473.1 680.7L474.0 677.4L474.9 680.6L475.8 677.8L476.7 680.7L477.6 677.7L478.5 680.9L479.4 677.6L480.3 681.3L481.2 677.9L482.1 681.0L483.0 677.2L483.9 681.2L484.8 677.6L485.7 680.8L486.6 677.3L487.5 680.6L488.4 678.1L489.3 681.0L490.2 677.6L491.1 680.8L492.0 677.4L492.9 681.0L493.8 677.4L494.7 680.5L495.6 678.0L496.5 680.7L497.4 677.9L498.3 680.5L499.2 677.4L500.1 681.0L501.0 677.6L501.9 680.8L502.8 677.6L503.7 680.1L504.6 677.7L505.5 680.8L506.4 677.0L507.3 681.0L508.2 677.9L509.1 681.4L510.0 677.5L510.9 681.0L511.8 676.9L512.7 681.6L513.6 677.5L514.5 680.9L515.4 677.5L516.3 680.4L517.2 677.0L518.1 680.9L519.0 677.1L519.9 681.0L520.8 677.3L521.7 680.9L522.6 677.5L523.5 680.6L524.4 677.3L525.3 681.0L526.2 677.8L527.1 681.2L528.0 677.1L528.9 680.6L529.8 677.5L530.7 681.2L531.6 677.5L532.5 680.1L533.4 677.4L534.3 680.0L535.2 678.0L536.1 680.7L537.0 677.8L537.9 679.8L538.8 677.4L539.7 680.3L540.6 677.5L541.5 681.1L542.4 677.2L543.3 681.2L544.2 677.5L545.1 681.0L546.0 677.4L546.9 680.8L547.8 677.9L548.7 679.8L549.6 677.8L550.5 680.9L551.4 677.8L552.3 680.9L553.2 677.3L554.1 680.6L555.0 677.1L555.9 680.9L556.8 677.7L557.7 680.4L558.6 677.1L559.5 680.6L560.4 677.4L561.3 680.7L562.2 677.9L563.1 680.4L564.0 677.5L564.9 680.7L565.8 677.7L566.7 680.2L567.6 677.7L568.5 680.6L569.4 676.9L570.3 681.1L571.2 677.2L572.1 680.4L573.0 677.3L573.9 680.8L574.8 677.5L575.7 681.2L576.6 677.7L577.5 680.4L578.4 677.5L579.3 680.0L580.2 677.1L581.1 680.7L582.0 677.6L582.9 680.9L583.8 677.2L584.7 680.6L585.6 677.4L586.5 680.9L587.4 677.7L588.3 680.6L589.2 677.9L590.1 680.3L591.0 677.6L591.9 680.6L592.8 677.4L593.7 681.7L594.6 677.4L595.5 681.2L596.4 677.5L597.3 680.5L598.2 677.9L599.1 680.3L600.0 677.4L600.9 680.7L601.8 677.1L602.7 681.3L603.6 677.4L604.5 680.9L605.4 677.2L606.3 680.7L607.2 677.5L608.1 681.1L609.0 677.4L609.9 680.4L610.8 677.8L611.7 680.6L612.6 677.1L613.5 680.7L614.4 677.6L615.3 681.1L616.2 677.8L617.1 681.0L618.0 678.0L618.9 680.4L619.8 677.7L620.7 680.6L621.6 677.2L622.5 680.7L623.4 677.0L624.3 680.6L625.2 677.0L626.1 680.8L627.0 677.6L627.9 680.1L628.8 677.6L629.7 680.6L630.6 677.8L631.5 681.1L632.4 677.3L633.3 680.6L634.2 677.3L635.1 681.2L636.0 677.9L636.9 681.3L637.8 677.4L638.7 681.0L639.6 677.6L640.5 681.0L641.4 677.4L642.3 680.5L643.2 678.1L644.1 680.3L645.0 677.8L645.9 681.6L646.8 677.2L647.7 680.7L648.6 677.7L649.5 680.1L650.4 677.7L651.3 680.3L652.2 676.9L653.1 680.8L654.0 677.2L654.9 681.0L655.8 677.8L656.7 681.0L657.6 677.2L658.5 680.5L659.4 677.6L660.3 680.1L661.2 677.7L662.1 681.0L663.0 678.0L663.9 680.7L664.8 677.2L665.7 681.1L666.6 677.1L667.5 680.9L668.4 677.5L669.3 680.0L670.2 677.5L671.1 680.8L672.0 677.7L672.9 680.9L673.8 676.9L674.7 680.9L675.6 677.3L676.5 680.6L677.4 677.8L678.3 680.3L679.2 677.9L680.1 680.9L681.0 676.9L681.9 680.5L682.8 677.2L683.7 680.5L684.6 677.6L685.5 681.1L686.4 678.1L687.3 680.7L688.2 677.8L689.1 680.5L690.0 677.5L690.9 680.7L691.8 677.9L692.7 680.2L693.6 677.4L694.5 680.3L695.4 677.7L696.3 680.8L697.2 677.7L698.1 680.0L699.0 677.3L699.9 680.6L700.8 677.6L701.7 680.4L702.6 677.7L703.5 680.9L704.4 677.5L705.3 679.8L706.2 677.0L707.1 681.1L708.0 677.5L708.9 680.3L709.8 677.0L710.7 680.6L711.6 677.6L712.5 680.1L713.4 677.4L714.3 681.0L715.2 677.9L716.1 680.6L717.0 677.0L717.9 680.8L718.8 677.1L719.7 681.1L720.6 677.7L721.5 680.0L722.4 677.4L723.3 680.5L724.2 676.8L725.1 681.2L726.0 677.4L726.9 680.6L727.8 677.7L728.7 680.6L729.6 677.2L730.5 680.9L731.4 677.3L732.3 681.1L733.2 677.1L734.1 680.4L735.0 678.0L735.9 680.7L736.8 677.3L737.7 681.2L738.6 677.5L739.5 680.2L740.4 677.3L741.3 680.8L742.2 677.7L743.1 680.2L744.0 677.5L744.9 680.4L745.8 677.5L746.7 680.5L747.6 677.6L748.5 680.6L749.4 677.8L750.3 680.5L751.2 677.7L752.1 680.3L753.0 677.0L753.9 680.8L754.8 677.2L755.7 680.6L756.6 677.2L757.5 681.1L758.4 677.6L759.3 680.9L760.2 677.1L761.1 680.6L762.0 677.3L762.9 680.7L763.8 677.7L764.7 680.7L765.6 677.2L766.5 681.4L767.4 677.9L768.3 680.4L769.2 677.2L770.1 680.8L771.0 677.5L771.9 680.8L772.8 677.4L773.7 680.3L774.6 677.4L775.5 680.6L776.4 677.5L777.3 680.6L778.2 676.6L779.1 680.5L780.0 678.0L780.9 680.5L781.8 678.2L782.7 680.6L783.6 677.0L784.5 680.5L785.4 677.7L786.3 680.8L787.2 677.8L788.1 680.8L789.0 677.8L789.9 680.6L790.8 677.0L791.7 681.1L792.6 677.9L793.5 680.8L794.4 677.0L795.3 680.7L796.2 677.9L797.1 680.6L798.0 677.4L798.9 680.3L799.8 677.8L800.7 681.1L801.6 677.3L802.5 681.1L803.4 677.6L804.3 681.5L805.2 677.5L806.1 680.1L807.0 677.2L807.9 681.1L808.8 677.3L809.7 680.0L810.6 678.1L811.5 680.5L812.4 677.1L813.3 681.0L814.2 677.0L815.1 681.1L816.0 678.4L816.9 680.8L817.8 677.4L818.7 680.4L819.6 677.3L820.5 681.7L821.4 677.6L822.3 680.8L823.2 677.4L824.1 680.4L825.0 677.8L825.9 680.6L826.8 677.7L827.7 680.4L828.6 677.4L829.5 680.5L830.4 676.9L831.3 680.6L832.2 677.8L833.1 680.3L834.0 677.4L834.9 680.4L835.8 678.0L836.7 680.7L837.6 676.7L838.5 680.9L839.4 678.1L840.3 681.1L841.2 678.1L842.1 681.0L843.0 677.8L843.9 680.7L844.8 677.5L845.7 680.9L846.6 678.1L847.5 681.3L848.4 677.5L849.3 680.5L850.2 678.1L851.1 680.9L852.0 677.3L852.9 681.0L853.8 677.6L854.7 680.4L855.6 677.3L856.5 680.3L857.4 678.0L858.3 680.8L859.2 677.8L860.1 680.8L861.0 677.5L861.9 680.8L862.8 677.5L863.7 680.2L864.6 677.5L865.5 680.7L866.4 677.3L867.3 680.7L868.2 677.4L869.1 680.8L870.0 677.5L870.9 681.1L871.8 678.0L872.7 681.1L873.6 677.5L874.5 680.4L875.4 677.6L876.3 680.6L877.2 677.3L878.1 680.8L879.0 677.7L879.9 680.7L880.8 678.2L881.7 680.8L882.6 677.5L883.5 681.0L884.4 677.8L885.3 680.6L886.2 677.8L887.1 680.5L888.0 677.1L888.9 680.6L889.8 677.9L890.7 680.5L891.6 676.9L892.5 680.4L893.4 677.7L894.3 681.0L895.2 677.6L896.1 680.8L897.0 677.8L897.9 681.2L898.8 677.8L899.7 680.4L900.6 678.1L901.5 681.1L902.4 677.2L903.3 680.2L904.2 677.3L905.1 681.4L906.0 677.8L906.9 680.0L907.8 677.5L908.7 680.9L909.6 677.4L910.5 681.0L911.4 676.9L912.3 680.8L913.2 677.6L914.1 680.9L915.0 677.3L915.9 681.1L916.8 677.1L917.7 680.9L918.6 677.4L919.5 680.9L920.4 678.2L921.3 680.5L922.2 677.3L923.1 680.7L924.0 677.1L924.9 680.6L925.8 677.9L926.7 680.5L927.6 677.7L928.5 680.9L929.4 676.5L930.3 680.1L931.2 677.6L932.1 681.1L933.0 677.5L933.9 680.7L934.8 677.2L935.7 680.8L936.6 677.4L937.5 681.1L938.4 678.0L939.3 680.9L940.2 676.7L941.1 680.8L942.0 677.9L942.9 680.7L943.8 678.1L944.7 680.5L945.6 677.0L946.5 681.1L947.4 677.3L948.3 680.4L949.2 677.5L950.1 680.4L951.0 677.4L951.9 680.5L952.8 677.4L953.7 681.1L954.6 677.2L955.5 680.9L956.4 677.8L957.3 680.6L958.2 677.1L959.1 681.0L960.0 677.9L960.9 680.6L961.8 677.4L962.7 680.6L963.6 677.6L964.5 680.8L965.4 677.5L966.3 681.0L967.2 677.7L968.1 680.7L969.0 678.0L969.9 681.1L970.8 678.2L971.7 680.6L972.6 678.1L973.5 680.7L974.4 677.4L975.3 680.8L976.2 676.9L977.1 681.0L978.0 677.8L978.9 680.5L979.8 677.5L980.7 681.2L981.6 677.5L982.5 680.7L983.4 677.8L984.3 680.7L985.2 677.2L986.1 680.6L987.0 677.0L987.9 680.5L988.8 677.5L989.7 680.6L990.6 677.4L991.5 680.1L992.4 677.6L993.3 681.0L994.2 677.4L995.1 680.4L996.0 677.9L996.9 680.4L997.8 677.8L998.7 680.4L999.6 677.2L1000.5 680.5L1001.4 677.9L1002.3 681.2L1003.2 677.0L1004.1 681.0L1005.0 677.9L1005.9 680.1L1006.8 677.4L1007.7 680.5L1008.6 678.1L1009.5 680.4L1010.4 676.8L1011.3 680.3L1012.2 677.8L1013.1 680.4L1014.0 677.9L1014.9 680.9L1015.8 677.9L1016.7 680.5L1017.6 677.7L1018.5 680.5L1019.4 677.5L1020.3 680.6L1021.2 677.7L1022.1 680.6L1023.0 678.2L1023.9 680.3L1024.8 677.5L1025.7 680.9L1026.6 677.4L1027.5 681.5L1028.4 677.6L1029.3 681.1L1030.2 677.8L1031.1 680.8L1032.0 677.2L1032.9 680.3L1033.8 677.2L1034.7 680.7L1035.6 677.5L1036.5 681.2L1037.4 677.0L1038.3 680.3L1039.2 677.8L1040.1 681.2L1041.0 677.6L1041.9 680.7L1042.8 678.2L1043.7 680.7L1044.6 677.5L1045.5 681.1L1046.4 678.0L1047.3 680.5L1048.2 678.0L1049.1 680.6L1050.0 677.8L1050.9 680.9L1051.8 677.0L1052.7 680.9L1053.6 677.4L1054.5 680.6L1055.4 677.3L1056.3 680.7L1057.2 677.2L1058.1 680.5L1059.0 677.3L1059.9 681.1" stroke="#0000ff" stroke-width="1.0"/>
<path d="M202.2 679.1H1060" stroke="#0000ff" stroke-width="2.6"/>
<path d="M1060 678.9H1097.7" stroke="#0000ff" stroke-width="1.6"/>
<path d="M1060.0 677.3L1060.8 681.2L1061.6 678.5L1062.4 682.2L1063.2 678.1L1064.0 682.2L1064.8 678.6L1065.6 683.5L1066.4 678.9L1067.2 682.9L1068.0 679.1L1068.8 683.9L1069.6 680.2L1070.4 684.1L1071.2 680.4L1072.0 683.8L1072.8 680.6L1073.6 683.9L1074.4 681.0L1075.2 684.1L1076.0 680.3L1076.8 685.1L1077.6 681.4L1078.4 685.8L1079.2 681.4L1080.0 686.6L1080.8 681.4L1081.6 686.4L1082.4 682.5L1083.2 686.3L1084.0 682.2L1084.8 686.9L1085.6 683.0L1086.4 686.6L1087.2 683.5L1088.0 688.4L1088.8 683.0L1089.6 688.1L1090.4 684.3L1091.2 687.9L1092.0 684.5L1092.8 688.5L1093.6 684.3L1094.4 688.8L1095.2 684.1L1096.0 688.1L1096.8 684.4L1097.6 688.7" stroke="#0000ff" stroke-width="1.3"/>
</g>
<path d="M74.5 65.5H1229.5V273.5H74.5ZM74.5 273.5H1229.5V481.5H74.5ZM74.5 481.5H1229.5V689.5H74.5Z" fill="none" stroke="#000" stroke-width="1.1" stroke-linejoin="miter"/>
<path d="M75.50 65.50L75.50 62.70M75.50 273.50L75.50 276.30M75.50 481.50L75.50 484.30M75.50 689.50L75.50 692.30M93.50 65.50L93.50 62.70M93.50 273.50L93.50 276.30M93.50 481.50L93.50 484.30M93.50 689.50L93.50 692.30M111.50 65.50L111.50 60.64M111.50 273.50L111.50 278.36M111.50 481.50L111.50 486.36M111.50 689.50L111.50 694.36M129.50 65.50L129.50 62.70M129.50 273.50L129.50 276.30M129.50 481.50L129.50 484.30M129.50 689.50L129.50 692.30M147.50 65.50L147.50 62.70M147.50 273.50L147.50 276.30M147.50 481.50L147.50 484.30M147.50 689.50L147.50 692.30M165.50 65.50L165.50 62.70M165.50 273.50L165.50 276.30M165.50 481.50L165.50 484.30M165.50 689.50L165.50 692.30M184.50 65.50L184.50 62.70M184.50 273.50L184.50 276.30M184.50 481.50L184.50 484.30M184.50 689.50L184.50 692.30M202.50 65.50L202.50 62.70M202.50 273.50L202.50 276.30M202.50 481.50L202.50 484.30M202.50 689.50L202.50 692.30M220.50 65.50L220.50 60.64M220.50 273.50L220.50 278.36M220.50 481.50L220.50 486.36M220.50 689.50L220.50 694.36M238.50 65.50L238.50 62.70M238.50 273.50L238.50 276.30M238.50 481.50L238.50 484.30M238.50 689.50L238.50 692.30M256.50 65.50L256.50 62.70M256.50 273.50L256.50 276.30M256.50 481.50L256.50 484.30M256.50 689.50L256.50 692.30M274.50 65.50L274.50 62.70M274.50 273.50L274.50 276.30M274.50 481.50L274.50 484.30M274.50 689.50L274.50 692.30M292.50 65.50L292.50 62.70M292.50 273.50L292.50 276.30M292.50 481.50L292.50 484.30M292.50 689.50L292.50 692.30M310.50 65.50L310.50 62.70M310.50 273.50L310.50 276.30M310.50 481.50L310.50 484.30M310.50 689.50L310.50 692.30M328.50 65.50L328.50 60.64M328.50 273.50L328.50 278.36M328.50 481.50L328.50 486.36M328.50 689.50L328.50 694.36M346.50 65.50L346.50 62.70M346.50 273.50L346.50 276.30M346.50 481.50L346.50 484.30M346.50 689.50L346.50 692.30M364.50 65.50L364.50 62.70M364.50 273.50L364.50 276.30M364.50 481.50L364.50 484.30M364.50 689.50L364.50 692.30M382.50 65.50L382.50 62.70M382.50 273.50L382.50 276.30M382.50 481.50L382.50 484.30M382.50 689.50L382.50 692.30M400.50 65.50L400.50 62.70M400.50 273.50L400.50 276.30M400.50 481.50L400.50 484.30M400.50 689.50L400.50 692.30M418.50 65.50L418.50 62.70M418.50 273.50L418.50 276.30M418.50 481.50L418.50 484.30M418.50 689.50L418.50 692.30M436.50 65.50L436.50 60.64M436.50 273.50L436.50 278.36M436.50 481.50L436.50 486.36M436.50 689.50L436.50 694.36M454.50 65.50L454.50 62.70M454.50 273.50L454.50 276.30M454.50 481.50L454.50 484.30M454.50 689.50L454.50 692.30M472.50 65.50L472.50 62.70M472.50 273.50L472.50 276.30M472.50 481.50L472.50 484.30M472.50 689.50L472.50 692.30M490.50 65.50L490.50 62.70M490.50 273.50L490.50 276.30M490.50 481.50L490.50 484.30M490.50 689.50L490.50 692.30M508.50 65.50L508.50 62.70M508.50 273.50L508.50 276.30M508.50 481.50L508.50 484.30M508.50 689.50L508.50 692.30M526.50 65.50L526.50 62.70M526.50 273.50L526.50 276.30M526.50 481.50L526.50 484.30M526.50 689.50L526.50 692.30M544.50 65.50L544.50 60.64M544.50 273.50L544.50 278.36M544.50 481.50L544.50 486.36M544.50 689.50L544.50 694.36M562.50 65.50L562.50 62.70M562.50 273.50L562.50 276.30M562.50 481.50L562.50 484.30M562.50 689.50L562.50 692.30M580.50 65.50L580.50 62.70M580.50 273.50L580.50 276.30M580.50 481.50L580.50 484.30M580.50 689.50L580.50 692.30M599.50 65.50L599.50 62.70M599.50 273.50L599.50 276.30M599.50 481.50L599.50 484.30M599.50 689.50L599.50 692.30M617.50 65.50L617.50 62.70M617.50 273.50L617.50 276.30M617.50 481.50L617.50 484.30M617.50 689.50L617.50 692.30M635.50 65.50L635.50 62.70M635.50 273.50L635.50 276.30M635.50 481.50L635.50 484.30M635.50 689.50L635.50 692.30M653.50 65.50L653.50 60.64M653.50 273.50L653.50 278.36M653.50 481.50L653.50 486.36M653.50 689.50L653.50 694.36M671.50 65.50L671.50 62.70M671.50 273.50L671.50 276.30M671.50 481.50L671.50 484.30M671.50 689.50L671.50 692.30M689.50 65.50L689.50 62.70M689.50 273.50L689.50 276.30M689.50 481.50L689.50 484.30M689.50 689.50L689.50 692.30M707.50 65.50L707.50 62.70M707.50 273.50L707.50 276.30M707.50 481.50L707.50 484.30M707.50 689.50L707.50 692.30M725.50 65.50L725.50 62.70M725.50 273.50L725.50 276.30M725.50 481.50L725.50 484.30M725.50 689.50L725.50 692.30M743.50 65.50L743.50 62.70M743.50 273.50L743.50 276.30M743.50 481.50L743.50 484.30M743.50 689.50L743.50 692.30M761.50 65.50L761.50 60.64M761.50 273.50L761.50 278.36M761.50 481.50L761.50 486.36M761.50 689.50L761.50 694.36M779.50 65.50L779.50 62.70M779.50 273.50L779.50 276.30M779.50 481.50L779.50 484.30M779.50 689.50L779.50 692.30M797.50 65.50L797.50 62.70M797.50 273.50L797.50 276.30M797.50 481.50L797.50 484.30M797.50 689.50L797.50 692.30M815.50 65.50L815.50 62.70M815.50 273.50L815.50 276.30M815.50 481.50L815.50 484.30M815.50 689.50L815.50 692.30M833.50 65.50L833.50 62.70M833.50 273.50L833.50 276.30M833.50 481.50L833.50 484.30M833.50 689.50L833.50 692.30M851.50 65.50L851.50 62.70M851.50 273.50L851.50 276.30M851.50 481.50L851.50 484.30M851.50 689.50L851.50 692.30M869.50 65.50L869.50 60.64M869.50 273.50L869.50 278.36M869.50 481.50L869.50 486.36M869.50 689.50L869.50 694.36M887.50 65.50L887.50 62.70M887.50 273.50L887.50 276.30M887.50 481.50L887.50 484.30M887.50 689.50L887.50 692.30M905.50 65.50L905.50 62.70M905.50 273.50L905.50 276.30M905.50 481.50L905.50 484.30M905.50 689.50L905.50 692.30M923.50 65.50L923.50 62.70M923.50 273.50L923.50 276.30M923.50 481.50L923.50 484.30M923.50 689.50L923.50 692.30M941.50 65.50L941.50 62.70M941.50 273.50L941.50 276.30M941.50 481.50L941.50 484.30M941.50 689.50L941.50 692.30M959.50 65.50L959.50 62.70M959.50 273.50L959.50 276.30M959.50 481.50L959.50 484.30M959.50 689.50L959.50 692.30M977.50 65.50L977.50 60.64M977.50 273.50L977.50 278.36M977.50 481.50L977.50 486.36M977.50 689.50L977.50 694.36M995.50 65.50L995.50 62.70M995.50 273.50L995.50 276.30M995.50 481.50L995.50 484.30M995.50 689.50L995.50 692.30M1014.50 65.50L1014.50 62.70M1014.50 273.50L1014.50 276.30M1014.50 481.50L1014.50 484.30M1014.50 689.50L1014.50 692.30M1032.50 65.50L1032.50 62.70M1032.50 273.50L1032.50 276.30M1032.50 481.50L1032.50 484.30M1032.50 689.50L1032.50 692.30M1050.50 65.50L1050.50 62.70M1050.50 273.50L1050.50 276.30M1050.50 481.50L1050.50 484.30M1050.50 689.50L1050.50 692.30M1068.50 65.50L1068.50 62.70M1068.50 273.50L1068.50 276.30M1068.50 481.50L1068.50 484.30M1068.50 689.50L1068.50 692.30M1086.50 65.50L1086.50 60.64M1086.50 273.50L1086.50 278.36M1086.50 481.50L1086.50 486.36M1086.50 689.50L1086.50 694.36M1104.50 65.50L1104.50 62.70M1104.50 273.50L1104.50 276.30M1104.50 481.50L1104.50 484.30M1104.50 689.50L1104.50 692.30M1122.50 65.50L1122.50 62.70M1122.50 273.50L1122.50 276.30M1122.50 481.50L1122.50 484.30M1122.50 689.50L1122.50 692.30M1140.50 65.50L1140.50 62.70M1140.50 273.50L1140.50 276.30M1140.50 481.50L1140.50 484.30M1140.50 689.50L1140.50 692.30M1158.50 65.50L1158.50 62.70M1158.50 273.50L1158.50 276.30M1158.50 481.50L1158.50 484.30M1158.50 689.50L1158.50 692.30M1176.50 65.50L1176.50 62.70M1176.50 273.50L1176.50 276.30M1176.50 481.50L1176.50 484.30M1176.50 689.50L1176.50 692.30M1194.50 65.50L1194.50 60.64M1194.50 273.50L1194.50 278.36M1194.50 481.50L1194.50 486.36M1194.50 689.50L1194.50 694.36M1212.50 65.50L1212.50 62.70M1212.50 273.50L1212.50 276.30M1212.50 481.50L1212.50 484.30M1212.50 689.50L1212.50 692.30M1230.50 65.50L1230.50 62.70M1230.50 273.50L1230.50 276.30M1230.50 481.50L1230.50 484.30M1230.50 689.50L1230.50 692.30M74.50 65.50L69.64 65.50M74.50 273.50L69.64 273.50M74.50 70.50L69.64 70.50M74.50 278.50L69.64 278.50M74.50 74.50L69.64 74.50M74.50 282.50L69.64 282.50M74.50 79.50L69.64 79.50M74.50 286.50L69.64 286.50M74.50 83.50L69.64 83.50M74.50 291.50L69.64 291.50M74.50 87.50L69.64 87.50M74.50 295.50L69.64 295.50M74.50 92.50L69.64 92.50M74.50 300.50L69.64 300.50M74.50 96.50L69.64 96.50M74.50 304.50L69.64 304.50M74.50 101.50L69.64 101.50M74.50 308.50L69.64 308.50M74.50 105.50L69.64 105.50M74.50 313.50L69.64 313.50M74.50 109.50L69.64 109.50M74.50 317.50L69.64 317.50M74.50 114.50L69.64 114.50M74.50 322.50L69.64 322.50M74.50 118.50L69.64 118.50M74.50 326.50L69.64 326.50M74.50 123.50L69.64 123.50M74.50 331.50L69.64 331.50M74.50 127.50L69.64 127.50M74.50 335.50L69.64 335.50M74.50 132.50L69.64 132.50M74.50 339.50L69.64 339.50M74.50 136.50L69.64 136.50M74.50 344.50L69.64 344.50M74.50 140.50L69.64 140.50M74.50 348.50L69.64 348.50M74.50 145.50L69.64 145.50M74.50 353.50L69.64 353.50M74.50 149.50L69.64 149.50M74.50 357.50L69.64 357.50M74.50 154.50L69.64 154.50M74.50 362.50L69.64 362.50M74.50 158.50L69.64 158.50M74.50 366.50L69.64 366.50M74.50 163.50L69.64 163.50M74.50 370.50L69.64 370.50M74.50 167.50L69.64 167.50M74.50 375.50L69.64 375.50M74.50 171.50L69.64 171.50M74.50 379.50L69.64 379.50M74.50 176.50L69.64 176.50M74.50 384.50L69.64 384.50M74.50 180.50L69.64 180.50M74.50 388.50L69.64 388.50M74.50 185.50L69.64 185.50M74.50 392.50L69.64 392.50M74.50 189.50L69.64 189.50M74.50 397.50L69.64 397.50M74.50 193.50L69.64 193.50M74.50 401.50L69.64 401.50M74.50 198.50L69.64 198.50M74.50 406.50L69.64 406.50M74.50 202.50L69.64 202.50M74.50 410.50L69.64 410.50M74.50 207.50L69.64 207.50M74.50 415.50L69.64 415.50M74.50 211.50L69.64 211.50M74.50 419.50L69.64 419.50M74.50 216.50L69.64 216.50M74.50 423.50L69.64 423.50M74.50 220.50L69.64 220.50M74.50 428.50L69.64 428.50M74.50 224.50L69.64 224.50M74.50 432.50L69.64 432.50M74.50 229.50L69.64 229.50M74.50 437.50L69.64 437.50M74.50 233.50L69.64 233.50M74.50 441.50L69.64 441.50M74.50 238.50L69.64 238.50M74.50 446.50L69.64 446.50M74.50 242.50L69.64 242.50M74.50 450.50L69.64 450.50M74.50 247.50L69.64 247.50M74.50 454.50L69.64 454.50M74.50 251.50L69.64 251.50M74.50 459.50L69.64 459.50M74.50 255.50L69.64 255.50M74.50 463.50L69.64 463.50M74.50 260.50L69.64 260.50M74.50 468.50L69.64 468.50M74.50 264.50L69.64 264.50M74.50 472.50L69.64 472.50M74.50 269.50L69.64 269.50M74.50 476.50L69.64 476.50M74.50 273.50L69.64 273.50M74.50 481.50L69.64 481.50M74.50 679.50L69.64 679.50M74.50 629.50L69.64 629.50M74.50 580.50L69.64 580.50M74.50 530.50L69.64 530.50" fill="none" stroke="#000" stroke-width="1.1"/>
<g font-size="13.89"><text transform="translate(110.59,57.00) scale(0.962,1)" text-anchor="middle">00:00</text><text transform="translate(110.59,708.90) scale(0.962,1)" text-anchor="middle">00:00</text><text transform="translate(218.88,57.00) scale(0.962,1)" text-anchor="middle">01:00</text><text transform="translate(218.88,708.90) scale(0.962,1)" text-anchor="middle">01:00</text><text transform="translate(327.16,57.00) scale(0.962,1)" text-anchor="middle">02:00</text><text transform="translate(327.16,708.90) scale(0.962,1)" text-anchor="middle">02:00</text><text transform="translate(435.44,57.00) scale(0.962,1)" text-anchor="middle">03:00</text><text transform="translate(435.44,708.90) scale(0.962,1)" text-anchor="middle">03:00</text><text transform="translate(543.72,57.00) scale(0.962,1)" text-anchor="middle">04:00</text><text transform="translate(543.72,708.90) scale(0.962,1)" text-anchor="middle">04:00</text><text transform="translate(652.00,57.00) scale(0.962,1)" text-anchor="middle">05:00</text><text transform="translate(652.00,708.90) scale(0.962,1)" text-anchor="middle">05:00</text><text transform="translate(760.28,57.00) scale(0.962,1)" text-anchor="middle">06:00</text><text transform="translate(760.28,708.90) scale(0.962,1)" text-anchor="middle">06:00</text><text transform="translate(868.56,57.00) scale(0.962,1)" text-anchor="middle">07:00</text><text transform="translate(868.56,708.90) scale(0.962,1)" text-anchor="middle">07:00</text><text transform="translate(976.84,57.00) scale(0.962,1)" text-anchor="middle">08:00</text><text transform="translate(976.84,708.90) scale(0.962,1)" text-anchor="middle">08:00</text><text transform="translate(1085.12,57.00) scale(0.962,1)" text-anchor="middle">09:00</text><text transform="translate(1085.12,708.90) scale(0.962,1)" text-anchor="middle">09:00</text><text transform="translate(1193.41,57.00) scale(0.962,1)" text-anchor="middle">10:00</text><text transform="translate(1193.41,708.90) scale(0.962,1)" text-anchor="middle">10:00</text><text transform="translate(64.30,70.65) scale(0.962,1)" text-anchor="end">24.0</text><text transform="translate(64.30,92.76) scale(0.962,1)" text-anchor="end">20.0</text><text transform="translate(64.30,300.59) scale(0.962,1)" text-anchor="end">20.0</text><text transform="translate(64.30,114.87) scale(0.962,1)" text-anchor="end">16.0</text><text transform="translate(64.30,322.70) scale(0.962,1)" text-anchor="end">16.0</text><text transform="translate(64.30,141.40) scale(0.962,1)" text-anchor="end">12.0</text><text transform="translate(64.30,349.23) scale(0.962,1)" text-anchor="end">12.0</text><text transform="translate(64.30,163.51) scale(0.962,1)" text-anchor="end">10.0</text><text transform="translate(64.30,371.34) scale(0.962,1)" text-anchor="end">10.0</text><text transform="translate(64.30,185.62) scale(0.962,1)" text-anchor="end">8.0</text><text transform="translate(64.30,393.45) scale(0.962,1)" text-anchor="end">8.0</text><text transform="translate(64.30,212.15) scale(0.962,1)" text-anchor="end">6.0</text><text transform="translate(64.30,419.98) scale(0.962,1)" text-anchor="end">6.0</text><text transform="translate(64.30,234.26) scale(0.962,1)" text-anchor="end">5.0</text><text transform="translate(64.30,442.09) scale(0.962,1)" text-anchor="end">5.0</text><text transform="translate(64.30,256.37) scale(0.962,1)" text-anchor="end">4.0</text><text transform="translate(64.30,464.20) scale(0.962,1)" text-anchor="end">4.0</text><text transform="translate(64.30,278.48) scale(0.962,1)" text-anchor="end">3.0</text><text transform="translate(64.30,486.31) scale(0.962,1)" text-anchor="end">3.0</text><text transform="translate(64.30,684.15) scale(0.962,1)" text-anchor="end">0</text><text transform="translate(64.30,634.66) scale(0.962,1)" text-anchor="end">500</text><text transform="translate(64.30,585.18) scale(0.962,1)" text-anchor="end">1000</text><text transform="translate(64.30,535.69) scale(0.962,1)" text-anchor="end">1500</text></g>
<g font-size="17.8" text-anchor="middle">
<text transform="translate(22.7,170.0) rotate(-90) scale(0.9345,1)">Frequency, GHz</text>
<text transform="translate(22.7,378.0) rotate(-90) scale(0.9345,1)">Frequency, GHz</text>
<text transform="translate(18.7,586.0) rotate(-90) scale(0.9345,1)">Stokes I,V plot, sfu</text>
<text transform="translate(1312,170.3) rotate(-90) scale(0.9345,1)">Stokes I map, sfu</text>
<text transform="translate(1315,378.3) rotate(-90) scale(0.9345,1)">Stokes V map, sfu</text>
<text transform="translate(675,27.8) scale(0.9345,1)" xml:space="preserve">2025-11-03  SOLARSPEL  3-24 GHz spectropolarimeter data   Stokes I,V   48 frequency channels   (calibration preliminary)</text>
</g>
<text x="1233.2" y="708.9" font-size="15.28">UTC Time</text>
<defs><linearGradient id="cb1" x1="0" y1="0" x2="0" y2="1"><stop offset="0.0000" stop-color="#7a0403"/><stop offset="0.0312" stop-color="#920b01"/><stop offset="0.0625" stop-color="#a91601"/><stop offset="0.0938" stop-color="#be2102"/><stop offset="0.1250" stop-color="#d02f05"/><stop offset="0.1562" stop-color="#df3f08"/><stop offset="0.1875" stop-color="#eb500e"/><stop offset="0.2188" stop-color="#f46617"/><stop offset="0.2500" stop-color="#fb7e21"/><stop offset="0.2812" stop-color="#fe962b"/><stop offset="0.3125" stop-color="#fdac34"/><stop offset="0.3438" stop-color="#f8be39"/><stop offset="0.3750" stop-color="#eecf3a"/><stop offset="0.4062" stop-color="#dfdf37"/><stop offset="0.4375" stop-color="#cdec34"/><stop offset="0.4688" stop-color="#b9f635"/><stop offset="0.5000" stop-color="#a4fc3c"/><stop offset="0.5312" stop-color="#8bff4b"/><stop offset="0.5625" stop-color="#6dfe62"/><stop offset="0.5938" stop-color="#4ef97d"/><stop offset="0.6250" stop-color="#32f298"/><stop offset="0.6562" stop-color="#1fe9af"/><stop offset="0.6875" stop-color="#18ddc2"/><stop offset="0.7188" stop-color="#1ccdd8"/><stop offset="0.7500" stop-color="#28bceb"/><stop offset="0.7812" stop-color="#37a8fa"/><stop offset="0.8125" stop-color="#4294ff"/><stop offset="0.8438" stop-color="#4680f6"/><stop offset="0.8750" stop-color="#466be3"/><stop offset="0.9062" stop-color="#4456c7"/><stop offset="0.9375" stop-color="#4040a2"/><stop offset="0.9688" stop-color="#392a73"/><stop offset="1.0000" stop-color="#30123b"/></linearGradient></defs>
<rect x="1239.4" y="76.5" width="9.2" height="187" fill="url(#cb1)" stroke="#000" stroke-width="1.1"/>
<path d="M1248.60 264.50L1253.46 264.50M1248.60 217.50L1253.46 217.50M1248.60 170.50L1253.46 170.50M1248.60 123.50L1253.46 123.50M1248.60 77.50L1253.46 77.50" stroke="#000" stroke-width="1.1"/>
<g font-size="13.89"><text transform="translate(1258.70,268.20) scale(0.962,1)" text-anchor="start">0</text><text transform="translate(1258.70,221.45) scale(0.962,1)" text-anchor="start">500</text><text transform="translate(1258.70,174.70) scale(0.962,1)" text-anchor="start">1000</text><text transform="translate(1258.70,127.95) scale(0.962,1)" text-anchor="start">1500</text><text transform="translate(1258.70,81.20) scale(0.962,1)" text-anchor="start">2000</text></g>
<defs><linearGradient id="cb2" x1="0" y1="0" x2="0" y2="1"><stop offset="0.0000" stop-color="#800000"/><stop offset="0.0312" stop-color="#8e0000"/><stop offset="0.0625" stop-color="#9e0000"/><stop offset="0.0938" stop-color="#ae0000"/><stop offset="0.1250" stop-color="#be0000"/><stop offset="0.1562" stop-color="#ce0000"/><stop offset="0.1875" stop-color="#de0000"/><stop offset="0.2188" stop-color="#ee0000"/><stop offset="0.2500" stop-color="#fe0000"/><stop offset="0.2812" stop-color="#ff1d1d"/><stop offset="0.3125" stop-color="#ff3d3d"/><stop offset="0.3438" stop-color="#ff5d5d"/><stop offset="0.3750" stop-color="#ff7d7d"/><stop offset="0.4062" stop-color="#ff9d9d"/><stop offset="0.4375" stop-color="#ffbdbd"/><stop offset="0.4688" stop-color="#ffdddd"/><stop offset="0.5000" stop-color="#fffdfd"/><stop offset="0.5312" stop-color="#e1e1ff"/><stop offset="0.5625" stop-color="#c1c1ff"/><stop offset="0.5938" stop-color="#a1a1ff"/><stop offset="0.6250" stop-color="#8181ff"/><stop offset="0.6562" stop-color="#6161ff"/><stop offset="0.6875" stop-color="#4141ff"/><stop offset="0.7188" stop-color="#2121ff"/><stop offset="0.7500" stop-color="#0101ff"/><stop offset="0.7812" stop-color="#0000e9"/><stop offset="0.8125" stop-color="#0000d3"/><stop offset="0.8438" stop-color="#0000bc"/><stop offset="0.8750" stop-color="#0000a6"/><stop offset="0.9062" stop-color="#000090"/><stop offset="0.9375" stop-color="#000079"/><stop offset="0.9688" stop-color="#000063"/><stop offset="1.0000" stop-color="#00004c"/></linearGradient></defs>
<rect x="1239.4" y="283.5" width="9.2" height="187" fill="url(#cb2)" stroke="#000" stroke-width="1.1"/>
<path d="M1248.60 471.50L1253.46 471.50M1248.60 424.50L1253.46 424.50M1248.60 377.50L1253.46 377.50M1248.60 330.50L1253.46 330.50M1248.60 284.50L1253.46 284.50" stroke="#000" stroke-width="1.1"/>
<g font-size="13.89"><text transform="translate(1258.70,475.20) scale(0.962,1)" text-anchor="start">−200</text><text transform="translate(1258.70,428.45) scale(0.962,1)" text-anchor="start">−100</text><text transform="translate(1258.70,381.70) scale(0.962,1)" text-anchor="start">0</text><text transform="translate(1258.70,334.95) scale(0.962,1)" text-anchor="start">100</text><text transform="translate(1258.70,288.20) scale(0.962,1)" text-anchor="start">200</text></g>
<rect x="1234.5" y="487.9" width="110" height="175.6" rx="2.5" fill="#fff" fill-opacity="0.8" stroke="#ccc" stroke-width="1.1"/>
<g font-size="12.5"><circle cx="1251.7" cy="498.85" r="3.9" fill="#0000ff"/><text x="1274" y="502.45">19.69 GHz</text><circle cx="1251.7" cy="518.08" r="3.9" fill="#0020bf"/><text x="1274" y="521.68">15.69 GHz</text><circle cx="1251.7" cy="537.31" r="3.9" fill="#004080"/><text x="1274" y="540.91">11.83 GHz</text><circle cx="1251.7" cy="556.54" r="3.9" fill="#006040"/><text x="1274" y="560.14">9.83 GHz</text><circle cx="1251.7" cy="575.77" r="3.9" fill="#008000"/><text x="1274" y="579.37">7.83 GHz</text><circle cx="1251.7" cy="595.00" r="3.9" fill="#406000"/><text x="1274" y="598.60">5.90 GHz</text><circle cx="1251.7" cy="614.23" r="3.9" fill="#804000"/><text x="1274" y="617.83">4.90 GHz</text><circle cx="1251.7" cy="633.46" r="3.9" fill="#bf2000"/><text x="1274" y="637.06">3.90 GHz</text><circle cx="1251.7" cy="652.69" r="3.9" fill="#ff0000"/><text x="1274" y="656.29">3.00 GHz</text></g>
</svg>
</body></html>
